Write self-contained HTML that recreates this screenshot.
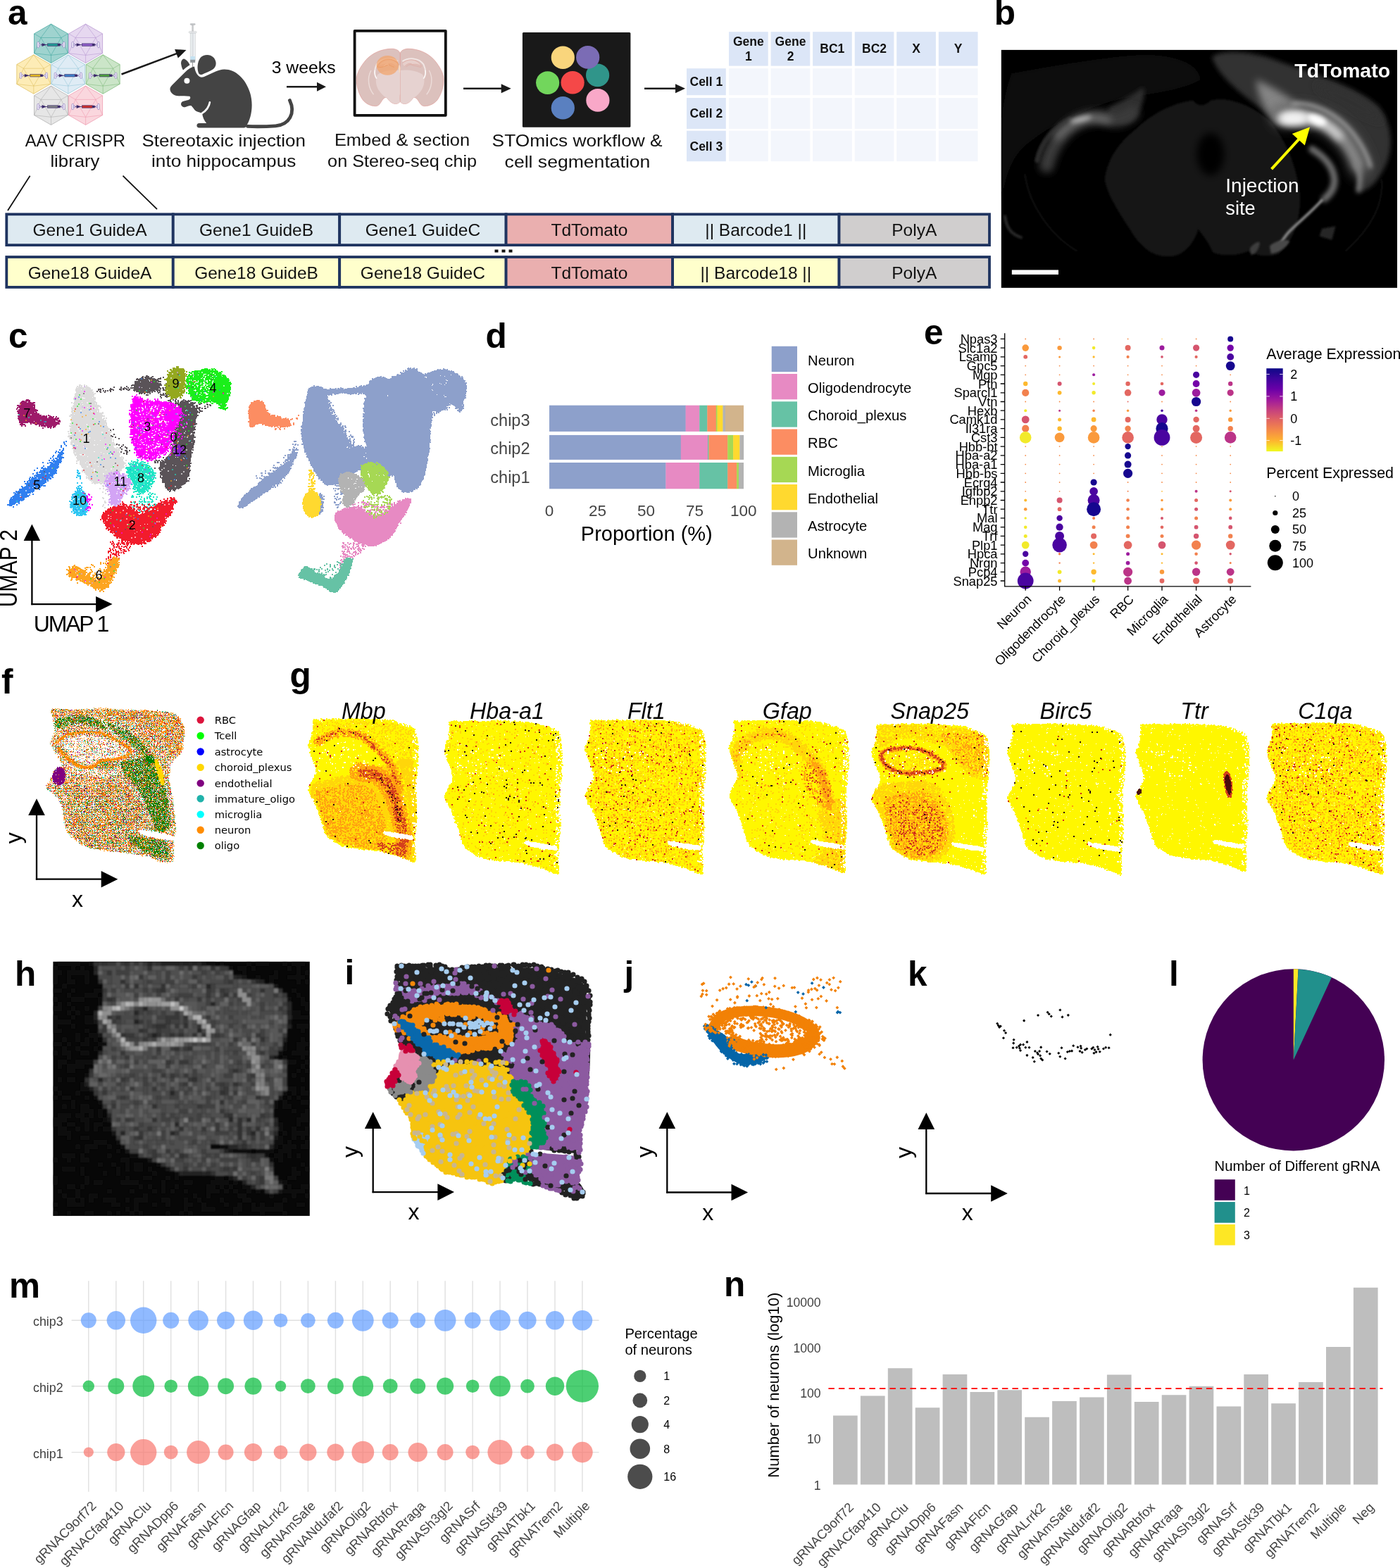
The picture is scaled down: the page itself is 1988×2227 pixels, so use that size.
<!DOCTYPE html>
<html lang="en"><head><meta charset="utf-8"><title>Figure</title>
<style>
html,body{margin:0;padding:0;background:#fff}
svg{display:block;font-family:"Liberation Sans",sans-serif}
</style></head><body>
<svg xmlns="http://www.w3.org/2000/svg" width="1988" height="2227" viewBox="0 0 1988 2227">
<rect width="1988" height="2227" fill="#fff"/>
<g id="pa">
<text x="11" y="35" font-size="49.5" font-weight="bold">a</text>
<g stroke="#3aa39b" stroke-width="0.7" fill="none" stroke-linejoin="round"><path d="M72.5 34.1 L96.5 47.9 L96.5 75.6 L72.5 89.5 L48.5 75.7 L48.5 47.9 Z" fill="#9fd3cf"/><path d="M72.5 34.1L58.1 53.5M72.5 34.1L86.9 53.5M58.1 53.5L86.9 53.5M58.1 53.5L72.5 78.4M86.9 53.5L72.5 78.4M48.5 47.9L58.1 53.5M48.5 75.7L58.1 53.5M48.5 75.7L72.5 78.4M72.5 89.5L72.5 78.4M96.5 75.6L72.5 78.4M96.5 75.6L86.9 53.5M96.5 47.9L86.9 53.5" opacity="0.75"/></g><g><path d="M55.5 63.6H89.5" stroke="#3b2a6b" stroke-width="0.8"/><rect x="52.9" y="59.4" width="2.6" height="8.4" rx="1.3" fill="#f4f0fa" stroke="#8f7cc0" stroke-width="0.7"/><rect x="55.4" y="62.3" width="2.2" height="2.6" fill="#f4f0fa" stroke="#8f7cc0" stroke-width="0.6"/><rect x="89.5" y="59.4" width="2.6" height="8.4" rx="1.3" fill="#f4f0fa" stroke="#8f7cc0" stroke-width="0.7"/><rect x="87.4" y="62.3" width="2.2" height="2.6" fill="#f4f0fa" stroke="#8f7cc0" stroke-width="0.6"/><path d="M59.5 61.2L66 63.6L59.5 66Z" fill="#3b2a6b"/><rect x="67.5" y="61.9" width="14.5" height="3.4" fill="#1f9a94" stroke="#3b2a6b" stroke-width="0.6"/><rect x="82" y="61.8" width="3.6" height="3.6" rx="0.5" fill="#3b2a6b"/></g>
<g stroke="#b391cf" stroke-width="0.7" fill="none" stroke-linejoin="round"><path d="M121.6 34.1 L145.6 47.9 L145.6 75.6 L121.6 89.5 L97.6 75.7 L97.6 47.9 Z" fill="#e6d8f0"/><path d="M121.6 34.1L107.2 53.5M121.6 34.1L136 53.5M107.2 53.5L136 53.5M107.2 53.5L121.6 78.4M136 53.5L121.6 78.4M97.6 47.9L107.2 53.5M97.6 75.7L107.2 53.5M97.6 75.7L121.6 78.4M121.6 89.5L121.6 78.4M145.6 75.6L121.6 78.4M145.6 75.6L136 53.5M145.6 47.9L136 53.5" opacity="0.75"/></g><g><path d="M104.6 63.6H138.6" stroke="#3b2a6b" stroke-width="0.8"/><rect x="102" y="59.4" width="2.6" height="8.4" rx="1.3" fill="#f4f0fa" stroke="#8f7cc0" stroke-width="0.7"/><rect x="104.5" y="62.3" width="2.2" height="2.6" fill="#f4f0fa" stroke="#8f7cc0" stroke-width="0.6"/><rect x="138.6" y="59.4" width="2.6" height="8.4" rx="1.3" fill="#f4f0fa" stroke="#8f7cc0" stroke-width="0.7"/><rect x="136.5" y="62.3" width="2.2" height="2.6" fill="#f4f0fa" stroke="#8f7cc0" stroke-width="0.6"/><path d="M108.6 61.2L115.1 63.6L108.6 66Z" fill="#3b2a6b"/><rect x="116.6" y="61.9" width="14.5" height="3.4" fill="#8c5cc4" stroke="#3b2a6b" stroke-width="0.6"/><rect x="131.1" y="61.8" width="3.6" height="3.6" rx="0.5" fill="#3b2a6b"/></g>
<g stroke="#dcbc58" stroke-width="0.7" fill="none" stroke-linejoin="round"><path d="M47.8 77.8 L71.8 91.6 L71.8 119.3 L47.8 133.2 L23.8 119.4 L23.8 91.6 Z" fill="#fdecb6"/><path d="M47.8 77.8L33.4 97.2M47.8 77.8L62.2 97.2M33.4 97.2L62.2 97.2M33.4 97.2L47.8 122.1M62.2 97.2L47.8 122.1M23.8 91.6L33.4 97.2M23.8 119.4L33.4 97.2M23.8 119.4L47.8 122.1M47.8 133.2L47.8 122.1M71.8 119.3L47.8 122.1M71.8 119.3L62.2 97.2M71.8 91.6L62.2 97.2" opacity="0.75"/></g><g><path d="M30.8 107.3H64.8" stroke="#3b2a6b" stroke-width="0.8"/><rect x="28.2" y="103.1" width="2.6" height="8.4" rx="1.3" fill="#f4f0fa" stroke="#8f7cc0" stroke-width="0.7"/><rect x="30.7" y="106" width="2.2" height="2.6" fill="#f4f0fa" stroke="#8f7cc0" stroke-width="0.6"/><rect x="64.8" y="103.1" width="2.6" height="8.4" rx="1.3" fill="#f4f0fa" stroke="#8f7cc0" stroke-width="0.7"/><rect x="62.7" y="106" width="2.2" height="2.6" fill="#f4f0fa" stroke="#8f7cc0" stroke-width="0.6"/><path d="M34.8 104.9L41.3 107.3L34.8 109.7Z" fill="#3b2a6b"/><rect x="42.8" y="105.6" width="14.5" height="3.4" fill="#e3b722" stroke="#3b2a6b" stroke-width="0.6"/><rect x="57.3" y="105.5" width="3.6" height="3.6" rx="0.5" fill="#3b2a6b"/></g>
<g stroke="#8fc3d6" stroke-width="0.7" fill="none" stroke-linejoin="round"><path d="M96.8 77.8 L120.8 91.6 L120.8 119.3 L96.8 133.2 L72.8 119.4 L72.8 91.6 Z" fill="#dfecf5"/><path d="M96.8 77.8L82.4 97.2M96.8 77.8L111.2 97.2M82.4 97.2L111.2 97.2M82.4 97.2L96.8 122.1M111.2 97.2L96.8 122.1M72.8 91.6L82.4 97.2M72.8 119.4L82.4 97.2M72.8 119.4L96.8 122.1M96.8 133.2L96.8 122.1M120.8 119.3L96.8 122.1M120.8 119.3L111.2 97.2M120.8 91.6L111.2 97.2" opacity="0.75"/></g><g><path d="M79.8 107.3H113.8" stroke="#3b2a6b" stroke-width="0.8"/><rect x="77.2" y="103.1" width="2.6" height="8.4" rx="1.3" fill="#f4f0fa" stroke="#8f7cc0" stroke-width="0.7"/><rect x="79.7" y="106" width="2.2" height="2.6" fill="#f4f0fa" stroke="#8f7cc0" stroke-width="0.6"/><rect x="113.8" y="103.1" width="2.6" height="8.4" rx="1.3" fill="#f4f0fa" stroke="#8f7cc0" stroke-width="0.7"/><rect x="111.7" y="106" width="2.2" height="2.6" fill="#f4f0fa" stroke="#8f7cc0" stroke-width="0.6"/><path d="M83.8 104.9L90.3 107.3L83.8 109.7Z" fill="#3b2a6b"/><rect x="91.8" y="105.6" width="14.5" height="3.4" fill="#3f7fc6" stroke="#3b2a6b" stroke-width="0.6"/><rect x="106.3" y="105.5" width="3.6" height="3.6" rx="0.5" fill="#3b2a6b"/></g>
<g stroke="#79b774" stroke-width="0.7" fill="none" stroke-linejoin="round"><path d="M146.2 77.8 L170.2 91.6 L170.2 119.3 L146.2 133.2 L122.2 119.4 L122.2 91.6 Z" fill="#cbe5c8"/><path d="M146.2 77.8L131.8 97.2M146.2 77.8L160.6 97.2M131.8 97.2L160.6 97.2M131.8 97.2L146.2 122.1M160.6 97.2L146.2 122.1M122.2 91.6L131.8 97.2M122.2 119.4L131.8 97.2M122.2 119.4L146.2 122.1M146.2 133.2L146.2 122.1M170.2 119.3L146.2 122.1M170.2 119.3L160.6 97.2M170.2 91.6L160.6 97.2" opacity="0.75"/></g><g><path d="M129.2 107.3H163.2" stroke="#3b2a6b" stroke-width="0.8"/><rect x="126.6" y="103.1" width="2.6" height="8.4" rx="1.3" fill="#f4f0fa" stroke="#8f7cc0" stroke-width="0.7"/><rect x="129.1" y="106" width="2.2" height="2.6" fill="#f4f0fa" stroke="#8f7cc0" stroke-width="0.6"/><rect x="163.2" y="103.1" width="2.6" height="8.4" rx="1.3" fill="#f4f0fa" stroke="#8f7cc0" stroke-width="0.7"/><rect x="161.1" y="106" width="2.2" height="2.6" fill="#f4f0fa" stroke="#8f7cc0" stroke-width="0.6"/><path d="M133.2 104.9L139.7 107.3L133.2 109.7Z" fill="#3b2a6b"/><rect x="141.2" y="105.6" width="14.5" height="3.4" fill="#4e9e3d" stroke="#3b2a6b" stroke-width="0.6"/><rect x="155.7" y="105.5" width="3.6" height="3.6" rx="0.5" fill="#3b2a6b"/></g>
<g stroke="#a9a9a9" stroke-width="0.7" fill="none" stroke-linejoin="round"><path d="M72.5 122 L96.5 135.8 L96.5 163.5 L72.5 177.4 L48.5 163.6 L48.5 135.8 Z" fill="#e6e6e6"/><path d="M72.5 122L58.1 141.4M72.5 122L86.9 141.4M58.1 141.4L86.9 141.4M58.1 141.4L72.5 166.3M86.9 141.4L72.5 166.3M48.5 135.8L58.1 141.4M48.5 163.6L58.1 141.4M48.5 163.6L72.5 166.3M72.5 177.4L72.5 166.3M96.5 163.5L72.5 166.3M96.5 163.5L86.9 141.4M96.5 135.8L86.9 141.4" opacity="0.75"/></g><g><path d="M55.5 151.5H89.5" stroke="#3b2a6b" stroke-width="0.8"/><rect x="52.9" y="147.3" width="2.6" height="8.4" rx="1.3" fill="#f4f0fa" stroke="#8f7cc0" stroke-width="0.7"/><rect x="55.4" y="150.2" width="2.2" height="2.6" fill="#f4f0fa" stroke="#8f7cc0" stroke-width="0.6"/><rect x="89.5" y="147.3" width="2.6" height="8.4" rx="1.3" fill="#f4f0fa" stroke="#8f7cc0" stroke-width="0.7"/><rect x="87.4" y="150.2" width="2.2" height="2.6" fill="#f4f0fa" stroke="#8f7cc0" stroke-width="0.6"/><path d="M59.5 149.1L66 151.5L59.5 153.9Z" fill="#3b2a6b"/><rect x="67.5" y="149.8" width="14.5" height="3.4" fill="#7d7d86" stroke="#3b2a6b" stroke-width="0.6"/><rect x="82" y="149.7" width="3.6" height="3.6" rx="0.5" fill="#3b2a6b"/></g>
<g stroke="#ee94aa" stroke-width="0.7" fill="none" stroke-linejoin="round"><path d="M121.6 122 L145.6 135.8 L145.6 163.5 L121.6 177.4 L97.6 163.6 L97.6 135.8 Z" fill="#fad7de"/><path d="M121.6 122L107.2 141.4M121.6 122L136 141.4M107.2 141.4L136 141.4M107.2 141.4L121.6 166.3M136 141.4L121.6 166.3M97.6 135.8L107.2 141.4M97.6 163.6L107.2 141.4M97.6 163.6L121.6 166.3M121.6 177.4L121.6 166.3M145.6 163.5L121.6 166.3M145.6 163.5L136 141.4M145.6 135.8L136 141.4" opacity="0.75"/></g><g><path d="M104.6 151.5H138.6" stroke="#3b2a6b" stroke-width="0.8"/><rect x="102" y="147.3" width="2.6" height="8.4" rx="1.3" fill="#f4f0fa" stroke="#8f7cc0" stroke-width="0.7"/><rect x="104.5" y="150.2" width="2.2" height="2.6" fill="#f4f0fa" stroke="#8f7cc0" stroke-width="0.6"/><rect x="138.6" y="147.3" width="2.6" height="8.4" rx="1.3" fill="#f4f0fa" stroke="#8f7cc0" stroke-width="0.7"/><rect x="136.5" y="150.2" width="2.2" height="2.6" fill="#f4f0fa" stroke="#8f7cc0" stroke-width="0.6"/><path d="M108.6 149.1L115.1 151.5L108.6 153.9Z" fill="#3b2a6b"/><rect x="116.6" y="149.8" width="14.5" height="3.4" fill="#c9302f" stroke="#3b2a6b" stroke-width="0.6"/><rect x="131.1" y="149.7" width="3.6" height="3.6" rx="0.5" fill="#3b2a6b"/></g>
<line x1="172.5" y1="105.5" x2="251.4" y2="75.9" stroke="#1a1a1a" stroke-width="2.6"/><path d="M264.5 71L252.8 82.6L248.1 69.9Z" fill="#1a1a1a"/>
<g transform="translate(220 20) scale(0.142857)"><g><line x1="375" y1="470" x2="375" y2="600" stroke="#6a6a6a" stroke-width="5"/><rect x="351" y="94" width="50" height="14" rx="6" fill="#c4c6c8" stroke="#9a9c9e" stroke-width="2"/><rect x="369" y="106" width="13" height="76" fill="#c9cbcd" stroke="#a2a4a6" stroke-width="2"/><rect x="337" y="172" width="77" height="17" rx="8" fill="#eef0f1" stroke="#a8aaac" stroke-width="2.5"/><rect x="351" y="189" width="49" height="272" fill="#eef2f4" stroke="#aab0b4" stroke-width="3"/><rect x="369" y="189" width="13" height="230" fill="#dfe3e6" stroke="#b8bcc0" stroke-width="1.5"/><rect x="353" y="420" width="45" height="36" fill="#c4e2f2"/><rect x="351" y="454" width="49" height="28" fill="#8e9498"/></g><path d="M150 745 C150 728 165 712 182 695 L300 578 C330 548 360 528 392 522 C398 560 412 602 442 622 C455 630 470 630 485 625 L600 573 C630 560 660 550 690 550 C800 550 900 640 945 780 C978 885 968 1025 905 1118 C900 1126 895 1130 885 1130 L440 1130 C408 1130 408 1085 440 1085 L512 1085 C490 1060 474 1022 470 988 C455 978 430 978 408 965 C390 952 380 930 362 912 C345 905 325 920 298 926 C268 926 250 900 264 878 C278 862 310 862 335 852 C352 845 358 828 345 818 C300 815 255 818 215 812 C180 805 150 775 150 745 Z" fill="#444444"/><path d="M545 878 C538 920 505 962 470 985" fill="none" stroke="#fff" stroke-width="19" stroke-linecap="round"/><path d="M262 505 C254 472 268 446 290 444 C316 454 336 480 347 506 C322 522 298 540 281 556 C270 542 265 522 262 505 Z" fill="#444444"/><path d="M433 585 C418 540 420 478 452 434 C484 398 552 394 587 436 C617 476 611 522 581 546 C550 566 502 586 470 600 C450 606 438 600 433 585 Z" fill="#444444"/><path d="M920 1116 C1010 1120 1110 1118 1200 1112 C1335 1100 1400 985 1340 858" fill="none" stroke="#444444" stroke-width="34" stroke-linecap="round"/><circle cx="318" cy="663" r="28" fill="#fff"/></g>
<text x="385.7" y="104.3" font-size="24.5" textLength="90.9" lengthAdjust="spacingAndGlyphs">3 weeks</text>
<line x1="407" y1="123.2" x2="451" y2="123.2" stroke="#1a1a1a" stroke-width="2.4"/><path d="M463 123.2L450 129.7L450 116.7Z" fill="#1a1a1a"/>
<rect x="503.6" y="43.8" width="129.2" height="120" fill="#fff" stroke="#111" stroke-width="3.8" stroke-linejoin="round"/>
<g transform="translate(480 20) scale(0.142857)"><g id="bh"><path d="M617 392 C625 360 660 345 700 345 C800 345 900 390 960 460 C1010 520 1050 590 1050 650 C1050 720 1030 790 990 850 C960 890 910 915 860 915 C830 915 815 890 800 865 C785 840 770 825 750 830 C735 850 715 880 680 890 C655 897 630 890 617 870 Z" fill="#dcc1bd" stroke="#e09a94" stroke-width="4.5"/><path d="M617 560 C680 550 780 560 840 600 C870 640 860 720 820 770 C790 810 760 830 750 832 C735 850 715 880 680 890 C655 897 630 890 617 870 Z" fill="#e6d2d0"/><path d="M640 470 C700 430 800 430 850 500 C880 560 870 620 850 640" fill="none" stroke="#f1e6e4" stroke-width="14"/><path d="M905 560 C950 640 930 740 880 800" fill="none" stroke="#ecdcd9" stroke-width="10"/><path d="M640 490 C690 440 790 440 830 520 C800 500 770 495 740 500 C710 480 680 500 660 520" fill="#e7cfcb" stroke="#e0968c" stroke-width="3"/><path d="M675 525 C700 505 720 495 745 510 C770 515 800 520 825 530" fill="none" stroke="#e0968c" stroke-width="3"/><path d="M850 640 C865 620 875 590 870 560" fill="none" stroke="#fff" stroke-width="7" stroke-linecap="round"/></g><use href="#bh" transform="translate(1234 0) scale(-1 1)"/><path d="M617 800 C612 830 612 850 617 870" stroke="#e3a9a2" stroke-width="3" fill="none"/><ellipse cx="492" cy="510" rx="110" ry="97" fill="#f2a46a" fill-opacity="0.72"/><path d="M392 525 C410 470 470 440 520 450 C560 455 590 480 610 510" fill="none" stroke="#e88a4a" stroke-width="3.5" opacity="0.8"/><path d="M392 525 C440 540 480 510 500 500 C520 515 545 525 560 528" fill="none" stroke="#e88a4a" stroke-width="3.5" opacity="0.8"/><path d="M455 520 C470 500 490 495 505 505" fill="none" stroke="#f6c6a0" stroke-width="5" opacity="0.9"/><path d="M612 500 C600 520 600 560 612 590 C620 560 625 530 612 500Z" fill="#f8dcc0"/></g>
<line x1="658" y1="125.7" x2="712.7" y2="125.7" stroke="#1a1a1a" stroke-width="2.4"/><path d="M725.7 125.7L711.7 132.2L711.7 119.2Z" fill="#1a1a1a"/>
<rect x="741.9" y="46" width="153.5" height="134.7" rx="1.5" fill="#191919"/>
<ellipse cx="799.3" cy="81.7" rx="16.6" ry="16.3" fill="#f9d57c"/>
<ellipse cx="848.6" cy="106.9" rx="16.6" ry="16.3" fill="#30958a"/>
<ellipse cx="834.7" cy="81.4" rx="16.6" ry="16.3" fill="#7b6cb5"/>
<ellipse cx="777.6" cy="117.6" rx="16.6" ry="16.3" fill="#72d65c"/>
<ellipse cx="813.1" cy="117.3" rx="16.6" ry="16.3" fill="#f54848"/>
<ellipse cx="848.9" cy="142.4" rx="16.6" ry="16.3" fill="#f9a8c8"/>
<ellipse cx="799.3" cy="153.3" rx="16.6" ry="16.3" fill="#5a80c0"/>
<line x1="915" y1="125.7" x2="960" y2="125.7" stroke="#1a1a1a" stroke-width="2.4"/><path d="M973 125.7L959 132.2L959 119.2Z" fill="#1a1a1a"/>
<rect x="1035" y="45.2" width="55.7" height="48.4" fill="#dce6f7"/>
<rect x="1094.6" y="45.2" width="55.7" height="48.4" fill="#dce6f7"/>
<rect x="1154.1" y="45.2" width="55.7" height="48.4" fill="#dce6f7"/>
<rect x="1213.7" y="45.2" width="55.7" height="48.4" fill="#dce6f7"/>
<rect x="1273.2" y="45.2" width="55.7" height="48.4" fill="#dce6f7"/>
<rect x="1332.8" y="45.2" width="55.7" height="48.4" fill="#dce6f7"/>
<rect x="975" y="97.2" width="55.8" height="38" fill="#dce6f7"/>
<rect x="1035" y="97.2" width="55.7" height="38" fill="#f3f6fc"/>
<rect x="1094.6" y="97.2" width="55.7" height="38" fill="#f3f6fc"/>
<rect x="1154.1" y="97.2" width="55.7" height="38" fill="#f3f6fc"/>
<rect x="1213.7" y="97.2" width="55.7" height="38" fill="#f3f6fc"/>
<rect x="1273.2" y="97.2" width="55.7" height="38" fill="#f3f6fc"/>
<rect x="1332.8" y="97.2" width="55.7" height="38" fill="#f3f6fc"/>
<rect x="975" y="139" width="55.8" height="44" fill="#dce6f7"/>
<rect x="1035" y="139" width="55.7" height="44" fill="#f3f6fc"/>
<rect x="1094.6" y="139" width="55.7" height="44" fill="#f3f6fc"/>
<rect x="1154.1" y="139" width="55.7" height="44" fill="#f3f6fc"/>
<rect x="1213.7" y="139" width="55.7" height="44" fill="#f3f6fc"/>
<rect x="1273.2" y="139" width="55.7" height="44" fill="#f3f6fc"/>
<rect x="1332.8" y="139" width="55.7" height="44" fill="#f3f6fc"/>
<rect x="975" y="185.7" width="55.8" height="43.5" fill="#dce6f7"/>
<rect x="1035" y="185.7" width="55.7" height="43.5" fill="#f3f6fc"/>
<rect x="1094.6" y="185.7" width="55.7" height="43.5" fill="#f3f6fc"/>
<rect x="1154.1" y="185.7" width="55.7" height="43.5" fill="#f3f6fc"/>
<rect x="1213.7" y="185.7" width="55.7" height="43.5" fill="#f3f6fc"/>
<rect x="1273.2" y="185.7" width="55.7" height="43.5" fill="#f3f6fc"/>
<rect x="1332.8" y="185.7" width="55.7" height="43.5" fill="#f3f6fc"/>
<g font-weight="bold" font-size="17.5" text-anchor="middle" fill="#111">
<text x="1062.9" y="65" font-size="17.5">Gene</text>
<text x="1062.9" y="86" font-size="17.5">1</text>
<text x="1122.5" y="65" font-size="17.5">Gene</text>
<text x="1122.5" y="86" font-size="17.5">2</text>
<text x="1181.8" y="75" font-size="17.5">BC1</text>
<text x="1241.6" y="75" font-size="17.5">BC2</text>
<text x="1301" y="75" font-size="17.5">X</text>
<text x="1360.6" y="75" font-size="17.5">Y</text>
</g>
<g font-weight="bold" font-size="17.5" fill="#111">
<text x="979.5" y="122" font-size="17.5">Cell 1</text>
<text x="979.5" y="167" font-size="17.5">Cell 2</text>
<text x="979.5" y="213.5" font-size="17.5">Cell 3</text>
</g>
<text x="35.7" y="207.6" font-size="24.5" fill="#111" textLength="142.3" lengthAdjust="spacingAndGlyphs">AAV CRISPR</text>
<text x="71.4" y="237.3" font-size="24.5" fill="#111" textLength="70.1" lengthAdjust="spacingAndGlyphs">library</text>
<text x="201.4" y="207.6" font-size="24.5" fill="#111" textLength="232.6" lengthAdjust="spacingAndGlyphs">Stereotaxic injection</text>
<text x="215" y="237.3" font-size="24.5" fill="#111" textLength="205.3" lengthAdjust="spacingAndGlyphs">into hippocampus</text>
<text x="474.9" y="207.3" font-size="24.5" fill="#111" textLength="192.2" lengthAdjust="spacingAndGlyphs">Embed &amp; section</text>
<text x="465.1" y="237.3" font-size="24.5" fill="#111" textLength="212" lengthAdjust="spacingAndGlyphs">on Stereo-seq chip</text>
<text x="698.6" y="207.6" font-size="24.5" fill="#111" textLength="242" lengthAdjust="spacingAndGlyphs">STOmics workflow &amp;</text>
<text x="716.6" y="237.6" font-size="24.5" fill="#111" textLength="206.8" lengthAdjust="spacingAndGlyphs">cell segmentation</text>
<path d="M42.6 249.7L11 299.1M174.5 249.7L223 297.2" stroke="#111" stroke-width="1.8"/>
<rect x="9.3" y="304.3" width="236.4" height="43.8" fill="#deeaf1" stroke="#1f3460" stroke-width="3.8"/>
<text x="127.5" y="334.8" font-size="24.5" text-anchor="middle" fill="#111">Gene1 GuideA</text>
<rect x="245.8" y="304.3" width="236.4" height="43.8" fill="#deeaf1" stroke="#1f3460" stroke-width="3.8"/>
<text x="364" y="334.8" font-size="24.5" text-anchor="middle" fill="#111">Gene1 GuideB</text>
<rect x="482.2" y="304.3" width="236.4" height="43.8" fill="#deeaf1" stroke="#1f3460" stroke-width="3.8"/>
<text x="600.4" y="334.8" font-size="24.5" text-anchor="middle" fill="#111">Gene1 GuideC</text>
<rect x="718.6" y="304.3" width="236.5" height="43.8" fill="#eaafaf" stroke="#1f3460" stroke-width="3.8"/>
<text x="836.9" y="334.8" font-size="24.5" text-anchor="middle" fill="#111">TdTomato</text>
<rect x="955.1" y="304.3" width="236.5" height="43.8" fill="#deeaf1" stroke="#1f3460" stroke-width="3.8"/>
<text x="1073.3" y="334.8" font-size="24.5" text-anchor="middle" fill="#111">|| Barcode1 ||</text>
<rect x="1191.5" y="304.3" width="213.5" height="43.8" fill="#d0cece" stroke="#1f3460" stroke-width="3.8"/>
<text x="1298.3" y="334.8" font-size="24.5" text-anchor="middle" fill="#111">PolyA</text>
<rect x="9.3" y="365" width="236.4" height="42.9" fill="#ffffcc" stroke="#1f3460" stroke-width="3.8"/>
<text x="127.5" y="395.5" font-size="24.5" text-anchor="middle" fill="#111">Gene18 GuideA</text>
<rect x="245.8" y="365" width="236.4" height="42.9" fill="#ffffcc" stroke="#1f3460" stroke-width="3.8"/>
<text x="364" y="395.5" font-size="24.5" text-anchor="middle" fill="#111">Gene18 GuideB</text>
<rect x="482.2" y="365" width="236.4" height="42.9" fill="#ffffcc" stroke="#1f3460" stroke-width="3.8"/>
<text x="600.4" y="395.5" font-size="24.5" text-anchor="middle" fill="#111">Gene18 GuideC</text>
<rect x="718.6" y="365" width="236.5" height="42.9" fill="#eaafaf" stroke="#1f3460" stroke-width="3.8"/>
<text x="836.9" y="395.5" font-size="24.5" text-anchor="middle" fill="#111">TdTomato</text>
<rect x="955.1" y="365" width="236.5" height="42.9" fill="#ffffcc" stroke="#1f3460" stroke-width="3.8"/>
<text x="1073.3" y="395.5" font-size="24.5" text-anchor="middle" fill="#111">|| Barcode18 ||</text>
<rect x="1191.5" y="365" width="213.5" height="42.9" fill="#d0cece" stroke="#1f3460" stroke-width="3.8"/>
<text x="1298.3" y="395.5" font-size="24.5" text-anchor="middle" fill="#111">PolyA</text>
<path d="M702.5 354.4h5v4h-5zM712.5 354.4h5v4h-5zM722.5 354.4h5v4h-5z" fill="#111"/>
</g>
<g id="pb">
<text x="1411.7" y="34.9" font-size="49.5" font-weight="bold">b</text>
<defs><clipPath id="bclip"><rect x="1421.8" y="70.9" width="562.2" height="337.9"/></clipPath>
<filter id="b5" filterUnits="userSpaceOnUse" x="-1500" y="-800" width="5000" height="3600"><feGaussianBlur stdDeviation="5"/></filter>
<filter id="b10" filterUnits="userSpaceOnUse" x="-1500" y="-800" width="5000" height="3600"><feGaussianBlur stdDeviation="10"/></filter>
<filter id="b18" filterUnits="userSpaceOnUse" x="-1500" y="-800" width="5000" height="3600"><feGaussianBlur stdDeviation="18"/></filter>
<filter id="b30" filterUnits="userSpaceOnUse" x="-1500" y="-800" width="5000" height="3600"><feGaussianBlur stdDeviation="30"/></filter>
<filter id="b50" filterUnits="userSpaceOnUse" x="-1500" y="-800" width="5000" height="3600"><feGaussianBlur stdDeviation="50"/></filter>
<filter id="bnoise" filterUnits="userSpaceOnUse" x="1421" y="70" width="564" height="340"><feTurbulence type="fractalNoise" baseFrequency="0.35" numOctaves="2" seed="7" result="n"/><feColorMatrix in="n" type="matrix" values="0 0 0 0 1  0 0 0 0 1  0 0 0 0 1  1.6 0 0 0 -0.55" result="m"/><feComposite in="m" in2="SourceGraphic" operator="in"/></filter>
</defs>
<rect x="1421.8" y="70.9" width="562.2" height="337.9" fill="#000"/>
<g clip-path="url(#bclip)">
<g transform="translate(1560 60) scale(0.17658)">
<path d="M300 700 C400 600 600 480 760 470 C800 520 850 520 900 470 C1050 430 1250 520 1380 640 C1500 780 1600 1000 1620 1250 C1620 1450 1560 1600 1450 1700 C1380 1730 1280 1720 1200 1680 C1100 1720 1000 1720 920 1690 C880 1600 840 1560 800 1500 C780 1600 700 1700 600 1720 C480 1740 350 1680 250 1500 C150 1350 60 1200 50 1100 C80 900 200 780 300 700 Z" fill="#141414" filter="url(#b10)"/>
<ellipse cx="900" cy="900" rx="110" ry="170" fill="#060606" filter="url(#b30)"/>
<path d="M-700 250 C-400 200 0 120 350 100 C600 100 800 160 820 300 C700 380 400 420 200 450 C0 500 -300 600 -550 800 C-700 900 -760 1100 -780 1300 C-820 1000 -800 500 -700 250Z" fill="#0c0c0c" filter="url(#b18)"/>
</g>
<g transform="translate(1420 60) scale(0.17658)">
<path d="M880 520 C960 480 1080 420 1150 360 C1180 450 1120 580 1050 640 C980 660 900 640 860 620Z" fill="#2e2e2e" filter="url(#b18)"/>
<path d="M375 990 C400 860 480 740 580 670 C680 600 800 590 900 620 C960 630 1020 600 1060 570" fill="none" stroke="#3a3a3a" stroke-width="120" stroke-linecap="round" filter="url(#b30)"/>
<path d="M300 950 C330 800 440 680 560 620" fill="none" stroke="#2a2a2a" stroke-width="40" stroke-linecap="round" filter="url(#b10)"/>
<path d="M460 760 C530 680 620 630 700 612 C760 602 820 612 870 630" fill="none" stroke="#747474" stroke-width="46" stroke-linecap="round" filter="url(#b30)"/>
<ellipse cx="650" cy="620" rx="90" ry="20" transform="rotate(-14 650 620)" fill="#b4b4b4" filter="url(#b18)"/>
<path d="M200 1060 C230 1300 400 1550 620 1680" fill="none" stroke="#1c1c1c" stroke-width="8" filter="url(#b5)"/>
<path d="M40 1400 C50 1480 80 1540 170 1570" fill="none" stroke="#2c2c2c" stroke-width="22" stroke-linecap="round" filter="url(#b10)"/>
</g>
<g transform="translate(1690 60) scale(0.17655)">
<path d="M175 120 C260 50 520 70 760 170 C1000 250 1350 360 1520 520 C1640 680 1640 900 1540 1050 C1480 1150 1420 1200 1360 1200 C1380 1000 1250 800 1050 700 C900 720 780 700 700 640 C520 480 250 330 175 120Z" fill="#323232" filter="url(#b18)"/>
<path d="M1000 330 C1250 380 1450 480 1560 640 C1500 650 1400 600 1250 520 C1150 470 1050 430 1000 330Z" fill="#303030" filter="url(#b30)"/>
<path d="M530 300 C660 360 790 430 880 520 C840 610 740 650 670 625 C590 540 540 420 530 300Z" fill="#858585" filter="url(#b30)"/>
<path d="M740 600 C860 570 1000 590 1120 660 C1240 740 1330 860 1370 1010" fill="none" stroke="#5a5a5a" stroke-width="160" stroke-linecap="round" filter="url(#b50)"/>
<path d="M720 610 C850 580 990 600 1110 670 C1220 740 1300 850 1350 990" fill="none" stroke="#8c8c8c" stroke-width="75" stroke-linecap="round" filter="url(#b30)"/>
<path d="M760 610 C880 585 1000 610 1090 665 C1140 695 1170 725 1200 760" fill="none" stroke="#dcdcdc" stroke-width="60" stroke-linecap="round" filter="url(#b30)"/>
<ellipse cx="830" cy="615" rx="120" ry="55" fill="#f4f4f4" filter="url(#b30)"/>
<ellipse cx="1020" cy="625" rx="80" ry="38" transform="rotate(22 1020 625)" fill="#fff" filter="url(#b18)"/>
<path d="M830 495 C1000 480 1180 580 1300 720 C1380 820 1430 920 1450 1000" fill="none" stroke="#a0a0a0" stroke-width="30" stroke-linecap="round" filter="url(#b18)"/>
<path d="M1340 980 C1370 1050 1370 1120 1355 1190" fill="none" stroke="#808080" stroke-width="40" stroke-linecap="round" filter="url(#b18)"/>
<path d="M820 760 C950 760 1080 860 1180 1000" fill="none" stroke="#000" stroke-opacity="0.55" stroke-width="70" filter="url(#b30)"/>
<path d="M980 860 C1080 920 1150 1000 1160 1100 C1165 1170 1130 1220 1080 1260" fill="none" stroke="#6c6c6c" stroke-width="55" stroke-linecap="round" filter="url(#b18)"/>
<path d="M1060 1270 C980 1360 880 1440 800 1520 C760 1560 740 1600 700 1660" fill="none" stroke="#8a8a8a" stroke-width="22" stroke-linecap="round" filter="url(#b10)"/>
<path d="M640 1640 C680 1600 760 1580 800 1600 C780 1650 700 1700 650 1700Z" fill="#4a4a4a" filter="url(#b10)"/>
<path d="M480 1660 C510 1620 540 1600 560 1610 C560 1660 520 1710 490 1710Z" fill="#3c3c3c" filter="url(#b10)"/>
<path d="M1040 1560 L1060 1500 L1170 1480 L1140 1590 Z" fill="#262626" filter="url(#b10)"/>
<path d="M1540 1100 C1560 1300 1450 1500 1250 1680" fill="none" stroke="#181818" stroke-width="8" filter="url(#b5)"/>
</g>
</g>
<text x="1838.3" y="110.3" font-size="27" font-weight="bold" fill="#fff" textLength="135.9" lengthAdjust="spacingAndGlyphs">TdTomato</text>
<text x="1740.3" y="272.7" font-size="27" fill="#fff" textLength="104.2" lengthAdjust="spacingAndGlyphs">Injection</text>
<text x="1740.3" y="304.5" font-size="27" fill="#fff" textLength="42.4" lengthAdjust="spacingAndGlyphs">site</text>
<line x1="1805.6" y1="240.1" x2="1844.5" y2="197.6" stroke="#ffff00" stroke-width="3.9"/><path d="M1860 180.6L1852.8 206.6L1834.8 190Z" fill="#ffff00"/>
<rect x="1436.8" y="383.4" width="66.2" height="6.5" fill="#fff"/>
</g>
<g id="pc">
<text x="12" y="494.3" font-size="49.5" font-weight="bold">c</text>
<defs>
<filter id="c1_1" filterUnits="userSpaceOnUse" x="0" y="510" width="340" height="350" color-interpolation-filters="sRGB"><feGaussianBlur in="SourceAlpha" stdDeviation="2.4" result="b"/><feTurbulence type="fractalNoise" baseFrequency="1.73" numOctaves="1" seed="2" result="n"/><feComposite in="b" in2="n" operator="arithmetic" k1="0" k2="1" k3="-1.4" k4="0.6699999999999999"/><feComponentTransfer result="t"><feFuncA type="discrete" tableValues="0 1"/></feComponentTransfer><feOffset in="t" dx="1" dy="0" result="o1"/><feMerge result="m1"><feMergeNode in="t"/><feMergeNode in="o1"/></feMerge><feOffset in="m1" dx="0" dy="1" result="o2"/><feMerge result="t"><feMergeNode in="m1"/><feMergeNode in="o2"/></feMerge><feFlood flood-color="#dddcdc"/><feComposite in2="t" operator="in"/></filter>
<filter id="c1_5" filterUnits="userSpaceOnUse" x="0" y="510" width="340" height="350" color-interpolation-filters="sRGB"><feGaussianBlur in="SourceAlpha" stdDeviation="2.4" result="b"/><feTurbulence type="fractalNoise" baseFrequency="1.73" numOctaves="1" seed="6" result="n"/><feComposite in="b" in2="n" operator="arithmetic" k1="0" k2="1" k3="-1.4" k4="0.6699999999999999"/><feComponentTransfer result="t"><feFuncA type="discrete" tableValues="0 1"/></feComponentTransfer><feOffset in="t" dx="1" dy="0" result="o1"/><feMerge result="m1"><feMergeNode in="t"/><feMergeNode in="o1"/></feMerge><feOffset in="m1" dx="0" dy="1" result="o2"/><feMerge result="t"><feMergeNode in="m1"/><feMergeNode in="o2"/></feMerge><feFlood flood-color="#2f7ff0"/><feComposite in2="t" operator="in"/></filter>
<filter id="c1_7" filterUnits="userSpaceOnUse" x="0" y="510" width="340" height="350" color-interpolation-filters="sRGB"><feGaussianBlur in="SourceAlpha" stdDeviation="2.4" result="b"/><feTurbulence type="fractalNoise" baseFrequency="1.73" numOctaves="1" seed="8" result="n"/><feComposite in="b" in2="n" operator="arithmetic" k1="0" k2="1" k3="-1.4" k4="0.6699999999999999"/><feComponentTransfer result="t"><feFuncA type="discrete" tableValues="0 1"/></feComponentTransfer><feOffset in="t" dx="1" dy="0" result="o1"/><feMerge result="m1"><feMergeNode in="t"/><feMergeNode in="o1"/></feMerge><feOffset in="m1" dx="0" dy="1" result="o2"/><feMerge result="t"><feMergeNode in="m1"/><feMergeNode in="o2"/></feMerge><feFlood flood-color="#9e1a6a"/><feComposite in2="t" operator="in"/></filter>
<filter id="c1_10" filterUnits="userSpaceOnUse" x="0" y="510" width="340" height="350" color-interpolation-filters="sRGB"><feGaussianBlur in="SourceAlpha" stdDeviation="2.4" result="b"/><feTurbulence type="fractalNoise" baseFrequency="1.73" numOctaves="1" seed="11" result="n"/><feComposite in="b" in2="n" operator="arithmetic" k1="0" k2="1" k3="-1.4" k4="0.6699999999999999"/><feComponentTransfer result="t"><feFuncA type="discrete" tableValues="0 1"/></feComponentTransfer><feOffset in="t" dx="1" dy="0" result="o1"/><feMerge result="m1"><feMergeNode in="t"/><feMergeNode in="o1"/></feMerge><feOffset in="m1" dx="0" dy="1" result="o2"/><feMerge result="t"><feMergeNode in="m1"/><feMergeNode in="o2"/></feMerge><feFlood flood-color="#2ec6f2"/><feComposite in2="t" operator="in"/></filter>
<filter id="c1_3" filterUnits="userSpaceOnUse" x="0" y="510" width="340" height="350" color-interpolation-filters="sRGB"><feGaussianBlur in="SourceAlpha" stdDeviation="2.4" result="b"/><feTurbulence type="fractalNoise" baseFrequency="1.73" numOctaves="1" seed="4" result="n"/><feComposite in="b" in2="n" operator="arithmetic" k1="0" k2="1" k3="-1.4" k4="0.6699999999999999"/><feComponentTransfer result="t"><feFuncA type="discrete" tableValues="0 1"/></feComponentTransfer><feOffset in="t" dx="1" dy="0" result="o1"/><feMerge result="m1"><feMergeNode in="t"/><feMergeNode in="o1"/></feMerge><feOffset in="m1" dx="0" dy="1" result="o2"/><feMerge result="t"><feMergeNode in="m1"/><feMergeNode in="o2"/></feMerge><feFlood flood-color="#ff00ff"/><feComposite in2="t" operator="in"/></filter>
<filter id="c1_0" filterUnits="userSpaceOnUse" x="0" y="510" width="340" height="350" color-interpolation-filters="sRGB"><feGaussianBlur in="SourceAlpha" stdDeviation="2.4" result="b"/><feTurbulence type="fractalNoise" baseFrequency="1.73" numOctaves="1" seed="1" result="n"/><feComposite in="b" in2="n" operator="arithmetic" k1="0" k2="1" k3="-1.4" k4="0.6699999999999999"/><feComponentTransfer result="t"><feFuncA type="discrete" tableValues="0 1"/></feComponentTransfer><feOffset in="t" dx="1" dy="0" result="o1"/><feMerge result="m1"><feMergeNode in="t"/><feMergeNode in="o1"/></feMerge><feOffset in="m1" dx="0" dy="1" result="o2"/><feMerge result="t"><feMergeNode in="m1"/><feMergeNode in="o2"/></feMerge><feFlood flood-color="#5a5358"/><feComposite in2="t" operator="in"/></filter>
<filter id="c1_9" filterUnits="userSpaceOnUse" x="0" y="510" width="340" height="350" color-interpolation-filters="sRGB"><feGaussianBlur in="SourceAlpha" stdDeviation="2.4" result="b"/><feTurbulence type="fractalNoise" baseFrequency="1.73" numOctaves="1" seed="10" result="n"/><feComposite in="b" in2="n" operator="arithmetic" k1="0" k2="1" k3="-1.4" k4="0.6699999999999999"/><feComponentTransfer result="t"><feFuncA type="discrete" tableValues="0 1"/></feComponentTransfer><feOffset in="t" dx="1" dy="0" result="o1"/><feMerge result="m1"><feMergeNode in="t"/><feMergeNode in="o1"/></feMerge><feOffset in="m1" dx="0" dy="1" result="o2"/><feMerge result="t"><feMergeNode in="m1"/><feMergeNode in="o2"/></feMerge><feFlood flood-color="#94a81f"/><feComposite in2="t" operator="in"/></filter>
<filter id="c1_4" filterUnits="userSpaceOnUse" x="0" y="510" width="340" height="350" color-interpolation-filters="sRGB"><feGaussianBlur in="SourceAlpha" stdDeviation="2.4" result="b"/><feTurbulence type="fractalNoise" baseFrequency="1.73" numOctaves="1" seed="5" result="n"/><feComposite in="b" in2="n" operator="arithmetic" k1="0" k2="1" k3="-1.4" k4="0.6699999999999999"/><feComponentTransfer result="t"><feFuncA type="discrete" tableValues="0 1"/></feComponentTransfer><feOffset in="t" dx="1" dy="0" result="o1"/><feMerge result="m1"><feMergeNode in="t"/><feMergeNode in="o1"/></feMerge><feOffset in="m1" dx="0" dy="1" result="o2"/><feMerge result="t"><feMergeNode in="m1"/><feMergeNode in="o2"/></feMerge><feFlood flood-color="#1aef1a"/><feComposite in2="t" operator="in"/></filter>
<filter id="c1_12" filterUnits="userSpaceOnUse" x="0" y="510" width="340" height="350" color-interpolation-filters="sRGB"><feGaussianBlur in="SourceAlpha" stdDeviation="2.4" result="b"/><feTurbulence type="fractalNoise" baseFrequency="1.73" numOctaves="1" seed="13" result="n"/><feComposite in="b" in2="n" operator="arithmetic" k1="0" k2="1" k3="-1.4" k4="0.6699999999999999"/><feComponentTransfer result="t"><feFuncA type="discrete" tableValues="0 1"/></feComponentTransfer><feOffset in="t" dx="1" dy="0" result="o1"/><feMerge result="m1"><feMergeNode in="t"/><feMergeNode in="o1"/></feMerge><feOffset in="m1" dx="0" dy="1" result="o2"/><feMerge result="t"><feMergeNode in="m1"/><feMergeNode in="o2"/></feMerge><feFlood flood-color="#8a22c8"/><feComposite in2="t" operator="in"/></filter>
<filter id="c1_8" filterUnits="userSpaceOnUse" x="0" y="510" width="340" height="350" color-interpolation-filters="sRGB"><feGaussianBlur in="SourceAlpha" stdDeviation="2.4" result="b"/><feTurbulence type="fractalNoise" baseFrequency="1.73" numOctaves="1" seed="9" result="n"/><feComposite in="b" in2="n" operator="arithmetic" k1="0" k2="1" k3="-1.4" k4="0.6699999999999999"/><feComponentTransfer result="t"><feFuncA type="discrete" tableValues="0 1"/></feComponentTransfer><feOffset in="t" dx="1" dy="0" result="o1"/><feMerge result="m1"><feMergeNode in="t"/><feMergeNode in="o1"/></feMerge><feOffset in="m1" dx="0" dy="1" result="o2"/><feMerge result="t"><feMergeNode in="m1"/><feMergeNode in="o2"/></feMerge><feFlood flood-color="#1fe5c5"/><feComposite in2="t" operator="in"/></filter>
<filter id="c1_11" filterUnits="userSpaceOnUse" x="0" y="510" width="340" height="350" color-interpolation-filters="sRGB"><feGaussianBlur in="SourceAlpha" stdDeviation="2.4" result="b"/><feTurbulence type="fractalNoise" baseFrequency="1.73" numOctaves="1" seed="12" result="n"/><feComposite in="b" in2="n" operator="arithmetic" k1="0" k2="1" k3="-1.4" k4="0.6699999999999999"/><feComponentTransfer result="t"><feFuncA type="discrete" tableValues="0 1"/></feComponentTransfer><feOffset in="t" dx="1" dy="0" result="o1"/><feMerge result="m1"><feMergeNode in="t"/><feMergeNode in="o1"/></feMerge><feOffset in="m1" dx="0" dy="1" result="o2"/><feMerge result="t"><feMergeNode in="m1"/><feMergeNode in="o2"/></feMerge><feFlood flood-color="#d3a4f5"/><feComposite in2="t" operator="in"/></filter>
<filter id="c1_2" filterUnits="userSpaceOnUse" x="0" y="510" width="340" height="350" color-interpolation-filters="sRGB"><feGaussianBlur in="SourceAlpha" stdDeviation="2.4" result="b"/><feTurbulence type="fractalNoise" baseFrequency="1.73" numOctaves="1" seed="3" result="n"/><feComposite in="b" in2="n" operator="arithmetic" k1="0" k2="1" k3="-1.4" k4="0.6699999999999999"/><feComponentTransfer result="t"><feFuncA type="discrete" tableValues="0 1"/></feComponentTransfer><feOffset in="t" dx="1" dy="0" result="o1"/><feMerge result="m1"><feMergeNode in="t"/><feMergeNode in="o1"/></feMerge><feOffset in="m1" dx="0" dy="1" result="o2"/><feMerge result="t"><feMergeNode in="m1"/><feMergeNode in="o2"/></feMerge><feFlood flood-color="#f21c2c"/><feComposite in2="t" operator="in"/></filter>
<filter id="c1_6" filterUnits="userSpaceOnUse" x="0" y="510" width="340" height="350" color-interpolation-filters="sRGB"><feGaussianBlur in="SourceAlpha" stdDeviation="2.4" result="b"/><feTurbulence type="fractalNoise" baseFrequency="1.73" numOctaves="1" seed="7" result="n"/><feComposite in="b" in2="n" operator="arithmetic" k1="0" k2="1" k3="-1.4" k4="0.6699999999999999"/><feComponentTransfer result="t"><feFuncA type="discrete" tableValues="0 1"/></feComponentTransfer><feOffset in="t" dx="1" dy="0" result="o1"/><feMerge result="m1"><feMergeNode in="t"/><feMergeNode in="o1"/></feMerge><feOffset in="m1" dx="0" dy="1" result="o2"/><feMerge result="t"><feMergeNode in="m1"/><feMergeNode in="o2"/></feMerge><feFlood flood-color="#fda520"/><feComposite in2="t" operator="in"/></filter>
<filter id="c2_N" filterUnits="userSpaceOnUse" x="330" y="510" width="345" height="350" color-interpolation-filters="sRGB"><feGaussianBlur in="SourceAlpha" stdDeviation="1.8" result="b"/><feTurbulence type="fractalNoise" baseFrequency="1.73" numOctaves="1" seed="20" result="n"/><feComposite in="b" in2="n" operator="arithmetic" k1="0" k2="1" k3="-1.4" k4="0.6699999999999999"/><feComponentTransfer result="t"><feFuncA type="discrete" tableValues="0 1"/></feComponentTransfer><feOffset in="t" dx="1" dy="0" result="o1"/><feMerge result="m1"><feMergeNode in="t"/><feMergeNode in="o1"/></feMerge><feOffset in="m1" dx="0" dy="1" result="o2"/><feMerge result="t"><feMergeNode in="m1"/><feMergeNode in="o2"/></feMerge><feFlood flood-color="#8da0cb"/><feComposite in2="t" operator="in"/></filter>
<filter id="c2_O" filterUnits="userSpaceOnUse" x="330" y="510" width="345" height="350" color-interpolation-filters="sRGB"><feGaussianBlur in="SourceAlpha" stdDeviation="1.8" result="b"/><feTurbulence type="fractalNoise" baseFrequency="1.73" numOctaves="1" seed="21" result="n"/><feComposite in="b" in2="n" operator="arithmetic" k1="0" k2="1" k3="-1.4" k4="0.6699999999999999"/><feComponentTransfer result="t"><feFuncA type="discrete" tableValues="0 1"/></feComponentTransfer><feOffset in="t" dx="1" dy="0" result="o1"/><feMerge result="m1"><feMergeNode in="t"/><feMergeNode in="o1"/></feMerge><feOffset in="m1" dx="0" dy="1" result="o2"/><feMerge result="t"><feMergeNode in="m1"/><feMergeNode in="o2"/></feMerge><feFlood flood-color="#e78ac3"/><feComposite in2="t" operator="in"/></filter>
<filter id="c2_C" filterUnits="userSpaceOnUse" x="330" y="510" width="345" height="350" color-interpolation-filters="sRGB"><feGaussianBlur in="SourceAlpha" stdDeviation="1.8" result="b"/><feTurbulence type="fractalNoise" baseFrequency="1.73" numOctaves="1" seed="22" result="n"/><feComposite in="b" in2="n" operator="arithmetic" k1="0" k2="1" k3="-1.4" k4="0.6699999999999999"/><feComponentTransfer result="t"><feFuncA type="discrete" tableValues="0 1"/></feComponentTransfer><feOffset in="t" dx="1" dy="0" result="o1"/><feMerge result="m1"><feMergeNode in="t"/><feMergeNode in="o1"/></feMerge><feOffset in="m1" dx="0" dy="1" result="o2"/><feMerge result="t"><feMergeNode in="m1"/><feMergeNode in="o2"/></feMerge><feFlood flood-color="#66c2a5"/><feComposite in2="t" operator="in"/></filter>
<filter id="c2_R" filterUnits="userSpaceOnUse" x="330" y="510" width="345" height="350" color-interpolation-filters="sRGB"><feGaussianBlur in="SourceAlpha" stdDeviation="1.8" result="b"/><feTurbulence type="fractalNoise" baseFrequency="1.73" numOctaves="1" seed="23" result="n"/><feComposite in="b" in2="n" operator="arithmetic" k1="0" k2="1" k3="-1.4" k4="0.6699999999999999"/><feComponentTransfer result="t"><feFuncA type="discrete" tableValues="0 1"/></feComponentTransfer><feOffset in="t" dx="1" dy="0" result="o1"/><feMerge result="m1"><feMergeNode in="t"/><feMergeNode in="o1"/></feMerge><feOffset in="m1" dx="0" dy="1" result="o2"/><feMerge result="t"><feMergeNode in="m1"/><feMergeNode in="o2"/></feMerge><feFlood flood-color="#fc8d62"/><feComposite in2="t" operator="in"/></filter>
<filter id="c2_M" filterUnits="userSpaceOnUse" x="330" y="510" width="345" height="350" color-interpolation-filters="sRGB"><feGaussianBlur in="SourceAlpha" stdDeviation="1.8" result="b"/><feTurbulence type="fractalNoise" baseFrequency="1.73" numOctaves="1" seed="24" result="n"/><feComposite in="b" in2="n" operator="arithmetic" k1="0" k2="1" k3="-1.4" k4="0.6699999999999999"/><feComponentTransfer result="t"><feFuncA type="discrete" tableValues="0 1"/></feComponentTransfer><feOffset in="t" dx="1" dy="0" result="o1"/><feMerge result="m1"><feMergeNode in="t"/><feMergeNode in="o1"/></feMerge><feOffset in="m1" dx="0" dy="1" result="o2"/><feMerge result="t"><feMergeNode in="m1"/><feMergeNode in="o2"/></feMerge><feFlood flood-color="#a6d854"/><feComposite in2="t" operator="in"/></filter>
<filter id="c2_E" filterUnits="userSpaceOnUse" x="330" y="510" width="345" height="350" color-interpolation-filters="sRGB"><feGaussianBlur in="SourceAlpha" stdDeviation="1.8" result="b"/><feTurbulence type="fractalNoise" baseFrequency="1.73" numOctaves="1" seed="25" result="n"/><feComposite in="b" in2="n" operator="arithmetic" k1="0" k2="1" k3="-1.4" k4="0.6699999999999999"/><feComponentTransfer result="t"><feFuncA type="discrete" tableValues="0 1"/></feComponentTransfer><feOffset in="t" dx="1" dy="0" result="o1"/><feMerge result="m1"><feMergeNode in="t"/><feMergeNode in="o1"/></feMerge><feOffset in="m1" dx="0" dy="1" result="o2"/><feMerge result="t"><feMergeNode in="m1"/><feMergeNode in="o2"/></feMerge><feFlood flood-color="#ffd92f"/><feComposite in2="t" operator="in"/></filter>
<filter id="c2_A" filterUnits="userSpaceOnUse" x="330" y="510" width="345" height="350" color-interpolation-filters="sRGB"><feGaussianBlur in="SourceAlpha" stdDeviation="1.8" result="b"/><feTurbulence type="fractalNoise" baseFrequency="1.73" numOctaves="1" seed="26" result="n"/><feComposite in="b" in2="n" operator="arithmetic" k1="0" k2="1" k3="-1.4" k4="0.6699999999999999"/><feComponentTransfer result="t"><feFuncA type="discrete" tableValues="0 1"/></feComponentTransfer><feOffset in="t" dx="1" dy="0" result="o1"/><feMerge result="m1"><feMergeNode in="t"/><feMergeNode in="o1"/></feMerge><feOffset in="m1" dx="0" dy="1" result="o2"/><feMerge result="t"><feMergeNode in="m1"/><feMergeNode in="o2"/></feMerge><feFlood flood-color="#b3b3b3"/><feComposite in2="t" operator="in"/></filter>
</defs>
<g filter="url(#c1_1)"><path d="M110.6 549.8C113.4 546.6 118.4 548 121.6 548.5C124.8 548.9 128.2 549.8 129.8 552.6C131.4 555.3 130.3 560.1 131.2 564.9C132.1 569.8 133 575.9 135.3 581.4C137.6 586.9 142.2 592.4 144.9 597.9C147.7 603.4 149.5 608.4 151.8 614.4C154.1 620.3 156.2 628.1 158.7 633.6C161.2 639.1 164.6 642.8 166.9 647.4C169.2 651.9 172.4 657 172.4 661.1C172.4 665.2 169.9 669.8 166.9 672.1C163.9 674.4 158.2 673 154.6 674.8C150.9 676.7 148.4 681.2 144.9 683.1C141.5 684.9 137.4 686.7 134 685.8C130.5 684.9 127.5 681.7 124.3 677.6C121.1 673.5 117.9 667.3 114.7 661.1C111.5 654.9 107.6 647.4 105.1 640.5C102.6 633.6 100.3 627.9 99.6 619.9C98.9 611.9 100.1 601.1 101 592.4C101.9 583.7 103.5 574.8 105.1 567.7C106.7 560.6 107.9 553 110.6 549.8Z" fill-opacity="0.592" stroke="#000" stroke-width="7" stroke-opacity="0.308"/><path d="M129.8 555.3C131 554.6 136.5 562.4 139.5 567.7C142.4 573 144.9 580.5 147.7 586.9C150.4 593.3 152.7 599.3 155.9 606.2C159.1 613 163.3 621.7 166.9 628.1C170.6 634.5 175.6 639.6 177.9 644.6C180.2 649.7 181.6 655.1 180.7 658.4C179.7 661.6 175.6 666.6 172.4 663.8C169.2 661.1 165.1 649.7 161.4 641.9C157.8 634.1 154.1 625.4 150.4 617.1C146.8 608.9 142.4 600 139.5 592.4C136.5 584.9 134.2 578 132.6 571.8C131 565.6 128.7 556 129.8 555.3Z" fill-opacity="0.345"/><path d="M142 686.8C143.2 682.5 147 679.3 149.4 679.3C151.9 679.3 156 682.5 156.9 686.8C157.9 691.2 156.3 699.9 155.1 705.5C153.8 711.1 151.3 717.3 149.4 720.4C147.6 723.6 145.1 726.7 143.8 724.2C142.6 721.7 142.3 711.7 142 705.5C141.7 699.3 140.7 691.2 142 686.8Z" fill-opacity="0.298"/></g>
<g filter="url(#c1_5)"><path d="M11.6 714.8C12.5 712.3 15 707.7 18.7 703.6C22.4 699.6 28.6 694.8 33.6 690.5C38.6 686.3 43.9 682 48.6 678.4C53.2 674.8 57.6 671.7 61.6 669.1C65.7 666.4 70.1 663.3 72.9 662.5C75.7 661.7 78.1 662.8 78.5 664.4C78.8 666 76.9 669.2 74.7 671.9C72.5 674.5 68.8 677.1 65.4 680.3C62 683.4 58.8 687 54.2 690.9C49.5 694.9 42.7 700.1 37.4 704C32.1 707.9 26.4 712 22.4 714.5C18.4 716.9 15.3 718.5 13.5 718.6C11.6 718.6 10.7 717.3 11.6 714.8Z" fill-opacity="0.561" stroke="#000" stroke-width="7" stroke-opacity="0.308"/><path d="M71 664.4C71.3 661.6 74.7 656.6 76.6 653.2C78.5 649.8 80.3 646.3 82.2 643.8C84.1 641.4 86.2 638.6 87.8 638.2C89.4 637.9 92.1 639.2 91.9 642C91.8 644.8 88.8 651 86.9 655.1C84.9 659.1 82.4 663.8 80.3 666.3C78.3 668.8 76.3 670.3 74.7 670C73.2 669.7 70.7 667.2 71 664.4Z" fill-opacity="0.387"/><path d="M33.6 673.7C35.5 669.4 49.2 666 56 660.7C62.9 655.4 69.1 648.8 74.7 642C80.3 635.1 85.9 621.4 89.7 619.6C93.4 617.7 97.5 625.2 97.1 630.8C96.8 636.4 90.9 645.7 87.8 653.2C84.7 660.7 82.8 668.8 78.5 675.6C74.1 682.5 67.3 692.4 61.6 694.3C56 696.2 49.5 690.2 44.8 686.8C40.2 683.4 31.8 678.1 33.6 673.7Z" fill-opacity="0.252"/><path d="M166.9 549.8C168.5 548.7 175.2 547.1 177.9 547.1C180.7 547.1 183.4 548.7 183.4 549.8C183.4 551 180.4 553.3 177.9 554C175.4 554.6 170.1 554.6 168.3 554C166.5 553.3 165.3 551 166.9 549.8Z" fill-opacity="0.363"/></g>
<g filter="url(#c1_7)"><path d="M27.1 573.8C28.5 570.3 31.6 569.3 34.6 568.7C37.5 568.2 42.4 568.7 44.8 570.6C47.2 572.5 47.2 577.3 48.9 580.3C50.7 583.3 52.2 586.9 55.1 588.7C58 590.5 62.3 589.8 66.3 591.2C70.4 592.6 77.4 595.4 79.4 597.1C81.4 598.9 81.1 601 78.5 601.8C75.8 602.6 68 601.8 63.5 601.8C59 601.8 55.6 602.3 51.4 601.8C47.2 601.3 42.1 598.7 38.3 599C34.5 599.3 30.4 605.2 28.4 603.7C26.4 602.1 26.4 594.7 26.2 589.7C25.9 584.7 25.7 577.3 27.1 573.8Z" fill-opacity="0.592" stroke="#000" stroke-width="7" stroke-opacity="0.308"/><path d="M56 600.9C58.2 598.4 66 595.6 71 593.4C76 591.2 81.6 588.4 85.9 587.8C90.3 587.2 96.5 587.5 97.1 589.7C97.8 591.8 94 597.5 89.7 600.9C85.3 604.3 76.3 609 71 610.2C65.7 611.5 60.4 609.9 57.9 608.4C55.4 606.8 53.9 603.4 56 600.9Z" fill-opacity="0.277"/></g>
<g filter="url(#c1_10)"><path d="M101.8 705.5C103.2 701.8 107.3 699 110.2 698C113.2 697.1 117.4 698 119.6 699.9C121.7 701.8 122.8 705.2 123.3 709.2C123.8 713.3 123.3 720.4 122.4 724.2C121.4 727.9 120 730.6 117.7 731.6C115.4 732.7 111 732.6 108.4 730.7C105.7 728.8 102.9 724.6 101.8 720.4C100.7 716.2 100.4 709.2 101.8 705.5Z" fill-opacity="0.536" stroke="#000" stroke-width="7" stroke-opacity="0.308"/><path d="M107.4 664.4C108.9 662.8 113.2 663.8 114.9 666.3C116.6 668.8 117.4 674.7 117.7 679.3C118 684 116.4 690.5 116.8 694.3C117.1 698 121 700.5 119.6 701.8C118.2 703 110.4 704.2 108.4 701.8C106.3 699.3 107.8 691.2 107.4 686.8C107 682.5 106.1 679.3 106.1 675.6C106.1 671.9 106 666 107.4 664.4Z" fill-opacity="0.401"/></g>
<g filter="url(#c1_11)"><path d="M151.8 674.8C154.1 671.6 159.8 669.3 164.2 669.3C168.5 669.3 174.2 672.5 177.9 674.8C181.6 677.1 185.2 679.9 186.2 683.1C187.1 686.3 185.2 690.9 183.4 694.1C181.6 697.3 177.9 699.1 175.2 702.3C172.4 705.5 169.7 711.5 166.9 713.3C164.2 715.1 160.3 715.6 158.7 713.3C157.1 711 158.7 703.7 157.3 699.6C155.9 695.4 151.4 692.7 150.4 688.6C149.5 684.5 149.5 678 151.8 674.8Z" fill-opacity="0.502" stroke="#000" stroke-width="7" stroke-opacity="0.308"/><path d="M156.9 701.8C159.4 700.2 165.6 702.4 168.1 705.5C170.6 708.6 173.1 717.3 171.9 720.4C170.6 723.6 163.8 725.1 160.7 724.2C157.5 723.2 153.8 718.6 153.2 714.8C152.6 711.1 154.4 703.3 156.9 701.8Z" fill-opacity="0.321"/></g>
<g filter="url(#c1_0)"><path d="M191.6 543C192.8 540.2 196.7 537.5 199.9 536.1C203.1 534.7 207.4 534 210.9 534.7C214.3 535.4 218.7 537.7 220.5 540.2C222.3 542.7 223 547.1 221.9 549.8C220.7 552.6 216.8 555.3 213.6 556.7C210.4 558.1 206.1 558.8 202.6 558.1C199.2 557.4 194.9 555.1 193 552.6C191.2 550.1 190.5 545.7 191.6 543Z" fill-opacity="0.592" stroke="#000" stroke-width="7" stroke-opacity="0.308"/><path d="M131.2 549.8C133.7 548.5 141.7 550.1 147.7 549.8C153.6 549.6 159.6 549.1 166.9 548.5C174.2 547.8 187.1 544.6 191.6 545.7C196.2 546.9 197.6 553.5 194.4 555.3C191.2 557.2 180.2 556.2 172.4 556.7C164.6 557.2 154.3 557.8 147.7 558.1C141.1 558.3 135.3 559.5 132.6 558.1C129.8 556.7 128.7 551.2 131.2 549.8Z" fill-opacity="0.363"/><path d="M219.1 537.5C221.4 533.1 231.9 531.1 235.6 533.4C239.3 535.6 238.4 545.9 241.1 551.2C243.8 556.5 248.4 561.7 252.1 564.9C255.8 568.2 262.6 567.7 263.1 570.4C263.5 573.2 259.4 581.4 254.8 581.4C250.3 581.4 241.1 574.1 235.6 570.4C230.1 566.8 224.6 564.9 221.9 559.5C219.1 554 216.8 541.8 219.1 537.5Z" fill-opacity="0.363"/><path d="M259 571.8C261.9 568.8 269.7 572 272.7 574.6C275.7 577.1 276.6 581.7 277.1 586.9C277.6 592.2 276.2 599.5 275.7 606.2C275.3 612.8 275.3 619.9 274.3 626.8C273.4 633.6 271.2 640.5 270.2 647.4C269.3 654.2 270 661.6 268.6 668C267.2 674.4 265.1 681.2 261.7 685.8C258.3 690.4 252.3 694.3 248 695.4C243.6 696.6 238.6 695.2 235.6 692.7C232.6 690.2 231.3 684.9 230.1 680.3C229 675.8 227.4 670.3 228.7 665.2C230.1 660.2 235.6 655.4 238.4 650.1C241.1 644.8 243.6 639.6 245.2 633.6C246.8 627.7 246.4 621.3 248 614.4C249.6 607.5 253 599.5 254.8 592.4C256.7 585.3 256 574.8 259 571.8Z" fill-opacity="0.592" stroke="#000" stroke-width="7" stroke-opacity="0.308"/><path d="M265.8 564.9C267.2 562.7 276.8 566.8 282.3 567.7C287.8 568.6 295.1 568.6 298.8 570.4C302.5 572.3 305.7 576.4 304.3 578.7C302.9 581 294.7 581.9 290.5 584.2C286.4 586.5 282.3 592.9 279.6 592.4C276.8 592 276.4 586 274.1 581.4C271.8 576.8 264.5 567.2 265.8 564.9Z" fill-opacity="0.345"/><path d="M166.9 633.6C168.1 630.9 174.9 630 177.9 630.9C180.9 631.8 184.3 636.4 184.8 639.1C185.2 641.9 182.9 646 180.7 647.4C178.4 648.7 173.3 649.7 171 647.4C168.8 645.1 165.8 636.4 166.9 633.6Z" fill-opacity="0.374"/><path d="M213.6 647.4C215.5 644.2 223.7 643.2 227.4 644.6C231 646 235.6 651.5 235.6 655.6C235.6 659.7 230.6 668 227.4 669.3C224.2 670.7 218.7 667.5 216.4 663.8C214.1 660.2 211.8 650.6 213.6 647.4Z" fill-opacity="0.298"/><path d="M150.4 597.9C152 596.1 157.8 599.7 161.4 603.4C165.1 607.1 171 614.9 172.4 619.9C173.8 624.9 172 632.3 169.7 633.6C167.4 635 161.7 631.3 158.7 628.1C155.7 624.9 153.2 619.4 151.8 614.4C150.4 609.4 148.8 599.7 150.4 597.9Z" fill-opacity="0.277"/></g>
<g filter="url(#c1_3)"><path d="M188.9 562.2C192.3 559.9 200.3 566.5 206.8 567.7C213.2 568.8 220.5 567.9 227.4 569.1C234.2 570.2 243.4 571.6 248 574.6C252.5 577.5 255.3 581.7 254.8 586.9C254.4 592.2 247.5 599.5 245.2 606.2C242.9 612.8 242.9 621 241.1 626.8C239.3 632.5 237.7 636.6 234.2 640.5C230.8 644.4 225.1 648 220.5 650.1C215.9 652.2 210.9 653.3 206.8 652.9C202.6 652.4 198.7 651 195.8 647.4C192.8 643.7 190.7 637.3 188.9 630.9C187.1 624.5 185.2 617.1 184.8 608.9C184.3 600.7 185.5 589.2 186.2 581.4C186.8 573.6 185.5 564.5 188.9 562.2Z" fill-opacity="0.502" stroke="#000" stroke-width="7" stroke-opacity="0.308"/><path d="M121.4 698C122.8 695.5 127.3 697.7 128.9 699.9C130.5 702.1 130.8 707 130.8 711.1C130.8 715.1 130.1 721.1 128.9 724.2C127.7 727.3 124.7 731.3 123.3 729.8C121.9 728.2 120.8 720.1 120.5 714.8C120.2 709.5 120 700.5 121.4 698Z" fill-opacity="0.435"/><path d="M234.2 581.4C237.2 574.1 256 574.1 261.7 575.9C267.4 577.8 268.6 585.1 268.6 592.4C268.6 599.7 265.1 610.7 261.7 619.9C258.3 629 252.5 642.8 248 647.4C243.4 651.9 234.9 651.9 234.2 647.4C233.5 642.8 243.8 630.9 243.8 619.9C243.8 608.9 231.3 588.8 234.2 581.4Z" fill-opacity="0.277"/></g>
<g filter="url(#c1_9)"><path d="M239.7 537.5C241.1 533.2 242.8 528 245.2 525.8C247.6 523.6 251.6 523.4 254.1 524.4C256.7 525.5 259.6 527.5 260.3 532C261 536.4 259.6 546.3 258.3 551.2C256.9 556.1 254.8 559.8 252.1 561.5C249.3 563.2 244.3 563.2 241.8 561.5C239.3 559.8 237.3 555.2 237 551.2C236.6 547.2 238.4 541.7 239.7 537.5Z" fill-opacity="0.561" stroke="#000" stroke-width="7" stroke-opacity="0.308"/><path d="M232.9 530.6C234.2 523.3 238.8 522.4 243.8 521C248.9 519.6 259.2 519.6 263.1 522.4C267 525.1 267.2 530.8 267.2 537.5C267.2 544.1 265.6 557.2 263.1 562.2C260.6 567.2 256.7 567.2 252.1 567.7C247.5 568.2 238.8 571.1 235.6 564.9C232.4 558.8 231.5 537.9 232.9 530.6Z" fill-opacity="0.321"/></g>
<g filter="url(#c1_4)"><path d="M267.2 532C270.1 528.7 277 527.2 282.3 525.8C287.6 524.4 293.8 522.9 298.8 523.5C303.8 524 308.4 526.6 312.5 529.2C316.6 531.9 321.2 536.8 323.5 539.5C325.9 542.3 326.7 541.5 326.5 545.7C326.4 549.9 323.3 559.5 322.4 564.9C321.5 570.4 322.1 575.9 321 578.7C320 581.4 318.2 582.5 316 581.4C313.7 580.3 311.5 573.9 307.7 572.1C303.9 570.3 298 571.2 293.3 570.7C288.6 570.3 283.7 570.8 279.6 569.3C275.4 567.9 271 566.1 268.6 562.2C266.1 558.3 265 550.8 264.7 545.7C264.5 540.7 264.3 535.3 267.2 532Z" fill-opacity="0.482" stroke="#000" stroke-width="7" stroke-opacity="0.308"/><path d="M304.3 545.7C305.9 541.1 312.1 537.7 315.3 537.5C318.5 537.2 322.4 540.2 323.5 544.3C324.7 548.5 323.5 557.8 322.1 562.2C320.8 566.5 318 570 315.3 570.4C312.5 570.9 307.5 569.1 305.7 564.9C303.8 560.8 302.7 550.3 304.3 545.7Z" fill-opacity="0.592" stroke="#000" stroke-width="7" stroke-opacity="0.308"/></g>
<g filter="url(#c1_12)"><path d="M248 634.3C248.8 632.3 252.9 631.7 254.8 632.3C256.8 632.8 259.3 635.6 259.6 637.7C260 639.9 258.5 644.2 256.9 645.3C255.3 646.4 251.5 646.4 250 644.6C248.5 642.8 247.2 636.4 248 634.3Z" fill-opacity="0.536" stroke="#000" stroke-width="7" stroke-opacity="0.308"/></g>
<g filter="url(#c1_8)"><path d="M183.4 658.4C186.6 656.3 194.9 654.7 199.9 655.6C204.9 656.5 210.4 660.6 213.6 663.8C216.8 667.1 219.1 670.7 219.1 674.8C219.1 679 216.4 684.9 213.6 688.6C210.9 692.2 206.3 696.1 202.6 696.8C199 697.5 194.6 695.7 191.6 692.7C188.7 689.7 186.6 683.1 184.8 679C182.9 674.8 180.9 671.4 180.7 668C180.4 664.5 180.2 660.4 183.4 658.4Z" fill-opacity="0.502" stroke="#000" stroke-width="7" stroke-opacity="0.308"/><path d="M186.8 698C191.5 695.2 203 693 209.2 694.3C215.5 695.5 222.3 700.5 224.2 705.5C226 710.5 224.2 719.2 220.4 724.2C216.7 729.2 207.4 734.8 201.8 735.4C196.2 736 190.2 732 186.8 727.9C183.4 723.9 181.2 716.1 181.2 711.1C181.2 706.1 182.1 700.8 186.8 698Z" fill-opacity="0.321"/></g>
<g filter="url(#c1_2)"><path d="M144.8 730.7C146 727.6 151.2 724 155.1 722.3C158.9 720.6 163.5 719.8 168.1 720.4C172.8 721.1 178.4 723.9 183.1 726C187.7 728.2 190.9 733.2 196.2 733.5C201.4 733.8 209.2 730.7 214.8 727.9C220.4 725.1 225.4 720 229.8 716.7C234.1 713.4 237.8 709.5 241 708.3C244.2 707 248.5 706.6 248.8 709.2C249.1 711.9 245.4 719.2 242.9 724.2C240.3 729.2 236.6 733.8 233.5 739.1C230.4 744.4 227.9 751.3 224.2 755.9C220.4 760.6 215.8 764.3 211.1 767.1C206.4 769.9 200.8 772.4 196.2 772.7C191.5 773.1 187.7 770.9 183.1 769C178.4 767.1 172.8 764.3 168.1 761.5C163.5 758.7 158.5 755.6 155.1 752.2C151.6 748.8 149.3 744.6 147.6 741C145.9 737.4 143.5 733.8 144.8 730.7Z" fill-opacity="0.592" stroke="#000" stroke-width="7" stroke-opacity="0.308"/><path d="M168.1 714.8C169.4 711.4 180.6 709.2 186.8 709.2C193 709.2 199.3 714.5 205.5 714.8C211.7 715.1 219.2 712.7 224.2 711.1C229.2 709.5 234.1 703.9 235.4 705.5C236.6 707 236.6 715.5 231.6 720.4C226.7 725.4 214.2 733.8 205.5 735.4C196.8 736.9 185.6 733.2 179.3 729.8C173.1 726.4 166.9 718.3 168.1 714.8Z" fill-opacity="0.374"/><path d="M156.9 765.3C162.2 762.5 178.1 768.4 183.1 770.9C188.1 773.4 188.7 776.8 186.8 780.2C184.9 783.6 176.2 787.7 171.9 791.4C167.5 795.2 164.4 800.1 160.7 802.6C156.9 805.1 151 808.9 149.4 806.4C147.9 803.9 150.1 794.5 151.3 787.7C152.6 780.8 151.6 768.1 156.9 765.3Z" fill-opacity="0.345"/></g>
<g filter="url(#c1_6)"><path d="M95.6 815.7C95.8 813 100.9 804.8 103.7 803.6C106.4 802.3 108.8 806.1 112.1 808.2C115.4 810.4 118.9 814.2 123.3 816.6C127.7 819.1 134.2 823 138.2 823.2C142.3 823.3 144.9 820.4 147.6 817.6C150.2 814.8 151.9 810.7 154.1 806.4C156.3 802.1 158.3 793.9 160.7 791.8C163 789.7 167.4 791.2 168.1 793.7C168.8 796.1 166.6 801.5 164.8 806.4C163 811.3 159.8 818.5 157.3 823.2C154.8 827.9 152.3 831.8 149.8 834.4C147.3 836.9 145.5 839.1 142.4 838.5C139.2 837.9 135.2 833.2 130.8 831C126.3 828.8 120.5 827.3 115.8 825.4C111.2 823.6 106.1 821.4 102.7 819.8C99.4 818.2 95.5 818.4 95.6 815.7Z" fill-opacity="0.561" stroke="#000" stroke-width="7" stroke-opacity="0.308"/><path d="M112.1 806.4C113.3 803.6 124.5 801.4 130.8 798.9C137 796.4 145.1 791.4 149.4 791.4C153.8 791.4 156.9 794.5 156.9 798.9C156.9 803.3 152.6 813.8 149.4 817.6C146.3 821.3 142.6 821.6 138.2 821.3C133.9 821 127.7 818.2 123.3 815.7C118.9 813.2 110.8 809.2 112.1 806.4Z" fill-opacity="0.277"/></g>
<path d="M255 533h0m51 2h0m-27 8h0m-26 8h0m-45 4h0m-101 12h0m159 16h0m-16 5h0m-223 1h0m190 2h0m-176 2h0m17 4h0m187 0h0m-180 2h0m197 3h0m-66 6h0m7 1h0m-57 8h0m102 6h0m22 3h0m-32 1h0m-83 17h0m-15 6h0m5 3h0m100 14h0m-53 3h0m-128 4h0m185 0h0m-111 2h0m108 35h0m-222 1h0m142 26h0m5 1h0m0 1h0m49 3h0m-58 59h0m-49 13h0" stroke="#1fe5c5" stroke-width="1.6" stroke-linecap="square" fill="none"/>
<path d="M275 542h0m42 16h0m-113 12h0m-97 11h0m22 0h0m4 6h0m94 2h0m6 0h0m-1 10h0m43 3h0m-166 1h0m24 0h0m54 3h0m-75 1h0m144 4h0m-149 4h0m44 0h0m99 11h0m-14 9h0m-131 1h0m139 8h0m-126 2h0m140 8h0m-130 3h0m39 4h0m35 0h0m-83 7h0m-54 8h0m-4 2h0m3 2h0m66 0h0m-82 7h0m108 0h0m87 3h0m-3 3h0m-62 1h0m-3 3h0m-55 4h0m52 2h0m-142 3h0m208 17h0m-75 4h0m18 3h0m30 9h0m-9 16h0m5 4h0m-26 1h0m15 11h0m-96 42h0m58 5h0m-49 2h0m32 4h0" stroke="#f21c2c" stroke-width="1.6" stroke-linecap="square" fill="none"/>
<path d="M201 538h0m53 5h0m51 7h0m7 4h0m-21 2h0m-13 4h0m-166 4h0m173 4h0m-158 14h0m-12 4h0m155 0h0m-34 3h0m22 1h0m3 1h0m7 5h0m-205 3h0m78 0h0m48 1h0m-42 6h0m51 2h0m-84 1h0m125 3h0m-111 1h0m-2 1h0m76 0h0m-96 4h0m-1 15h0m48 3h0m40 0h0m-72 1h0m127 0h0m-91 5h0m3 3h0m94 1h0m9 2h0m-106 2h0m82 0h0m-75 1h0m101 0h0m-25 1h0m-97 8h0m42 7h0m-118 7h0m63 3h0m-75 4h0m2 0h0m191 0h0m-72 7h0m-23 1h0m50 1h0m-27 1h0m-71 14h0m17 17h0m-14 2h0m10 2h0m100 3h0m-39 2h0m13 4h0m4 2h0m-31 18h0m-8 50h0" stroke="#2f7ff0" stroke-width="1.6" stroke-linecap="square" fill="none"/>
<path d="M287 529h0m-42 2h0m29 0h0m15 3h0m-46 3h0m26 3h0m24 1h0m-37 2h0m24 0h0m22 2h0m-37 1h0m1 0h0m23 0h0m29 2h0m-26 1h0m4 7h0m-16 2h0m10 0h0m33 1h0m-119 9h0m88 0h0m-253 3h0m167 0h0m-82 1h0m78 1h0m70 5h0m-69 4h0m-88 1h0m99 0h0m-170 6h0m224 0h0m-200 4h0m151 0h0m13 1h0m-4 5h0m8 0h0m3 0h0m-2 4h0m39 2h0m-16 2h0m-149 2h0m115 1h0m-16 1h0m11 2h0m-76 1h0m117 1h0m-69 2h0m78 0h0m-35 4h0m2 0h0m28 0h0m-60 2h0m19 4h0m28 0h0m-51 2h0m-98 1h0m30 2h0m97 1h0m16 0h0m-124 4h0m92 2h0m50 0h0m-6 1h0m-33 2h0m16 1h0m-15 2h0m-112 1h0m5 0h0m91 0h0m-93 1h0m40 0h0m59 2h0m-78 4h0m58 4h0m38 2h0m-108 1h0m68 0h0m-71 3h0m109 2h0m-75 1h0m72 1h0m-96 1h0m105 1h0m22 1h0m-191 2h0m97 0h0m-20 1h0m61 0h0m50 0h0m-134 4h0m-71 2h0m118 0h0m-113 2h0m82 2h0m-91 8h0m153 0h0m47 0h0m-67 1h0m18 1h0m-163 4h0m135 3h0m-6 1h0m-137 1h0m0 3h0m76 3h0m7 1h0m127 1h0m0 2h0m-119 2h0m120 2h0m-6 1h0m-119 5h0m60 3h0m49 0h0m-112 1h0m53 2h0m15 1h0m-26 3h0m81 3h0m-81 1h0m26 1h0m-28 2h0m71 2h0m3 0h0m-45 4h0m-26 5h0m54 2h0m-17 11h0m-5 1h0m-32 49h0m-45 4h0m-3 5h0m35 15h0" stroke="#ffffff" stroke-width="1.6" stroke-linecap="square" fill="none"/>
<path d="M253 532h0m47 1h0m1 6h0m-61 9h0m33 2h0m31 5h0m-185 4h0m10 14h0m137 17h0m-56 5h0m-180 2h0m110 5h0m49 2h0m66 8h0m-29 7h0m-125 3h0m160 1h0m-73 1h0m42 7h0m-123 6h0m93 11h0m40 0h0m-28 3h0m47 1h0m-121 4h0m26 2h0m79 0h0m-8 4h0m-88 1h0m101 2h0m-82 3h0m79 1h0m-182 1h0m73 0h0m26 3h0m-121 16h0m-14 11h0m92 6h0m-11 4h0m10 6h0m112 1h0m-73 11h0m17 8h0m43 12h0m-39 4h0m-43 73h0" stroke="#5a5358" stroke-width="1.6" stroke-linecap="square" fill="none"/>
<path d="M215 540h0m63 2h0m24 11h0m-96 4h0m97 6h0m-274 11h0m212 9h0m-135 1h0m107 1h0m14 1h0m-193 4h0m88 0h0m-5 2h0m-16 4h0m116 0h0m-180 1h0m170 0h0m-156 4h0m145 3h0m-53 1h0m-21 5h0m90 0h0m-87 6h0m-9 1h0m84 1h0m67 1h0m-32 2h0m-120 4h0m137 4h0m0 8h0m-43 2h0m54 5h0m-6 9h0m-127 9h0m136 3h0m-134 6h0m111 12h0m-126 32h0m-4 3h0m111 4h0m-53 6h0m19 4h0m-4 1h0m25 0h0m-21 3h0m39 11h0m-117 70h0" stroke="#fda520" stroke-width="1.6" stroke-linecap="square" fill="none"/>
<path d="M273 541h0m-54 1h0m30 10h0m-51 3h0m-85 6h0m164 5h0m-162 1h0m200 5h0m-188 1h0m-15 1h0m-2 3h0m153 0h0m-15 2h0m-54 4h0m79 6h0m-236 2h0m95 4h0m140 2h0m-169 4h0m32 1h0m0 0h0m82 2h0m10 1h0m-102 1h0m147 0h0m-4 6h0m-167 3h0m137 2h0m-40 1h0m-90 6h0m108 1h0m-102 2h0m151 4h0m-109 1h0m-4 6h0m7 6h0m106 17h0m-104 2h0m50 1h0m-136 1h0m63 6h0m27 11h0m4 6h0m3 7h0m-61 8h0m49 22h0m24 7h0m30 2h0m2 7h0m-59 2h0m26 2h0m-1 4h0m22 1h0m-42 61h0m-33 11h0m19 0h0m-7 5h0" stroke="#1aef1a" stroke-width="1.6" stroke-linecap="square" fill="none"/>
<path d="M215 543h0m54 1h0m-1 7h0m-148 5h0m183 1h0m14 2h0m-210 7h0m22 11h0m-9 2h0m13 1h0m1 8h0m100 1h0m-44 2h0m43 9h0m20 3h0m-46 3h0m-13 3h0m-77 3h0m93 4h0m49 4h0m-146 4h0m84 2h0m-47 5h0m47 1h0m-90 4h0m55 6h0m-2 3h0m62 3h0m-20 1h0m-54 3h0m43 10h0m5 5h0m10 0h0m-40 5h0m46 0h0m-72 10h0m-22 18h0m118 30h0m-13 6h0m-2 8h0m-60 2h0m41 10h0m-29 1h0m41 2h0m-1 3h0m-107 47h0m4 10h0m39 1h0m-28 5h0" stroke="#ff00ff" stroke-width="1.6" stroke-linecap="square" fill="none"/>
<path d="M252 529h0m23 4h0m15 8h0m-170 8h0m78 1h0m74 14h0m42 10h0m-286 1h0m89 3h0m115 2h0m-23 1h0m38 0h0m5 7h0m3 5h0m-47 14h0m-59 15h0m42 4h0m-71 8h0m127 7h0m-103 6h0m97 0h0m-53 15h0m-58 1h0m138 1h0m-194 1h0m-9 8h0m153 4h0m-2 1h0m-65 10h0m-109 5h0m63 11h0m67 35h0m-10 9h0m39 17h0m-93 46h0m8 4h0m11 11h0m4 2h0" stroke="#d3a4f5" stroke-width="1.6" stroke-linecap="square" fill="none"/>
<g font-size="18" text-anchor="middle" fill="#000">
<text x="38.3" y="593.4">7</text>
<text x="52.3" y="695.2">5</text>
<text x="122.4" y="628.9">1</text>
<text x="113" y="716.7">10</text>
<text x="209.2" y="612.1">3</text>
<text x="246.6" y="627">0</text>
<text x="255" y="644.8">12</text>
<text x="249.4" y="551.4">9</text>
<text x="302.6" y="557">4</text>
<text x="199.9" y="684.9">8</text>
<text x="170.9" y="689.6">11</text>
<text x="187.7" y="752.2">2</text>
<text x="140.5" y="823.2">6</text>
</g>
<g filter="url(#c2_N)"><path d="M440.4 551.3C443.2 548.1 448.3 549.5 451.6 550C454.9 550.4 458.4 551.3 460.1 554.1C461.7 556.8 460.6 561.6 461.5 566.4C462.4 571.3 463.4 577.4 465.7 582.9C468.1 588.4 472.8 593.9 475.6 599.4C478.4 604.9 480.3 609.9 482.6 615.9C485 621.8 487.1 629.6 489.6 635.1C492.2 640.6 495.7 644.3 498.1 648.9C500.4 653.4 503.7 658.5 503.7 662.6C503.7 666.7 501.1 671.3 498.1 673.6C495 675.9 489.2 674.5 485.4 676.3C481.7 678.2 479.1 682.7 475.6 684.6C472 686.4 467.8 688.2 464.3 687.3C460.8 686.4 457.7 683.2 454.4 679.1C451.2 675 447.9 668.8 444.6 662.6C441.3 656.4 437.3 648.9 434.7 642C432.2 635.1 429.8 629.4 429.1 621.4C428.4 613.4 429.6 602.6 430.5 593.9C431.5 585.2 433.1 576.3 434.7 569.2C436.4 562.1 437.6 554.5 440.4 551.3Z" fill-opacity="1" stroke="#000" stroke-width="5" stroke-opacity="0.351"/><path d="M460.1 556.8C461.3 556.1 466.9 563.9 469.9 569.2C473 574.5 475.6 582 478.4 588.4C481.2 594.8 483.5 600.8 486.8 607.7C490.1 614.5 494.3 623.2 498.1 629.6C501.9 636 507 641.1 509.4 646.1C511.7 651.2 513.1 656.6 512.2 659.9C511.2 663.1 507 668.1 503.7 665.3C500.4 662.6 496.2 651.2 492.5 643.4C488.7 635.6 485 626.9 481.2 618.6C477.4 610.4 473 601.5 469.9 593.9C466.9 586.4 464.5 579.5 462.9 573.3C461.3 567.1 458.9 557.5 460.1 556.8Z" fill-opacity="0.385"/><path d="M472.5 688.3C473.8 684 477.6 680.8 480.2 680.8C482.7 680.8 486.9 684 487.8 688.3C488.8 692.7 487.2 701.4 485.9 707C484.7 712.6 482.1 718.8 480.2 721.9C478.3 725.1 475.7 728.2 474.4 725.7C473.2 723.2 472.8 713.2 472.5 707C472.2 700.8 471.2 692.7 472.5 688.3Z" fill-opacity="0.342"/><path d="M338.9 716.3C339.8 713.8 342.4 709.2 346.1 705.1C349.9 701.1 356.4 696.3 361.5 692C366.6 687.8 372 683.5 376.8 679.9C381.6 676.3 386 673.2 390.2 670.6C394.3 667.9 398.8 664.8 401.7 664C404.5 663.2 407.1 664.3 407.4 665.9C407.7 667.5 405.8 670.7 403.6 673.4C401.4 676 397.5 678.6 394 681.8C390.5 684.9 387.3 688.5 382.5 692.4C377.7 696.4 370.7 701.6 365.3 705.5C359.9 709.4 354.1 713.5 350 716C345.9 718.4 342.6 720 340.8 720.1C338.9 720.1 338 718.8 338.9 716.3Z" fill-opacity="1" stroke="#000" stroke-width="5" stroke-opacity="0.351"/><path d="M399.8 665.9C400.1 663.1 403.6 658.1 405.5 654.7C407.4 651.3 409.3 647.8 411.3 645.3C413.2 642.9 415.3 640.1 417 639.7C418.7 639.4 421.4 640.7 421.2 643.5C421 646.3 418 652.5 416 656.6C414.1 660.6 411.4 665.3 409.3 667.8C407.3 670.3 405.2 671.8 403.6 671.5C402 671.2 399.4 668.7 399.8 665.9Z" fill-opacity="0.427"/><path d="M361.5 675.2C363.4 670.9 377.4 667.5 384.4 662.2C391.5 656.9 397.8 650.3 403.6 643.5C409.3 636.6 415.1 622.9 418.9 621.1C422.7 619.2 426.9 626.7 426.6 632.3C426.3 637.9 420.2 647.2 417 654.7C413.8 662.2 411.9 670.3 407.4 677.1C403 684 395.9 693.9 390.2 695.8C384.4 697.7 377.7 691.7 373 688.3C368.2 684.9 359.6 679.6 361.5 675.2Z" fill-opacity="0.308"/><path d="M498.1 551.3C499.7 550.2 506.5 548.6 509.4 548.6C512.2 548.6 515 550.2 515 551.3C515 552.5 511.9 554.8 509.4 555.5C506.8 556.1 501.4 556.1 499.5 555.5C497.6 554.8 496.5 552.5 498.1 551.3Z" fill-opacity="0.401"/><path d="M523.4 544.5C524.6 541.7 528.6 539 531.9 537.6C535.2 536.2 539.6 535.5 543.2 536.2C546.7 536.9 551.1 539.2 553 541.7C554.9 544.2 555.6 548.6 554.4 551.3C553.2 554.1 549.3 556.8 546 558.2C542.7 559.6 538.2 560.3 534.7 559.6C531.2 558.9 526.7 556.6 524.8 554.1C523 551.6 522.3 547.2 523.4 544.5Z" fill-opacity="1" stroke="#000" stroke-width="5" stroke-opacity="0.351"/><path d="M461.5 551.3C464.1 550 472.3 551.6 478.4 551.3C484.5 551.1 490.6 550.6 498.1 550C505.6 549.3 518.7 546.1 523.4 547.2C528.1 548.4 529.5 555 526.3 556.8C523 558.7 511.7 557.7 503.7 558.2C495.7 558.7 485.2 559.3 478.4 559.6C471.6 559.8 465.7 561 462.9 559.6C460.1 558.2 458.9 552.7 461.5 551.3Z" fill-opacity="0.401"/><path d="M551.6 539C553.9 534.6 564.7 532.6 568.5 534.9C572.2 537.1 571.3 547.4 574.1 552.7C576.9 558 581.6 563.2 585.4 566.4C589.1 569.7 596.2 569.2 596.7 571.9C597.1 574.7 592.9 582.9 588.2 582.9C583.5 582.9 574.1 575.6 568.5 571.9C562.9 568.3 557.2 566.4 554.4 561C551.6 555.5 549.3 543.3 551.6 539Z" fill-opacity="0.401"/><path d="M592.4 573.3C595.5 570.3 603.4 573.5 606.5 576.1C609.6 578.6 610.5 583.2 611 588.4C611.5 593.7 610.1 601 609.6 607.7C609.1 614.3 609.1 621.4 608.2 628.3C607.3 635.1 605 642 604 648.9C603 655.7 603.7 663.1 602.3 669.5C600.8 675.9 598.8 682.7 595.2 687.3C591.7 691.9 585.6 695.8 581.2 696.9C576.7 698.1 571.5 696.7 568.5 694.2C565.4 691.7 564 686.4 562.9 681.8C561.7 677.3 560 671.8 561.5 666.7C562.9 661.7 568.5 656.9 571.3 651.6C574.1 646.3 576.7 641.1 578.4 635.1C580 629.2 579.5 622.8 581.2 615.9C582.8 609 586.3 601 588.2 593.9C590.1 586.8 589.4 576.3 592.4 573.3Z" fill-opacity="1" stroke="#000" stroke-width="5" stroke-opacity="0.351"/><path d="M599.5 566.4C600.9 564.2 610.7 568.3 616.4 569.2C622 570.1 629.5 570.1 633.3 571.9C637 573.8 640.3 577.9 638.9 580.2C637.5 582.5 629 583.4 624.8 585.7C620.6 588 616.4 594.4 613.5 593.9C610.7 593.5 610.3 587.5 607.9 582.9C605.6 578.3 598.1 568.7 599.5 566.4Z" fill-opacity="0.385"/><path d="M498.1 635.1C499.3 632.4 506.3 631.5 509.4 632.4C512.4 633.3 515.9 637.9 516.4 640.6C516.9 643.4 514.5 647.5 512.2 648.9C509.8 650.2 504.7 651.2 502.3 648.9C500 646.6 496.9 637.9 498.1 635.1Z" fill-opacity="0.412"/><path d="M546 648.9C547.8 645.7 556.3 644.7 560 646.1C563.8 647.5 568.5 653 568.5 657.1C568.5 661.2 563.3 669.5 560 670.8C556.8 672.2 551.1 669 548.8 665.3C546.4 661.7 544.1 652.1 546 648.9Z" fill-opacity="0.342"/><path d="M481.2 599.4C482.8 597.6 488.7 601.2 492.5 604.9C496.2 608.6 502.3 616.4 503.7 621.4C505.1 626.4 503.3 633.8 500.9 635.1C498.6 636.5 492.7 632.8 489.6 629.6C486.6 626.4 484 620.9 482.6 615.9C481.2 610.9 479.6 601.2 481.2 599.4Z" fill-opacity="0.327"/><path d="M520.6 563.7C524.1 561.4 532.4 568 538.9 569.2C545.5 570.3 553 569.4 560 570.6C567.1 571.7 576.5 573.1 581.2 576.1C585.9 579 588.7 583.2 588.2 588.4C587.7 593.7 580.7 601 578.4 607.7C576 614.3 576 622.5 574.1 628.3C572.2 634 570.6 638.1 567.1 642C563.6 645.9 557.7 649.5 553 651.6C548.3 653.7 543.2 654.8 538.9 654.4C534.7 653.9 530.7 652.5 527.7 648.9C524.6 645.2 522.5 638.8 520.6 632.4C518.7 626 516.9 618.6 516.4 610.4C515.9 602.2 517.1 590.7 517.8 582.9C518.5 575.1 517.1 566 520.6 563.7Z" fill-opacity="1" stroke="#000" stroke-width="5" stroke-opacity="0.351"/><path d="M451.5 699.5C452.9 697 457.5 699.2 459.1 701.4C460.7 703.6 461 708.5 461 712.6C461 716.6 460.4 722.6 459.1 725.7C457.8 728.8 454.8 732.8 453.4 731.3C451.9 729.7 450.8 721.6 450.5 716.3C450.2 711 450 702 451.5 699.5Z" fill-opacity="0.491"/><path d="M567.1 582.9C570.1 575.6 589.4 575.6 595.2 577.4C601.1 579.3 602.3 586.6 602.3 593.9C602.3 601.2 598.8 612.2 595.2 621.4C591.7 630.5 585.9 644.3 581.2 648.9C576.5 653.4 567.8 653.4 567.1 648.9C566.4 644.3 576.9 632.4 576.9 621.4C576.9 610.4 564 590.3 567.1 582.9Z" fill-opacity="0.327"/><path d="M572.7 539C574.1 534.7 575.9 529.5 578.4 527.3C580.8 525.1 584.9 524.9 587.5 525.9C590.1 527 593.1 529 593.8 533.5C594.5 537.9 593.1 547.8 591.7 552.7C590.3 557.6 588.2 561.3 585.4 563C582.6 564.7 577.4 564.7 574.8 563C572.2 561.3 570.3 556.7 569.9 552.7C569.6 548.7 571.3 543.2 572.7 539Z" fill-opacity="1" stroke="#000" stroke-width="5" stroke-opacity="0.351"/><path d="M565.7 532.1C567.1 524.8 571.8 523.9 576.9 522.5C582.1 521.1 592.7 521.1 596.7 523.9C600.6 526.6 600.9 532.3 600.9 539C600.9 545.6 599.2 558.7 596.7 563.7C594.1 568.7 590.1 568.7 585.4 569.2C580.7 569.7 571.8 572.6 568.5 566.4C565.2 560.3 564.3 539.4 565.7 532.1Z" fill-opacity="0.363"/><path d="M600.9 533.5C603.9 530.2 611 528.7 616.4 527.3C621.8 525.9 628.1 524.4 633.3 525C638.4 525.5 643.1 528.1 647.3 530.7C651.6 533.4 656.2 538.3 658.6 541C661 543.8 661.9 543 661.7 547.2C661.5 551.4 658.4 561 657.5 566.4C656.5 571.9 657.2 577.4 656.1 580.2C655 582.9 653.1 584 650.9 582.9C648.6 581.8 646.3 575.4 642.4 573.6C638.5 571.8 632.4 572.7 627.6 572.2C622.8 571.8 617.8 572.3 613.5 570.8C609.3 569.4 604.8 567.6 602.3 563.7C599.8 559.8 598.6 552.3 598.3 547.2C598.1 542.2 597.9 536.8 600.9 533.5Z" fill-opacity="0.586" stroke="#000" stroke-width="5" stroke-opacity="0.351"/><path d="M638.9 547.2C640.5 542.6 646.9 539.2 650.2 539C653.4 538.7 657.4 541.7 658.6 545.8C659.8 550 658.6 559.3 657.2 563.7C655.8 568 653 571.5 650.2 571.9C647.3 572.4 642.2 570.6 640.3 566.4C638.4 562.3 637.3 551.8 638.9 547.2Z" fill-opacity="1" stroke="#000" stroke-width="5" stroke-opacity="0.351"/><path d="M581.2 635.8C582 633.8 586.2 633.2 588.2 633.8C590.2 634.3 592.8 637.1 593.1 639.2C593.5 641.4 592 645.7 590.3 646.8C588.7 647.9 584.8 647.9 583.3 646.1C581.8 644.3 580.3 637.9 581.2 635.8Z" fill-opacity="1" stroke="#000" stroke-width="5" stroke-opacity="0.351"/><path d="M520.4 557.5C523.6 550.1 531.6 552.6 537.6 550.1C543.7 547.6 550.4 544.5 556.8 542.6C563.2 540.7 568.9 537.6 575.9 538.9C582.9 540.1 593.2 543.2 598.9 550.1C604.6 556.9 608.6 569.4 610.4 580C612.1 590.5 609.9 601.8 609.4 613.6C609 625.4 609.9 638.5 607.5 650.9C605.1 663.4 600.3 680.8 595.1 688.3C589.8 695.8 581.7 697 575.9 695.8C570.2 694.5 563.8 686.4 560.6 680.8C557.4 675.2 560.6 666.8 556.8 662.2C552.9 657.5 543.4 657.2 537.6 652.8C531.9 648.5 525.5 645.7 522.3 636C519.1 626.4 518.8 608 518.5 594.9C518.2 581.8 517.2 565 520.4 557.5Z" fill-opacity="0.573"/><path d="M461 553.8C463.6 552 473.8 550.8 480.2 550.4C486.6 550.1 492.3 552.3 499.3 551.6C506.4 550.9 518.5 545 522.3 546.3C526.1 547.6 526.1 557.1 522.3 559.4C518.5 561.7 506.4 560.5 499.3 560.3C492.3 560.2 485.9 558.3 480.2 558.5C474.4 558.6 468.1 562.1 464.9 561.3C461.7 560.5 458.5 555.6 461 553.8Z" fill-opacity="0.463"/><path d="M552.9 537C553.6 533.9 564.4 530.1 572.1 529.5C579.8 528.9 591.9 527.7 598.9 533.3C605.9 538.9 608.5 556 614.2 563.1C620 570.3 631.5 572.8 633.4 576.2C635.3 579.6 629.9 583.1 625.7 583.7C621.6 584.3 614.2 583.4 608.5 580C602.7 576.5 597.9 568.4 591.2 563.1C584.5 557.9 574.6 552.6 568.3 548.2C561.9 543.8 552.3 540.1 552.9 537Z" fill-opacity="0.463"/><path d="M489.8 650.9C490.4 646.6 495.8 642.9 499.3 639.7C502.8 636.6 506.4 632.3 510.8 632.3C515.3 632.3 521.7 636.6 526.1 639.7C530.6 642.9 532.5 646.6 537.6 650.9C542.7 655.3 554.2 661.5 556.8 665.9C559.3 670.3 558.1 677.1 552.9 677.1C547.8 677.1 533.2 667.1 526.1 665.9C519.1 664.6 515.9 669.6 510.8 669.6C505.7 669.6 499 669 495.5 665.9C492 662.8 489.1 655.3 489.8 650.9Z" fill-opacity="0.573"/></g>
<g filter="url(#c2_R)"><path d="M354.8 575.3C356.2 571.8 359.4 570.8 362.4 570.2C365.5 569.7 370.5 570.2 373 572.1C375.4 574 375.4 578.8 377.2 581.8C378.9 584.8 380.5 588.4 383.5 590.2C386.5 592 390.8 591.3 395 592.7C399.1 594.1 406.3 596.9 408.4 598.6C410.5 600.4 410.1 602.5 407.4 603.3C404.7 604.1 396.7 603.3 392.1 603.3C387.5 603.3 384 603.8 379.7 603.3C375.3 602.8 370.2 600.2 366.3 600.5C362.3 600.8 358.2 606.7 356.1 605.2C354 603.6 354 596.2 353.8 591.2C353.6 586.2 353.3 578.8 354.8 575.3Z" fill-opacity="1" stroke="#000" stroke-width="5" stroke-opacity="0.333"/><path d="M384.4 602.4C386.7 599.9 394.7 597.1 399.8 594.9C404.9 592.7 410.6 589.9 415.1 589.3C419.5 588.7 425.9 589 426.6 591.2C427.2 593.3 423.4 599 418.9 602.4C414.4 605.8 405.2 610.5 399.8 611.7C394.3 613 388.9 611.4 386.4 609.9C383.8 608.3 382.2 604.9 384.4 602.4Z" fill-opacity="0.308"/></g>
<g filter="url(#c2_E)"><path d="M431.4 707C432.8 703.3 436.9 700.5 440 699.5C443 698.6 447.3 699.5 449.5 701.4C451.8 703.3 452.9 706.7 453.4 710.7C453.9 714.8 453.4 721.9 452.4 725.7C451.5 729.4 450 732.1 447.6 733.1C445.2 734.2 440.8 734.1 438.1 732.2C435.3 730.3 432.5 726.1 431.4 721.9C430.2 717.7 429.9 710.7 431.4 707Z" fill-opacity="1" stroke="#000" stroke-width="5" stroke-opacity="0.333"/><path d="M437.1 665.9C438.6 664.3 443 665.3 444.8 667.8C446.5 670.3 447.3 676.2 447.6 680.8C448 685.5 446.4 692 446.7 695.8C447 699.5 451 702 449.5 703.3C448.1 704.5 440.1 705.7 438.1 703.3C436 700.8 437.5 692.7 437.1 688.3C436.7 684 435.8 680.8 435.8 677.1C435.8 673.4 435.6 667.5 437.1 665.9Z" fill-opacity="0.424"/></g>
<g filter="url(#c2_A)"><path d="M482.6 676.3C485 673.1 490.8 670.8 495.3 670.8C499.7 670.8 505.6 674 509.4 676.3C513.1 678.6 516.9 681.4 517.8 684.6C518.7 687.8 516.9 692.4 515 695.6C513.1 698.8 509.4 700.6 506.5 703.8C503.7 707 500.9 713 498.1 714.8C495.3 716.6 491.3 717.1 489.6 714.8C488 712.5 489.6 705.2 488.2 701.1C486.8 696.9 482.1 694.2 481.2 690.1C480.3 686 480.3 679.5 482.6 676.3Z" fill-opacity="0.561" stroke="#000" stroke-width="5" stroke-opacity="0.333"/><path d="M487.8 703.3C490.4 701.7 496.8 703.9 499.3 707C501.9 710.1 504.4 718.8 503.2 721.9C501.9 725.1 494.9 726.6 491.7 725.7C488.5 724.7 484.7 720.1 484 716.3C483.4 712.6 485.3 704.8 487.8 703.3Z" fill-opacity="0.345"/></g>
<g filter="url(#c2_O)"><path d="M475.4 732.2C476.7 729.1 481.9 725.5 485.9 723.8C489.9 722.1 494.5 721.3 499.3 721.9C504.1 722.6 509.9 725.4 514.7 727.5C519.4 729.7 522.6 734.7 528.1 735C533.5 735.3 541.5 732.2 547.2 729.4C552.9 726.6 558.1 721.5 562.5 718.2C567 714.9 570.8 711 574 709.8C577.3 708.5 581.7 708.1 582.1 710.7C582.4 713.4 578.5 720.7 575.9 725.7C573.3 730.7 569.5 735.3 566.4 740.6C563.2 745.9 560.6 752.8 556.8 757.4C552.9 762.1 548.2 765.8 543.4 768.6C538.6 771.4 532.8 773.9 528.1 774.2C523.3 774.6 519.4 772.4 514.7 770.5C509.9 768.6 504.1 765.8 499.3 763C494.5 760.2 489.4 757.1 485.9 753.7C482.4 750.3 480 746.1 478.3 742.5C476.5 738.9 474.1 735.3 475.4 732.2Z" fill-opacity="1" stroke="#000" stroke-width="5" stroke-opacity="0.333"/><path d="M499.3 716.3C500.6 712.9 512.1 710.7 518.5 710.7C524.9 710.7 531.2 716 537.6 716.3C544 716.6 551.7 714.2 556.8 712.6C561.9 711 567 705.4 568.3 707C569.5 708.5 569.5 717 564.4 721.9C559.3 726.9 546.6 735.3 537.6 736.9C528.7 738.4 517.2 734.7 510.8 731.3C504.4 727.9 498.1 719.8 499.3 716.3Z" fill-opacity="0.396"/><path d="M487.8 766.8C493.3 764 509.5 769.9 514.7 772.4C519.8 774.9 520.4 778.3 518.5 781.7C516.6 785.1 507.6 789.2 503.2 792.9C498.7 796.7 495.5 801.6 491.7 804.1C487.8 806.6 481.8 810.4 480.2 807.9C478.6 805.4 480.8 796 482.1 789.2C483.4 782.3 482.4 769.6 487.8 766.8Z" fill-opacity="0.368"/></g>
<g filter="url(#c2_M)"><path d="M515 659.9C518.3 657.8 526.7 656.2 531.9 657.1C537 658 542.7 662.1 546 665.3C549.3 668.6 551.6 672.2 551.6 676.3C551.6 680.5 548.8 686.4 546 690.1C543.2 693.7 538.5 697.6 534.7 698.3C530.9 699 526.5 697.2 523.4 694.2C520.4 691.2 518.3 684.6 516.4 680.5C514.5 676.3 512.4 672.9 512.2 669.5C511.9 666 511.7 661.9 515 659.9Z" fill-opacity="0.561" stroke="#000" stroke-width="5" stroke-opacity="0.333"/><path d="M518.5 699.5C523.3 696.7 535.1 694.5 541.5 695.8C547.8 697 554.9 702 556.8 707C558.7 712 556.8 720.7 552.9 725.7C549.1 730.7 539.5 736.3 533.8 736.9C528.1 737.5 522 733.5 518.5 729.4C515 725.4 512.7 717.6 512.7 712.6C512.7 707.6 513.7 702.3 518.5 699.5Z" fill-opacity="0.345"/></g>
<g filter="url(#c2_C)"><path d="M425 817.2C425.2 814.5 430.5 806.3 433.3 805.1C436.1 803.8 438.5 807.6 441.9 809.7C445.2 811.9 448.9 815.7 453.4 818.1C457.8 820.6 464.5 824.5 468.7 824.7C472.8 824.8 475.6 821.9 478.3 819.1C481 816.3 482.7 812.2 485 807.9C487.2 803.6 489.3 795.4 491.7 793.3C494.1 791.2 498.6 792.7 499.3 795.2C500 797.6 497.7 803 495.9 807.9C494 812.8 490.8 820 488.2 824.7C485.7 829.4 483.1 833.3 480.6 835.9C478 838.4 476.2 840.6 472.9 840C469.7 839.4 465.6 834.7 461 832.5C456.5 830.3 450.5 828.8 445.7 826.9C440.9 825.1 435.8 822.9 432.3 821.3C428.9 819.7 424.9 819.9 425 817.2Z" fill-opacity="1" stroke="#000" stroke-width="5" stroke-opacity="0.333"/><path d="M441.9 807.9C443.2 805.1 454.7 802.9 461 800.4C467.4 797.9 475.7 792.9 480.2 792.9C484.7 792.9 487.8 796 487.8 800.4C487.8 804.8 483.4 815.3 480.2 819.1C477 822.8 473.2 823.1 468.7 822.8C464.2 822.5 457.8 819.7 453.4 817.2C448.9 814.7 440.6 810.7 441.9 807.9Z" fill-opacity="0.308"/></g>
<line x1="45.4" y1="859.2" x2="45.4" y2="767.1" stroke="#000" stroke-width="2.3"/><path d="M45.4 744.6L57.1 768.1L33.6 768.1Z" fill="#000"/>
<line x1="44.3" y1="858.1" x2="137.1" y2="858.1" stroke="#000" stroke-width="2.3"/><path d="M159.6 858.1L136.1 869.4L136.1 846.9Z" fill="#000"/>
<text x="47.8" y="897.3" font-size="32" textLength="107.5" lengthAdjust="spacing">UMAP 1</text>
<text x="23.6" y="862.3" font-size="34.5" textLength="110.3" lengthAdjust="spacingAndGlyphs" transform="rotate(-90 23.6 862.3)">UMAP 2</text>
</g>
<g id="pd">
<text x="689.5" y="494.3" font-size="49.5" font-weight="bold">d</text>
<rect x="780" y="575.7" width="193.9" height="37.2" fill="#8da0cb"/>
<rect x="973.6" y="575.7" width="19.9" height="37.2" fill="#e78ac3"/>
<rect x="993.2" y="575.7" width="11.4" height="37.2" fill="#66c2a5"/>
<rect x="1004.3" y="575.7" width="12.8" height="37.2" fill="#fc8d62"/>
<rect x="1016.8" y="575.7" width="2.1" height="37.2" fill="#a6d854"/>
<rect x="1018.6" y="575.7" width="8.2" height="37.2" fill="#ffd92f"/>
<rect x="1026.4" y="575.7" width="3.9" height="37.2" fill="#b3b3b3"/>
<rect x="1030" y="575.7" width="26" height="37.2" fill="#d2b48c"/>
<rect x="780" y="617.9" width="187.1" height="35" fill="#8da0cb"/>
<rect x="966.8" y="617.9" width="38.5" height="35" fill="#e78ac3"/>
<rect x="1005" y="617.9" width="1.7" height="35" fill="#66c2a5"/>
<rect x="1006.4" y="617.9" width="27.1" height="35" fill="#fc8d62"/>
<rect x="1033.2" y="617.9" width="8.2" height="35" fill="#a6d854"/>
<rect x="1041.1" y="617.9" width="9.6" height="35" fill="#ffd92f"/>
<rect x="1050.4" y="617.9" width="5.7" height="35" fill="#b3b3b3"/>
<rect x="780" y="657" width="165.7" height="37.3" fill="#8da0cb"/>
<rect x="945.4" y="657" width="48.2" height="37.3" fill="#e78ac3"/>
<rect x="993.2" y="657" width="40.3" height="37.3" fill="#66c2a5"/>
<rect x="1033.2" y="657" width="13.2" height="37.3" fill="#fc8d62"/>
<rect x="1046.1" y="657" width="3.2" height="37.3" fill="#a6d854"/>
<rect x="1048.9" y="657" width="7.1" height="37.3" fill="#b3b3b3"/>
<g fill="#444">
<text x="752.5" y="605" font-size="23.5" text-anchor="end">chip3</text>
<text x="752.5" y="645" font-size="23.5" text-anchor="end">chip2</text>
<text x="752.5" y="685.7" font-size="23.5" text-anchor="end">chip1</text>
<text x="780" y="732.9" font-size="22.5" text-anchor="middle">0</text>
<text x="848.6" y="732.9" font-size="22.5" text-anchor="middle">25</text>
<text x="917.5" y="732.9" font-size="22.5" text-anchor="middle">50</text>
<text x="986.4" y="732.9" font-size="22.5" text-anchor="middle">75</text>
<text x="1055.7" y="732.9" font-size="22.5" text-anchor="middle">100</text>
</g>
<text x="918.3" y="767.5" font-size="29" text-anchor="middle" fill="#000">Proportion (%)</text>
<rect x="1095.7" y="491.8" width="36.3" height="36.3" fill="#8da0cb"/>
<text x="1147.1" y="518.6" font-size="20.2" fill="#000">Neuron</text>
<rect x="1095.7" y="531" width="36.3" height="36.3" fill="#e78ac3"/>
<text x="1147.1" y="557.8" font-size="20.2" fill="#000">Oligodendrocyte</text>
<rect x="1095.7" y="570.3" width="36.3" height="36.3" fill="#66c2a5"/>
<text x="1147.1" y="597.1" font-size="20.2" fill="#000">Choroid_plexus</text>
<rect x="1095.7" y="609.5" width="36.3" height="36.3" fill="#fc8d62"/>
<text x="1147.1" y="636.3" font-size="20.2" fill="#000">RBC</text>
<rect x="1095.7" y="648.8" width="36.3" height="36.3" fill="#a6d854"/>
<text x="1147.1" y="675.6" font-size="20.2" fill="#000">Microglia</text>
<rect x="1095.7" y="688" width="36.3" height="36.3" fill="#ffd92f"/>
<text x="1147.1" y="714.8" font-size="20.2" fill="#000">Endothelial</text>
<rect x="1095.7" y="727.3" width="36.3" height="36.3" fill="#b3b3b3"/>
<text x="1147.1" y="754.1" font-size="20.2" fill="#000">Astrocyte</text>
<rect x="1095.7" y="766.5" width="36.3" height="36.3" fill="#d2b48c"/>
<text x="1147.1" y="793.3" font-size="20.2" fill="#000">Unknown</text>
</g>
<g id="pe">
<text x="1312" y="489.3" font-size="49.5" font-weight="bold">e</text>
<circle cx="1456.2" cy="481.4" r="0.9" fill="#f58a48"/>
<circle cx="1504.6" cy="481.4" r="0.9" fill="#f58a48"/>
<circle cx="1553.1" cy="481.4" r="0.9" fill="#f58a48"/>
<circle cx="1601.6" cy="481.4" r="0.9" fill="#f58a48"/>
<circle cx="1650" cy="481.4" r="0.7" fill="#fdb92e"/>
<circle cx="1698.6" cy="481.4" r="0.9" fill="#f58a48"/>
<circle cx="1747.2" cy="481.4" r="4" fill="#16068f"/>
<circle cx="1456.2" cy="494.1" r="4.8" fill="#fa9a3c"/>
<circle cx="1504.6" cy="494.1" r="3.2" fill="#fa9a3c"/>
<circle cx="1553.1" cy="494.1" r="2.3" fill="#f2ea2a"/>
<circle cx="1601.6" cy="494.1" r="4" fill="#e36761"/>
<circle cx="1650" cy="494.1" r="3.5" fill="#9c1c9e"/>
<circle cx="1698.6" cy="494.1" r="4.6" fill="#d5556e"/>
<circle cx="1747.2" cy="494.1" r="4.7" fill="#7403a8"/>
<circle cx="1456.2" cy="506.9" r="2.9" fill="#e36761"/>
<circle cx="1504.6" cy="506.9" r="1.5" fill="#fa9a3c"/>
<circle cx="1553.1" cy="506.9" r="1.6" fill="#fdb92e"/>
<circle cx="1601.6" cy="506.9" r="2.1" fill="#f2814e"/>
<circle cx="1650" cy="506.9" r="1.8" fill="#d5556e"/>
<circle cx="1698.6" cy="506.9" r="2.1" fill="#e36761"/>
<circle cx="1747.2" cy="506.9" r="4.9" fill="#4a04a0"/>
<circle cx="1456.2" cy="519.6" r="0.9" fill="#f58a48"/>
<circle cx="1504.6" cy="519.6" r="0.9" fill="#f58a48"/>
<circle cx="1553.1" cy="519.6" r="0.9" fill="#f58a48"/>
<circle cx="1601.6" cy="519.6" r="0.9" fill="#f58a48"/>
<circle cx="1650" cy="519.6" r="0.9" fill="#f58a48"/>
<circle cx="1698.6" cy="519.6" r="0.9" fill="#f58a48"/>
<circle cx="1747.2" cy="519.6" r="6.4" fill="#16068f"/>
<circle cx="1456.2" cy="532.3" r="0.9" fill="#f58a48"/>
<circle cx="1504.6" cy="532.3" r="0.9" fill="#f58a48"/>
<circle cx="1553.1" cy="532.3" r="2" fill="#9c1c9e"/>
<circle cx="1601.6" cy="532.3" r="0.9" fill="#f58a48"/>
<circle cx="1650" cy="532.3" r="0.9" fill="#f58a48"/>
<circle cx="1698.6" cy="532.3" r="4.6" fill="#4a04a0"/>
<circle cx="1747.2" cy="532.3" r="0.9" fill="#f58a48"/>
<circle cx="1456.2" cy="545" r="3.2" fill="#fdb92e"/>
<circle cx="1504.6" cy="545" r="3" fill="#d5556e"/>
<circle cx="1553.1" cy="545" r="2" fill="#f2ea2a"/>
<circle cx="1601.6" cy="545" r="3.2" fill="#e36761"/>
<circle cx="1650" cy="545" r="2.3" fill="#e36761"/>
<circle cx="1698.6" cy="545" r="4.9" fill="#7403a8"/>
<circle cx="1747.2" cy="545" r="3.2" fill="#bb3488"/>
<circle cx="1456.2" cy="557.8" r="5.1" fill="#f2814e"/>
<circle cx="1504.6" cy="557.8" r="2.9" fill="#fdb92e"/>
<circle cx="1553.1" cy="557.8" r="2.7" fill="#f2ea2a"/>
<circle cx="1601.6" cy="557.8" r="4.8" fill="#e36761"/>
<circle cx="1650" cy="557.8" r="4.6" fill="#9c1c9e"/>
<circle cx="1698.6" cy="557.8" r="5.9" fill="#9c1c9e"/>
<circle cx="1747.2" cy="557.8" r="4.6" fill="#bb3488"/>
<circle cx="1456.2" cy="570.5" r="0.9" fill="#f58a48"/>
<circle cx="1504.6" cy="570.5" r="0.9" fill="#f58a48"/>
<circle cx="1553.1" cy="570.5" r="0.9" fill="#f58a48"/>
<circle cx="1601.6" cy="570.5" r="0.9" fill="#e36761"/>
<circle cx="1650" cy="570.5" r="0.9" fill="#f58a48"/>
<circle cx="1698.6" cy="570.5" r="6.6" fill="#16068f"/>
<circle cx="1747.2" cy="570.5" r="0.9" fill="#f58a48"/>
<circle cx="1456.2" cy="583.2" r="2" fill="#f2ea2a"/>
<circle cx="1504.6" cy="583.2" r="1.5" fill="#bb3488"/>
<circle cx="1553.1" cy="583.2" r="1.7" fill="#f2814e"/>
<circle cx="1601.6" cy="583.2" r="1.7" fill="#fa9a3c"/>
<circle cx="1650" cy="583.2" r="1.8" fill="#4a04a0"/>
<circle cx="1698.6" cy="583.2" r="1.8" fill="#bb3488"/>
<circle cx="1747.2" cy="583.2" r="1.7" fill="#fa9a3c"/>
<circle cx="1456.2" cy="595.9" r="5.4" fill="#d5556e"/>
<circle cx="1504.6" cy="595.9" r="2.5" fill="#fdb92e"/>
<circle cx="1553.1" cy="595.9" r="3.4" fill="#fdb92e"/>
<circle cx="1601.6" cy="595.9" r="4" fill="#e36761"/>
<circle cx="1650" cy="595.9" r="7.7" fill="#4a04a0"/>
<circle cx="1698.6" cy="595.9" r="4.2" fill="#e36761"/>
<circle cx="1747.2" cy="595.9" r="3.2" fill="#fa9a3c"/>
<circle cx="1456.2" cy="608.7" r="5.1" fill="#f2814e"/>
<circle cx="1504.6" cy="608.7" r="3.2" fill="#fdb92e"/>
<circle cx="1553.1" cy="608.7" r="4.6" fill="#fa9a3c"/>
<circle cx="1601.6" cy="608.7" r="4.2" fill="#f2814e"/>
<circle cx="1650" cy="608.7" r="8.6" fill="#16068f"/>
<circle cx="1698.6" cy="608.7" r="4.9" fill="#e36761"/>
<circle cx="1747.2" cy="608.7" r="3.7" fill="#f2814e"/>
<circle cx="1456.2" cy="621.4" r="8.3" fill="#f2ea2a"/>
<circle cx="1504.6" cy="621.4" r="6.9" fill="#fa9a3c"/>
<circle cx="1553.1" cy="621.4" r="8.3" fill="#fa9a3c"/>
<circle cx="1601.6" cy="621.4" r="8.3" fill="#e36761"/>
<circle cx="1650" cy="621.4" r="11.4" fill="#4a04a0"/>
<circle cx="1698.6" cy="621.4" r="8.5" fill="#e36761"/>
<circle cx="1747.2" cy="621.4" r="8.3" fill="#bb3488"/>
<circle cx="1456.2" cy="634.1" r="0.9" fill="#f58a48"/>
<circle cx="1504.6" cy="634.1" r="0.9" fill="#f58a48"/>
<circle cx="1553.1" cy="634.1" r="0.9" fill="#f58a48"/>
<circle cx="1601.6" cy="634.1" r="4.2" fill="#16068f"/>
<circle cx="1650" cy="634.1" r="0.9" fill="#f58a48"/>
<circle cx="1698.6" cy="634.1" r="0.9" fill="#f58a48"/>
<circle cx="1747.2" cy="634.1" r="0.9" fill="#f58a48"/>
<circle cx="1456.2" cy="646.9" r="0.9" fill="#f58a48"/>
<circle cx="1504.6" cy="646.9" r="0.9" fill="#f58a48"/>
<circle cx="1553.1" cy="646.9" r="0.9" fill="#f58a48"/>
<circle cx="1601.6" cy="646.9" r="4.6" fill="#16068f"/>
<circle cx="1650" cy="646.9" r="0.9" fill="#f58a48"/>
<circle cx="1698.6" cy="646.9" r="0.9" fill="#f58a48"/>
<circle cx="1747.2" cy="646.9" r="0.9" fill="#f58a48"/>
<circle cx="1456.2" cy="659.6" r="0.9" fill="#f58a48"/>
<circle cx="1504.6" cy="659.6" r="0.9" fill="#f58a48"/>
<circle cx="1553.1" cy="659.6" r="0.9" fill="#f58a48"/>
<circle cx="1601.6" cy="659.6" r="5" fill="#16068f"/>
<circle cx="1650" cy="659.6" r="0.9" fill="#f58a48"/>
<circle cx="1698.6" cy="659.6" r="0.9" fill="#f58a48"/>
<circle cx="1747.2" cy="659.6" r="0.9" fill="#f58a48"/>
<circle cx="1456.2" cy="672.3" r="0.9" fill="#f58a48"/>
<circle cx="1504.6" cy="672.3" r="0.9" fill="#f58a48"/>
<circle cx="1553.1" cy="672.3" r="0.9" fill="#f58a48"/>
<circle cx="1601.6" cy="672.3" r="6.6" fill="#16068f"/>
<circle cx="1650" cy="672.3" r="0.9" fill="#f58a48"/>
<circle cx="1698.6" cy="672.3" r="0.9" fill="#f58a48"/>
<circle cx="1747.2" cy="672.3" r="0.9" fill="#f58a48"/>
<circle cx="1456.2" cy="685" r="0.9" fill="#f58a48"/>
<circle cx="1504.6" cy="685" r="0.9" fill="#f58a48"/>
<circle cx="1553.1" cy="685" r="4.6" fill="#16068f"/>
<circle cx="1601.6" cy="685" r="0.9" fill="#f58a48"/>
<circle cx="1650" cy="685" r="0.9" fill="#f58a48"/>
<circle cx="1698.6" cy="685" r="0.9" fill="#f58a48"/>
<circle cx="1747.2" cy="685" r="0.9" fill="#f58a48"/>
<circle cx="1456.2" cy="697.8" r="0.9" fill="#f58a48"/>
<circle cx="1504.6" cy="697.8" r="0.9" fill="#f58a48"/>
<circle cx="1553.1" cy="697.8" r="5.9" fill="#4a04a0"/>
<circle cx="1601.6" cy="697.8" r="1" fill="#f2814e"/>
<circle cx="1650" cy="697.8" r="0.9" fill="#fdb92e"/>
<circle cx="1698.6" cy="697.8" r="2" fill="#bb3488"/>
<circle cx="1747.2" cy="697.8" r="1.5" fill="#d5556e"/>
<circle cx="1456.2" cy="710.5" r="2" fill="#fdb92e"/>
<circle cx="1504.6" cy="710.5" r="4" fill="#d5556e"/>
<circle cx="1553.1" cy="710.5" r="8.5" fill="#4a04a0"/>
<circle cx="1601.6" cy="710.5" r="2.3" fill="#f2814e"/>
<circle cx="1650" cy="710.5" r="1.7" fill="#fa9a3c"/>
<circle cx="1698.6" cy="710.5" r="2.5" fill="#e36761"/>
<circle cx="1747.2" cy="710.5" r="2" fill="#fa9a3c"/>
<circle cx="1456.2" cy="723.2" r="2.3" fill="#fa9a3c"/>
<circle cx="1504.6" cy="723.2" r="2.9" fill="#e36761"/>
<circle cx="1553.1" cy="723.2" r="10" fill="#16068f"/>
<circle cx="1601.6" cy="723.2" r="2.3" fill="#f2814e"/>
<circle cx="1650" cy="723.2" r="2" fill="#fa9a3c"/>
<circle cx="1698.6" cy="723.2" r="2.5" fill="#d5556e"/>
<circle cx="1747.2" cy="723.2" r="2" fill="#fa9a3c"/>
<circle cx="1456.2" cy="735.9" r="1.7" fill="#f2ea2a"/>
<circle cx="1504.6" cy="735.9" r="4.2" fill="#4a04a0"/>
<circle cx="1553.1" cy="735.9" r="2" fill="#f2814e"/>
<circle cx="1601.6" cy="735.9" r="2.3" fill="#f2814e"/>
<circle cx="1650" cy="735.9" r="2" fill="#d5556e"/>
<circle cx="1698.6" cy="735.9" r="2.5" fill="#f2814e"/>
<circle cx="1747.2" cy="735.9" r="2.3" fill="#d5556e"/>
<circle cx="1456.2" cy="748.7" r="2.3" fill="#f2ea2a"/>
<circle cx="1504.6" cy="748.7" r="5.1" fill="#4a04a0"/>
<circle cx="1553.1" cy="748.7" r="2.5" fill="#f2814e"/>
<circle cx="1601.6" cy="748.7" r="2.5" fill="#f2814e"/>
<circle cx="1650" cy="748.7" r="2.3" fill="#e36761"/>
<circle cx="1698.6" cy="748.7" r="2.9" fill="#d5556e"/>
<circle cx="1747.2" cy="748.7" r="2.9" fill="#d5556e"/>
<circle cx="1456.2" cy="761.4" r="2.5" fill="#f2ea2a"/>
<circle cx="1504.6" cy="761.4" r="6.4" fill="#4a04a0"/>
<circle cx="1553.1" cy="761.4" r="4" fill="#e36761"/>
<circle cx="1601.6" cy="761.4" r="2.9" fill="#f2814e"/>
<circle cx="1650" cy="761.4" r="2.5" fill="#f2814e"/>
<circle cx="1698.6" cy="761.4" r="3.7" fill="#d5556e"/>
<circle cx="1747.2" cy="761.4" r="3.2" fill="#f2814e"/>
<circle cx="1456.2" cy="774.1" r="5.4" fill="#f2ea2a"/>
<circle cx="1504.6" cy="774.1" r="10.3" fill="#4a04a0"/>
<circle cx="1553.1" cy="774.1" r="5.4" fill="#f2814e"/>
<circle cx="1601.6" cy="774.1" r="5.9" fill="#e36761"/>
<circle cx="1650" cy="774.1" r="5.4" fill="#d5556e"/>
<circle cx="1698.6" cy="774.1" r="6.6" fill="#f2814e"/>
<circle cx="1747.2" cy="774.1" r="6.4" fill="#e36761"/>
<circle cx="1456.2" cy="786.8" r="4.2" fill="#4a04a0"/>
<circle cx="1504.6" cy="786.8" r="1.7" fill="#f2814e"/>
<circle cx="1553.1" cy="786.8" r="1.5" fill="#fdb92e"/>
<circle cx="1601.6" cy="786.8" r="2.5" fill="#9c1c9e"/>
<circle cx="1650" cy="786.8" r="1.5" fill="#fdb92e"/>
<circle cx="1698.6" cy="786.8" r="2.3" fill="#f2814e"/>
<circle cx="1747.2" cy="786.8" r="1.7" fill="#d5556e"/>
<circle cx="1456.2" cy="799.6" r="4.9" fill="#7403a8"/>
<circle cx="1504.6" cy="799.6" r="1.2" fill="#f2814e"/>
<circle cx="1553.1" cy="799.6" r="1.2" fill="#fdb92e"/>
<circle cx="1601.6" cy="799.6" r="2.9" fill="#9c1c9e"/>
<circle cx="1650" cy="799.6" r="1.2" fill="#fdb92e"/>
<circle cx="1698.6" cy="799.6" r="2.3" fill="#d5556e"/>
<circle cx="1747.2" cy="799.6" r="1.5" fill="#f2814e"/>
<circle cx="1456.2" cy="812.3" r="7.7" fill="#9c1c9e"/>
<circle cx="1504.6" cy="812.3" r="2.9" fill="#f2ea2a"/>
<circle cx="1553.1" cy="812.3" r="3.7" fill="#fdb92e"/>
<circle cx="1601.6" cy="812.3" r="6.6" fill="#bb3488"/>
<circle cx="1650" cy="812.3" r="3.2" fill="#fa9a3c"/>
<circle cx="1698.6" cy="812.3" r="5.7" fill="#bb3488"/>
<circle cx="1747.2" cy="812.3" r="5.4" fill="#bb3488"/>
<circle cx="1456.2" cy="825" r="11.4" fill="#4a04a0"/>
<circle cx="1504.6" cy="825" r="2.5" fill="#fdb92e"/>
<circle cx="1553.1" cy="825" r="2.5" fill="#f2ea2a"/>
<circle cx="1601.6" cy="825" r="5.4" fill="#bb3488"/>
<circle cx="1650" cy="825" r="3.4" fill="#e36761"/>
<circle cx="1698.6" cy="825" r="4.6" fill="#e36761"/>
<circle cx="1747.2" cy="825" r="4" fill="#e36761"/>
<path d="M1426.7 473.3V832.8H1776.4M1426.7 481.4h-6M1426.7 494.1h-6M1426.7 506.9h-6M1426.7 519.6h-6M1426.7 532.3h-6M1426.7 545h-6M1426.7 557.8h-6M1426.7 570.5h-6M1426.7 583.2h-6M1426.7 595.9h-6M1426.7 608.7h-6M1426.7 621.4h-6M1426.7 634.1h-6M1426.7 646.9h-6M1426.7 659.6h-6M1426.7 672.3h-6M1426.7 685h-6M1426.7 697.8h-6M1426.7 710.5h-6M1426.7 723.2h-6M1426.7 735.9h-6M1426.7 748.7h-6M1426.7 761.4h-6M1426.7 774.1h-6M1426.7 786.8h-6M1426.7 799.6h-6M1426.7 812.3h-6M1426.7 825h-6M1456.2 832.8v6M1504.6 832.8v6M1553.1 832.8v6M1601.6 832.8v6M1650 832.8v6M1698.6 832.8v6M1747.2 832.8v6" fill="none" stroke="#000" stroke-width="1.3"/>
<g font-size="18.3" text-anchor="end" fill="#000">
<text x="1416.5" y="487.9">Npas3</text>
<text x="1416.5" y="500.6">Slc1a2</text>
<text x="1416.5" y="513.4">Lsamp</text>
<text x="1416.5" y="526.1">Gpc5</text>
<text x="1416.5" y="538.8">Mgp</text>
<text x="1416.5" y="551.5">Ptn</text>
<text x="1416.5" y="564.3">Sparcl1</text>
<text x="1416.5" y="577">Vtn</text>
<text x="1416.5" y="589.7">Hexb</text>
<text x="1416.5" y="602.4">Camk1d</text>
<text x="1416.5" y="615.2">Il31ra</text>
<text x="1416.5" y="627.9">Cst3</text>
<text x="1416.5" y="640.6">Hbb-bt</text>
<text x="1416.5" y="653.4">Hba-a2</text>
<text x="1416.5" y="666.1">Hba-a1</text>
<text x="1416.5" y="678.8">Hbb-bs</text>
<text x="1416.5" y="691.5">Ecrg4</text>
<text x="1416.5" y="704.3">Igfbp2</text>
<text x="1416.5" y="717">Enpp2</text>
<text x="1416.5" y="729.7">Ttr</text>
<text x="1416.5" y="742.4">Mal</text>
<text x="1416.5" y="755.2">Mag</text>
<text x="1416.5" y="767.9">Trf</text>
<text x="1416.5" y="780.6">Plp1</text>
<text x="1416.5" y="793.3">Hpca</text>
<text x="1416.5" y="806.1">Nrgn</text>
<text x="1416.5" y="818.8">Pcp4</text>
<text x="1416.5" y="831.5">Snap25</text>
</g>
<text x="1465.7" y="852.3" font-size="18.3" text-anchor="end" fill="#000" transform="rotate(-45 1465.7 852.3)">Neuron</text>
<text x="1514.1" y="852.3" font-size="18.3" text-anchor="end" fill="#000" transform="rotate(-45 1514.1 852.3)">Oligodendrocyte</text>
<text x="1562.6" y="852.3" font-size="18.3" text-anchor="end" fill="#000" transform="rotate(-45 1562.6 852.3)">Choroid_plexus</text>
<text x="1611.1" y="852.3" font-size="18.3" text-anchor="end" fill="#000" transform="rotate(-45 1611.1 852.3)">RBC</text>
<text x="1659.5" y="852.3" font-size="18.3" text-anchor="end" fill="#000" transform="rotate(-45 1659.5 852.3)">Microglia</text>
<text x="1708.1" y="852.3" font-size="18.3" text-anchor="end" fill="#000" transform="rotate(-45 1708.1 852.3)">Endothelial</text>
<text x="1756.7" y="852.3" font-size="18.3" text-anchor="end" fill="#000" transform="rotate(-45 1756.7 852.3)">Astrocyte</text>
<defs><linearGradient id="plg" x1="0" y1="0" x2="0" y2="1"><stop offset="0" stop-color="#0d0887"/><stop offset="0.12" stop-color="#3d049c"/><stop offset="0.25" stop-color="#6a00a8"/><stop offset="0.37" stop-color="#9c179e"/><stop offset="0.5" stop-color="#c5407e"/><stop offset="0.62" stop-color="#e16462"/><stop offset="0.75" stop-color="#f58b47"/><stop offset="0.87" stop-color="#fdb42f"/><stop offset="1" stop-color="#f0f921"/></linearGradient></defs>
<text x="1798.3" y="510.3" font-size="21.4">Average Expression</text>
<rect x="1798.3" y="523.2" width="23.4" height="117.9" fill="url(#plg)"/>
<path d="M1798.3 531.5h4.5M1821.7 531.5h-4.5" stroke="#fff" stroke-width="0.8"/>
<text x="1832.3" y="538" font-size="18">2</text>
<path d="M1798.3 562.9h4.5M1821.7 562.9h-4.5" stroke="#fff" stroke-width="0.8"/>
<text x="1832.3" y="569.4" font-size="18">1</text>
<path d="M1798.3 594.3h4.5M1821.7 594.3h-4.5" stroke="#fff" stroke-width="0.8"/>
<text x="1832.3" y="600.8" font-size="18">0</text>
<path d="M1798.3 625.6h4.5M1821.7 625.6h-4.5" stroke="#fff" stroke-width="0.8"/>
<text x="1832.3" y="632.1" font-size="18">-1</text>
<text x="1798.3" y="679.3" font-size="21.4">Percent Expressed</text>
<circle cx="1810.8" cy="704.7" r="0.8"/>
<text x="1835" y="711.2" font-size="18">0</text>
<circle cx="1810.8" cy="728.5" r="3.6"/>
<text x="1835" y="735" font-size="18">25</text>
<circle cx="1810.8" cy="751.9" r="6"/>
<text x="1835" y="758.4" font-size="18">50</text>
<circle cx="1810.8" cy="775.3" r="8.5"/>
<text x="1835" y="781.8" font-size="18">75</text>
<circle cx="1810.8" cy="799.2" r="11"/>
<text x="1835" y="805.7" font-size="18">100</text>
</g>
<g id="pf">
<text x="2" y="984.6" font-size="49.5" font-weight="bold">f</text>
<defs><clipPath id="fclip"><path d="M73.2 1006.1C78.5 1003.7 94.9 1007.4 106.3 1007.2C117.7 1007.1 129.9 1004.9 141.7 1004.9C153.6 1004.9 165.4 1006.7 177.2 1007.2C189 1007.8 202 1008 212.6 1008.4C223.2 1008.9 233.9 1008.3 241 1010.1C248.1 1011.9 251.5 1014.8 255.1 1019.1C258.8 1023.3 261.7 1029.7 262.7 1035.6C263.7 1041.5 261.7 1049 261 1054.5C260.4 1060 261.2 1063.9 258.7 1068.7C256.1 1073.4 248.6 1077.3 245.7 1082.8C242.7 1088.4 241.2 1094.7 241 1101.7C240.8 1108.8 243.3 1117.5 244.5 1125.4C245.7 1133.2 247.1 1141.1 248.1 1149C249 1156.9 250.4 1164.7 250.4 1172.6C250.4 1180.5 248.6 1188 248.1 1196.2C247.5 1204.5 249.6 1217.3 246.9 1222.2C244.1 1227.1 237.2 1226.4 231.5 1225.8C225.8 1225.2 219.7 1220.7 212.6 1218.7C205.5 1216.7 196.9 1215.3 189 1214C181.1 1212.7 175.2 1212.3 165.4 1210.9C155.5 1209.5 139.8 1208.5 129.9 1205.7C120.1 1202.9 112.6 1198.6 106.3 1193.9C100 1189.2 95.2 1184.8 92.1 1177.3C89.1 1169.9 90.2 1156.8 87.9 1149C85.6 1141.2 82.4 1135.6 78.4 1130.6C74.5 1125.5 65.3 1123.2 64.3 1118.8C63.2 1114.3 70 1108.5 72.1 1104.1C74.1 1099.7 74.1 1095.1 76.8 1092.3C79.4 1089.5 87.6 1091.1 87.9 1087.6C88.2 1084 81.3 1076.5 78.4 1071C75.6 1065.5 71.1 1060 70.9 1054.5C70.6 1049 76.2 1043.5 76.8 1038C77.4 1032.4 75 1026.7 74.4 1021.4C73.8 1016.1 67.9 1008.4 73.2 1006.1Z"/></clipPath>
<filter id="f_or" filterUnits="userSpaceOnUse" x="55" y="995" width="220" height="245" color-interpolation-filters="sRGB"><feGaussianBlur in="SourceAlpha" stdDeviation="1.3" result="b"/><feTurbulence type="fractalNoise" baseFrequency="1.73" numOctaves="1" seed="31" result="n"/><feComposite in="b" in2="n" operator="arithmetic" k1="0" k2="1" k3="-1.4" k4="0.6699999999999999"/><feComponentTransfer result="t"><feFuncA type="discrete" tableValues="0 1"/></feComponentTransfer><feFlood flood-color="#ff8c00"/><feComposite in2="t" operator="in"/></filter>
<filter id="f_gr" filterUnits="userSpaceOnUse" x="55" y="995" width="220" height="245" color-interpolation-filters="sRGB"><feGaussianBlur in="SourceAlpha" stdDeviation="1.3" result="b"/><feTurbulence type="fractalNoise" baseFrequency="1.73" numOctaves="1" seed="32" result="n"/><feComposite in="b" in2="n" operator="arithmetic" k1="0" k2="1" k3="-1.4" k4="0.6699999999999999"/><feComponentTransfer result="t"><feFuncA type="discrete" tableValues="0 1"/></feComponentTransfer><feFlood flood-color="#008000"/><feComposite in2="t" operator="in"/></filter>
<filter id="f_rd" filterUnits="userSpaceOnUse" x="55" y="995" width="220" height="245" color-interpolation-filters="sRGB"><feGaussianBlur in="SourceAlpha" stdDeviation="1.3" result="b"/><feTurbulence type="fractalNoise" baseFrequency="1.73" numOctaves="1" seed="33" result="n"/><feComposite in="b" in2="n" operator="arithmetic" k1="0" k2="1" k3="-1.4" k4="0.6699999999999999"/><feComponentTransfer result="t"><feFuncA type="discrete" tableValues="0 1"/></feComponentTransfer><feFlood flood-color="#dc143c"/><feComposite in2="t" operator="in"/></filter>
<filter id="f_cy" filterUnits="userSpaceOnUse" x="55" y="995" width="220" height="245" color-interpolation-filters="sRGB"><feGaussianBlur in="SourceAlpha" stdDeviation="1.3" result="b"/><feTurbulence type="fractalNoise" baseFrequency="1.73" numOctaves="1" seed="34" result="n"/><feComposite in="b" in2="n" operator="arithmetic" k1="0" k2="1" k3="-1.4" k4="0.6699999999999999"/><feComponentTransfer result="t"><feFuncA type="discrete" tableValues="0 1"/></feComponentTransfer><feFlood flood-color="#00e5e5"/><feComposite in2="t" operator="in"/></filter>
<filter id="f_pu" filterUnits="userSpaceOnUse" x="55" y="995" width="220" height="245" color-interpolation-filters="sRGB"><feGaussianBlur in="SourceAlpha" stdDeviation="1.3" result="b"/><feTurbulence type="fractalNoise" baseFrequency="1.73" numOctaves="1" seed="35" result="n"/><feComposite in="b" in2="n" operator="arithmetic" k1="0" k2="1" k3="-1.4" k4="0.6699999999999999"/><feComponentTransfer result="t"><feFuncA type="discrete" tableValues="0 1"/></feComponentTransfer><feFlood flood-color="#800080"/><feComposite in2="t" operator="in"/></filter>
<filter id="f_tl" filterUnits="userSpaceOnUse" x="55" y="995" width="220" height="245" color-interpolation-filters="sRGB"><feGaussianBlur in="SourceAlpha" stdDeviation="1.3" result="b"/><feTurbulence type="fractalNoise" baseFrequency="1.73" numOctaves="1" seed="36" result="n"/><feComposite in="b" in2="n" operator="arithmetic" k1="0" k2="1" k3="-1.4" k4="0.6699999999999999"/><feComponentTransfer result="t"><feFuncA type="discrete" tableValues="0 1"/></feComponentTransfer><feFlood flood-color="#20b2aa"/><feComposite in2="t" operator="in"/></filter>
<filter id="f_ye" filterUnits="userSpaceOnUse" x="55" y="995" width="220" height="245" color-interpolation-filters="sRGB"><feGaussianBlur in="SourceAlpha" stdDeviation="1.3" result="b"/><feTurbulence type="fractalNoise" baseFrequency="1.73" numOctaves="1" seed="37" result="n"/><feComposite in="b" in2="n" operator="arithmetic" k1="0" k2="1" k3="-1.4" k4="0.6699999999999999"/><feComponentTransfer result="t"><feFuncA type="discrete" tableValues="0 1"/></feComponentTransfer><feFlood flood-color="#ffd700"/><feComposite in2="t" operator="in"/></filter>
<filter id="f_wh" filterUnits="userSpaceOnUse" x="55" y="995" width="220" height="245" color-interpolation-filters="sRGB"><feGaussianBlur in="SourceAlpha" stdDeviation="1.3" result="b"/><feTurbulence type="fractalNoise" baseFrequency="1.73" numOctaves="1" seed="38" result="n"/><feComposite in="b" in2="n" operator="arithmetic" k1="0" k2="1" k3="-1.4" k4="0.6699999999999999"/><feComponentTransfer result="t"><feFuncA type="discrete" tableValues="0 1"/></feComponentTransfer><feFlood flood-color="#ffffff"/><feComposite in2="t" operator="in"/></filter>
<filter id="f_o2" filterUnits="userSpaceOnUse" x="55" y="995" width="220" height="245" color-interpolation-filters="sRGB"><feGaussianBlur in="SourceAlpha" stdDeviation="1.3" result="b"/><feTurbulence type="fractalNoise" baseFrequency="1.73" numOctaves="1" seed="39" result="n"/><feComposite in="b" in2="n" operator="arithmetic" k1="0" k2="1" k3="-1.4" k4="0.6699999999999999"/><feComponentTransfer result="t"><feFuncA type="discrete" tableValues="0 1"/></feComponentTransfer><feFlood flood-color="#ff8c00"/><feComposite in2="t" operator="in"/></filter>
<filter id="f_g2" filterUnits="userSpaceOnUse" x="55" y="995" width="220" height="245" color-interpolation-filters="sRGB"><feGaussianBlur in="SourceAlpha" stdDeviation="1.3" result="b"/><feTurbulence type="fractalNoise" baseFrequency="1.73" numOctaves="1" seed="40" result="n"/><feComposite in="b" in2="n" operator="arithmetic" k1="0" k2="1" k3="-1.4" k4="0.6699999999999999"/><feComponentTransfer result="t"><feFuncA type="discrete" tableValues="0 1"/></feComponentTransfer><feFlood flood-color="#008000"/><feComposite in2="t" operator="in"/></filter>
</defs>
<g>
<g filter="url(#f_gr)"><path d="M73.2 1006.1C78.5 1003.7 94.9 1007.4 106.3 1007.2C117.7 1007.1 129.9 1004.9 141.7 1004.9C153.6 1004.9 165.4 1006.7 177.2 1007.2C189 1007.8 202 1008 212.6 1008.4C223.2 1008.9 233.9 1008.3 241 1010.1C248.1 1011.9 251.5 1014.8 255.1 1019.1C258.8 1023.3 261.7 1029.7 262.7 1035.6C263.7 1041.5 261.7 1049 261 1054.5C260.4 1060 261.2 1063.9 258.7 1068.7C256.1 1073.4 248.6 1077.3 245.7 1082.8C242.7 1088.4 241.2 1094.7 241 1101.7C240.8 1108.8 243.3 1117.5 244.5 1125.4C245.7 1133.2 247.1 1141.1 248.1 1149C249 1156.9 250.4 1164.7 250.4 1172.6C250.4 1180.5 248.6 1188 248.1 1196.2C247.5 1204.5 249.6 1217.3 246.9 1222.2C244.1 1227.1 237.2 1226.4 231.5 1225.8C225.8 1225.2 219.7 1220.7 212.6 1218.7C205.5 1216.7 196.9 1215.3 189 1214C181.1 1212.7 175.2 1212.3 165.4 1210.9C155.5 1209.5 139.8 1208.5 129.9 1205.7C120.1 1202.9 112.6 1198.6 106.3 1193.9C100 1189.2 95.2 1184.8 92.1 1177.3C89.1 1169.9 90.2 1156.8 87.9 1149C85.6 1141.2 82.4 1135.6 78.4 1130.6C74.5 1125.5 65.3 1123.2 64.3 1118.8C63.2 1114.3 70 1108.5 72.1 1104.1C74.1 1099.7 74.1 1095.1 76.8 1092.3C79.4 1089.5 87.6 1091.1 87.9 1087.6C88.2 1084 81.3 1076.5 78.4 1071C75.6 1065.5 71.1 1060 70.9 1054.5C70.6 1049 76.2 1043.5 76.8 1038C77.4 1032.4 75 1026.7 74.4 1021.4C73.8 1016.1 67.9 1008.4 73.2 1006.1Z" fill-opacity="0.345"/><path d="M78 1023.8C81.9 1020.4 97.3 1016.3 106.3 1015.5C115.4 1014.7 124 1017.3 132.3 1019.1C140.6 1020.8 147.3 1022.8 155.9 1026.1C164.6 1029.5 175.6 1033.2 184.3 1039.1C192.9 1045 201.8 1055.1 207.9 1061.6C214 1068.1 220.1 1074.6 220.9 1078.1C221.7 1081.7 216.7 1084.8 212.6 1082.8C208.5 1080.9 202.4 1071.8 196.1 1066.3C189.8 1060.8 182.3 1054.5 174.8 1049.8C167.3 1045 159.1 1041.1 151.2 1038C143.3 1034.8 135.4 1032.4 127.6 1030.9C119.7 1029.3 111.4 1027.7 103.9 1028.5C96.5 1029.3 87 1036.4 82.7 1035.6C78.4 1034.8 74 1027.1 78 1023.8Z" fill-opacity="0.287"/><path d="M172.5 1082.8C176.4 1079.1 190.2 1076.2 198.4 1075.8C206.7 1075.4 216.2 1074.6 222.1 1080.5C228 1086.4 230.9 1100.6 233.9 1111.2C236.8 1121.8 238.4 1134 239.8 1144.3C241.2 1154.5 244.3 1166.3 242.1 1172.6C240 1178.9 231.7 1184 226.8 1182.1C221.9 1180.1 216.9 1169.5 212.6 1160.8C208.3 1152.1 205.1 1138.4 200.8 1130.1C196.5 1121.8 191 1116.5 186.6 1111.2C182.3 1105.9 177.2 1102.9 174.8 1098.2C172.5 1093.5 168.5 1086.6 172.5 1082.8Z" fill-opacity="0.334"/><path d="M184.3 1186.8C188.6 1185.4 203.6 1188.6 212.6 1190.3C221.7 1192.1 234.3 1192.5 238.6 1197.4C242.9 1202.3 241.4 1216.3 238.6 1219.9C235.8 1223.4 228 1220.7 222.1 1218.7C216.2 1216.7 209.1 1211.4 203.2 1208.1C197.3 1204.7 189.8 1202.1 186.6 1198.6C183.5 1195.1 179.9 1188.2 184.3 1186.8Z" fill-opacity="0.287"/><path d="M137 1082.8C140.2 1080.5 159.9 1078.9 165.4 1080.5C170.9 1082.1 173.2 1089.9 170.1 1092.3C166.9 1094.7 152 1096.2 146.5 1094.7C141 1093.1 133.9 1085.2 137 1082.8Z" fill-opacity="0.221"/><path d="M99.2 1125.4C106.3 1115.9 126.8 1111.2 141.7 1111.2C156.7 1111.2 178 1116.7 189 1125.4C200 1134 205.5 1151.4 207.9 1163.2C210.3 1175 210.3 1189.2 203.2 1196.2C196.1 1203.3 178.8 1205.7 165.4 1205.7C152 1205.7 133.9 1202.5 122.8 1196.2C111.8 1189.9 103.2 1179.7 99.2 1167.9C95.3 1156.1 92.1 1134.8 99.2 1125.4Z" fill-opacity="0.099"/></g>
<g filter="url(#f_or)"><path d="M73.2 1006.1C78.5 1003.7 94.9 1007.4 106.3 1007.2C117.7 1007.1 129.9 1004.9 141.7 1004.9C153.6 1004.9 165.4 1006.7 177.2 1007.2C189 1007.8 202 1008 212.6 1008.4C223.2 1008.9 233.9 1008.3 241 1010.1C248.1 1011.9 251.5 1014.8 255.1 1019.1C258.8 1023.3 261.7 1029.7 262.7 1035.6C263.7 1041.5 261.7 1049 261 1054.5C260.4 1060 261.2 1063.9 258.7 1068.7C256.1 1073.4 248.6 1077.3 245.7 1082.8C242.7 1088.4 241.2 1094.7 241 1101.7C240.8 1108.8 243.3 1117.5 244.5 1125.4C245.7 1133.2 247.1 1141.1 248.1 1149C249 1156.9 250.4 1164.7 250.4 1172.6C250.4 1180.5 248.6 1188 248.1 1196.2C247.5 1204.5 249.6 1217.3 246.9 1222.2C244.1 1227.1 237.2 1226.4 231.5 1225.8C225.8 1225.2 219.7 1220.7 212.6 1218.7C205.5 1216.7 196.9 1215.3 189 1214C181.1 1212.7 175.2 1212.3 165.4 1210.9C155.5 1209.5 139.8 1208.5 129.9 1205.7C120.1 1202.9 112.6 1198.6 106.3 1193.9C100 1189.2 95.2 1184.8 92.1 1177.3C89.1 1169.9 90.2 1156.8 87.9 1149C85.6 1141.2 82.4 1135.6 78.4 1130.6C74.5 1125.5 65.3 1123.2 64.3 1118.8C63.2 1114.3 70 1108.5 72.1 1104.1C74.1 1099.7 74.1 1095.1 76.8 1092.3C79.4 1089.5 87.6 1091.1 87.9 1087.6C88.2 1084 81.3 1076.5 78.4 1071C75.6 1065.5 71.1 1060 70.9 1054.5C70.6 1049 76.2 1043.5 76.8 1038C77.4 1032.4 75 1026.7 74.4 1021.4C73.8 1016.1 67.9 1008.4 73.2 1006.1Z" fill-opacity="0.499"/><path d="M75.6 1007.2C86.2 1004.7 118.9 1005.9 141.7 1006.1C164.6 1006.3 193.7 1006.3 212.6 1008.4C231.5 1010.6 246.9 1014.1 255.1 1019.1C263.4 1024 261.4 1030.1 262.2 1038C263 1045.8 262.6 1060.4 259.9 1066.3C257.1 1072.2 250.4 1075.4 245.7 1073.4C241 1071.4 237 1060.4 231.5 1054.5C226 1048.6 220.5 1043.1 212.6 1038C204.7 1032.8 194.5 1027.5 184.3 1023.8C174 1020 162.2 1017.3 151.2 1015.5C140.2 1013.7 127.6 1013.2 118.1 1013.2C108.7 1013.2 101.2 1014.1 94.5 1015.5C87.8 1016.9 81.1 1022.8 78 1021.4C74.8 1020 65 1009.8 75.6 1007.2Z" fill-opacity="0.142"/><path d="M92.1 1111.2C98 1105.7 110.6 1103.3 122.8 1101.7C135.1 1100.2 154.3 1097.8 165.4 1101.7C176.4 1105.7 182.7 1115.5 189 1125.4C195.3 1135.2 201.6 1149 203.2 1160.8C204.7 1172.6 204.7 1188.4 198.4 1196.2C192.1 1204.1 177.2 1206.9 165.4 1208.1C153.6 1209.2 137.8 1206.9 127.6 1203.3C117.3 1199.8 109.9 1193.5 103.9 1186.8C98 1180.1 94.9 1171.8 92.1 1163.2C89.4 1154.5 87.4 1143.5 87.4 1134.8C87.4 1126.2 86.2 1116.7 92.1 1111.2Z" fill-opacity="0.068"/></g>
<g filter="url(#f_tl)"><path d="M73.2 1006.1C78.5 1003.7 94.9 1007.4 106.3 1007.2C117.7 1007.1 129.9 1004.9 141.7 1004.9C153.6 1004.9 165.4 1006.7 177.2 1007.2C189 1007.8 202 1008 212.6 1008.4C223.2 1008.9 233.9 1008.3 241 1010.1C248.1 1011.9 251.5 1014.8 255.1 1019.1C258.8 1023.3 261.7 1029.7 262.7 1035.6C263.7 1041.5 261.7 1049 261 1054.5C260.4 1060 261.2 1063.9 258.7 1068.7C256.1 1073.4 248.6 1077.3 245.7 1082.8C242.7 1088.4 241.2 1094.7 241 1101.7C240.8 1108.8 243.3 1117.5 244.5 1125.4C245.7 1133.2 247.1 1141.1 248.1 1149C249 1156.9 250.4 1164.7 250.4 1172.6C250.4 1180.5 248.6 1188 248.1 1196.2C247.5 1204.5 249.6 1217.3 246.9 1222.2C244.1 1227.1 237.2 1226.4 231.5 1225.8C225.8 1225.2 219.7 1220.7 212.6 1218.7C205.5 1216.7 196.9 1215.3 189 1214C181.1 1212.7 175.2 1212.3 165.4 1210.9C155.5 1209.5 139.8 1208.5 129.9 1205.7C120.1 1202.9 112.6 1198.6 106.3 1193.9C100 1189.2 95.2 1184.8 92.1 1177.3C89.1 1169.9 90.2 1156.8 87.9 1149C85.6 1141.2 82.4 1135.6 78.4 1130.6C74.5 1125.5 65.3 1123.2 64.3 1118.8C63.2 1114.3 70 1108.5 72.1 1104.1C74.1 1099.7 74.1 1095.1 76.8 1092.3C79.4 1089.5 87.6 1091.1 87.9 1087.6C88.2 1084 81.3 1076.5 78.4 1071C75.6 1065.5 71.1 1060 70.9 1054.5C70.6 1049 76.2 1043.5 76.8 1038C77.4 1032.4 75 1026.7 74.4 1021.4C73.8 1016.1 67.9 1008.4 73.2 1006.1Z" fill-opacity="0.271"/></g>
<g filter="url(#f_cy)"><path d="M73.2 1006.1C78.5 1003.7 94.9 1007.4 106.3 1007.2C117.7 1007.1 129.9 1004.9 141.7 1004.9C153.6 1004.9 165.4 1006.7 177.2 1007.2C189 1007.8 202 1008 212.6 1008.4C223.2 1008.9 233.9 1008.3 241 1010.1C248.1 1011.9 251.5 1014.8 255.1 1019.1C258.8 1023.3 261.7 1029.7 262.7 1035.6C263.7 1041.5 261.7 1049 261 1054.5C260.4 1060 261.2 1063.9 258.7 1068.7C256.1 1073.4 248.6 1077.3 245.7 1082.8C242.7 1088.4 241.2 1094.7 241 1101.7C240.8 1108.8 243.3 1117.5 244.5 1125.4C245.7 1133.2 247.1 1141.1 248.1 1149C249 1156.9 250.4 1164.7 250.4 1172.6C250.4 1180.5 248.6 1188 248.1 1196.2C247.5 1204.5 249.6 1217.3 246.9 1222.2C244.1 1227.1 237.2 1226.4 231.5 1225.8C225.8 1225.2 219.7 1220.7 212.6 1218.7C205.5 1216.7 196.9 1215.3 189 1214C181.1 1212.7 175.2 1212.3 165.4 1210.9C155.5 1209.5 139.8 1208.5 129.9 1205.7C120.1 1202.9 112.6 1198.6 106.3 1193.9C100 1189.2 95.2 1184.8 92.1 1177.3C89.1 1169.9 90.2 1156.8 87.9 1149C85.6 1141.2 82.4 1135.6 78.4 1130.6C74.5 1125.5 65.3 1123.2 64.3 1118.8C63.2 1114.3 70 1108.5 72.1 1104.1C74.1 1099.7 74.1 1095.1 76.8 1092.3C79.4 1089.5 87.6 1091.1 87.9 1087.6C88.2 1084 81.3 1076.5 78.4 1071C75.6 1065.5 71.1 1060 70.9 1054.5C70.6 1049 76.2 1043.5 76.8 1038C77.4 1032.4 75 1026.7 74.4 1021.4C73.8 1016.1 67.9 1008.4 73.2 1006.1Z" fill-opacity="0.284"/></g>
<g filter="url(#f_rd)"><path d="M73.2 1006.1C78.5 1003.7 94.9 1007.4 106.3 1007.2C117.7 1007.1 129.9 1004.9 141.7 1004.9C153.6 1004.9 165.4 1006.7 177.2 1007.2C189 1007.8 202 1008 212.6 1008.4C223.2 1008.9 233.9 1008.3 241 1010.1C248.1 1011.9 251.5 1014.8 255.1 1019.1C258.8 1023.3 261.7 1029.7 262.7 1035.6C263.7 1041.5 261.7 1049 261 1054.5C260.4 1060 261.2 1063.9 258.7 1068.7C256.1 1073.4 248.6 1077.3 245.7 1082.8C242.7 1088.4 241.2 1094.7 241 1101.7C240.8 1108.8 243.3 1117.5 244.5 1125.4C245.7 1133.2 247.1 1141.1 248.1 1149C249 1156.9 250.4 1164.7 250.4 1172.6C250.4 1180.5 248.6 1188 248.1 1196.2C247.5 1204.5 249.6 1217.3 246.9 1222.2C244.1 1227.1 237.2 1226.4 231.5 1225.8C225.8 1225.2 219.7 1220.7 212.6 1218.7C205.5 1216.7 196.9 1215.3 189 1214C181.1 1212.7 175.2 1212.3 165.4 1210.9C155.5 1209.5 139.8 1208.5 129.9 1205.7C120.1 1202.9 112.6 1198.6 106.3 1193.9C100 1189.2 95.2 1184.8 92.1 1177.3C89.1 1169.9 90.2 1156.8 87.9 1149C85.6 1141.2 82.4 1135.6 78.4 1130.6C74.5 1125.5 65.3 1123.2 64.3 1118.8C63.2 1114.3 70 1108.5 72.1 1104.1C74.1 1099.7 74.1 1095.1 76.8 1092.3C79.4 1089.5 87.6 1091.1 87.9 1087.6C88.2 1084 81.3 1076.5 78.4 1071C75.6 1065.5 71.1 1060 70.9 1054.5C70.6 1049 76.2 1043.5 76.8 1038C77.4 1032.4 75 1026.7 74.4 1021.4C73.8 1016.1 67.9 1008.4 73.2 1006.1Z" fill-opacity="0.298"/></g>
<g filter="url(#f_pu)"><path d="M73.2 1006.1C78.5 1003.7 94.9 1007.4 106.3 1007.2C117.7 1007.1 129.9 1004.9 141.7 1004.9C153.6 1004.9 165.4 1006.7 177.2 1007.2C189 1007.8 202 1008 212.6 1008.4C223.2 1008.9 233.9 1008.3 241 1010.1C248.1 1011.9 251.5 1014.8 255.1 1019.1C258.8 1023.3 261.7 1029.7 262.7 1035.6C263.7 1041.5 261.7 1049 261 1054.5C260.4 1060 261.2 1063.9 258.7 1068.7C256.1 1073.4 248.6 1077.3 245.7 1082.8C242.7 1088.4 241.2 1094.7 241 1101.7C240.8 1108.8 243.3 1117.5 244.5 1125.4C245.7 1133.2 247.1 1141.1 248.1 1149C249 1156.9 250.4 1164.7 250.4 1172.6C250.4 1180.5 248.6 1188 248.1 1196.2C247.5 1204.5 249.6 1217.3 246.9 1222.2C244.1 1227.1 237.2 1226.4 231.5 1225.8C225.8 1225.2 219.7 1220.7 212.6 1218.7C205.5 1216.7 196.9 1215.3 189 1214C181.1 1212.7 175.2 1212.3 165.4 1210.9C155.5 1209.5 139.8 1208.5 129.9 1205.7C120.1 1202.9 112.6 1198.6 106.3 1193.9C100 1189.2 95.2 1184.8 92.1 1177.3C89.1 1169.9 90.2 1156.8 87.9 1149C85.6 1141.2 82.4 1135.6 78.4 1130.6C74.5 1125.5 65.3 1123.2 64.3 1118.8C63.2 1114.3 70 1108.5 72.1 1104.1C74.1 1099.7 74.1 1095.1 76.8 1092.3C79.4 1089.5 87.6 1091.1 87.9 1087.6C88.2 1084 81.3 1076.5 78.4 1071C75.6 1065.5 71.1 1060 70.9 1054.5C70.6 1049 76.2 1043.5 76.8 1038C77.4 1032.4 75 1026.7 74.4 1021.4C73.8 1016.1 67.9 1008.4 73.2 1006.1Z" fill-opacity="0.284"/></g>
<g filter="url(#f_g2)"><path d="M78 1023.8C81.9 1020.4 97.3 1016.3 106.3 1015.5C115.4 1014.7 124 1017.3 132.3 1019.1C140.6 1020.8 147.3 1022.8 155.9 1026.1C164.6 1029.5 175.6 1033.2 184.3 1039.1C192.9 1045 201.8 1055.1 207.9 1061.6C214 1068.1 220.1 1074.6 220.9 1078.1C221.7 1081.7 216.7 1084.8 212.6 1082.8C208.5 1080.9 202.4 1071.8 196.1 1066.3C189.8 1060.8 182.3 1054.5 174.8 1049.8C167.3 1045 159.1 1041.1 151.2 1038C143.3 1034.8 135.4 1032.4 127.6 1030.9C119.7 1029.3 111.4 1027.7 103.9 1028.5C96.5 1029.3 87 1036.4 82.7 1035.6C78.4 1034.8 74 1027.1 78 1023.8Z" fill-opacity="0.448"/><path d="M172.5 1082.8C176.4 1079.1 190.2 1076.2 198.4 1075.8C206.7 1075.4 216.2 1074.6 222.1 1080.5C228 1086.4 230.9 1100.6 233.9 1111.2C236.8 1121.8 238.4 1134 239.8 1144.3C241.2 1154.5 244.3 1166.3 242.1 1172.6C240 1178.9 231.7 1184 226.8 1182.1C221.9 1180.1 216.9 1169.5 212.6 1160.8C208.3 1152.1 205.1 1138.4 200.8 1130.1C196.5 1121.8 191 1116.5 186.6 1111.2C182.3 1105.9 177.2 1102.9 174.8 1098.2C172.5 1093.5 168.5 1086.6 172.5 1082.8Z" fill-opacity="0.448"/><path d="M184.3 1186.8C188.6 1185.4 203.6 1188.6 212.6 1190.3C221.7 1192.1 234.3 1192.5 238.6 1197.4C242.9 1202.3 241.4 1216.3 238.6 1219.9C235.8 1223.4 228 1220.7 222.1 1218.7C216.2 1216.7 209.1 1211.4 203.2 1208.1C197.3 1204.7 189.8 1202.1 186.6 1198.6C183.5 1195.1 179.9 1188.2 184.3 1186.8Z" fill-opacity="0.448"/></g>
<g filter="url(#f_wh)"><path d="M85 1054.5C86.6 1050.2 98.4 1046.8 106.3 1045C114.2 1043.3 123.2 1042.7 132.3 1043.9C141.3 1045 152.4 1048.4 160.6 1052.1C168.9 1055.9 179.5 1062.4 181.9 1066.3C184.3 1070.2 179.9 1073.8 174.8 1075.8C169.7 1077.7 158.3 1076.5 151.2 1078.1C144.1 1079.7 138.6 1084.4 132.3 1085.2C126 1086 119.3 1085.2 113.4 1082.8C107.5 1080.5 101.6 1075.8 96.9 1071C92.1 1066.3 83.5 1058.8 85 1054.5Z" fill-opacity="0.533"/><path d="M198.4 1178.5C202.2 1178.1 213.8 1180.5 222.1 1182.1C230.3 1183.6 243.5 1186 248.1 1188C252.6 1189.9 253.6 1193.5 249.2 1193.9C244.9 1194.3 230.3 1191.9 222.1 1190.3C213.8 1188.8 203.6 1186.4 199.6 1184.4C195.7 1182.5 194.7 1178.9 198.4 1178.5Z" fill-opacity="1"/><path d="M132.3 1014.3C134.3 1014.3 141.3 1017.5 146.5 1021.4C151.6 1025.4 159.1 1032.4 163 1038C166.9 1043.5 170.1 1051.7 170.1 1054.5C170.1 1057.3 166.2 1057.6 163 1054.5C159.9 1051.3 155.9 1041.1 151.2 1035.6C146.5 1030.1 137.8 1025 134.7 1021.4C131.5 1017.9 130.3 1014.3 132.3 1014.3Z" fill-opacity="0.511"/><path d="M171.3 1087.6C171.9 1089.9 174.4 1097 174.8 1101.7C175.2 1106.5 173.8 1113.6 173.6 1115.9" fill="none" stroke="#000" stroke-width="4" stroke-opacity="0.57"/><path d="M94.5 1082.8C98 1082.1 113.4 1090.7 122.8 1092.3C132.3 1093.9 143.3 1093.1 151.2 1092.3C159.1 1091.5 167.7 1086 170.1 1087.6C172.5 1089.1 171.7 1099 165.4 1101.7C159.1 1104.5 142.9 1104.9 132.3 1104.1C121.7 1103.3 107.9 1100.6 101.6 1097C95.3 1093.5 91 1083.6 94.5 1082.8Z" fill-opacity="0.49"/></g>
<g filter="url(#f_o2)"><path d="M78 1056.9C80.7 1054.7 87.8 1046.6 94.5 1043.9C101.2 1041.1 110.2 1040.7 118.1 1040.3C126 1039.9 133.9 1039.7 141.7 1041.5C149.6 1043.3 158.3 1047.2 165.4 1051C172.5 1054.7 180.7 1060.6 184.3 1063.9C187.8 1067.3 186.2 1069.9 186.6 1071" fill="none" stroke="#000" stroke-width="4.4" stroke-opacity="0.765"/><path d="M82.7 1061.6C84.7 1063.9 89.8 1071.4 94.5 1075.8C99.2 1080.1 104.7 1085.4 111 1087.6C117.3 1089.7 126.8 1089.9 132.3 1088.8C137.8 1087.6 138.6 1082.3 144.1 1080.5C149.6 1078.7 158.7 1079.5 165.4 1078.1C172.1 1076.7 181.1 1073.2 184.3 1072.2" fill="none" stroke="#000" stroke-width="5" stroke-opacity="0.79"/></g>
<g filter="url(#f_pu)"><path d="M75.6 1097C77.1 1094.5 80 1089.5 82.7 1088.8C85.4 1088 89.9 1089.3 91.7 1092.3C93.4 1095.2 94 1102.7 93.3 1106.5C92.6 1110.2 90 1113.6 87.4 1114.7C84.8 1115.9 80.2 1115.3 78 1113.6C75.7 1111.8 74.1 1106.9 73.7 1104.1C73.3 1101.3 74.1 1099.6 75.6 1097Z" fill-opacity="0.818"/><path d="M174.8 1040.3C177.2 1041.9 184.3 1045.8 189 1049.8C193.7 1053.7 198.2 1059.2 203.2 1063.9C208.1 1068.7 215.4 1074.2 218.5 1078.1C221.7 1082.1 221.5 1086 222.1 1087.6" fill="none" stroke="#000" stroke-width="1.8" stroke-opacity="0.663"/></g>
<g filter="url(#f_ye)"><path d="M218.5 1080.5C218.7 1077.3 221.3 1075.7 223.2 1077.6C225.2 1079.6 228.5 1087.5 230.3 1092.3C232.2 1097.1 234 1102.5 234.3 1106.5C234.7 1110.5 233.8 1115.2 232.7 1116.4C231.6 1117.6 229.7 1116.8 228 1113.6C226.2 1110.3 223.6 1102.5 222.1 1097C220.5 1091.5 218.3 1083.7 218.5 1080.5Z" fill-opacity="0.79"/></g>
</g>
<g font-family="'DejaVu Sans', 'Liberation Sans', sans-serif" font-size="14.7" fill="#000">
<circle cx="284.7" cy="1022.6" r="5.2" fill="#dc143c"/>
<text x="304.7" y="1027.9">RBC</text>
<circle cx="284.7" cy="1045" r="5.2" fill="#00ff00"/>
<text x="304.7" y="1050.3">Tcell</text>
<circle cx="284.7" cy="1067.5" r="5.2" fill="#0000ff"/>
<text x="304.7" y="1072.8">astrocyte</text>
<circle cx="284.7" cy="1089.9" r="5.2" fill="#ffd700"/>
<text x="304.7" y="1095.2">choroid_plexus</text>
<circle cx="284.7" cy="1112.4" r="5.2" fill="#800080"/>
<text x="304.7" y="1117.7">endothelial</text>
<circle cx="284.7" cy="1134.3" r="5.2" fill="#20b2aa"/>
<text x="304.7" y="1139.6">immature_oligo</text>
<circle cx="284.7" cy="1156.6" r="5.2" fill="#00ffff"/>
<text x="304.7" y="1161.9">microglia</text>
<circle cx="284.7" cy="1178.8" r="5.2" fill="#ff8c00"/>
<text x="304.7" y="1184.1">neuron</text>
<circle cx="284.7" cy="1201" r="5.2" fill="#008000"/>
<text x="304.7" y="1206.3">oligo</text>
</g>
<line x1="52" y1="1249.8" x2="52" y2="1156.9" stroke="#000" stroke-width="2.3"/><path d="M52 1134.3L63.8 1157.9L40.2 1157.9Z" fill="#000"/>
<line x1="50.9" y1="1248.7" x2="144.7" y2="1248.7" stroke="#000" stroke-width="2.3"/><path d="M167.3 1248.7L143.7 1260.5L143.7 1236.9Z" fill="#000"/>
<text x="109.9" y="1288.4" font-size="32" text-anchor="middle">x</text>
<text x="30" y="1190.3" font-size="32" text-anchor="middle" transform="rotate(-90 30 1190.3)">y</text>
</g>
<g id="pg">
<text x="411.5" y="975.5" font-size="49.5" font-weight="bold">g</text>
<defs>
<filter id="g_y" filterUnits="userSpaceOnUse" x="425" y="1012" width="1555" height="240" color-interpolation-filters="sRGB"><feGaussianBlur in="SourceAlpha" stdDeviation="1" result="b"/><feTurbulence type="fractalNoise" baseFrequency="1.73" numOctaves="1" seed="50" result="n"/><feComposite in="b" in2="n" operator="arithmetic" k1="0" k2="1" k3="-1.4" k4="0.6699999999999999"/><feComponentTransfer result="t"><feFuncA type="discrete" tableValues="0 1"/></feComponentTransfer><feOffset in="t" dx="1" dy="0" result="o1"/><feMerge result="m1"><feMergeNode in="t"/><feMergeNode in="o1"/></feMerge><feOffset in="m1" dx="0" dy="1" result="o2"/><feMerge result="t"><feMergeNode in="m1"/><feMergeNode in="o2"/></feMerge><feFlood flood-color="#fff700"/><feComposite in2="t" operator="in"/></filter>
<filter id="g_y2" filterUnits="userSpaceOnUse" x="425" y="1012" width="1555" height="240" color-interpolation-filters="sRGB"><feGaussianBlur in="SourceAlpha" stdDeviation="1.6" result="b"/><feTurbulence type="fractalNoise" baseFrequency="1.73" numOctaves="1" seed="51" result="n"/><feComposite in="b" in2="n" operator="arithmetic" k1="0" k2="1" k3="-1.4" k4="0.6699999999999999"/><feComponentTransfer result="t"><feFuncA type="discrete" tableValues="0 1"/></feComponentTransfer><feOffset in="t" dx="1" dy="0" result="o1"/><feMerge result="m1"><feMergeNode in="t"/><feMergeNode in="o1"/></feMerge><feOffset in="m1" dx="0" dy="1" result="o2"/><feMerge result="t"><feMergeNode in="m1"/><feMergeNode in="o2"/></feMerge><feFlood flood-color="#fff700"/><feComposite in2="t" operator="in"/></filter>
<filter id="g_lo" filterUnits="userSpaceOnUse" x="425" y="1012" width="1555" height="240" color-interpolation-filters="sRGB"><feGaussianBlur in="SourceAlpha" stdDeviation="1.6" result="b"/><feTurbulence type="fractalNoise" baseFrequency="1.73" numOctaves="1" seed="52" result="n"/><feComposite in="b" in2="n" operator="arithmetic" k1="0" k2="1" k3="-1.4" k4="0.6699999999999999"/><feComponentTransfer result="t"><feFuncA type="discrete" tableValues="0 1"/></feComponentTransfer><feOffset in="t" dx="1" dy="0" result="o1"/><feMerge result="m1"><feMergeNode in="t"/><feMergeNode in="o1"/></feMerge><feOffset in="m1" dx="0" dy="1" result="o2"/><feMerge result="t"><feMergeNode in="m1"/><feMergeNode in="o2"/></feMerge><feFlood flood-color="#ffd60a"/><feComposite in2="t" operator="in"/></filter>
<filter id="g_or" filterUnits="userSpaceOnUse" x="425" y="1012" width="1555" height="240" color-interpolation-filters="sRGB"><feGaussianBlur in="SourceAlpha" stdDeviation="1.6" result="b"/><feTurbulence type="fractalNoise" baseFrequency="1.73" numOctaves="1" seed="53" result="n"/><feComposite in="b" in2="n" operator="arithmetic" k1="0" k2="1" k3="-1.4" k4="0.6699999999999999"/><feComponentTransfer result="t"><feFuncA type="discrete" tableValues="0 1"/></feComponentTransfer><feOffset in="t" dx="1" dy="0" result="o1"/><feMerge result="m1"><feMergeNode in="t"/><feMergeNode in="o1"/></feMerge><feOffset in="m1" dx="0" dy="1" result="o2"/><feMerge result="t"><feMergeNode in="m1"/><feMergeNode in="o2"/></feMerge><feFlood flood-color="#ffa210"/><feComposite in2="t" operator="in"/></filter>
<filter id="g_rd" filterUnits="userSpaceOnUse" x="425" y="1012" width="1555" height="240" color-interpolation-filters="sRGB"><feGaussianBlur in="SourceAlpha" stdDeviation="1.6" result="b"/><feTurbulence type="fractalNoise" baseFrequency="1.73" numOctaves="1" seed="54" result="n"/><feComposite in="b" in2="n" operator="arithmetic" k1="0" k2="1" k3="-1.4" k4="0.6699999999999999"/><feComponentTransfer result="t"><feFuncA type="discrete" tableValues="0 1"/></feComponentTransfer><feOffset in="t" dx="1" dy="0" result="o1"/><feMerge result="m1"><feMergeNode in="t"/><feMergeNode in="o1"/></feMerge><feOffset in="m1" dx="0" dy="1" result="o2"/><feMerge result="t"><feMergeNode in="m1"/><feMergeNode in="o2"/></feMerge><feFlood flood-color="#d4401c"/><feComposite in2="t" operator="in"/></filter>
<filter id="g_dk" filterUnits="userSpaceOnUse" x="425" y="1012" width="1555" height="240" color-interpolation-filters="sRGB"><feGaussianBlur in="SourceAlpha" stdDeviation="1.6" result="b"/><feTurbulence type="fractalNoise" baseFrequency="1.73" numOctaves="1" seed="55" result="n"/><feComposite in="b" in2="n" operator="arithmetic" k1="0" k2="1" k3="-1.4" k4="0.6699999999999999"/><feComponentTransfer result="t"><feFuncA type="discrete" tableValues="0 1"/></feComponentTransfer><feOffset in="t" dx="1" dy="0" result="o1"/><feMerge result="m1"><feMergeNode in="t"/><feMergeNode in="o1"/></feMerge><feOffset in="m1" dx="0" dy="1" result="o2"/><feMerge result="t"><feMergeNode in="m1"/><feMergeNode in="o2"/></feMerge><feFlood flood-color="#4a0c0c"/><feComposite in2="t" operator="in"/></filter>
<filter id="g_wh" filterUnits="userSpaceOnUse" x="425" y="1012" width="1555" height="240" color-interpolation-filters="sRGB"><feGaussianBlur in="SourceAlpha" stdDeviation="1" result="b"/><feTurbulence type="fractalNoise" baseFrequency="1.73" numOctaves="1" seed="56" result="n"/><feComposite in="b" in2="n" operator="arithmetic" k1="0" k2="1" k3="-1.4" k4="0.6699999999999999"/><feComponentTransfer result="t"><feFuncA type="discrete" tableValues="0 1"/></feComponentTransfer><feOffset in="t" dx="1" dy="0" result="o1"/><feMerge result="m1"><feMergeNode in="t"/><feMergeNode in="o1"/></feMerge><feOffset in="m1" dx="0" dy="1" result="o2"/><feMerge result="t"><feMergeNode in="m1"/><feMergeNode in="o2"/></feMerge><feFlood flood-color="#ffffff"/><feComposite in2="t" operator="in"/></filter>
</defs>
<defs><clipPath id="gcMbp"><use href="#gtMbp"/></clipPath><clipPath id="gcHbaa1"><use href="#gtHbaa1"/></clipPath><clipPath id="gcFlt1"><use href="#gtFlt1"/></clipPath><clipPath id="gcGfap"><use href="#gtGfap"/></clipPath><clipPath id="gcSnap25"><use href="#gtSnap25"/></clipPath><clipPath id="gcBirc5"><use href="#gtBirc5"/></clipPath><clipPath id="gcTtr"><use href="#gtTtr"/></clipPath><clipPath id="gcC1qa"><use href="#gtC1qa"/></clipPath></defs>
<g filter="url(#g_y)"><path id="gtMbp" d="M443.8 1021C446.9 1020.2 468.2 1020.5 474.9 1020.4C481.7 1020.3 503.5 1019.8 511.3 1020C519.2 1020.2 547.2 1021.3 553.6 1022C559.9 1022.8 571 1026.3 574.6 1027.6C578.2 1028.9 587.4 1032.2 589.3 1034.9C591.2 1037.6 593.2 1049.2 593.6 1054.4C594 1059.5 593.9 1080.1 593.6 1086.5C593.3 1092.8 590.6 1110.7 590.4 1118.2C590.2 1125.6 591.7 1153.5 591.5 1161.1C591.4 1168.7 589.6 1187.6 589.3 1193.8C589.1 1200.1 590.4 1220.7 589.3 1223.5C588.3 1226.2 581.6 1222.1 578.9 1221.2C576.2 1220.4 566.2 1216.2 562 1214.9C557.7 1213.6 541.7 1209.2 536.6 1208.3C531.6 1207.5 516.4 1206.9 511.3 1206.3C506.3 1205.7 490.9 1203.9 486 1202C481.2 1200.1 465.9 1191.1 462.8 1187.1C459.6 1183 456.1 1166 454.4 1161.3C452.7 1156.6 447.8 1143.9 446 1139.8C444.2 1135.8 436.5 1124.5 436.5 1120.6C436.5 1116.8 444.8 1104.2 446 1101.4C447.2 1098.6 448.5 1095.4 448.1 1092.8C447.6 1090.2 442.9 1079.1 441.7 1075.6C440.6 1072.2 436.5 1061.7 436.5 1058.4C436.5 1055.2 441 1046.5 441.7 1043.5C442.5 1040.5 443.6 1030.8 443.8 1028.6C444 1026.3 440.7 1021.8 443.8 1021Z" fill-opacity="0.592"/><path id="gtHbaa1" d="M637.8 1024.1C641.1 1023.2 663.9 1023.5 671.1 1023.4C678.3 1023.3 701.6 1022.8 710 1023C718.4 1023.2 748.4 1024.4 755.2 1025.2C762 1026 773.9 1029.7 777.7 1031.1C781.5 1032.5 791.4 1036.1 793.4 1039C795.5 1041.9 797.5 1054.3 798 1059.8C798.5 1065.3 798.3 1087.3 798 1094.2C797.7 1101 794.8 1120.1 794.6 1128.1C794.4 1136.1 795.9 1166 795.8 1174.1C795.7 1182.2 793.7 1202.5 793.4 1209.2C793.2 1215.8 794.5 1238 793.4 1240.9C792.3 1243.8 785.2 1239.4 782.3 1238.5C779.3 1237.6 768.7 1233.1 764.2 1231.7C759.6 1230.3 742.5 1225.6 737.1 1224.7C731.7 1223.8 715.4 1223.2 710 1222.5C704.6 1221.8 688.1 1220 682.9 1217.9C677.7 1215.9 661.5 1206.3 658.1 1201.9C654.7 1197.6 650.9 1179.4 649.1 1174.3C647.3 1169.3 642 1155.7 640.1 1151.3C638.2 1147 630 1134.9 630 1130.7C630 1126.6 638.9 1113.1 640.1 1110.2C641.4 1107.2 642.8 1103.7 642.3 1101C641.9 1098.2 636.8 1086.2 635.6 1082.6C634.3 1078.9 630 1067.6 630 1064.2C630 1060.7 634.8 1051.4 635.6 1048.2C636.3 1045 637.5 1034.6 637.8 1032.2C638 1029.8 634.4 1025 637.8 1024.1Z" fill-opacity="0.592"/><path id="gtFlt1" d="M838 1022.5C841.4 1021.6 864.8 1022 872.2 1021.8C879.6 1021.7 903.5 1021.2 912.1 1021.4C920.8 1021.6 951.5 1022.8 958.5 1023.6C965.4 1024.4 977.6 1028.2 981.6 1029.6C985.5 1031 995.6 1034.6 997.7 1037.5C999.8 1040.4 1001.9 1052.9 1002.4 1058.5C1002.9 1064 1002.7 1086.2 1002.4 1093.1C1002.1 1100 999.2 1119.2 998.9 1127.3C998.7 1135.3 1000.3 1165.5 1000.1 1173.6C1000 1181.8 998 1202.2 997.7 1208.9C997.5 1215.6 998.9 1237.9 997.7 1240.9C996.6 1243.9 989.3 1239.4 986.3 1238.5C983.3 1237.5 972.3 1233 967.7 1231.6C963 1230.2 945.5 1225.5 939.9 1224.6C934.3 1223.6 917.7 1223.1 912.1 1222.4C906.6 1221.7 889.7 1219.8 884.4 1217.7C879 1215.7 862.3 1206 858.8 1201.6C855.4 1197.2 851.5 1178.9 849.6 1173.8C847.8 1168.7 842.4 1155.1 840.4 1150.7C838.5 1146.3 830 1134.1 830 1129.9C830 1125.8 839.2 1112.2 840.4 1109.2C841.7 1106.2 843.2 1102.7 842.7 1099.9C842.2 1097.2 837 1085.1 835.7 1081.4C834.5 1077.7 830 1066.3 830 1062.9C830 1059.4 834.9 1050 835.7 1046.8C836.5 1043.5 837.8 1033.1 838 1030.7C838.2 1028.2 834.6 1023.4 838 1022.5Z" fill-opacity="0.592"/><path id="gtGfap" d="M1042.1 1023.1C1045.5 1022.2 1068.6 1022.5 1075.9 1022.4C1083.2 1022.3 1106.8 1021.8 1115.4 1022C1123.9 1022.2 1154.3 1023.4 1161.2 1024.2C1168 1025 1180.1 1028.7 1184 1030.1C1187.9 1031.4 1197.9 1035.1 1200 1037.9C1202 1040.8 1204.1 1053.1 1204.6 1058.6C1205.1 1064.1 1204.9 1086 1204.6 1092.8C1204.3 1099.7 1201.4 1118.7 1201.2 1126.6C1200.9 1134.6 1202.5 1164.4 1202.4 1172.4C1202.2 1180.5 1200.2 1200.7 1200 1207.3C1199.7 1213.9 1201.1 1236 1200 1238.9C1198.8 1241.8 1191.6 1237.4 1188.6 1236.5C1185.7 1235.6 1174.9 1231.1 1170.3 1229.8C1165.7 1228.4 1148.3 1223.7 1142.8 1222.8C1137.3 1221.9 1120.9 1221.3 1115.4 1220.6C1109.9 1219.9 1093.2 1218.1 1087.9 1216C1082.6 1214 1066.1 1204.4 1062.7 1200.1C1059.3 1195.8 1055.4 1177.7 1053.6 1172.6C1051.8 1167.6 1046.4 1154.1 1044.5 1149.7C1042.6 1145.4 1034.2 1133.4 1034.2 1129.3C1034.2 1125.2 1043.2 1111.7 1044.5 1108.8C1045.7 1105.8 1047.2 1102.4 1046.7 1099.6C1046.3 1096.9 1041.1 1085 1039.9 1081.3C1038.6 1077.6 1034.2 1066.4 1034.2 1063C1034.2 1059.6 1039.1 1050.3 1039.9 1047.1C1040.7 1043.9 1041.9 1033.6 1042.1 1031.2C1042.3 1028.8 1038.7 1024 1042.1 1023.1Z" fill-opacity="0.592"/><path id="gtSnap25" d="M1244.4 1028.5C1247.8 1027.6 1270.5 1027.9 1277.7 1027.8C1284.9 1027.7 1308.1 1027.2 1316.5 1027.4C1324.9 1027.6 1354.8 1028.8 1361.6 1029.6C1368.3 1030.3 1380.2 1034 1384 1035.4C1387.9 1036.7 1397.7 1040.3 1399.7 1043.1C1401.8 1045.9 1403.8 1058.1 1404.3 1063.6C1404.8 1069 1404.6 1090.6 1404.3 1097.3C1404 1104.1 1401.1 1122.8 1400.9 1130.7C1400.7 1138.6 1402.2 1167.9 1402.1 1175.9C1402 1183.9 1400 1203.8 1399.7 1210.3C1399.5 1216.9 1400.9 1238.6 1399.7 1241.5C1398.6 1244.4 1391.5 1240.1 1388.6 1239.2C1385.7 1238.3 1375 1233.8 1370.5 1232.5C1366 1231.1 1348.9 1226.5 1343.5 1225.6C1338.1 1224.7 1321.9 1224.1 1316.5 1223.4C1311.1 1222.8 1294.7 1221 1289.5 1218.9C1284.3 1216.9 1268.1 1207.5 1264.7 1203.2C1261.3 1198.9 1257.5 1181.1 1255.8 1176.1C1254 1171.1 1248.7 1157.8 1246.8 1153.5C1244.9 1149.2 1236.7 1137.3 1236.7 1133.3C1236.7 1129.2 1245.6 1116 1246.8 1113C1248 1110.1 1249.5 1106.7 1249 1104C1248.5 1101.3 1243.5 1089.5 1242.3 1085.9C1241 1082.3 1236.7 1071.2 1236.7 1067.9C1236.7 1064.5 1241.5 1055.3 1242.3 1052.1C1243 1049 1244.2 1038.8 1244.4 1036.4C1244.7 1034.1 1241.1 1029.3 1244.4 1028.5Z" fill-opacity="0.592"/><path id="gtBirc5" d="M1437.5 1028.5C1440.9 1027.6 1463.6 1027.9 1470.8 1027.8C1478 1027.7 1501.2 1027.2 1509.6 1027.4C1518 1027.6 1547.9 1028.8 1554.7 1029.6C1561.4 1030.3 1573.3 1034 1577.1 1035.4C1581 1036.7 1590.8 1040.3 1592.8 1043.1C1594.9 1045.9 1596.9 1058.1 1597.4 1063.6C1597.9 1069 1597.7 1090.6 1597.4 1097.3C1597.1 1104.1 1594.2 1122.8 1594 1130.7C1593.8 1138.6 1595.3 1167.9 1595.2 1175.9C1595.1 1183.9 1593.1 1203.8 1592.8 1210.3C1592.6 1216.9 1594 1238.6 1592.8 1241.5C1591.7 1244.4 1584.6 1240.1 1581.7 1239.2C1578.8 1238.3 1568.1 1233.8 1563.6 1232.5C1559.1 1231.1 1542 1226.5 1536.6 1225.6C1531.2 1224.7 1515 1224.1 1509.6 1223.4C1504.2 1222.8 1487.8 1221 1482.6 1218.9C1477.4 1216.9 1461.2 1207.5 1457.8 1203.2C1454.4 1198.9 1450.6 1181.1 1448.9 1176.1C1447.1 1171.1 1441.8 1157.8 1439.9 1153.5C1438 1149.2 1429.8 1137.3 1429.8 1133.3C1429.8 1129.2 1438.7 1116 1439.9 1113C1441.1 1110.1 1442.6 1106.7 1442.1 1104C1441.6 1101.3 1436.6 1089.5 1435.4 1085.9C1434.1 1082.3 1429.8 1071.2 1429.8 1067.9C1429.8 1064.5 1434.6 1055.3 1435.4 1052.1C1436.1 1049 1437.3 1038.8 1437.5 1036.4C1437.8 1034.1 1434.2 1029.3 1437.5 1028.5Z" fill-opacity="0.592"/><path id="gtTtr" d="M1619.6 1028.5C1622.8 1027.6 1644.7 1027.9 1651.7 1027.8C1658.6 1027.7 1681 1027.2 1689 1027.4C1697.1 1027.6 1726 1028.7 1732.5 1029.5C1739 1030.3 1750.4 1033.9 1754.1 1035.2C1757.8 1036.5 1767.3 1040 1769.2 1042.8C1771.2 1045.5 1773.2 1057.5 1773.6 1062.8C1774 1068.1 1773.9 1089.3 1773.6 1095.9C1773.3 1102.5 1770.6 1120.9 1770.3 1128.6C1770.1 1136.3 1771.6 1165.1 1771.5 1172.9C1771.4 1180.7 1769.4 1200.2 1769.2 1206.6C1769 1213 1770.3 1234.3 1769.2 1237.1C1768.1 1240 1761.3 1235.7 1758.5 1234.8C1755.7 1233.9 1745.4 1229.6 1741.1 1228.3C1736.7 1227 1720.3 1222.4 1715.1 1221.5C1709.9 1220.7 1694.3 1220.1 1689 1219.4C1683.8 1218.8 1668 1217 1663 1215C1658 1213 1642.4 1203.8 1639.1 1199.6C1635.9 1195.4 1632.2 1177.9 1630.5 1173.1C1628.8 1168.2 1623.7 1155.1 1621.9 1150.9C1620.1 1146.7 1612.1 1135.1 1612.1 1131.1C1612.1 1127.2 1620.7 1114.2 1621.9 1111.3C1623.1 1108.4 1624.4 1105.1 1624 1102.4C1623.6 1099.8 1618.7 1088.3 1617.5 1084.7C1616.3 1081.2 1612.1 1070.3 1612.1 1067C1612.1 1063.7 1616.8 1054.7 1617.5 1051.6C1618.3 1048.6 1619.4 1038.6 1619.6 1036.3C1619.8 1033.9 1616.4 1029.3 1619.6 1028.5Z" fill-opacity="0.592"/><path id="gtC1qa" d="M1805.6 1027.1C1809 1026.2 1832.1 1026.5 1839.5 1026.4C1846.8 1026.3 1870.5 1025.8 1879 1026C1887.6 1026.2 1918 1027.4 1924.9 1028.2C1931.8 1029 1943.9 1032.6 1947.8 1034C1951.7 1035.4 1961.7 1039 1963.8 1041.8C1965.8 1044.6 1967.9 1056.9 1968.4 1062.4C1968.9 1067.8 1968.7 1089.6 1968.4 1096.4C1968.1 1103.2 1965.2 1122.1 1965 1130C1964.7 1137.9 1966.3 1167.4 1966.2 1175.5C1966 1183.5 1964 1203.5 1963.8 1210.1C1963.5 1216.7 1964.9 1238.6 1963.8 1241.5C1962.6 1244.4 1955.4 1240 1952.4 1239.1C1949.4 1238.2 1938.6 1233.8 1934 1232.4C1929.4 1231.1 1912 1226.4 1906.5 1225.5C1901 1224.6 1884.5 1224 1879 1223.3C1873.5 1222.7 1856.8 1220.8 1851.5 1218.8C1846.2 1216.7 1829.7 1207.3 1826.2 1203C1822.8 1198.7 1819 1180.7 1817.1 1175.7C1815.3 1170.7 1810 1157.2 1808 1152.9C1806.1 1148.6 1797.7 1136.6 1797.7 1132.6C1797.7 1128.5 1806.8 1115.2 1808 1112.2C1809.3 1109.3 1810.7 1105.8 1810.3 1103.1C1809.8 1100.4 1804.6 1088.6 1803.4 1084.9C1802.1 1081.3 1797.7 1070.1 1797.7 1066.7C1797.7 1063.3 1802.6 1054.1 1803.4 1050.9C1804.2 1047.7 1805.4 1037.5 1805.6 1035.1C1805.8 1032.7 1802.2 1027.9 1805.6 1027.1Z" fill-opacity="0.592"/></g>
<g filter="url(#g_lo)"><path clip-path="url(#gcMbp)" d="M440.1 1116.1C445.4 1107.6 469.1 1105.5 482.9 1101.8C496.6 1098.1 509.2 1097 522.4 1093.6C535.6 1090.2 550.9 1081.7 562 1081.3C573 1081 584.4 1068.1 588.9 1091.6C593.3 1115.1 593.3 1202 588.9 1222.5C584.4 1242.9 574.9 1217 562 1214.3C549 1211.5 527.7 1210.5 511.3 1206.1C495 1201.7 473.9 1196.6 463.9 1187.7C453.9 1178.8 455.2 1164.9 451.2 1152.9C447.3 1141 434.9 1124.6 440.1 1116.1Z" fill-opacity="0.502"/><path clip-path="url(#gcMbp)" d="M443.3 1022C457.5 1017.3 506.1 1019.7 530.3 1022C554.6 1024.4 578.3 1026.5 588.9 1036.4C599.4 1046.2 598.1 1073.9 593.6 1081.3C589.1 1088.8 572.5 1086.5 562 1081.3C551.4 1076.2 543.5 1057.5 530.3 1050.7C517.1 1043.9 497.1 1040.5 482.9 1040.5C468.6 1040.5 451.5 1053.7 444.9 1050.7C438.3 1047.6 429.1 1026.8 443.3 1022Z" fill-opacity="0.33"/><path clip-path="url(#gcHbaa1)" d="M637.8 1024.1C643.3 1022.6 659.1 1023.6 671.1 1023.4C683.1 1023.3 696 1022.7 710 1023C724 1023.3 743.9 1023.8 755.2 1025.2C766.5 1026.5 771.3 1028.8 777.7 1031.1C784.1 1033.4 790 1034.2 793.4 1039C796.8 1043.8 797.2 1050.6 798 1059.8C798.8 1069 798.6 1082.8 798 1094.2C797.4 1105.6 795 1114.8 794.6 1128.1C794.2 1141.4 796 1160.6 795.8 1174.1C795.6 1187.6 793.8 1198 793.4 1209.2C793 1220.3 795.3 1236 793.4 1240.9C791.6 1245.8 787.1 1240 782.3 1238.5C777.4 1237 771.7 1234 764.2 1231.7C756.6 1229.4 746.1 1226.2 737.1 1224.7C728.1 1223.2 719 1223.6 710 1222.5C701 1221.4 691.6 1221.3 682.9 1217.9C674.3 1214.5 663.7 1209.2 658.1 1201.9C652.4 1194.7 652.1 1182.8 649.1 1174.3C646.1 1165.9 643.3 1158.6 640.1 1151.3C636.9 1144.1 630 1137.6 630 1130.7C630 1123.9 638.1 1115.1 640.1 1110.2C642.2 1105.2 643.1 1105.6 642.3 1101C641.6 1096.4 637.6 1088.7 635.6 1082.6C633.5 1076.4 630 1069.9 630 1064.2C630 1058.4 634.3 1053.5 635.6 1048.2C636.9 1042.9 637.4 1036.2 637.8 1032.2C638.1 1028.2 632.2 1025.6 637.8 1024.1Z" fill-opacity="0.235"/><path clip-path="url(#gcFlt1)" d="M838 1022.5C843.7 1021 859.8 1022 872.2 1021.8C884.6 1021.7 897.7 1021.1 912.1 1021.4C926.5 1021.7 946.9 1022.2 958.5 1023.6C970.1 1025 975 1027.2 981.6 1029.6C988.1 1031.9 994.2 1032.7 997.7 1037.5C1001.2 1042.3 1001.6 1049.2 1002.4 1058.5C1003.2 1067.7 1003 1081.6 1002.4 1093.1C1001.8 1104.6 999.3 1113.9 998.9 1127.3C998.6 1140.7 1000.3 1160 1000.1 1173.6C999.9 1187.2 998.1 1197.7 997.7 1208.9C997.3 1220.1 999.6 1236 997.7 1240.9C995.8 1245.8 991.3 1240 986.3 1238.5C981.2 1236.9 975.4 1233.9 967.7 1231.6C960 1229.3 949.2 1226.1 939.9 1224.6C930.6 1223 921.4 1223.5 912.1 1222.4C902.9 1221.2 893.2 1221.2 884.4 1217.7C875.5 1214.3 864.6 1208.9 858.8 1201.6C853 1194.3 852.7 1182.3 849.6 1173.8C846.6 1165.3 843.7 1158 840.4 1150.7C837.2 1143.4 830 1136.8 830 1129.9C830 1123 838.3 1114.2 840.4 1109.2C842.5 1104.2 843.5 1104.6 842.7 1099.9C841.9 1095.3 837.9 1087.6 835.7 1081.4C833.6 1075.2 830 1068.6 830 1062.9C830 1057.1 834.4 1052.1 835.7 1046.8C837.1 1041.4 837.6 1034.7 838 1030.7C838.4 1026.6 832.3 1024 838 1022.5Z" fill-opacity="0.314"/><path clip-path="url(#gcGfap)" d="M1043.3 1100.5C1043.9 1094.7 1041.3 1075 1046.7 1065.6C1052.2 1056.2 1065.3 1047.4 1075.9 1043.8C1086.5 1040.2 1099.6 1040.2 1110.2 1043.8C1120.8 1047.4 1130.5 1057.2 1139.4 1065.6C1148.3 1074 1157.7 1083 1163.4 1093.9C1169.1 1104.8 1172 1124.8 1173.7 1131" fill="none" stroke="#000" stroke-opacity="0.33" stroke-width="17.2" stroke-linecap="round"/><path clip-path="url(#gcGfap)" d="M1161.7 1141.9C1166.6 1132.8 1193.2 1125.9 1199.5 1141.9C1205.7 1157.9 1207.2 1223.3 1199.5 1237.8C1191.7 1252.4 1158 1236 1153.1 1229.1C1148.3 1222.2 1168.8 1210.9 1170.3 1196.4C1171.7 1181.9 1156.8 1151 1161.7 1141.9Z" fill-opacity="0.298"/><path clip-path="url(#gcGfap)" d="M1042.1 1023.1C1047.7 1021.6 1063.7 1022.6 1075.9 1022.4C1088.1 1022.3 1101.2 1021.7 1115.4 1022C1129.6 1022.3 1149.7 1022.8 1161.2 1024.2C1172.6 1025.5 1177.5 1027.8 1184 1030.1C1190.5 1032.4 1196.5 1033.2 1200 1037.9C1203.4 1042.7 1203.8 1049.5 1204.6 1058.6C1205.4 1067.8 1205.2 1081.5 1204.6 1092.8C1204 1104.2 1201.5 1113.4 1201.2 1126.6C1200.8 1139.9 1202.6 1159 1202.4 1172.4C1202.2 1185.9 1200.4 1196.2 1200 1207.3C1199.6 1218.4 1201.9 1234 1200 1238.9C1198.1 1243.8 1193.6 1238 1188.6 1236.5C1183.7 1235 1177.9 1232 1170.3 1229.8C1162.6 1227.5 1152 1224.3 1142.8 1222.8C1133.7 1221.3 1124.5 1221.7 1115.4 1220.6C1106.2 1219.5 1096.7 1219.4 1087.9 1216C1079.1 1212.6 1068.4 1207.3 1062.7 1200.1C1057 1192.9 1056.6 1181 1053.6 1172.6C1050.6 1164.2 1047.7 1157 1044.5 1149.7C1041.3 1142.5 1034.2 1136.1 1034.2 1129.3C1034.2 1122.4 1042.4 1113.7 1044.5 1108.8C1046.6 1103.8 1047.5 1104.2 1046.7 1099.6C1046 1095 1042 1087.4 1039.9 1081.3C1037.8 1075.2 1034.2 1068.7 1034.2 1063C1034.2 1057.3 1038.5 1052.4 1039.9 1047.1C1041.2 1041.8 1041.7 1035.2 1042.1 1031.2C1042.5 1027.2 1036.5 1024.5 1042.1 1023.1Z" fill-opacity="0.244"/><path clip-path="url(#gcSnap25)" d="M1243.9 1029.6C1259.1 1024.2 1310.9 1027 1336.8 1029.6C1362.7 1032.1 1388 1034.2 1399.2 1044.6C1410.5 1055 1404.9 1081.2 1404.3 1092C1403.7 1102.7 1402.9 1109.2 1395.9 1109.2C1388.8 1109.2 1371.4 1099.9 1362.1 1092C1352.8 1084.1 1352.8 1069 1340.2 1061.8C1327.5 1054.7 1301.9 1048.9 1286.1 1048.9C1270.4 1048.9 1252.7 1065.1 1245.6 1061.8C1238.6 1058.6 1228.7 1034.9 1243.9 1029.6Z" fill-opacity="0.429"/><path clip-path="url(#gcSnap25)" d="M1238.9 1135C1238.3 1126 1235.5 1117.8 1249 1113.5C1262.5 1109.2 1303.9 1105.6 1319.9 1109.2C1335.9 1112.8 1339 1123.5 1345.2 1135C1351.4 1146.5 1356.8 1165.5 1357 1178C1357.3 1190.6 1353.1 1202.4 1346.9 1210.3C1340.7 1218.2 1330 1223.6 1319.9 1225.4C1309.8 1227.2 1295.7 1225.4 1286.1 1221.1C1276.6 1216.8 1268.1 1208.5 1262.5 1199.6C1256.9 1190.6 1256.3 1178 1252.4 1167.3C1248.4 1156.5 1239.4 1144 1238.9 1135Z" fill-opacity="0.463"/><path clip-path="url(#gcSnap25)" d="M1252.4 1070.4C1255.2 1065.1 1273.5 1063.3 1286.1 1064C1298.8 1064.7 1319.3 1070.8 1328.3 1074.7C1337.3 1078.7 1343 1083.7 1340.2 1087.7C1337.3 1091.6 1323.3 1097 1311.5 1098.4C1299.6 1099.9 1279.1 1100.9 1269.3 1096.3C1259.4 1091.6 1249.6 1075.8 1252.4 1070.4Z" fill-opacity="0.345"/><path clip-path="url(#gcC1qa)" d="M1805.6 1027.1C1811.3 1025.6 1827.2 1026.6 1839.5 1026.4C1851.7 1026.3 1864.8 1025.7 1879 1026C1893.3 1026.3 1913.4 1026.8 1924.9 1028.2C1936.4 1029.5 1941.3 1031.7 1947.8 1034C1954.2 1036.3 1960.3 1037.1 1963.8 1041.8C1967.2 1046.5 1967.6 1053.3 1968.4 1062.4C1969.2 1071.5 1969 1085.1 1968.4 1096.4C1967.8 1107.7 1965.3 1116.8 1965 1130C1964.6 1143.1 1966.4 1162.1 1966.2 1175.5C1966 1188.8 1964.2 1199.1 1963.8 1210.1C1963.4 1221.1 1965.6 1236.7 1963.8 1241.5C1961.9 1246.4 1957.4 1240.7 1952.4 1239.1C1947.5 1237.6 1941.7 1234.7 1934 1232.4C1926.4 1230.1 1915.7 1227 1906.5 1225.5C1897.3 1224 1888.2 1224.4 1879 1223.3C1869.8 1222.2 1860.3 1222.2 1851.5 1218.8C1842.7 1215.4 1832 1210.1 1826.2 1203C1820.5 1195.8 1820.2 1184 1817.1 1175.7C1814.1 1167.3 1811.3 1160.1 1808 1152.9C1804.8 1145.7 1797.7 1139.4 1797.7 1132.6C1797.7 1125.8 1805.9 1117.1 1808 1112.2C1810.1 1107.3 1811 1107.7 1810.3 1103.1C1809.5 1098.6 1805.5 1091 1803.4 1084.9C1801.3 1078.9 1797.7 1072.4 1797.7 1066.7C1797.7 1061.1 1802.1 1056.2 1803.4 1050.9C1804.7 1045.6 1805.2 1039.1 1805.6 1035.1C1806 1031.1 1800 1028.5 1805.6 1027.1Z" fill-opacity="0.33"/></g>
<g filter="url(#g_or)"><path clip-path="url(#gcMbp)" d="M448.1 1122.2C455.4 1115.4 485 1112 498.7 1112C512.4 1112 522.4 1113.7 530.3 1122.2C538.2 1130.8 543.5 1149.5 546.1 1163.2C548.8 1176.8 552.7 1197.2 546.1 1204C539.5 1210.9 519.8 1206.8 506.6 1204C493.4 1201.3 475.7 1196.2 467 1187.7C458.3 1179.2 457.5 1163.8 454.4 1152.9C451.2 1142 440.7 1129.1 448.1 1122.2Z" fill-opacity="0.374"/><path clip-path="url(#gcMbp)" d="M451.2 1052.7C456 1050.7 469.7 1041.8 479.7 1040.5C489.7 1039.1 502.4 1041.1 511.3 1044.5C520.3 1047.9 526.1 1053.7 533.5 1060.9C540.9 1068.1 549.8 1077.9 555.6 1087.5C561.4 1097 566.2 1113 568.3 1118.2" fill="none" stroke="#000" stroke-opacity="0.443" stroke-width="14.2" stroke-linecap="round"/><path clip-path="url(#gcMbp)" d="M508.2 1095.7C512.9 1096.7 528.7 1096.7 536.6 1101.8C544.6 1106.9 550.6 1116.8 555.6 1126.3C560.6 1135.9 563.8 1148.2 566.7 1159.1C569.6 1170 572.8 1182.6 573 1191.8C573.3 1201 569.1 1210.5 568.3 1214.3" fill="none" stroke="#000" stroke-opacity="0.487" stroke-width="26.9" stroke-linecap="round"/><path clip-path="url(#gcFlt1)" d="M838 1022.5C843.7 1021 859.8 1022 872.2 1021.8C884.6 1021.7 897.7 1021.1 912.1 1021.4C926.5 1021.7 946.9 1022.2 958.5 1023.6C970.1 1025 975 1027.2 981.6 1029.6C988.1 1031.9 994.2 1032.7 997.7 1037.5C1001.2 1042.3 1001.6 1049.2 1002.4 1058.5C1003.2 1067.7 1003 1081.6 1002.4 1093.1C1001.8 1104.6 999.3 1113.9 998.9 1127.3C998.6 1140.7 1000.3 1160 1000.1 1173.6C999.9 1187.2 998.1 1197.7 997.7 1208.9C997.3 1220.1 999.6 1236 997.7 1240.9C995.8 1245.8 991.3 1240 986.3 1238.5C981.2 1236.9 975.4 1233.9 967.7 1231.6C960 1229.3 949.2 1226.1 939.9 1224.6C930.6 1223 921.4 1223.5 912.1 1222.4C902.9 1221.2 893.2 1221.2 884.4 1217.7C875.5 1214.3 864.6 1208.9 858.8 1201.6C853 1194.3 852.7 1182.3 849.6 1173.8C846.6 1165.3 843.7 1158 840.4 1150.7C837.2 1143.4 830 1136.8 830 1129.9C830 1123 838.3 1114.2 840.4 1109.2C842.5 1104.2 843.5 1104.6 842.7 1099.9C841.9 1095.3 837.9 1087.6 835.7 1081.4C833.6 1075.2 830 1068.6 830 1062.9C830 1057.1 834.4 1052.1 835.7 1046.8C837.1 1041.4 837.6 1034.7 838 1030.7C838.4 1026.6 832.3 1024 838 1022.5Z" fill-opacity="0.244"/><path clip-path="url(#gcGfap)" d="M1043.3 1100.5C1043.9 1094.7 1041.3 1075 1046.7 1065.6C1052.2 1056.2 1065.3 1047.4 1075.9 1043.8C1086.5 1040.2 1099.6 1040.2 1110.2 1043.8C1120.8 1047.4 1130.5 1057.2 1139.4 1065.6C1148.3 1074 1157.7 1083 1163.4 1093.9C1169.1 1104.8 1172 1124.8 1173.7 1131" fill="none" stroke="#000" stroke-opacity="0.286" stroke-width="10.3" stroke-linecap="round"/><path clip-path="url(#gcGfap)" d="M1046.7 1104.8C1050.2 1106.3 1059.6 1112.1 1067.3 1113.6C1075 1115 1088.8 1113.6 1093.1 1113.6" fill="none" stroke="#000" stroke-opacity="0.277" stroke-width="8.6" stroke-linecap="round"/><path clip-path="url(#gcGfap)" d="M1139.4 1083C1144.5 1078.7 1162.8 1081.2 1170.3 1087.4C1177.7 1093.6 1182.6 1109.9 1184 1120.1C1185.4 1130.3 1183.4 1144.8 1178.9 1148.4C1174.3 1152.1 1163.1 1147.7 1156.6 1141.9C1150 1136.1 1142.3 1123.4 1139.4 1113.6C1136.5 1103.8 1134.2 1087.4 1139.4 1083Z" fill-opacity="0.314"/><path clip-path="url(#gcGfap)" d="M1170.3 1141.9C1173.7 1132.8 1194.6 1125.9 1199.5 1141.9C1204.3 1157.9 1205.7 1223.3 1199.5 1237.8C1193.2 1252.4 1165.1 1236 1161.7 1229.1C1158.3 1222.2 1177.4 1210.9 1178.9 1196.4C1180.3 1181.9 1166.8 1151 1170.3 1141.9Z" fill-opacity="0.244"/><path clip-path="url(#gcSnap25)" d="M1336.8 1040.3C1345.5 1038.2 1388 1040.3 1399.2 1048.9C1410.5 1057.5 1404.9 1082.6 1404.3 1092C1403.7 1101.3 1402 1105.6 1395.9 1104.9C1389.7 1104.2 1375.3 1094.8 1367.2 1087.7C1359 1080.5 1352 1069.7 1346.9 1061.8C1341.8 1053.9 1328.1 1042.5 1336.8 1040.3Z" fill-opacity="0.33"/><path clip-path="url(#gcSnap25)" d="M1255.8 1135C1263.4 1123.2 1298 1122.4 1311.5 1124.2C1325 1126 1330.9 1136.8 1336.8 1145.8C1342.7 1154.7 1346.9 1167.3 1346.9 1178C1346.9 1188.8 1342.7 1203.1 1336.8 1210.3C1330.9 1217.5 1319.9 1220 1311.5 1221.1C1303 1222.2 1293.7 1221.1 1286.1 1216.8C1278.5 1212.5 1270.9 1208.9 1265.9 1195.3C1260.8 1181.6 1248.2 1146.8 1255.8 1135Z" fill-opacity="0.387"/><path clip-path="url(#gcSnap25)" d="M1250.7 1070.4C1252.7 1066.7 1261.1 1064.2 1269.3 1062.9C1277.4 1061.7 1290.4 1061.3 1299.6 1062.9C1308.9 1064.5 1318.2 1068.6 1325 1072.6C1331.7 1076.5 1339.6 1083 1340.2 1086.6C1340.7 1090.2 1334.5 1092.3 1328.3 1094.1C1322.2 1095.9 1311.7 1097 1303 1097.3C1294.3 1097.7 1283.6 1098.2 1276 1096.3C1268.4 1094.3 1261.7 1089.8 1257.4 1085.5C1253.2 1081.2 1248.7 1074.2 1250.7 1070.4Z" fill="none" stroke="#000" stroke-opacity="0.573" stroke-width="8.4" stroke-linecap="round"/><path clip-path="url(#gcC1qa)" d="M1805.6 1027.1C1811.3 1025.6 1827.2 1026.6 1839.5 1026.4C1851.7 1026.3 1864.8 1025.7 1879 1026C1893.3 1026.3 1913.4 1026.8 1924.9 1028.2C1936.4 1029.5 1941.3 1031.7 1947.8 1034C1954.2 1036.3 1960.3 1037.1 1963.8 1041.8C1967.2 1046.5 1967.6 1053.3 1968.4 1062.4C1969.2 1071.5 1969 1085.1 1968.4 1096.4C1967.8 1107.7 1965.3 1116.8 1965 1130C1964.6 1143.1 1966.4 1162.1 1966.2 1175.5C1966 1188.8 1964.2 1199.1 1963.8 1210.1C1963.4 1221.1 1965.6 1236.7 1963.8 1241.5C1961.9 1246.4 1957.4 1240.7 1952.4 1239.1C1947.5 1237.6 1941.7 1234.7 1934 1232.4C1926.4 1230.1 1915.7 1227 1906.5 1225.5C1897.3 1224 1888.2 1224.4 1879 1223.3C1869.8 1222.2 1860.3 1222.2 1851.5 1218.8C1842.7 1215.4 1832 1210.1 1826.2 1203C1820.5 1195.8 1820.2 1184 1817.1 1175.7C1814.1 1167.3 1811.3 1160.1 1808 1152.9C1804.8 1145.7 1797.7 1139.4 1797.7 1132.6C1797.7 1125.8 1805.9 1117.1 1808 1112.2C1810.1 1107.3 1811 1107.7 1810.3 1103.1C1809.5 1098.6 1805.5 1091 1803.4 1084.9C1801.3 1078.9 1797.7 1072.4 1797.7 1066.7C1797.7 1061.1 1802.1 1056.2 1803.4 1050.9C1804.7 1045.6 1805.2 1039.1 1805.6 1035.1C1806 1031.1 1800 1028.5 1805.6 1027.1Z" fill-opacity="0.257"/></g>
<g filter="url(#g_y2)"><path clip-path="url(#gcMbp)" d="M562 1081.3C563.8 1086.5 570.4 1101.1 573 1112C575.7 1122.9 577 1136.6 577.8 1146.8C578.6 1157 577.8 1168.9 577.8 1173.4" fill="none" stroke="#000" stroke-opacity="0.443" stroke-width="4.7" stroke-linecap="round"/></g>
<g filter="url(#g_rd)"><path clip-path="url(#gcMbp)" d="M451.2 1050.7C456 1049 470.5 1041.8 479.7 1040.5C488.9 1039.1 498.2 1039.4 506.6 1042.5C515 1045.6 526.4 1056.1 530.3 1058.9" fill="none" stroke="#000" stroke-opacity="0.374" stroke-width="7.1" stroke-linecap="round"/><path clip-path="url(#gcMbp)" d="M514.5 1095.7C519.2 1097.4 535.3 1099.4 543 1105.9C550.6 1112.4 556.2 1124.3 560.4 1134.5C564.6 1144.7 566.2 1157 568.3 1167.2C570.4 1177.5 572.2 1191.1 573 1195.9" fill="none" stroke="#000" stroke-opacity="0.415" stroke-width="15.8" stroke-linecap="round"/><path clip-path="url(#gcMbp)" d="M530.3 1060.9C534 1065 546.7 1076.9 552.5 1085.4C558.3 1094 563 1107.6 565.1 1112" fill="none" stroke="#000" stroke-opacity="0.374" stroke-width="7.1" stroke-linecap="round"/><path clip-path="url(#gcMbp)" d="M533.5 1195.9C536.9 1193.1 562.5 1194.5 569.9 1197.9C577.3 1201.3 581.2 1213.6 577.8 1216.3C574.4 1219 556.7 1217.7 549.3 1214.3C541.9 1210.9 530.1 1198.6 533.5 1195.9Z" fill-opacity="0.374"/><path clip-path="url(#gcGfap)" d="M1046.7 1070C1051.6 1065.6 1065.3 1048.2 1075.9 1043.8C1086.5 1039.4 1099.6 1040.2 1110.2 1043.8C1120.8 1047.4 1134.5 1062 1139.4 1065.6" fill="none" stroke="#000" stroke-opacity="0.235" stroke-width="6.9" stroke-linecap="round"/><path clip-path="url(#gcGfap)" d="M1142.8 1087.4C1147.4 1083.8 1164 1086.3 1170.3 1091.8C1176.6 1097.2 1179.7 1111.4 1180.6 1120.1C1181.4 1128.8 1179.4 1141.2 1175.4 1144.1C1171.4 1147 1162 1142.6 1156.6 1137.5C1151.1 1132.5 1145.1 1121.9 1142.8 1113.6C1140.5 1105.2 1138.2 1091 1142.8 1087.4Z" fill-opacity="0.252"/><path clip-path="url(#gcSnap25)" d="M1260.8 1145.8C1266.4 1134.3 1299.4 1133.2 1311.5 1135C1323.6 1136.8 1328.6 1148.6 1333.4 1156.5C1338.2 1164.4 1341 1173.4 1340.2 1182.3C1339.3 1191.3 1334.5 1204.6 1328.3 1210.3C1322.2 1216.1 1311.5 1217.9 1303 1216.8C1294.6 1215.7 1284.7 1215.7 1277.7 1203.9C1270.7 1192 1255.2 1157.2 1260.8 1145.8Z" fill-opacity="0.277"/><path clip-path="url(#gcSnap25)" d="M1250.7 1070.4C1252.7 1066.7 1261.1 1064.2 1269.3 1062.9C1277.4 1061.7 1290.4 1061.3 1299.6 1062.9C1308.9 1064.5 1318.2 1068.6 1325 1072.6C1331.7 1076.5 1339.6 1083 1340.2 1086.6C1340.7 1090.2 1334.5 1092.3 1328.3 1094.1C1322.2 1095.9 1311.7 1097 1303 1097.3C1294.3 1097.7 1283.6 1098.2 1276 1096.3C1268.4 1094.3 1261.7 1089.8 1257.4 1085.5C1253.2 1081.2 1248.7 1074.2 1250.7 1070.4Z" fill="none" stroke="#000" stroke-opacity="0.515" stroke-width="5.4" stroke-linecap="round"/><path clip-path="url(#gcTtr)" d="M1738.6 1097C1739.7 1094.9 1742.7 1094.5 1744.3 1097C1746 1099.4 1747.7 1106.5 1748.4 1111.7C1749.1 1117 1748.9 1125.1 1748.4 1128.6C1747.9 1132.1 1746.4 1133.5 1745.1 1132.8C1743.9 1132.1 1742.3 1128.2 1741.1 1124.4C1739.9 1120.5 1738.2 1114.2 1737.8 1109.6C1737.4 1105 1737.6 1099.1 1738.6 1097Z" fill-opacity="1.0"/></g>
<g filter="url(#g_dk)"><path clip-path="url(#gcMbp)" d="M527.2 1097.7C530.8 1100.4 543.5 1106.6 549.3 1114.1C555.1 1121.6 558.8 1133.8 562 1142.7C565.1 1151.6 567.2 1163.2 568.3 1167.2" fill="none" stroke="#000" stroke-opacity="0.286" stroke-width="9.5" stroke-linecap="round"/><path clip-path="url(#gcSnap25)" d="M1250.7 1070.4C1252.7 1066.7 1261.1 1064.2 1269.3 1062.9C1277.4 1061.7 1290.4 1061.3 1299.6 1062.9C1308.9 1064.5 1318.2 1068.6 1325 1072.6C1331.7 1076.5 1339.6 1083 1340.2 1086.6C1340.7 1090.2 1334.5 1092.3 1328.3 1094.1C1322.2 1095.9 1311.7 1097 1303 1097.3C1294.3 1097.7 1283.6 1098.2 1276 1096.3C1268.4 1094.3 1261.7 1089.8 1257.4 1085.5C1253.2 1081.2 1248.7 1074.2 1250.7 1070.4Z" fill="none" stroke="#000" stroke-opacity="0.277" stroke-width="5.1" stroke-linecap="round"/><path clip-path="url(#gcTtr)" d="M1740.3 1100.1C1740.9 1098.7 1742.4 1098.9 1743.5 1101.2C1744.6 1103.5 1746.2 1109.6 1746.8 1113.8C1747.3 1118 1747.2 1124 1746.8 1126.5C1746.4 1128.9 1745.1 1129.6 1744.3 1128.6C1743.5 1127.5 1742.7 1123.3 1741.9 1120.2C1741.1 1117 1739.7 1112.9 1739.5 1109.6C1739.2 1106.3 1739.6 1101.5 1740.3 1100.1Z" fill-opacity="1.0"/><path clip-path="url(#gcTtr)" d="M1614.3 1118C1615.1 1116.8 1618.3 1118.6 1619.1 1120.2C1619.9 1121.7 1619.9 1126.3 1619.1 1127.5C1618.3 1128.8 1615.1 1129.1 1614.3 1127.5C1613.4 1125.9 1613.4 1119.3 1614.3 1118Z" fill-opacity="1.0"/></g>
<g filter="url(#g_wh)"><path d="M544.6 1180.5C547.2 1180.3 555.6 1182 562 1183C568.3 1184 578.8 1185.3 582.5 1186.7C586.2 1188.1 587.5 1191 584.1 1191.4C580.7 1191.7 568.3 1189.8 562 1188.7C555.6 1187.6 549 1186 546.1 1184.6C543.2 1183.3 541.9 1180.8 544.6 1180.5Z"/><path d="M588.1 1036.4C588.3 1043.9 589.8 1067 589.6 1081.3C589.5 1095.7 587.5 1106.9 587.3 1122.2C587 1137.6 588.2 1157.4 588.1 1173.4C587.9 1189.4 586.7 1210.9 586.5 1218.4" fill="none" stroke="#000" stroke-opacity="0.314" stroke-width="9.5"/><path d="M554 1020C556.7 1021 564.1 1023.7 569.9 1026.1C575.7 1028.5 585.7 1033 588.9 1034.3" fill="none" stroke="#000" stroke-opacity="0.314" stroke-width="7.9"/><path d="M517.7 1081.3C517.9 1084.8 519.2 1094.3 519.2 1101.8C519.2 1109.3 517.9 1122.2 517.7 1126.3" fill="none" stroke="#000" stroke-opacity="0.33" stroke-width="2"/><path d="M571.5 1122.2C571.7 1125.7 573 1134.5 573 1142.7C573 1150.9 571.7 1166.6 571.5 1171.3" fill="none" stroke="#000" stroke-opacity="0.36" stroke-width="2.5"/><path d="M451.2 1056.8C455.2 1050.3 472.3 1050 482.9 1050.7C493.4 1051.4 506.6 1055.8 514.5 1060.9C522.4 1066 533 1075.9 530.3 1081.3C527.7 1086.8 510.5 1092.3 498.7 1093.6C486.8 1095 467 1095.7 459.1 1089.5C451.2 1083.4 447.3 1063.3 451.2 1056.8Z" fill-opacity="0.216"/><path d="M745.5 1194.9C748.4 1194.6 757.4 1196.4 764.2 1197.5C770.9 1198.6 782.2 1200 786.2 1201.5C790.1 1203 791.5 1206.2 787.8 1206.5C784.2 1206.9 770.9 1204.9 764.2 1203.7C757.4 1202.5 750.3 1200.8 747.2 1199.3C744.1 1197.8 742.7 1195.2 745.5 1194.9Z"/><path d="M792.1 1040.5C792.4 1048.5 793.9 1073.4 793.8 1088.7C793.6 1104 791.5 1116.1 791.2 1132.5C790.9 1148.9 792.2 1170.1 792.1 1187.2C791.9 1204.4 790.7 1227.4 790.4 1235.4" fill="none" stroke="#000" stroke-opacity="0.314" stroke-width="10.2"/><path d="M755.7 1023C758.5 1024.1 766.4 1027 772.6 1029.6C778.8 1032.1 789.5 1036.9 792.9 1038.3" fill="none" stroke="#000" stroke-opacity="0.314" stroke-width="8.5"/><path d="M716.8 1088.7C717.1 1092.3 718.5 1102.6 718.5 1110.6C718.5 1118.6 717.1 1132.5 716.8 1136.9" fill="none" stroke="#000" stroke-opacity="0.33" stroke-width="2"/><path d="M774.3 1132.5C774.6 1136.2 776 1145.6 776 1154.4C776 1163.2 774.6 1180 774.3 1185.1" fill="none" stroke="#000" stroke-opacity="0.36" stroke-width="2.5"/><path d="M645.7 1062.4C649.9 1055.5 668.3 1055.1 679.6 1055.8C690.8 1056.6 704.9 1061.3 713.4 1066.8C721.9 1072.3 733.1 1082.9 730.3 1088.7C727.5 1094.5 709.2 1100.4 696.5 1101.8C683.8 1103.3 662.6 1104 654.2 1097.5C645.7 1090.9 641.5 1069.4 645.7 1062.4Z" fill-opacity="0.216"/><path d="M948.6 1194.6C951.5 1194.3 960.7 1196.1 967.7 1197.2C974.6 1198.3 986.2 1199.7 990.2 1201.2C994.3 1202.7 995.7 1205.9 992 1206.3C988.2 1206.6 974.6 1204.6 967.7 1203.4C960.7 1202.2 953.5 1200.5 950.3 1199C947.1 1197.5 945.7 1194.9 948.6 1194.6Z"/><path d="M996.3 1039C996.6 1047.1 998.2 1072.1 998.1 1087.6C997.9 1103 995.7 1115.2 995.5 1131.7C995.2 1148.2 996.5 1169.6 996.3 1186.8C996.2 1204.1 994.9 1227.3 994.6 1235.4" fill="none" stroke="#000" stroke-opacity="0.314" stroke-width="10.4"/><path d="M959 1021.4C961.9 1022.5 970 1025.4 976.4 1028C982.7 1030.6 993.7 1035.4 997.2 1036.8" fill="none" stroke="#000" stroke-opacity="0.314" stroke-width="8.7"/><path d="M919.1 1087.6C919.4 1091.3 920.8 1101.6 920.8 1109.6C920.8 1117.7 919.4 1131.7 919.1 1136.1" fill="none" stroke="#000" stroke-opacity="0.33" stroke-width="2"/><path d="M978.1 1131.7C978.4 1135.4 979.8 1144.9 979.8 1153.8C979.8 1162.6 978.4 1179.5 978.1 1184.6" fill="none" stroke="#000" stroke-opacity="0.36" stroke-width="2.5"/><path d="M846.2 1061.1C850.5 1054.1 869.3 1053.8 880.9 1054.5C892.5 1055.2 906.9 1060 915.6 1065.5C924.3 1071 935.9 1081.7 933 1087.6C930.1 1093.5 911.3 1099.3 898.2 1100.8C885.2 1102.3 863.5 1103 854.8 1096.4C846.2 1089.8 841.8 1068.1 846.2 1061.1Z" fill-opacity="0.216"/><path d="M1151.4 1193.1C1154.3 1192.8 1163.4 1194.7 1170.3 1195.7C1177.1 1196.8 1188.6 1198.2 1192.6 1199.7C1196.6 1201.2 1198 1204.3 1194.3 1204.7C1190.6 1205 1177.1 1203 1170.3 1201.8C1163.4 1200.7 1156.3 1198.9 1153.1 1197.5C1150 1196 1148.5 1193.4 1151.4 1193.1Z"/><path d="M1198.6 1039.4C1198.9 1047.4 1200.5 1072.1 1200.3 1087.4C1200.2 1102.7 1198 1114.7 1197.7 1131C1197.4 1147.3 1198.7 1168.4 1198.6 1185.5C1198.5 1202.6 1197.2 1225.5 1196.9 1233.5" fill="none" stroke="#000" stroke-opacity="0.314" stroke-width="10.3"/><path d="M1161.7 1022C1164.6 1023.1 1172.6 1026 1178.9 1028.5C1185.2 1031.1 1196 1035.8 1199.5 1037.3" fill="none" stroke="#000" stroke-opacity="0.314" stroke-width="8.6"/><path d="M1122.2 1087.4C1122.5 1091 1123.9 1101.2 1123.9 1109.2C1123.9 1117.2 1122.5 1131 1122.2 1135.4" fill="none" stroke="#000" stroke-opacity="0.33" stroke-width="2"/><path d="M1180.6 1131C1180.9 1134.6 1182.3 1144.1 1182.3 1152.8C1182.3 1161.5 1180.9 1178.2 1180.6 1183.3" fill="none" stroke="#000" stroke-opacity="0.36" stroke-width="2.5"/><path d="M1050.2 1061.2C1054.5 1054.3 1073 1054 1084.5 1054.7C1095.9 1055.4 1110.2 1060.1 1118.8 1065.6C1127.4 1071 1138.8 1081.6 1136 1087.4C1133.1 1093.2 1114.5 1099 1101.6 1100.5C1088.8 1101.9 1067.3 1102.7 1058.7 1096.1C1050.2 1089.6 1045.9 1068.1 1050.2 1061.2Z" fill-opacity="0.216"/><path d="M1352 1196.3C1354.8 1196 1363.8 1197.8 1370.5 1198.9C1377.3 1200 1388.5 1201.3 1392.5 1202.8C1396.4 1204.3 1397.8 1207.4 1394.2 1207.7C1390.5 1208.1 1377.3 1206.1 1370.5 1204.9C1363.8 1203.8 1356.8 1202.1 1353.7 1200.6C1350.6 1199.2 1349.2 1196.6 1352 1196.3Z"/><path d="M1398.4 1044.6C1398.7 1052.5 1400.2 1076.9 1400.1 1092C1399.9 1107 1397.8 1118.9 1397.5 1135C1397.3 1151.1 1398.5 1171.9 1398.4 1188.8C1398.3 1205.7 1397 1228.3 1396.7 1236.1" fill="none" stroke="#000" stroke-opacity="0.314" stroke-width="10.1"/><path d="M1362.1 1027.4C1364.9 1028.5 1372.8 1031.3 1379 1033.9C1385.2 1036.4 1395.9 1041 1399.2 1042.5" fill="none" stroke="#000" stroke-opacity="0.314" stroke-width="8.4"/><path d="M1323.3 1092C1323.6 1095.5 1325 1105.6 1325 1113.5C1325 1121.4 1323.6 1135 1323.3 1139.3" fill="none" stroke="#000" stroke-opacity="0.33" stroke-width="2"/><path d="M1380.7 1135C1380.9 1138.6 1382.4 1147.9 1382.4 1156.5C1382.4 1165.1 1380.9 1181.6 1380.7 1186.6" fill="none" stroke="#000" stroke-opacity="0.36" stroke-width="2.5"/><path d="M1252.4 1066.1C1256.6 1059.3 1274.9 1059 1286.1 1059.7C1297.4 1060.4 1311.5 1065.1 1319.9 1070.4C1328.3 1075.8 1339.6 1086.2 1336.8 1092C1334 1097.7 1315.7 1103.4 1303 1104.9C1290.4 1106.3 1269.3 1107 1260.8 1100.6C1252.4 1094.1 1248.2 1073 1252.4 1066.1Z" fill-opacity="0.216"/><path d="M1545.1 1196.3C1547.9 1196 1556.9 1197.8 1563.6 1198.9C1570.4 1200 1581.6 1201.3 1585.6 1202.8C1589.5 1204.3 1590.9 1207.4 1587.3 1207.7C1583.6 1208.1 1570.4 1206.1 1563.6 1204.9C1556.9 1203.8 1549.9 1202.1 1546.8 1200.6C1543.7 1199.2 1542.3 1196.6 1545.1 1196.3Z"/><path d="M1591.5 1044.6C1591.8 1052.5 1593.3 1076.9 1593.2 1092C1593 1107 1590.9 1118.9 1590.6 1135C1590.4 1151.1 1591.6 1171.9 1591.5 1188.8C1591.4 1205.7 1590.1 1228.3 1589.8 1236.1" fill="none" stroke="#000" stroke-opacity="0.314" stroke-width="10.1"/><path d="M1555.2 1027.4C1558 1028.5 1565.9 1031.3 1572.1 1033.9C1578.3 1036.4 1589 1041 1592.3 1042.5" fill="none" stroke="#000" stroke-opacity="0.314" stroke-width="8.4"/><path d="M1516.4 1092C1516.7 1095.5 1518.1 1105.6 1518.1 1113.5C1518.1 1121.4 1516.7 1135 1516.4 1139.3" fill="none" stroke="#000" stroke-opacity="0.33" stroke-width="2"/><path d="M1573.8 1135C1574 1138.6 1575.5 1147.9 1575.5 1156.5C1575.5 1165.1 1574 1181.6 1573.8 1186.6" fill="none" stroke="#000" stroke-opacity="0.36" stroke-width="2.5"/><path d="M1445.5 1066.1C1449.7 1059.3 1468 1059 1479.2 1059.7C1490.5 1060.4 1504.6 1065.1 1513 1070.4C1521.4 1075.8 1532.7 1086.2 1529.9 1092C1527.1 1097.7 1508.8 1103.4 1496.1 1104.9C1483.5 1106.3 1462.4 1107 1453.9 1100.6C1445.5 1094.1 1441.3 1073 1445.5 1066.1Z" fill-opacity="0.216"/><path d="M1723.2 1192.9C1725.9 1192.6 1734.6 1194.4 1741.1 1195.4C1747.6 1196.5 1758.4 1197.8 1762.2 1199.2C1766 1200.6 1767.4 1203.7 1763.8 1204.1C1760.3 1204.4 1747.6 1202.5 1741.1 1201.3C1734.6 1200.2 1727.8 1198.5 1724.8 1197.1C1721.8 1195.7 1720.5 1193.2 1723.2 1192.9Z"/><path d="M1767.9 1044.3C1768.2 1052 1769.7 1075.9 1769.5 1090.6C1769.4 1105.4 1767.4 1117 1767.1 1132.8C1766.8 1148.6 1768 1169 1767.9 1185.5C1767.8 1202 1766.6 1224.1 1766.3 1231.9" fill="none" stroke="#000" stroke-opacity="0.314" stroke-width="9.8"/><path d="M1732.9 1027.4C1735.7 1028.5 1743.2 1031.3 1749.2 1033.7C1755.2 1036.2 1765.5 1040.8 1768.7 1042.2" fill="none" stroke="#000" stroke-opacity="0.314" stroke-width="8.1"/><path d="M1695.6 1090.6C1695.8 1094.2 1697.2 1104 1697.2 1111.7C1697.2 1119.4 1695.8 1132.8 1695.6 1137" fill="none" stroke="#000" stroke-opacity="0.33" stroke-width="2"/><path d="M1750.8 1132.8C1751.1 1136.3 1752.5 1145.4 1752.5 1153.9C1752.5 1162.3 1751.1 1178.5 1750.8 1183.4" fill="none" stroke="#000" stroke-opacity="0.36" stroke-width="2.5"/><path d="M1627.3 1065.3C1631.3 1058.7 1648.9 1058.3 1659.8 1059C1670.6 1059.7 1684.2 1064.3 1692.3 1069.6C1700.4 1074.8 1711.3 1085 1708.6 1090.6C1705.8 1096.3 1688.2 1101.9 1676 1103.3C1663.8 1104.7 1643.5 1105.4 1635.4 1099.1C1627.3 1092.7 1623.2 1072 1627.3 1065.3Z" fill-opacity="0.216"/><path d="M1915.1 1196C1918 1195.7 1927.1 1197.5 1934 1198.6C1940.9 1199.7 1952.4 1201 1956.4 1202.5C1960.4 1204 1961.8 1207.1 1958.1 1207.5C1954.4 1207.9 1940.9 1205.9 1934 1204.7C1927.1 1203.5 1920 1201.8 1916.8 1200.4C1913.7 1198.9 1912.2 1196.3 1915.1 1196Z"/><path d="M1962.4 1043.3C1962.7 1051.3 1964.2 1075.8 1964.1 1091C1964 1106.1 1961.8 1118.1 1961.5 1134.3C1961.2 1150.5 1962.5 1171.5 1962.4 1188.4C1962.2 1205.4 1961 1228.2 1960.7 1236.1" fill="none" stroke="#000" stroke-opacity="0.314" stroke-width="10.3"/><path d="M1925.4 1026C1928.3 1027.1 1936.3 1030 1942.6 1032.5C1948.9 1035 1959.8 1039.7 1963.2 1041.2" fill="none" stroke="#000" stroke-opacity="0.314" stroke-width="8.6"/><path d="M1885.9 1091C1886.2 1094.6 1887.6 1104.7 1887.6 1112.6C1887.6 1120.6 1886.2 1134.3 1885.9 1138.6" fill="none" stroke="#000" stroke-opacity="0.33" stroke-width="2"/><path d="M1944.3 1134.3C1944.6 1137.9 1946.1 1147.3 1946.1 1156C1946.1 1164.6 1944.6 1181.2 1944.3 1186.3" fill="none" stroke="#000" stroke-opacity="0.36" stroke-width="2.5"/><path d="M1813.7 1065C1818 1058.1 1836.6 1057.8 1848.1 1058.5C1859.5 1059.2 1873.9 1063.9 1882.5 1069.3C1891 1074.7 1902.5 1085.2 1899.6 1091C1896.8 1096.8 1878.2 1102.5 1865.3 1104C1852.4 1105.4 1830.9 1106.1 1822.3 1099.6C1813.7 1093.1 1809.4 1071.8 1813.7 1065Z" fill-opacity="0.216"/></g>
<path d="M679 1026h0m-9 6h0m-7 2h0m92 0h0m-23 2h0m33 1h0m-45 2h0m40 1h0m-118 1h0m1 0h0m91 4h0m-3 3h0m-90 1h0m50 0h0m27 1h0m-41 4h0m918 3h0m-96 2h0m-743 6h0m3 5h0m-6 5h0m40 1h0m-54 1h0m-38 3h0m5 0h0m-16 2h0m88 3h0m-87 1h0m54 2h0m-102 2h0m122 0h0m795 7h0m-896 1h0m7 4h0m20 1h0m10 1h0m65 0h0m-70 4h0m-13 3h0m44 4h0m62 0h0m-114 1h0m108 3h0m-49 4h0m-78 3h0m95 0h0m-59 2h0m9 0h0m23 1h0m-67 3h0m861 2h0m-885 2h0m127 3h0m4 2h0m-80 2h0m839 2h0m-861 1h0m78 0h0m30 0h0m-49 1h0m24 0h0m4 1h0m726 1h0m-757 5h0m44 6h0m4 0h0m-44 1h0m7 1h0m728 0h0m-665 4h0m-127 2h0m39 1h0m875 1h0m-828 5h0m720 4h0m-794 1h0m12 2h0m-36 4h0m2 2h0m4 1h0m7 2h0m55 5h0m756 5h0m-722 6h0m29 8h0m3 4h0m-92 1h0m59 0h0m1 5h0m29 4h0" stroke="#ff9a10" stroke-width="2" stroke-linecap="square" fill="none"/>
<path d="M460 1023h0m647 1h0m-435 1h0m204 0h0m24 0h0m207 0h0m-18 1h0m-383 2h0m357 0h0m770 0h0m21 0h0m-1309 1h0m166 0h0m204 0h0m418 0h0m-692 1h0m299 0h0m901 0h0m-1188 1h0m268 0h0m132 0h0m782 0h0m54 0h0m-1438 1h0m68 0h0m257 0h0m154 0h0m348 0h0m65 0h0m493 0h0m71 0h0m9 0h0m-1263 1h0m231 0h0m194 0h0m770 0h0m74 0h0m-1441 1h0m461 0h0m373 0h0m500 0h0m9 0h0m-939 1h0m216 0h0m777 0h0m-1008 1h0m240 0h0m701 0h0m2 0h0m19 0h0m-1066 1h0m129 0h0m4 0h0m33 0h0m112 0h0m857 0h0m-999 1h0m22 0h0m129 0h0m241 0h0m633 0h0m-1021 1h0m1025 0h0m-107 1h0m82 0h0m-918 1h0m312 0h0m83 0h0m-601 1h0m71 0h0m119 0h0m376 0h0m-395 1h0m135 0h0m258 0h0m14 0h0m457 0h0m48 0h0m-769 1h0m177 0h0m45 0h0m5 0h0m67 0h0m560 0h0m-1113 1h0m558 0h0m422 0h0m-424 1h0m110 0h0m310 0h0m-758 1h0m99 0h0m90 0h0m563 0h0m-435 1h0m435 0h0m86 0h0m-1037 1h0m417 0h0m90 0h0m25 0h0m441 1h0m14 0h0m17 0h0m46 0h0m-953 1h0m247 0h0m662 0h0m-6 1h0m20 0h0m-931 1h0m38 0h0m17 0h0m51 0h0m204 0h0m43 0h0m33 0h0m7 0h0m-436 1h0m201 0h0m67 0h0m33 0h0m604 0h0m81 0h0m-1028 1h0m31 0h0m302 0h0m626 0h0m74 0h0m65 0h0m-1397 1h0m92 0h0m203 0h0m318 1h0m127 0h0m511 0h0m-918 1h0m70 0h0m426 0h0m463 0h0m-942 1h0m1002 0h0m1 0h0m-1251 1h0m13 0h0m252 0h0m66 0h0m271 0h0m27 0h0m575 0h0m45 0h0m-1148 1h0m70 0h0m82 0h0m48 0h0m190 0h0m648 0h0m3 0h0m17 0h0m-1113 1h0m41 0h0m223 0h0m80 0h0m20 0h0m15 0h0m295 0h0m468 0h0m-38 1h0m12 0h0m-766 1h0m801 0h0m-922 1h0m14 0h0m32 0h0m174 0h0m406 0h0m275 0h0m-982 1h0m16 0h0m935 0h0m60 0h0m51 0h0m20 0h0m-1454 1h0m260 0h0m166 0h0m57 0h0m4 0h0m7 0h0m217 0h0m52 0h0m39 0h0m37 0h0m478 0h0m44 0h0m7 0h0m63 0h0m-1177 1h0m421 0h0m742 0h0m-1437 1h0m396 0h0m31 0h0m503 0h0m547 0h0m-1488 1h0m459 0h0m285 0h0m122 0h0m501 0h0m-977 1h0m88 0h0m200 1h0m777 0h0m-1440 1h0m241 0h0m150 0h0m74 0h0m216 0h0m768 0h0m30 0h0m-1112 1h0m84 0h0m23 0h0m9 0h0m14 0h0m311 0h0m91 0h0m94 0h0m504 0h0m-1497 1h0m90 0h0m210 0h0m74 0h0m82 0h0m192 0h0m-157 1h0m114 0h0m846 0h0m-1412 1h0m361 0h0m286 0h0m112 0h0m50 0h0m1 0h0m-459 1h0m494 0h0m211 0h0m330 0h0m-1034 1h0m25 0h0m924 0h0m-890 1h0m7 0h0m-83 1h0m110 0h0m985 0h0m-1488 1h0m835 0h0m41 0h0m526 0h0m-1147 1h0m156 0h0m206 0h0m266 0h0m33 0h0m540 0h0m-1062 1h0m89 0h0m199 0h0m226 0h0m-422 1h0m891 0h0m-549 1h0m560 0h0m31 0h0m-1311 1h0m313 0h0m26 0h0m1008 0h0m-1456 1h0m420 0h0m109 0h0m614 0h0m224 0h0m-977 1h0m3 0h0m26 0h0m75 0h0m16 0h0m227 0h0m96 0h0m18 0h0m531 0h0m6 0h0m2 0h0m6 0h0m-991 1h0m29 0h0m72 0h0m207 0h0m23 0h0m688 0h0m-64 1h0m-1082 1h0m375 0h0m156 0h0m40 0h0m657 0h0m-799 1h0m410 0h0m256 0h0m63 0h0m76 0h0m-1005 1h0m98 0h0m348 0h0m174 0h0m264 0h0m25 0h0m13 0h0m6 0h0m-988 1h0m31 0h0m27 0h0m245 0h0m99 0h0m571 0h0m30 0h0m-1018 1h0m11 0h0m5 0h0m358 0h0m-267 1h0m-122 1h0m420 0h0m90 0h0m25 0h0m-832 1h0m106 0h0m99 0h0m489 0h0m105 0h0m522 0h0m27 0h0m40 0h0m-1059 1h0m76 0h0m164 0h0m186 0h0m568 0h0m-1423 1h0m121 0h0m359 0h0m42 0h0m168 0h0m355 0h0m-957 1h0m713 0h0m22 0h0m39 0h0m526 0h0m-594 1h0m563 0h0m53 0h0m-825 1h0m244 0h0m26 0h0m520 0h0m14 0h0m-1011 1h0m988 0h0m7 0h0m65 0h0m-1453 1h0m431 0h0m83 0h0m137 0h0m247 0h0m613 0h0m-1230 1h0m43 0h0m76 0h0m228 0h0m807 0h0m-1137 1h0m95 0h0m279 0h0m813 0h0m-1057 1h0m34 0h0m243 0h0m149 0h0m207 0h0m378 0h0m11 0h0m43 0h0m-1087 1h0m962 0h0m46 0h0m16 0h0m-1360 1h0m1304 0h0m-989 1h0m71 0h0m78 0h0m128 0h0m764 0h0m-914 1h0m138 0h0m224 0h0m493 0h0m-1156 1h0m303 0h0m162 0h0m-690 1h0m142 0h0m282 0h0m997 0h0m-1282 1h0m410 0h0m899 0h0m-1226 1h0m238 0h0m371 0h0m583 0h0m-773 1h0m741 0h0m-918 1h0m610 0h0m-871 1h0m207 0h0m32 0h0m-147 1h0m416 0h0m160 0h0m544 0h0m-1204 1h0m144 0h0m132 0h0m-87 1h0m143 0h0m846 0h0m4 0h0m1 0h0m-942 1h0m1032 0h0m-1459 1h0m324 0h0m74 0h0m3 0h0m46 0h0m363 0h0m74 0h0m497 0h0m-43 1h0m23 0h0m75 0h0m23 0h0m-953 1h0m93 0h0m101 0h0m370 0h0m317 0h0m53 0h0m-22 1h0m17 0h0m9 0h0m33 0h0m-1072 1h0m987 0h0m-579 1h0m-543 1h0m97 0h0m50 0h0m452 0h0m177 0h0m438 0h0m-1297 1h0m95 0h0m143 0h0m221 0h0m30 0h0m117 0h0m584 0h0m-765 1h0m162 0h0m568 0h0m113 0h0m19 0h0m-1432 1h0m782 0h0m155 0h0m384 0h0m88 0h0m-996 1h0m45 0h0m15 0h0m258 0h0m566 0h0m-856 1h0m-201 1h0m173 0h0m3 0h0m14 0h0m345 0h0m602 0h0m-979 1h0m527 0h0m513 0h0m-1070 1h0m236 0h0m224 0h0m-819 1h0m334 0h0m44 0h0m20 0h0m365 0h0m-351 1h0m318 0h0m10 0h0m607 0h0m24 0h0m-1010 1h0m6 0h0m103 0h0m-344 1h0m219 0h0m185 0h0m223 0h0m595 0h0m-724 1h0m198 0h0m483 0h0m142 0h0m-1040 1h0m425 0h0m-809 1h0m454 0h0m338 0h0m508 0h0m26 0h0m83 0h0m-812 1h0m182 0h0m494 0h0m-1119 1h0m56 0h0m26 0h0m96 0h0m616 0h0m359 0h0m-979 1h0m955 0h0m93 0h0m-1162 1h0m574 0h0m595 0h0m24 0h0m-1428 1h0m53 0h0m304 0h0m120 0h0m306 0h0m173 0h0m-1018 1h0m439 0h0m79 0h0m5 0h0m3 0h0m341 0h0m567 0h0m8 0h0m-942 1h0m308 0h0m16 0h0m669 0h0m-978 1h0m24 0h0m343 0h0m512 0h0m-1336 1h0m439 0h0m-226 1h0m216 0h0m29 0h0m27 0h0m298 0h0m545 0h0m100 0h0m-763 1h0m673 0h0m7 0h0m74 0h0m31 0h0m-818 1h0m748 0h0m35 0h0m-861 1h0m271 0h0m560 0h0m7 0h0m-597 1h0m522 0h0m4 0h0m98 0h0m27 0h0m-1096 1h0m13 2h0m118 0h0m901 0h0m-1047 1h0m69 0h0m7 0h0m896 0h0m-1253 1h0m320 0h0m208 0h0m414 0h0m321 0h0m1 0h0m31 0h0m-1128 1h0m238 0h0m613 0h0m273 0h0m7 0h0m61 0h0m-1036 1h0m2 0h0m-111 1h0m115 0h0m75 0h0m304 0h0m585 0h0m-1177 1h0m306 0h0m914 0h0m-1438 1h0m531 0h0m968 1h0m-1285 1h0m472 0h0m799 0h0m3 0h0m-1266 1h0m203 0h0m46 0h0m146 0h0m53 0h0m122 0h0m696 0h0m-1097 1h0m427 0h0m617 0h0m37 0h0m-1350 1h0m300 0h0m41 0h0m406 0h0m580 0h0m-1017 1h0m421 0h0m595 0h0m-1160 1h0m706 0h0m451 0h0m-991 1h0m26 0h0m8 0h0m338 0h0m527 0h0m14 0h0m109 0h0m-1089 1h0m57 0h0m22 0h0m928 0h0m2 0h0m-1125 1h0m133 0h0m1015 0h0m-1098 1h0m175 0h0m297 0h0m-724 1h0m764 0h0m537 0h0m91 0h0m-1217 1h0m251 0h0m126 0h0m742 0h0m23 0h0m27 0h0m57 0h0m-1347 1h0m356 0h0m155 0h0m198 0h0m614 0h0m4 0h0m-636 1h0m-413 1h0m41 0h0m1025 0h0m-1024 1h0m51 0h0m376 0h0m567 1h0m47 0h0m-1217 1h0m126 0h0m55 0h0m261 0h0m774 0h0m-1093 1h0m63 0h0m261 0h0m143 0h0m517 0h0m17 0h0m67 0h0m-1202 1h0m163 0h0m403 0h0m583 0h0m29 0h0m-1395 1h0m400 0h0m977 0h0m61 0h0m-1356 1h0m308 1h0m951 0h0m32 0h0m-961 1h0m56 0h0m328 0h0m-620 1h0m4 0h0m10 0h0m4 0h0m21 0h0m224 0h0m21 0h0m223 0h0m737 0h0m-1147 1h0m115 0h0m193 0h0m211 0h0m654 0h0m-1077 1h0m419 0h0m194 0h0m465 0h0m-1080 1h0m30 0h0m221 0h0m421 0h0m25 0h0m373 0h0m-59 1h0m23 0h0m-1155 2h0m798 0h0m323 0h0m-910 1h0m178 0h0m54 0h0m-85 1h0m180 0h0m27 0h0m-243 1h0m798 0h0m29 0h0m32 0h0m-979 1h0m210 0h0m-481 1h0m21 0h0m194 0h0m1049 0h0m-1029 1h0m165 0h0m244 0h0m152 0h0m-708 1h0m1107 0h0m36 0h0m-939 1h0m220 0h0m93 0h0m-195 1h0m799 0h0m-709 1h0m103 0h0m652 0h0m-993 1h0m41 0h0m912 0h0m3 0h0m60 0h0m-1179 1h0m147 0h0m247 0h0m749 0h0m24 1h0m-809 1h0m-165 1h0m-270 1h0m1156 0h0m36 1h0m36 0h0m-1178 1h0m201 0h0m1006 0h0m-1057 1h0m23 0h0m0 0h0m-192 1h0m195 0h0m-167 1h0m2 0h0m767 0h0m366 1h0m-551 1h0m570 1h0m30 2h0m-3 1h0m7 4h0m-964 2h0m960 1h0m-956 1h0" stroke="#d02818" stroke-width="2" stroke-linecap="square" fill="none"/>
<path d="M1113 1025h0m-397 1h0m14 0h0m220 0h0m-189 2h0m171 0h0m-201 1h0m135 1h0m-219 1h0m862 0h0m-1003 1h0m765 0h0m587 1h0m-939 1h0m-437 1h0m264 2h0m-85 1h0m90 0h0m353 1h0m336 0h0m10 0h0m129 0h0m-813 1h0m785 0h0m7 0h0m-1056 1h0m437 0h0m248 0h0m-398 1h0m81 0h0m-197 2h0m113 0h0m1146 0h0m-1240 1h0m-166 2h0m267 1h0m1034 1h0m86 0h0m-783 1h0m372 0h0m6 0h0m-746 1h0m23 0h0m138 0h0m-459 1h0m315 0h0m755 2h0m56 0h0m-865 1h0m111 0h0m41 1h0m302 0h0m715 1h0m-1176 1h0m-243 1h0m187 0h0m672 2h0m-753 1h0m663 0h0m140 0h0m48 0h0m385 0h0m-533 2h0m680 1h0m-1327 1h0m34 0h0m-225 1h0m186 0h0m94 0h0m128 0h0m460 0h0m-654 1h0m858 0h0m302 1h0m-674 1h0m740 0h0m-907 1h0m979 0h0m-1296 2h0m318 0h0m-206 1h0m123 0h0m635 1h0m-999 2h0m352 0h0m275 0h0m27 0h0m376 0h0m-205 1h0m32 0h0m-439 1h0m-421 1h0m1024 1h0m27 0h0m295 1h0m-633 1h0m315 0h0m375 0h0m-125 1h0m-367 1h0m-320 1h0m361 0h0m-484 1h0m896 0h0m-842 1h0m433 0h0m-90 1h0m187 1h0m-469 1h0m218 0h0m223 0h0m-845 1h0m73 0h0m667 1h0m411 0h0m-1115 1h0m1084 0h0m-1366 1h0m1042 0h0m46 1h0m-809 1h0m138 0h0m1039 0h0m-450 1h0m461 0h0m-617 1h0m-416 3h0m921 0h0m-749 1h0m424 0h0m-204 1h0m-607 2h0m1195 0h0m-978 1h0m441 0h0m-621 1h0m184 0h0m1037 0h0m1 1h0m-1269 2h0m451 0h0m-388 1h0m19 0h0m4 0h0m9 0h0m308 0h0m0 0h0m366 0h0m-947 1h0m198 1h0m28 0h0m50 1h0m113 0h0m5 0h0m611 0h0m412 0h0m-816 1h0m1 0h0m418 0h0m20 0h0m-818 1h0m-66 1h0m1160 0h0m-1223 1h0m132 0h0m731 0h0m40 2h0m-831 1h0m887 0h0m-404 2h0m406 0h0m301 0h0m-1165 1h0m177 0h0m70 0h0m646 0h0m295 0h0m-1185 1h0m212 0h0m649 0h0m-874 1h0m1198 0h0m-14 1h0m-769 1h0m379 0h0m37 0h0m14 0h0m434 0h0m-1229 2h0m65 0h0m49 0h0m48 0h0m631 1h0m-798 1h0m11 0h0m806 0h0m-814 1h0m-72 1h0m72 1h0m71 0h0m-56 1h0m-71 1h0m127 0h0m753 0h0m-1096 1h0m287 0h0m-192 1h0m589 1h0m355 0h0m-1015 2h0m101 0h0m376 0h0m355 1h0m-534 2h0m212 0h0m470 0h0m-662 1h0m765 0h0m-817 1h0m152 1h0m-37 1h0m607 2h0m93 0h0m333 0h0m-1297 2h0m904 0h0m16 0h0m309 0h0m109 0h0m-1156 3h0m540 0h0m-652 1h0m277 0h0m-249 1h0m48 1h0m807 0h0m-881 1h0m926 0h0m-274 1h0m-253 1h0m-589 1h0m1116 1h0m249 1h0m-1375 1h0m997 0h0m37 0h0m61 0h0m-700 1h0m97 0h0m365 0h0m182 0h0m-628 1h0m665 2h0m-43 1h0m-799 1h0m17 0h0m152 0h0m-95 1h0m1104 0h0m-373 1h0m-625 4h0m220 1h0m-381 1h0m770 0h0m-817 1h0m504 0h0m302 0h0m-797 1h0m1158 0h0m-1103 2h0m532 1h0m664 0h0m-1453 2h0m1049 0h0m-811 1h0m16 0h0m-23 1h0m40 0h0m-1 1h0m412 0h0m391 0h0m-557 1h0m-237 1h0m712 0h0m108 0h0m-1051 1h0m956 0h0m59 0h0m52 0h0m329 0h0m-327 2h0m-1067 1h0m171 1h0m775 0h0m-692 1h0m493 0h0m-346 1h0m165 1h0m-599 1h0m608 1h0m825 0h0m-783 4h0m815 0h0m-1211 1h0m820 0h0m23 3h0m-1038 1h0m196 0h0m813 3h0m-781 1h0m415 1h0m301 1h0m-729 2h0m5 0h0m-28 3h0m201 1h0m-154 1h0m1145 0h0m-751 3h0m-4 4h0" stroke="#2a0d10" stroke-width="2" stroke-linecap="square" fill="none"/>
<g font-size="32.3" font-style="italic" text-anchor="middle" fill="#000">
<text x="516.3" y="1021">Mbp</text>
<text x="720" y="1021.4">Hba-a1</text>
<text x="917.8" y="1021.4">Flt1</text>
<text x="1117.8" y="1021.4">Gfap</text>
<text x="1320.3" y="1020.9">Snap25</text>
<text x="1513.4" y="1020.9">Birc5</text>
<text x="1696.1" y="1020.9">Ttr</text>
<text x="1881.8" y="1020.9">C1qa</text>
</g>
</g>
<g id="ph">
<text x="21" y="1400" font-size="49.5" font-weight="bold">h</text>
<rect x="75.4" y="1365.8" width="364.4" height="361.1" fill="#070707"/>
<defs><filter id="hb" x="-2%" y="-2%" width="104%" height="104%"><feGaussianBlur stdDeviation="0.16"/></filter><clipPath id="hc"><rect x="0" y="0" width="57" height="57"/></clipPath></defs>
<g transform="translate(75.4 1365.8) scale(6.3930 6.3351)" clip-path="url(#hc)"><g filter="url(#hb)" fill="none" stroke-width="1.02">
<path d="M1 0.5h5m2 0h1m25 0h2m1 0h1m5 0h1m1 0h3m3 0h1m1 0h3m-56 1h1m3 0h1m1 0h1m32 0h1m1 0h2m1 0h1m7 0h1m1 0h1m-55 1h2m1 0h5m34 0h1m6 0h1m4 0h1m1 0h1m-57 1h1m2 0h1m3 0h1m37 0h1m2 0h2m2 0h4m-56 1h1m2 0h2m2 0h1m40 0h1m5 0h1m1 0h1m-55 1h1m-3 1h2m2 0h1m4 0h2m42 0h1m-51 1h1m3 0h3m44 0h1m-55 1h1m3 0h3m3 0h1m41 0h1m2 0h1m-55 1h1m1 0h1m6 0h1m44 0h2m-57 1h2m2 0h1m2 0h1m48 0h1m-54 1h1m1 0h1m47 0h2m-55 1h1m3 0h1m2 0h2m44 0h4m-57 1h4m3 0h2m-9 1h1m3 0h1m49 0h3m-57 1h2m5 0h1m47 0h1m-51 1h1m2 0h2m-8 1h1m2 0h1m1 0h1m1 0h1m45 0h1m-56 1h2m1 0h1m2 0h2m2 0h2m39 0h1m2 0h3m-55 1h1m2 0h1m3 0h1m41 0h1m2 0h2m-56 1h1m1 0h2m2 0h2m42 0h1m2 0h4m-54 1h1m47 0h1m3 0h1m-55 1h2m2 0h4m43 0h2m2 0h1m-56 1h1m1 0h4m48 0h1m-53 1h2m49 0h1m1 0h1m-50 1h1m45 0h1m-53 1h1m1 0h2m50 0h1m-50 1h1m-7 1h1m5 0h2m44 0h2m1 0h1m-55 1h1m3 0h1m45 0h1m1 0h1m1 0h2m-57 1h1m1 0h2m3 0h1m1 0h1m42 0h1m1 0h1m-51 1h1m5 0h1m38 0h1m1 0h1m3 0h2m-55 1h1m1 0h1m1 0h2m41 0h1m1 0h2m-47 1h3m1 0h1m42 0h1m2 0h1m-56 1h3m1 0h2m1 0h1m1 0h1m44 0h2m-57 1h3m3 0h2m3 0h1m42 0h3m-57 1h2m1 0h2m2 0h1m1 0h2m39 0h1m3 0h1m-54 1h2m2 0h1m1 0h1m1 0h1m1 0h2m37 0h1m2 0h1m2 0h1m-56 1h3m47 0h1m1 0h4m-54 1h1m2 0h2m42 0h1m2 0h1m1 0h1m-47 1h3m2 0h1m34 0h2m1 0h1m3 0h1m-52 1h1m1 0h3m2 0h1m2 0h1m21 0h2m10 0h1m1 0h3m1 0h2m-50 1h1m6 0h1m25 0h4m1 0h4m1 0h3m-51 1h3m1 0h1m5 0h1m4 0h2m28 0h1m1 0h2m1 0h1m1 0h1m-55 1h1m2 0h1m2 0h2m7 0h2m31 0h1m1 0h1m-41 1h1m2 0h1m2 0h1m1 0h2m3 0h1m31 0h1m-54 1h3m1 0h1m7 0h1m1 0h1m1 0h2m1 0h1m31 0h1m2 0h1m-51 1h1m4 0h1m2 0h1m7 0h1m4 0h1m25 0h2m-55 1h1m6 0h1m8 0h1m3 0h2m3 0h1m1 0h1m8 0h2m14 0h2m-54 1h1m6 0h1m1 0h2m4 0h4m5 0h1m4 0h2m4 0h4m1 0h1m10 0h1m-49 1h2m1 0h1m12 0h1m1 0h1m2 0h1m2 0h1m6 0h2m1 0h1m1 0h1m2 0h2m8 0h1m2 0h2m-56 1h1m3 0h1m6 0h1m4 0h1m4 0h1m1 0h1m1 0h1m2 0h1m4 0h3m1 0h1m1 0h1m2 0h1m1 0h1m5 0h5m-54 1h1m2 0h1m2 0h2m10 0h1m10 0h1m2 0h1m6 0h2m5 0h1m4 0h1m2 0h1m-54 1h2m1 0h1m1 0h1m2 0h3m2 0h1m1 0h3m3 0h2m3 0h1m2 0h1m4 0h1m4 0h2m7 0h1m-52 1h1m2 0h4m6 0h2m3 0h1m3 0h1m2 0h1m3 0h2m2 0h1m4 0h1m2 0h1m2 0h1m1 0h1m2 0h2m3 0h2m-40 1h1m1 0h1m10 0h1m3 0h3m4 0h2m2 0h7m-51 1h1m2 0h1m3 0h2m3 0h1m1 0h1m2 0h1m1 0h1m5 0h1m2 0h1m1 0h1m9 0h1m5 0h1m4 0h1" stroke="#101010"/>
<path d="M33 0.5h1m8 3h1m6 2h1m-41 8h1m42 0h1m-43 3h1m38 5h1m0 9h1m-39 5h1m0 3h1m35 1h1m-34 3h1m22 0h1m-19 2h1m3 2h1m13 2h1m10 1h1m-1 2h1" stroke="#181818"/>
<path d="M24 0.5h4m1 0h1m1 0h1m-23 1h1m31 2h1m4 1h1m5 7h1m-44 1h1m8 1h1m33 1h1m-31 2h1m28 1h1m-45 10h1m0 1h1m40 8h1m-12 6h1m-10 5h4m1 0h1m7 2h1" stroke="#202020"/>
<path d="M21 0.5h1m6 0h1m1 0h1m1 0h1m-24 2h1m30 1h1m4 1h1m-12 1h1m0 4h1m16 0h1m-33 1h1m31 0h1m-44 1h1m8 0h1m33 1h1m-21 3h1m-23 5h1m37 1h1m-39 5h1m15 3h1m-15 5h1m26 1h1m3 0h1m5 0h1m-23 1h1m-13 2h1m10 0h1m17 0h1m4 0h1m-11 3h2m7 0h1m-21 6h1m4 0h1m6 1h1m3 2h1" stroke="#282828"/>
<path d="M9 0.5h1m1 0h1m4 0h1m6 0h1m-3 1h1m8 0h1m4 0h1m-26 3h1m4 0h1m2 1h1m5 0h1m-1 1h1m21 0h1m3 0h1m-13 1h1m-27 1h1m1 4h1m14 0h1m-7 2h2m4 0h1m2 0h1m-14 1h1m-5 1h1m7 0h1m2 0h1m1 0h1m2 0h1m1 0h1m-23 1h1m34 0h1m-20 2h1m2 0h1m-23 5h1m31 0h1m-34 2h1m23 0h1m8 1h1m-4 2h1m7 1h1m-9 1h1m-16 1h1m16 2h1m-18 1h1m18 0h1m-1 1h1m-14 1h1m12 0h1m3 0h1m-5 1h1m-23 1h1m21 0h1m0 2h1m-15 2h1m15 0h1m-21 2h1m23 0h1m-14 2h1m11 4h1" stroke="#303030"/>
<path d="M10 0.5h1m1 0h2m1 0h1m2 0h1m1 0h1m1 0h1m14 1h2m-27 1h1m6 1h1m11 0h1m7 1h1m4 0h1m-29 1h1m-6 1h1m11 0h1m10 0h1m2 0h1m-4 1h1m5 0h1m8 0h1m1 0h1m-39 1h1m13 0h1m4 0h1m18 1h1m-2 1h1m-24 1h1m-16 1h1m12 0h3m6 0h1m-22 1h1m5 0h1m5 0h1m3 0h1m-19 1h1m10 0h1m4 0h1m-17 1h1m8 0h1m2 0h1m-8 1h2m3 0h1m14 0h1m8 0h1m5 0h1m-32 1h1m19 0h1m-18 2h1m2 0h1m2 0h1m20 0h1m-36 1h1m30 0h1m-31 1h1m8 1h1m2 0h2m21 0h1m-44 3h1m15 0h1m1 0h1m2 0h1m14 0h1m-30 1h1m14 0h1m-2 1h1m7 0h1m-21 1h1m4 0h1m15 0h1m-30 1h1m1 0h1m26 0h1m1 0h1m-26 1h1m-5 2h1m1 0h1m18 0h1m4 1h1m0 1h1m7 0h1m-31 1h1m19 1h1m-24 1h1m4 0h1m2 0h1m11 0h1m2 0h1m6 0h1m5 0h1m-31 1h1m7 0h1m15 0h1m-30 1h1m3 0h1m25 0h1m-3 1h1m-2 1h1m-20 1h1m2 0h1m-4 1h1m6 0h1m13 0h1m1 0h2m-3 1h2m-20 2h1m2 0h1m8 0h1m1 0h1m5 2h1m-1 1h1" stroke="#383838"/>
<path d="M16 1.5h1m11 0h1m3 0h1m-19 1h3m8 0h1m7 0h1m2 0h1m-12 1h1m12 0h1m-18 1h1m3 0h2m5 0h1m5 0h1m-8 1h1m3 0h1m-23 1h1m6 0h1m1 0h1m12 0h1m2 0h1m-28 1h1m6 0h1m4 0h1m4 0h3m6 0h1m5 0h1m-33 1h1m22 0h1m6 0h1m-8 1h1m4 0h1m6 0h1m-37 1h1m7 0h2m26 0h1m-28 1h1m1 0h1m2 0h1m26 0h1m-39 1h1m4 0h1m4 0h2m14 0h1m-26 1h1m6 0h1m4 0h2m7 0h1m-15 1h1m3 0h1m9 0h1m3 0h1m2 0h1m-33 1h1m13 0h2m2 0h1m17 0h1m3 0h1m-26 1h1m1 0h1m7 0h1m1 0h1m8 0h1m-30 1h2m3 0h1m20 0h1m-13 1h1m1 0h2m4 0h1m4 0h1m4 0h1m-37 1h1m22 0h1m11 0h1m-26 1h1m16 0h1m7 0h2m-37 1h1m8 0h1m-14 1h1m8 0h1m7 0h1m14 0h1m-26 1h1m8 0h1m7 0h1m9 0h1m2 0h1m-25 1h2m7 0h1m7 0h1m1 0h1m9 0h1m-35 1h1m9 0h1m3 0h1m6 0h2m3 0h1m-28 1h1m3 0h1m1 0h1m3 0h1m8 0h1m7 0h1m3 0h1m3 0h1m-38 1h1m5 0h1m3 0h1m3 0h1m7 0h1m1 0h1m2 0h1m2 0h1m6 0h1m-43 1h1m1 0h1m14 0h1m3 0h1m3 0h1m2 0h1m-11 1h1m1 0h1m20 0h1m-37 1h1m1 0h1m6 0h1m2 0h2m6 0h1m4 0h1m6 0h2m-35 1h1m4 0h1m15 0h1m7 0h1m4 0h1m-21 1h1m5 0h3m12 0h1m-37 1h1m15 0h2m-6 1h1m1 0h1m5 0h1m14 0h1m-34 1h1m2 0h1m6 0h2m1 0h1m2 0h1m1 0h1m2 0h1m9 0h1m-27 1h1m27 0h1m-9 1h1m-16 1h1m11 0h3m7 0h1m1 0h1m-25 1h1m21 0h1m-16 1h1m3 0h1m-16 1h1m22 0h1m-27 1h2m2 0h1m5 0h1m5 0h1m3 0h1m-19 1h1m3 0h1m2 0h1m7 0h1m1 0h1m-15 1h1m4 0h2m4 0h1m3 0h4m-12 1h1m2 0h1m2 0h1m-2 1h1m2 0h1m1 0h1m-1 1h1m4 0h1m-3 1h1m2 0h1m3 0h1m-5 1h1m3 2h1" stroke="#404040"/>
<path d="M17 0.5h1m1 0h1m-6 1h1m5 0h1m3 0h1m-14 1h1m9 0h1m1 0h1m10 0h1m2 0h1m-28 1h3m3 0h1m6 0h1m8 0h1m1 0h1m-23 1h1m3 0h1m3 0h1m1 0h2m5 0h1m5 0h3m2 0h1m1 0h1m-23 1h1m5 0h1m3 0h1m9 0h1m-25 1h2m21 0h1m2 0h1m1 0h1m2 0h2m-28 1h1m5 0h1m7 0h1m8 0h1m2 0h2m1 0h1m-26 1h1m3 0h1m6 0h2m1 0h1m4 0h1m1 0h3m2 0h1m-39 1h1m22 0h1m4 0h2m5 0h2m-17 1h1m4 0h1m12 0h1m-36 1h1m3 0h1m1 0h1m13 0h1m1 0h3m1 0h1m3 0h3m1 0h1m-36 1h3m2 0h2m6 0h1m15 0h1m1 0h1m-37 1h1m4 0h1m4 0h1m2 0h2m3 0h1m7 0h1m3 0h1m7 0h1m-29 1h1m10 0h1m19 0h1m-38 1h1m1 0h1m5 0h1m3 0h1m6 0h1m2 0h1m1 0h1m1 0h1m1 0h2m-32 1h1m5 0h1m1 0h1m3 0h1m4 0h1m13 0h1m-28 1h1m2 0h1m1 0h1m25 0h1m-30 1h1m11 0h1m1 0h1m2 0h1m10 0h1m-26 1h1m6 0h1m10 0h3m7 0h1m-39 1h1m8 0h2m5 0h1m3 0h1m2 0h1m1 0h1m1 0h1m6 0h1m-31 1h1m2 0h2m1 0h1m4 0h1m2 0h2m3 0h1m1 0h1m2 0h3m-29 1h1m6 0h1m9 0h1m5 0h1m3 0h1m2 0h1m3 0h1m-33 1h1m6 0h1m16 0h1m1 0h1m6 0h1m-32 1h3m4 0h1m2 0h1m-14 1h1m1 0h1m1 0h1m1 0h1m11 0h1m-22 1h1m1 0h1m4 0h1m13 0h1m15 0h1m-39 1h1m4 0h1m5 0h1m1 0h1m7 0h1m2 0h1m13 0h1m-36 1h1m1 0h1m4 0h1m3 0h1m3 0h1m11 0h1m2 0h1m4 0h1m-39 1h1m9 0h1m1 0h2m1 0h1m6 0h1m2 0h1m7 0h2m3 0h1m-27 1h1m1 0h2m9 0h1m2 0h1m3 0h1m5 0h1m-32 1h1m1 0h1m1 0h1m1 0h1m4 0h1m1 0h1m8 0h1m1 0h1m-27 1h2m1 0h1m4 0h2m4 0h3m8 0h2m5 0h1m-33 1h1m8 0h1m6 0h1m1 0h1m4 0h1m8 0h1m-21 1h1m1 0h3m2 0h1m13 0h1m-18 1h1m10 0h1m3 0h1m-27 1h2m3 0h1m3 0h1m4 0h1m4 0h2m4 0h1m-32 1h2m1 0h1m1 0h2m1 0h1m1 0h1m6 0h1m-18 1h1m16 0h1m1 0h1m6 0h1m-24 1h1m4 0h1m5 0h4m2 0h1m4 0h1m-23 1h1m3 0h1m1 0h2m1 0h1m3 0h1m2 0h1m7 0h1m2 0h1m3 0h1m-32 1h2m2 0h1m10 0h2m10 0h1m1 0h1m-26 2h1m11 0h1m1 0h1m6 0h1m-12 1h1m11 0h1m-19 1h1m1 0h2m1 0h1m2 0h1m2 0h1m3 0h1m2 0h1m1 0h1m-18 1h1m2 0h2m2 0h2m11 0h1m-13 1h3m4 0h1m1 0h1m-3 2h1m1 1h1" stroke="#484848"/>
<path d="M14 0.5h1m-4 1h3m3 0h1m1 0h1m7 0h1m1 0h1m3 0h1m2 0h1m-24 1h1m4 0h2m2 0h1m3 0h2m1 0h1m1 0h2m-20 1h2m5 0h1m6 0h1m1 0h2m4 0h1m-23 1h2m3 0h2m4 0h1m3 0h1m4 0h2m-24 1h2m1 0h1m7 0h2m3 0h1m8 0h4m1 0h3m4 0h1m-37 1h1m2 0h1m2 0h2m1 0h1m3 0h1m2 0h2m1 0h2m7 0h1m4 0h1m-33 1h1m6 0h1m5 0h1m5 0h2m-16 1h1m11 0h2m8 0h1m8 0h2m-39 1h1m15 0h1m3 0h2m6 0h1m4 0h1m1 0h1m-27 1h1m1 0h1m1 0h1m6 0h1m4 0h1m1 0h1m1 0h1m2 0h1m3 0h1m-35 1h2m1 0h1m5 0h1m1 0h2m1 0h1m8 0h1m3 0h1m1 0h1m5 0h1m-31 1h1m13 0h1m3 0h1m2 0h3m2 0h1m4 0h1m-35 1h2m13 0h1m2 0h1m2 0h3m1 0h1m-28 1h1m3 0h1m21 0h2m3 0h1m2 0h1m1 0h1m-34 1h2m2 0h1m5 0h1m2 0h2m12 0h1m2 0h1m-37 1h1m18 0h1m7 0h1m3 0h1m4 0h1m-35 1h1m21 0h2m4 0h1m8 0h1m-39 1h1m16 0h1m7 0h1m2 0h1m6 0h2m-38 1h2m1 0h1m20 0h1m2 0h1m6 0h1m-34 1h2m2 0h2m11 0h1m2 0h2m5 0h1m1 0h2m4 0h1m-38 1h1m3 0h1m5 0h1m2 0h2m2 0h1m3 0h1m-16 1h1m15 0h1m2 0h1m2 0h1m-28 1h1m2 0h1m6 0h1m6 0h1m1 0h1m3 0h2m2 0h1m1 0h1m1 0h1m4 0h1m3 0h1m-32 1h2m12 0h1m7 0h1m-28 1h1m6 0h1m2 0h1m2 0h1m1 0h1m2 0h2m2 0h1m9 0h1m2 0h2m-43 1h1m9 0h1m17 0h3m4 0h1m-29 1h1m15 0h1m6 0h1m2 0h2m-26 1h2m1 0h1m7 0h1m2 0h1m9 0h1m8 0h1m-40 1h1m1 0h3m4 0h1m8 0h1m5 0h1m12 0h1m-40 1h1m18 0h1m3 0h1m2 0h1m-26 1h2m2 0h2m5 0h1m4 0h1m3 0h1m-7 1h2m1 0h1m8 0h1m5 0h2m1 0h1m-34 1h2m2 0h2m1 0h1m4 0h2m5 0h1m2 0h1m3 0h2m-28 1h1m4 0h1m2 0h1m1 0h1m4 0h1m4 0h1m1 0h3m3 0h2m-30 1h1m4 0h2m3 0h1m2 0h1m20 0h1m-33 1h1m6 0h2m11 0h1m1 0h1m8 0h1m-31 1h1m10 0h1m2 0h1m11 0h1m1 0h1m3 0h1m-33 1h1m3 0h1m1 0h1m9 0h1m1 0h2m3 0h1m-19 1h1m1 0h1m3 0h1m7 0h2m6 0h1m3 0h1m-30 1h1m1 0h1m1 0h1m2 0h1m1 0h2m5 0h1m1 0h1m1 0h1m1 0h1m5 0h2m-32 1h1m2 0h1m3 0h1m1 0h4m1 0h1m14 0h1m-26 1h1m5 0h1m1 0h1m3 0h1m1 0h3m-17 1h1m3 0h1m5 0h1m10 0h1m-17 1h1m3 0h1m5 0h1m6 0h1m-5 1h1m3 0h1m-1 1h2m2 0h1m-6 1h1m4 0h1m-4 1h1m0 1h1m3 2h1" stroke="#505050"/>
<path d="M10 1.5h1m4 0h1m6 0h2m10 0h1m-18 1h1m6 0h1m10 0h1m2 0h1m-15 1h1m8 0h1m2 0h2m1 0h1m1 1h1m1 0h1m-31 1h1m5 0h1m8 0h2m3 0h1m10 0h1m1 0h2m-34 1h1m12 0h1m2 0h1m5 0h1m-23 1h2m6 0h1m1 0h1m6 0h1m7 0h1m5 0h1m-31 1h2m9 0h1m6 0h1m1 0h1m-7 1h3m12 0h1m5 0h1m-29 1h1m8 0h1m8 0h1m2 0h1m1 0h1m1 0h1m-35 1h1m20 0h1m9 0h2m-11 1h1m2 0h1m4 0h1m3 0h1m-26 1h1m7 0h1m12 0h5m1 0h1m-40 1h1m4 0h3m1 0h1m6 0h1m1 0h1m1 0h1m5 0h1m1 0h1m10 0h1m-35 1h1m13 0h1m11 0h1m3 0h1m2 0h2m-31 1h1m20 0h2m7 0h2m-39 1h1m24 0h2m10 0h1m-37 1h2m23 0h1m6 0h1m4 0h1m-29 1h1m10 0h2m2 0h1m9 0h1m-34 1h1m3 0h2m2 0h1m2 0h1m2 0h1m1 0h1m4 0h1m1 0h1m-26 1h1m19 0h1m2 0h1m2 0h1m8 0h1m-29 1h1m7 0h1m3 0h1m2 0h1m7 0h1m3 0h1m1 0h1m-31 1h2m7 0h1m1 0h1m-19 1h1m2 0h1m11 0h1m1 0h1m1 0h1m1 0h2m1 0h1m1 0h2m8 0h1m-39 1h1m3 0h1m5 0h1m3 0h1m12 0h1m4 0h1m6 0h2m-42 1h1m3 0h1m8 0h1m1 0h1m1 0h1m2 0h2m3 0h1m2 0h1m4 0h1m-30 1h2m5 0h1m2 0h1m2 0h1m1 0h1m5 0h1m13 0h1m-36 1h1m1 0h1m8 0h1m1 0h1m1 0h1m5 0h1m1 0h2m2 0h1m-27 1h1m4 0h2m14 0h1m7 0h1m-32 1h1m6 0h1m12 0h2m4 0h1m2 0h2m1 0h2m4 0h1m-36 1h1m9 0h3m2 0h1m2 0h2m1 0h1m2 0h1m1 0h1m5 0h1m-35 1h1m1 0h1m4 0h1m1 0h1m16 0h1m-18 1h3m3 0h1m6 0h1m8 0h3m2 0h1m-35 1h2m4 0h1m4 0h1m17 0h1m1 0h1m-31 1h1m4 0h2m6 0h1m8 0h2m1 0h1m-25 1h1m1 0h1m11 0h1m1 0h1m10 0h2m3 0h1m-26 1h1m1 0h1m3 0h1m2 0h1m1 0h1m2 0h1m2 0h1m5 0h1m-26 1h1m3 0h1m2 0h2m12 0h1m2 0h1m-26 1h1m4 0h1m12 0h1m6 0h1m-31 1h1m16 0h1m10 0h1m1 0h1m-24 1h1m6 0h1m1 0h1m2 0h1m-12 1h1m1 1h1m5 0h1m6 0h1m1 0h1m-11 1h1m1 0h1m3 0h1m4 0h1m5 0h1m-22 1h1m4 0h1m2 0h1m12 0h1m-18 1h1m13 0h2m0 4h1m3 0h1" stroke="#585858"/>
<path d="M18 1.5h1m6 0h2m3 1h1m-10 1h2m3 0h1m1 0h1m-18 1h1m5 0h1m9 0h1m2 0h2m-17 1h1m5 0h1m23 0h1m-3 1h1m-27 1h1m1 0h1m26 0h1m-33 1h1m2 0h1m10 0h1m16 0h1m-35 1h1m25 0h2m-22 1h1m6 0h1m5 0h1m3 0h2m6 0h1m6 0h1m-15 1h1m-14 1h1m25 0h1m2 0h1m-10 1h1m8 0h1m-9 1h1m2 0h1m-10 1h1m1 0h1m11 0h1m-20 1h1m15 0h1m-10 1h1m5 0h1m2 0h1m-13 1h1m-22 1h1m8 0h2m5 0h2m13 0h1m-23 1h1m1 0h1m-10 1h1m7 0h1m2 0h1m4 0h1m3 0h1m4 0h1m3 0h1m-36 1h1m2 0h2m5 0h3m13 0h1m-15 1h2m1 0h1m4 0h1m-20 1h2m1 0h1m9 0h1m10 0h1m11 0h1m1 0h1m-39 1h1m8 0h1m13 0h1m4 0h1m1 0h1m-26 1h1m6 0h1m15 0h1m-33 1h2m1 0h1m5 0h1m8 0h1m8 0h1m-26 1h1m30 0h1m2 0h1m4 0h1m-26 1h1m6 0h1m7 0h1m5 0h1m-34 1h2m3 0h1m2 0h1m7 0h1m1 0h1m5 1h1m6 0h3m2 0h1m-32 1h1m2 0h1m15 0h1m2 0h1m5 0h1m-30 1h1m2 0h1m10 0h1m5 0h1m4 0h2m3 0h1m-30 1h1m1 0h1m2 0h1m17 0h1m3 0h1m-11 1h1m9 0h1m3 0h1m-35 1h1m9 0h1m1 0h1m1 0h1m2 0h1m1 0h1m8 0h1m-17 1h1m11 0h1m-22 1h1m-3 1h2m9 0h1m5 0h2m3 0h1m2 0h1m1 0h1m5 0h1m-33 1h1m2 0h1m9 0h1m-6 2h1m6 0h1m-5 1h1m4 0h1m4 0h1m8 1h1m-10 1h1m1 0h1m1 0h1m2 0h1m1 0h1m-20 1h1m5 0h1m8 1h1m-2 1h1m5 1h1m1 0h1" stroke="#606060"/>
<path d="M10 2.5h1m9 0h1m18 0h1m-25 1h1m1 0h1m-1 2h1m7 0h1m6 0h1m-7 1h1m6 0h1m-22 1h1m3 0h1m8 0h1m10 0h1m-1 3h1m-5 1h1m3 1h1m13 1h1m-14 1h1m6 0h1m2 0h1m-4 2h1m-3 2h2m-27 4h1m6 0h1m14 0h1m10 0h1m-41 1h1m9 0h1m11 0h1m3 0h2m-28 1h1m5 0h1m12 0h1m13 0h1m5 0h1m-40 1h2m2 1h1m12 0h1m6 0h1m7 0h1m7 0h1m-21 1h1m18 0h2m-35 1h1m14 0h1m-15 1h1m10 0h1m-10 1h1m1 0h1m20 2h1m-27 2h1m19 1h1m-24 1h1m3 0h1m0 2h1m11 0h1m8 2h1m7 1h1m-19 1h1m9 1h1m-16 1h1m1 0h1m7 0h1m13 3h1m-5 1h1m3 2h2" stroke="#686868"/>
<path d="M31 1.5h1m-4 1h1m-11 1h1m5 5h1m13 0h1m-8 3h1m1 0h1m15 1h1m-38 3h1m26 1h1m-26 1h1m8 0h1m18 0h1m-32 4h1m31 0h1m-11 1h1m15 0h1m-41 1h1m2 0h1m4 0h1m26 0h1m4 0h1m-41 1h1m36 0h1m2 2h1m-32 1h1m31 1h1m-18 1h1m7 0h1m-22 2h1m12 4h1m4 1h1m8 1h1m-11 3h1m-14 1h1m-6 1h1m10 0h1m-8 2h1m17 2h1m-2 1h1m6 0h1m-1 3h1" stroke="#707070"/>
<path d="M49 6.5h1m-36 3h1m1 1h1m13 2h1m-18 4h1m30 1h1m-35 5h1m2 1h1m31 1h1m-1 2h1m0 3h1m-12 8h1m-13 1h1m23 0h1m-1 10h2m-1 1h1" stroke="#787878"/>
<path d="M13 14.5h1m11 3h1m15 1h1m-26 1h1m3 0h1m-9 3h1m32 3h1m0 1h1m-1 1h1m-18 8h1m17 11h1" stroke="#808080"/>
<path d="M18 9.5h1m-8 1h1m-1 2h1m5 6h1m1 0h1m8 0h1m14 1h1m0 1h1m0 2h1m4 1h1m-7 1h1m1 1h1m-2 2h1m1 1h1m-1 1h1" stroke="#878787"/>
<path d="M41 6.5h1m-1 1h2m-24 1h1m22 0h2m-23 1h2m20 0h1m-32 1h1m2 0h1m10 0h2m1 0h1m-19 1h2m17 0h1m-19 2h1m21 3h1m-9 1h1m-7 1h1m2 0h2m2 0h1m14 1h1m1 0h1m-2 1h1m0 1h2m0 7h1" stroke="#8f8f8f"/>
<path d="M20 8.5h1m1 0h2m-9 1h1m4 0h1m2 0h1m-14 3h1m21 1h1m-21 1h1m20 0h1m1 1h1m-8 2h1m-14 1h1m5 0h1m3 0h1m-9 1h2m25 3h1m0 1h1m-1 5h1" stroke="#979797"/>
<path d="M21 8.5h1m2 1h2m1 0h1m-15 6h1m20 0h1m-21 1h1m9 1h1m4 0h1m2 0h1m1 0h1m-9 1h1" stroke="#9f9f9f"/>
<path d="M29 11.5h1m-19 2h1m15 4h1" stroke="#a7a7a7"/>
<path d="M17 9.5h1m1 0h1m-7 1h1m17 2h1m1 1h1m0 1h1m-5 3h1m-15 1h1m5 0h1m-4 1h1" stroke="#afafaf"/>
<path d="M16 9.5h1m-7 2h1m21 1h1m-18 5h1" stroke="#b7b7b7"/>
<path d="M26 9.5h1m-13 1h1" stroke="#bfbfbf"/>
<path d="M31 17.5h1m1 0h1" stroke="#c7c7c7"/>
<path d="M28 10.5h1" stroke="#cfcfcf"/>
</g></g>
</g>
<g id="pi">
<text x="489.6" y="1397.6" font-size="49.5" font-weight="bold">i</text>
<path d="M563.5 1371.9C567.2 1369.5 587.5 1371 594.8 1370.9C602.2 1370.8 620.8 1370 626.2 1370.9C631.5 1371.7 636.4 1377.9 640.8 1378.2C645.2 1378.4 658.2 1373.7 663.8 1373C669.4 1372.2 681 1372.2 688.8 1371.9C696.6 1371.7 722 1371 730.6 1370.9C739.1 1370.8 756 1370.2 761.9 1370.9C767.7 1371.6 775.6 1375.9 780.7 1377.1C785.8 1378.4 799.9 1379.4 805.7 1381.3C811.6 1383.3 827.1 1389.7 830.8 1393.9C834.5 1398 836.5 1409.8 837.1 1416.8C837.7 1423.9 836.3 1446.4 836 1454.4C835.8 1462.4 835.3 1476 835 1485.7C834.6 1495.5 833.1 1528.2 832.9 1537.9C832.6 1547.7 833.9 1561.9 832.9 1569.3C831.9 1576.6 825.8 1592 824.5 1600.6C823.3 1609.1 822.5 1635.5 822.5 1642.3C822.5 1649.2 825 1654.2 824.5 1659C824.1 1663.9 817.5 1680 818.3 1684.1C819 1688.2 830.3 1692.3 830.8 1694.5C831.3 1696.7 825.4 1702.6 822.5 1702.9C819.5 1703.1 811.6 1698.8 805.7 1696.6C799.9 1694.4 781.1 1686.5 772.3 1684.1C763.6 1681.7 739.1 1676.2 730.6 1675.7C722 1675.3 706.6 1680.4 699.3 1679.9C691.9 1679.4 676 1673.5 667.9 1671.6C659.9 1669.6 637.7 1666.6 630.3 1663.2C623 1659.8 610.2 1647.5 605.3 1642.3C600.4 1637.2 591 1625.5 588.6 1619.4C586.1 1613.3 586.8 1596.7 584.4 1590.1C582 1583.6 571.4 1567.9 567.7 1563C564 1558.1 555.3 1551.3 553.1 1548.4C550.9 1545.4 547.7 1542.1 548.9 1537.9C550.1 1533.8 560.6 1518 563.5 1512.9C566.4 1507.8 573.5 1498 574 1494.1C574.5 1490.2 569.4 1484.1 567.7 1479.5C566 1474.8 561.5 1459.5 559.3 1454.4C557.2 1449.3 548.4 1440.5 548.9 1435.6C549.4 1430.7 561.8 1417.8 563.5 1412.6C565.2 1407.5 563.5 1396.5 563.5 1391.8C563.5 1387 559.9 1374.4 563.5 1371.9Z" fill="#222222" stroke="#fff" stroke-width="8"/>
<path d="M755.6 1631.9C758.7 1631.5 775.7 1633.7 782.8 1634.4C789.8 1635.1 812.2 1637 816.2 1638.2C820.1 1639.3 820.5 1644.1 816.6 1644.4C812.7 1644.7 789.8 1641.4 782.8 1640.7C775.7 1639.9 759.2 1638.8 756 1637.7C752.9 1636.7 752.5 1632.3 755.6 1631.9Z" fill="#fff"/>
<path d="M559.3 1429.3C561.3 1426.4 573.6 1425.9 576.1 1429.3C578.5 1432.8 580.5 1452.2 580.2 1458.6C580 1464.9 575.4 1481.2 574 1483.6C572.5 1486.1 569.4 1482.9 567.7 1479.5C566 1476.1 560.3 1460.3 559.3 1454.4C558.4 1448.6 557.4 1432.3 559.3 1429.3Z" fill="#222222"/>
<path d="M814.1 1479.5C816.3 1472.6 834.6 1472.6 837.1 1479.5C839.5 1486.3 837.2 1531.1 835 1537.9C832.8 1544.8 820.7 1544.8 818.3 1537.9C815.8 1531.1 811.9 1486.3 814.1 1479.5Z" fill="#222222"/>
<path d="M805.7 1675.7C807.7 1673.8 819.5 1677.7 822.5 1679.9C825.4 1682.1 830.8 1691.9 830.8 1694.5C830.8 1697.2 825.4 1702.6 822.5 1702.9C819.5 1703.1 807.7 1699.8 805.7 1696.6C803.8 1693.5 803.8 1677.7 805.7 1675.7Z" fill="#222222"/>
<path d="M741 1638.2C748.8 1635.7 808.5 1639.9 818.3 1642.3C828 1644.8 824.5 1654.2 824.5 1659C824.5 1663.9 820.5 1681.7 818.3 1684.1C816.1 1686.5 809.9 1679.4 805.7 1679.9C801.6 1680.4 789.1 1690.2 782.8 1688.3C776.4 1686.3 756.3 1669.1 751.5 1663.2C746.6 1657.4 733.2 1640.6 741 1638.2Z" fill="#8c5aa0"/>
<path d="M709.7 1418.9C710.4 1417 727.1 1433.1 736.8 1437.7C746.6 1442.3 785.2 1453.7 793.2 1458.6C801.3 1463.5 801.1 1476.3 805.7 1479.5C810.4 1482.6 829.7 1475.3 832.9 1485.7C836.1 1496.2 833.9 1555.9 832.9 1569.3C831.9 1582.7 825.8 1593.3 824.5 1600.6C823.3 1607.9 830.5 1628.5 822.5 1631.9C814.4 1635.3 763.2 1634.7 755.6 1629.8C748.1 1624.9 758.2 1600.9 757.7 1590.1C757.2 1579.4 754.6 1544.5 751.5 1537.9C748.3 1531.4 734.2 1536.7 730.6 1533.8C726.9 1530.8 722.1 1517.3 720.1 1512.9C718.2 1508.5 712.4 1500.1 713.9 1496.2C715.3 1492.3 730.7 1484.3 732.7 1479.5C734.6 1474.6 733.3 1461.5 730.6 1454.4C727.9 1447.3 709 1420.9 709.7 1418.9Z" fill="#8c5aa0"/>
<path d="M563.5 1400.1C565.2 1397.9 581.3 1404.9 588.6 1404.3C595.9 1403.7 616.9 1395.7 626.2 1394.9C635.4 1394 658.2 1394.2 667.9 1397C677.7 1399.8 705.3 1415.4 709.7 1418.9C714.1 1422.4 710.4 1428 705.5 1427.3C700.6 1426.5 677.2 1414.3 667.9 1412.6C658.7 1410.9 634.5 1411.4 626.2 1412.6C617.9 1413.9 603 1421.9 596.9 1423.1C590.8 1424.3 577.9 1425.8 574 1423.1C570.1 1420.4 561.8 1402.3 563.5 1400.1Z" fill="#8c5aa0"/>
<path d="M596.9 1504.5C608.6 1502.8 707.8 1502.8 722.2 1504.5C736.6 1506.2 731.8 1517.4 720.1 1519.1C708.4 1520.8 636.4 1520.8 622 1519.1C607.6 1517.4 585.2 1506.2 596.9 1504.5Z" fill="#222222"/>
<path d="M622 1517C627.8 1515.1 656.5 1512.9 667.9 1512.9C679.4 1512.9 712.8 1514.1 720.1 1517C727.4 1520 727.9 1531.8 730.6 1537.9C733.3 1544 739.9 1563.2 743.1 1569.3C746.3 1575.3 756.5 1582.8 757.7 1590.1C758.9 1597.4 756.7 1623.9 753.5 1631.9C750.4 1639.9 736.9 1653.4 730.6 1659C724.2 1664.6 706.6 1678.5 699.3 1679.9C691.9 1681.4 676 1673.5 667.9 1671.6C659.9 1669.6 637.7 1666.6 630.3 1663.2C623 1659.8 610.2 1647.5 605.3 1642.3C600.4 1637.2 591 1625.5 588.6 1619.4C586.1 1613.3 586.6 1596.7 584.4 1590.1C582.2 1583.6 570.3 1567.6 569.8 1563C569.3 1558.4 576.1 1552.2 580.2 1550.5C584.4 1548.8 600.9 1550.8 605.3 1548.4C609.7 1545.9 615.9 1533.2 617.8 1529.6C619.8 1525.9 616.1 1519 622 1517Z" fill="#f6c40f"/>
<path d="M586.5 1608.9C588.6 1607.7 602.6 1608.3 605.3 1611C608 1613.7 610.4 1629.2 609.5 1631.9C608.5 1634.6 599.5 1635.2 596.9 1634C594.4 1632.8 588.8 1624.4 587.5 1621.5C586.3 1618.5 584.4 1610.1 586.5 1608.9Z" fill="#a6cdf0"/>
<path d="M720.1 1646.5C723.3 1643.3 736.6 1640.2 741 1640.2C745.4 1640.2 756.5 1642.4 757.7 1646.5C758.9 1650.7 754.6 1672.3 751.5 1675.7C748.3 1679.2 735 1676.7 730.6 1675.7C726.2 1674.8 715.1 1670.8 713.9 1667.4C712.7 1664 717 1649.7 720.1 1646.5Z" fill="#008f5a"/>
<path d="M724.3 1535.8C727.2 1533.4 747.8 1531.1 751.5 1533.8C755.1 1536.4 753.2 1554.7 755.6 1558.8C758.1 1563 769.9 1563.2 772.3 1569.3C774.8 1575.3 776.5 1604.1 776.5 1611C776.5 1618 775 1626.5 772.3 1628.8C769.7 1631 755.5 1634.7 753.5 1630.2C751.6 1625.7 756.8 1597.2 755.6 1590.1C754.4 1583 746.5 1573.4 743.1 1569.3C739.7 1565.1 728.6 1558.5 726.4 1554.6C724.2 1550.7 721.4 1538.3 724.3 1535.8Z" fill="#008f5a"/>
<path d="M557.3 1539C560.2 1537.5 577.1 1536.6 580.2 1537.9C583.4 1539.3 585.9 1548.3 584.4 1550.5C582.9 1552.7 571.1 1556.7 567.7 1556.7C564.3 1556.7 556.4 1552.5 555.2 1550.5C554 1548.4 554.3 1540.4 557.3 1539Z" fill="#8a8a8a"/>
<path d="M588.6 1496.2C589.6 1495.2 601.9 1497.9 605.3 1500.3C608.7 1502.8 616.4 1513.2 617.8 1517C619.3 1520.9 619.3 1529.9 617.8 1533.8C616.4 1537.7 608.7 1548.5 605.3 1550.5C601.9 1552.4 590.4 1553.1 588.6 1550.5C586.8 1547.8 588.7 1532.4 589.6 1527.5C590.6 1522.6 597.1 1512.4 596.9 1508.7C596.8 1505 587.6 1497.1 588.6 1496.2Z" fill="#8a8a8a"/>
<path d="M567.7 1494.1C570.4 1491.2 585.2 1490.3 588.6 1492C592 1493.7 596.8 1503.3 596.9 1508.7C597.1 1514.1 592.8 1534.5 589.6 1537.9C586.5 1541.3 572.6 1540.4 569.8 1537.9C567 1535.5 565.9 1522.2 565.6 1517C565.4 1511.9 565 1497 567.7 1494.1Z" fill="#e690b0"/>
<path d="M571.9 1483.6C572.9 1482.7 582.5 1484.8 584.4 1485.7C586.4 1486.7 589.6 1491 588.6 1492C587.6 1493 578 1495.1 576.1 1494.1C574.1 1493.1 570.9 1484.6 571.9 1483.6Z" fill="#c70039"/>
<path d="M548.9 1537.9C550.2 1534 561.3 1516.2 563.5 1515C565.7 1513.7 567.5 1524.8 567.7 1527.5C567.9 1530.2 566.8 1536 565.6 1537.9C564.4 1539.9 558.8 1543 557.3 1544.2C555.7 1545.4 553 1549.1 552 1548.4C551.1 1547.6 547.6 1541.8 548.9 1537.9Z" fill="#c70039"/>
<path d="M705.5 1421C706.5 1418.8 716.8 1417.4 720.1 1418.9C723.4 1420.4 732.5 1430.8 733.7 1433.5C734.9 1436.2 733.1 1441.4 730.6 1441.9C728 1442.4 714.7 1440.1 711.8 1437.7C708.9 1435.3 704.5 1423.2 705.5 1421Z" fill="#c70039"/>
<path d="M768.2 1473.2C770.1 1471.7 779.9 1475.3 782.8 1479.5C785.7 1483.6 791.8 1502.4 793.2 1508.7C794.7 1515 796.3 1530.2 795.3 1533.8C794.3 1537.3 787.5 1541.4 784.9 1539C782.2 1536.5 774.5 1518.4 772.3 1512.9C770.1 1507.4 766.6 1496.6 766.1 1492C765.6 1487.4 766.2 1474.7 768.2 1473.2Z" fill="#c70039"/>
<path d="M733.5 1465.5C733.3 1468 730.7 1473.6 728.6 1475.9C726.6 1478.1 719.7 1482.8 716 1484.6C712.3 1486.4 701.8 1489.8 696.8 1490.9C691.8 1492 678.8 1493.8 672.9 1494.1C667.1 1494.5 652.8 1494.4 646.7 1494C640.7 1493.6 626.5 1491.7 620.8 1490.5C615.1 1489.3 602.4 1485.8 597.6 1484C592.8 1482.2 582.9 1477.3 579.5 1475.1C576 1472.8 569.9 1467.1 568.2 1464.6C566.4 1462.1 564.6 1456.2 564.8 1453.7C564.9 1451.2 567.6 1445.6 569.6 1443.4C571.7 1441.2 578.6 1436.4 582.3 1434.7C586 1432.9 596.5 1429.5 601.5 1428.4C606.5 1427.2 619.5 1425.5 625.4 1425.1C631.2 1424.8 645.5 1424.8 651.5 1425.3C657.6 1425.7 671.8 1427.6 677.5 1428.8C683.2 1429.9 695.8 1433.5 700.7 1435.3C705.5 1437.1 715.4 1441.9 718.8 1444.2C722.2 1446.5 728.4 1452.1 730.1 1454.6C731.8 1457.1 733.7 1463 733.5 1465.5Z" fill="#f5890a"/>
<path d="M708.6 1460.4C708.5 1461.5 706.9 1463.9 705.6 1464.8C704.3 1465.7 700 1467.7 697.6 1468.5C695.2 1469.2 688.4 1470.6 685.2 1471C681.9 1471.5 673.5 1472.2 669.7 1472.3C665.9 1472.4 656.5 1472.3 652.5 1472.1C648.6 1471.9 639.3 1471 635.5 1470.5C631.7 1470 623.4 1468.4 620.2 1467.6C617 1466.9 610.5 1464.7 608.2 1463.8C605.9 1462.8 601.7 1460.4 600.5 1459.3C599.3 1458.2 598 1455.7 598.1 1454.6C598.1 1453.6 599.7 1451.2 601 1450.3C602.3 1449.3 606.7 1447.3 609.1 1446.6C611.4 1445.9 618.2 1444.5 621.5 1444C624.7 1443.6 633.2 1442.9 637 1442.8C640.8 1442.6 650.1 1442.7 654.1 1442.9C658.1 1443.2 667.3 1444 671.1 1444.6C674.9 1445.1 683.2 1446.6 686.4 1447.4C689.6 1448.2 696.2 1450.3 698.5 1451.3C700.8 1452.3 704.9 1454.7 706.1 1455.8C707.3 1456.8 708.6 1459.4 708.6 1460.4Z" fill="#222222"/>
<path d="M571.9 1446.5C573.8 1446.7 581.5 1450.6 584.4 1452.7C587.3 1454.8 593.5 1461.5 596.9 1464.4C600.3 1467.4 609.7 1475.3 613.6 1477.8C617.5 1480.3 626.4 1484.2 630.3 1486.1C634.2 1488.1 644.1 1493 647 1494.5C650 1496 655.4 1497.6 655.4 1498.7C655.4 1499.8 650.5 1503.2 647 1503.9C643.6 1504.6 631 1505.8 626.2 1504.9C621.3 1504.1 609.7 1499.5 605.3 1496.6C600.9 1493.7 592.2 1483.8 588.6 1479.9C584.9 1476 576.4 1466.6 574 1463.2C571.5 1459.8 567.9 1452.6 567.7 1450.6C567.5 1448.7 569.9 1446.2 571.9 1446.5Z" fill="#0868ac"/>
<g fill="none" stroke-width="7.2" stroke-linecap="round">
<path d="M608 1370h0m3 0h0m13 0h0m105 0h0m1 0h0m12 0h0m5 0h0m11 0h0m-188 1h0m11 0h0m19 0h0m2 0h0m6 0h0m11 0h0m71 0h0m5 0h0m15 0h0m3 0h0m9 0h0m23 0h0m7 0h0m7 0h0m-195 1h0m10 0h0m5 0h0m7 0h0m4 0h0m4 0h0m3 0h0m14 0h0m9 0h0m2 0h0m6 0h0m52 0h0m10 0h0m5 0h0m4 0h0m4 0h0m16 0h0m1 0h0m11 0h0m5 0h0m4 0h0m23 0h0m-131 1h0m32 0h0m6 0h0m0 0h0m4 0h0m11 0h0m77 0h0m7 0h0m-205 1h0m92 0h0m5 0h0m-80 1h0m12 0h0m5 0h0m61 0h0m35 0h0m16 0h0m7 0h0m20 0h0m34 0h0m-201 1h0m6 0h0m56 0h0m50 0h0m16 0h0m25 0h0m45 0h0m10 0h0m-191 1h0m16 0h0m6 0h0m6 0h0m7 0h0m14 0h0m6 0h0m9 0h0m25 0h0m11 0h0m45 0h0m17 0h0m34 0h0m-216 1h0m70 0h0m9 0h0m21 0h0m4 0h0m35 0h0m38 0h0m13 0h0m16 0h0m10 0h0m9 0h0m-3 1h0m-226 1h0m10 0h0m7 0h0m5 0h0m10 0h0m17 0h0m18 0h0m46 0h0m21 0h0m5 0h0m17 0h0m35 0h0m43 0h0m-228 1h0m36 0h0m19 0h0m40 0h0m6 0h0m9 0h0m8 0h0m60 0h0m43 0h0m12 0h0m5 0h0m-165 1h0m11 0h0m3 0h0m58 0h0m26 0h0m18 0h0m11 0h0m7 0h0m5 0h0m6 0h0m16 0h0m-202 1h0m18 0h0m71 0h0m18 0h0m16 0h0m8 0h0m33 0h0m-111 1h0m123 0h0m5 0h0m32 0h0m-249 1h0m7 0h0m15 0h0m39 0h0m17 0h0m30 0h0m8 0h0m19 0h0m4 0h0m6 0h0m5 0h0m30 0h0m29 0h0m21 0h0m17 0h0m-230 1h0m21 0h0m35 0h0m21 0h0m8 0h0m11 0h0m10 0h0m51 0h0m10 0h0m19 0h0m19 0h0m19 0h0m-242 1h0m33 0h0m11 0h0m14 0h0m12 0h0m89 0h0m11 0h0m22 0h0m3 0h0m40 0h0m-205 1h0m20 0h0m34 0h0m46 0h0m32 0h0m94 0h0m-136 1h0m12 0h0m111 0h0m-240 1h0m12 0h0m35 0h0m5 0h0m16 0h0m29 0h0m9 0h0m18 0h0m10 0h0m19 0h0m3 0h0m46 0h0m16 0h0m20 0h0m21 0h0m-242 1h0m8 0h0m3 0h0m86 0h0m27 0h0m22 0h0m6 0h0m11 0h0m10 0h0m41 0h0m-235 1h0m9 0h0m29 0h0m6 0h0m21 0h0m29 0h0m57 0h0m40 0h0m28 0h0m32 0h0m10 0h0m2 0h0m-202 1h0m29 0h0m89 0h0m22 0h0m28 0h0m27 0h0m-228 1h0m41 0h0m4 0h0m85 0h0m41 0h0m68 0h0m-225 1h0m20 0h0m76 0h0m16 0h0m39 0h0m50 0h0m7 0h0m-242 1h0m11 0h0m38 0h0m56 0h0m5 0h0m7 0h0m22 0h0m23 0h0m34 0h0m13 0h0m9 0h0m-225 1h0m47 0h0m54 0h0m5 0h0m34 0h0m22 0h0m12 0h0m36 0h0m10 0h0m11 0h0m4 0h0m-104 1h0m56 0h0m-181 1h0m149 0h0m-146 1h0m13 0h0m168 0h0m38 0h0m10 0h0m11 0h0m19 0h0m1 0h0m-253 1h0m22 0h0m78 0h0m18 0h0m3 0h0m6 0h0m8 0h0m8 0h0m19 0h0m21 0h0m5 0h0m7 0h0m12 0h0m9 0h0m-206 1h0m96 0h0m6 0h0m43 0h0m13 0h0m33 0h0m28 0h0m12 0h0m6 0h0m-232 1h0m103 1h0m97 0h0m6 0h0m32 0h0m-145 1h0m6 0h0m16 0h0m11 0h0m18 0h0m12 0h0m9 0h0m7 0h0m11 0h0m12 0h0m34 0h0m9 1h0m-126 1h0m9 0h0m13 0h0m5 0h0m9 0h0m11 0h0m18 0h0m44 0h0m20 0h0m-96 2h0m25 0h0m26 0h0m39 0h0m-110 1h0m31 0h0m18 0h0m30 0h0m10 0h0m10 0h0m8 0h0m-263 1h0m4 0h0m130 0h0m32 0h0m7 0h0m37 0h0m13 0h0m15 0h0m-102 1h0m8 0h0m39 0h0m10 0h0m25 0h0m34 0h0m-250 2h0m71 0h0m6 0h0m17 0h0m7 0h0m4 0h0m40 0h0m79 0h0m48 0h0m-212 1h0m8 0h0m20 0h0m62 0h0m7 0h0m22 0h0m55 0h0m4 0h0m6 0h0m20 0h0m-268 1h0m88 0h0m82 0h0m18 0h0m13 0h0m4 0h0m27 0h0m-224 1h0m52 0h0m84 0h0m33 0h0m16 0h0m61 0h0m5 0h0m15 0h0m-276 2h0m58 0h0m50 0h0m7 0h0m56 0h0m4 0h0m39 0h0m8 0h0m5 0h0m-219 1h0m40 0h0m4 0h0m30 0h0m11 0h0m3 0h0m29 0h0m38 0h0m68 0h0m14 0h0m2 0h0m-142 1h0m83 0h0m16 0h0m60 0h0m-262 1h0m11 0h0m57 0h0m6 0h0m10 0h0m33 0h0m74 0h0m17 0h0m43 0h0m19 0h0m-22 1h0m19 0h0m9 0h0m-280 1h0m29 0h0m17 0h0m7 0h0m4 0h0m13 0h0m25 0h0m14 0h0m28 0h0m34 0h0m5 0h0m9 0h0m-183 1h0m5 0h0m107 0h0m10 0h0m5 0h0m90 0h0m19 0h0m9 0h0m-233 1h0m5 0h0m5 0h0m10 0h0m7 0h0m62 0h0m16 0h0m22 0h0m74 0h0m11 0h0m15 0h0m22 0h0m14 0h0m-75 1h0m7 0h0m23 0h0m48 0h0m-284 1h0m30 0h0m123 0h0m34 0h0m28 0h0m-212 1h0m6 0h0m5 0h0m6 0h0m6 0h0m106 0h0m5 0h0m101 0h0m7 0h0m21 0h0m-230 1h0m141 0h0m17 0h0m6 0h0m10 0h0m40 0h0m6 0h0m14 0h0m6 0h0m-277 1h0m143 0h0m41 0h0m21 0h0m19 0h0m4 0h0m32 0h0m-110 1h0m133 0h0m-285 1h0m4 0h0m25 0h0m116 0h0m44 0h0m38 0h0m7 0h0m39 0h0m-263 1h0m189 0h0m6 0h0m37 0h0m-228 1h0m201 0h0m33 0h0m18 0h0m10 0h0m10 0h0m-128 1h0m51 0h0m31 0h0m16 0h0m-103 1h0m67 0h0m-208 1h0m152 0h0m41 0h0m34 0h0m13 0h0m-236 1h0m7 0h0m197 0h0m10 0h0m4 0h0m12 0h0m-247 1h0m198 0h0m62 0h0m21 0h0m5 0h0m-279 1h0m208 0h0m55 0h0m16 1h0m-193 1h0m6 0h0m6 0h0m118 0h0m50 0h0m-269 1h0m77 0h0m174 0h0m7 0h0m-91 1h0m41 0h0m14 0h0m17 0h0m-154 1h0m39 0h0m105 0h0m15 0h0m31 0h0m8 0h0m-274 2h0m96 0h0m11 0h0m-57 1h0m23 0h0m3 0h0m45 0h0m42 0h0m70 0h0m6 0h0m22 0h0m-269 1h0m3 0h0m93 0h0m119 0h0m10 0h0m8 0h0m20 0h0m5 0h0m7 0h0m-174 1h0m18 0h0m10 0h0m117 0h0m40 0h0m5 0h0m-231 2h0m16 0h0m5 0h0m162 0h0m12 0h0m23 0h0m12 0h0m-131 2h0m-95 1h0m185 0h0m13 0h0m5 0h0m17 0h0m6 1h0m-227 1h0m17 0h0m4 0h0m18 0h0m15 0h0m131 0h0m-179 1h0m25 0h0m11 0h0m43 0h0m128 0h0m-201 1h0m15 0h0m162 0h0m6 0h0m10 0h0m-251 1h0m267 0h0m6 0h0m-163 2h0m26 0h0m-55 1h0m23 0h0m11 0h0m135 0h0m5 0h0m6 0h0m4 0h0m-174 1h0m6 0h0m29 0h0m7 0h0m9 0h0m97 0h0m4 0h0m30 0h0m-208 1h0m-7 1h0m215 0h0m-271 1h0m93 0h0m161 0h0m-187 1h0m173 0h0m31 0h0m-267 1h0m65 0h0m17 0h0m82 0h0m-52 1h0m151 0h0m5 0h0m-271 1h0m256 0h0m-245 1h0m230 0h0m5 0h0m-79 1h0m100 0h0m3 3h0m-267 1h0m5 0h0m5 0h0m151 1h0m-146 1h0m-5 2h0m10 1h0m133 0h0m100 0h0m-103 2h0m-127 3h0m124 1h0m4 0h0m-123 1h0m107 0h0m-10 2h0m12 0h0m11 0h0m-15 1h0m-108 1h0m89 0h0m-82 1h0m76 0h0m11 0h0m22 1h0m-41 1h0m8 0h0m4 0h0m-82 1h0m89 0h0m-30 1h0m5 0h0m33 0h0m-3 1h0m12 0h0m-93 2h0m60 0h0m11 0h0m-66 1h0m48 0h0m24 0h0m7 0h0m3 0h0m7 0h0m7 0h0m-69 1h0m12 0h0m6 0h0m17 0h0m-61 4h0m70 0h0m10 1h0m-39 1h0m47 1h0m-66 2h0m48 0h0m-123 1h0m151 1h0m-96 3h0m1 3h0m103 1h0m-156 11h0m0 2h0m22 6h0m-3 6h0m-31 1h0m3 5h0m15 3h0m-10 1h0m0 1h0m6 0h0m2 3h0m213 70h0m17 0h0m-14 3h0m7 0h0m5 0h0m-45 1h0m48 0h0m6 1h0m-41 3h0m51 1h0m4 3h0m-3 1h0m-64 26h0m-34 3h0m2 0h0m30 1h0m12 0h0m-6 1h0m-41 2h0m43 2h0m-7 1h0m11 0h0m-4 1h0m-4 1h0m9 0h0m3 0h0m32 0h0m-26 1h0m23 0h0m16 2h0m-26 2h0m11 1h0m-6 1h0m4 3h0m8 1h0m23 0h0m-30 1h0m11 0h0m19 1h0m-4 1h0m-21 1h0m13 0h0m-6 1h0m1 0h0m16 1h0m-12 3h0m4 0h0" stroke="#222222"/>
<path d="M562 1396h0m93 1h0m4 0h0m-51 3h0m44 0h0m-30 1h0m12 0h0m31 0h0m11 0h0m-113 1h0m77 0h0m7 0h0m12 0h0m-47 1h0m-13 1h0m23 0h0m10 0h0m5 0h0m25 0h0m-100 1h0m47 0h0m8 0h0m31 0h0m-43 1h0m-17 1h0m67 0h0m12 0h0m3 0h0m12 0h0m-108 2h0m16 0h0m33 0h0m35 1h0m4 0h0m8 0h0m-87 1h0m37 0h0m10 0h0m9 0h0m6 0h0m5 0h0m-72 1h0m17 0h0m82 2h0m-99 1h0m10 0h0m22 0h0m-4 1h0m89 0h0m-113 1h0m101 0h0m-93 3h0m13 1h0m104 0h0m-122 1h0m120 2h0m35 15h0m-3 2h0m-11 1h0m9 1h0m9 1h0m4 1h0m7 0h0m-28 1h0m11 0h0m-2 4h0m-5 1h0m11 0h0m3 0h0m14 0h0m-10 3h0m13 0h0m5 0h0m7 0h0m-35 1h0m16 0h0m28 0h0m-38 1h0m32 0h0m-46 2h0m14 0h0m30 0h0m7 0h0m3 0h0m-50 1h0m17 0h0m12 1h0m5 0h0m-29 2h0m32 1h0m19 0h0m-46 1h0m9 0h0m30 0h0m10 0h0m-28 1h0m-16 1h0m29 0h0m-39 2h0m23 0h0m17 0h0m11 0h0m7 0h0m-46 1h0m5 0h0m13 0h0m15 0h0m-10 1h0m-40 1h0m39 1h0m27 0h0m-34 1h0m17 0h0m-46 1h0m52 0h0m-46 1h0m11 0h0m23 0h0m17 0h0m-34 1h0m-18 1h0m15 0h0m23 0h0m10 0h0m-46 1h0m52 0h0m-62 1h0m17 1h0m12 0h0m-19 2h0m-12 1h0m23 0h0m4 0h0m25 0h0m51 0h0m-96 1h0m48 0h0m13 0h0m5 0h0m6 0h0m-62 1h0m16 0h0m30 0h0m40 1h0m-87 1h0m43 0h0m6 0h0m15 0h0m-84 1h0m14 0h0m21 0h0m60 0h0m-86 1h0m15 0h0m35 0h0m-64 1h0m78 0h0m19 0h0m-94 2h0m23 0h0m6 0h0m33 0h0m15 0h0m14 0h0m17 0h0m-112 1h0m39 0h0m50 0h0m-79 1h0m63 0h0m33 0h0m-92 1h0m64 0h0m33 1h0m-119 1h0m16 0h0m29 0h0m33 0h0m3 0h0m-72 1h0m28 0h0m79 0h0m-113 1h0m23 0h0m5 0h0m64 0h0m11 0h0m4 0h0m-91 1h0m31 0h0m-27 2h0m73 0h0m7 0h0m3 0h0m12 0h0m-65 1h0m-47 1h0m25 0h0m10 0h0m6 0h0m-29 1h0m62 0h0m39 0h0m-88 2h0m8 0h0m61 0h0m10 0h0m-93 1h0m3 0h0m75 0h0m-53 1h0m8 0h0m34 0h0m4 0h0m17 0h0m-96 1h0m106 0h0m-80 1h0m5 1h0m13 0h0m53 0h0m8 0h0m5 0h0m-100 1h0m26 0h0m36 0h0m-59 1h0m8 0h0m28 0h0m26 0h0m11 0h0m-51 3h0m12 0h0m27 0h0m21 0h0m8 0h0m4 0h0m3 0h0m-111 1h0m14 0h0m4 0h0m8 0h0m16 0h0m42 0h0m-77 1h0m45 0h0m28 1h0m31 0h0m-96 1h0m6 0h0m23 0h0m61 0h0m4 0h0m-84 1h0m23 0h0m36 0h0m16 0h0m-69 1h0m59 0h0m-86 1h0m5 0h0m101 1h0m-85 1h0m5 0h0m9 0h0m36 0h0m9 0h0m22 0h0m-92 1h0m65 0h0m23 0h0m-83 1h0m27 0h0m7 0h0m39 0h0m-85 1h0m28 0h0m76 1h0m-100 1h0m9 0h0m36 0h0m39 0h0m-79 1h0m17 0h0m10 0h0m8 0h0m22 0h0m5 0h0m3 0h0m7 0h0m10 0h0m-72 1h0m80 0h0m-69 1h0m-8 2h0m13 0h0m11 0h0m51 0h0m5 0h0m1 0h0m-76 1h0m11 0h0m13 0h0m9 0h0m6 0h0m6 1h0m18 0h0m-7 1h0m20 1h0m-44 1h0m11 0h0m5 0h0m-49 1h0m26 0h0m12 0h0m36 1h0m-59 1h0m7 0h0m9 1h0m-17 1h0m5 0h0m28 0h0m26 0h0m3 0h0m-40 1h0m34 0h0m-66 1h0m22 0h0m16 0h0m20 0h0m16 2h0m-79 1h0m17 0h0m12 0h0m6 0h0m-24 1h0m27 0h0m6 0h0m6 0h0m-44 1h0m72 1h0m-76 1h0m19 0h0m44 0h0m-57 1h0m6 0h0m34 0h0m29 0h0m-41 1h0m-3 1h0m10 0h0m26 0h0m-31 2h0m34 0h0m6 0h0m-49 1h0m21 1h0m-38 1h0m5 0h0m4 0h0m14 0h0m-19 2h0m21 0h0m4 0h0m6 0h0m30 0h0m-58 1h0m5 0h0m8 1h0m40 0h0m-8 1h0m-42 2h0m5 0h0m13 0h0m6 0h0m-13 1h0m19 0h0m20 0h0m5 0h0m1 1h0m-58 3h0m7 0h0m49 0h0m-28 1h0m21 0h0m-26 1h0m-5 1h0m20 0h0m7 0h0m-31 1h0m42 0h0m-46 1h0m15 1h0m4 0h0m-26 2h0m49 0h0m-48 2h0m13 0h0m12 0h0m20 0h0m4 0h0m-40 1h0m25 0h0m-14 1h0m-4 2h0m33 0h0m-46 1h0m36 0h0m-19 1h0m-10 1h0m21 0h0m14 0h0m2 1h0m-23 1h0m-23 1h0m6 0h0m13 0h0m-6 2h0m16 0h0m11 0h0m6 0h0m-27 2h0m-6 1h0m23 0h0m6 0h0m3 0h0m-36 1h0m23 0h0m-6 1h0m-30 2h0m6 0h0m39 0h0m-31 1h0m33 0h0m-38 1h0m16 0h0m-3 1h0m-2 2h0m-17 1h0m34 0h0m-30 1h0m7 0h0m33 1h0m1 0h0m-45 2h0m8 0h0m27 0h0m-22 1h0m10 0h0m-24 3h0m46 0h0m0 0h0m-41 1h0m5 1h0m7 0h0m7 1h0m5 0h0m-27 2h0m16 0h0m25 0h0m-46 1h0m49 0h0m-23 1h0m7 0h0m-17 1h0m23 0h0m-28 1h0m-13 1h0m4 0h0m30 0h0m10 0h0m-23 1h0m29 0h0m-55 1h0m21 1h0m23 0h0m9 0h0m3 2h0m-2 4h0m-73 2h0m24 2h0m31 2h0m-45 1h0m17 0h0m5 1h0m11 0h0m-27 1h0m3 0h0m18 0h0m12 0h0m7 2h0m-38 1h0m16 0h0m7 0h0m11 0h0m10 0h0m12 0h0m-52 1h0m46 0h0m-40 1h0m18 0h0m-26 2h0m12 0h0m38 0h0m6 0h0m-66 2h0m3 0h0m29 0h0m13 0h0m-7 1h0m-31 2h0m12 0h0m21 1h0m-43 1h0m5 0h0m10 0h0m25 0h0m11 0h0m16 0h0m-33 1h0m34 0h0m-54 2h0m5 0h0m34 0h0m13 0h0m-60 1h0m20 0h0m5 0h0m5 0h0m6 0h0m4 0h0m20 0h0m-63 1h0m13 2h0m10 1h0m-21 1h0m5 0h0m13 0h0m11 0h0m10 0h0m19 0h0m-26 1h0m14 2h0m6 0h0m7 0h0m0 0h0m-45 1h0m5 0h0m-12 1h0m18 0h0m18 0h0m-12 1h0m6 0h0m23 1h0m-50 2h0m6 0h0m6 0h0m21 0h0m-8 1h0m23 0h0m0 0h0m-29 1h0m23 0h0m-25 3h0m5 0h0m-22 1h0m5 2h0m44 0h0m-39 2h0m2 0h0m2 0h0m38 0h0m-33 2h0m4 1h0" stroke="#8c5aa0"/>
<path d="M671 1513h0m-11 1h0m6 0h0m-26 2h0m49 0h0m-44 1h0m33 0h0m26 0h0m10 0h0m-58 1h0m8 0h0m21 0h0m22 0h0m-54 1h0m15 0h0m5 0h0m47 0h0m-76 2h0m67 0h0m6 0h0m-91 1h0m5 0h0m5 0h0m12 0h0m36 0h0m5 0h0m3 0h0m-27 1h0m12 0h0m-53 3h0m5 0h0m80 0h0m-74 1h0m43 0h0m14 0h0m-35 1h0m7 0h0m21 0h0m10 0h0m20 0h0m4 0h0m-79 1h0m12 0h0m18 0h0m54 0h0m-91 2h0m34 0h0m23 0h0m32 0h0m4 0h0m-103 1h0m4 0h0m15 0h0m65 0h0m8 0h0m-78 1h0m11 0h0m12 0h0m16 0h0m-23 1h0m-23 2h0m5 0h0m11 0h0m16 0h0m62 0h0m-102 1h0m20 0h0m33 0h0m3 0h0m26 0h0m-51 1h0m6 0h0m25 0h0m7 0h0m5 0h0m11 0h0m8 0h0m-98 1h0m10 2h0m56 0h0m-45 1h0m16 0h0m-43 1h0m3 0h0m7 0h0m29 0h0m15 0h0m11 0h0m19 0h0m3 0h0m8 0h0m17 0h0m-42 2h0m14 0h0m-82 1h0m39 0h0m37 0h0m-49 1h0m7 0h0m60 0h0m-84 1h0m35 0h0m7 0h0m4 0h0m33 0h0m11 0h0m-26 1h0m32 0h0m5 0h0m-103 1h0m67 0h0m-90 1h0m56 0h0m57 0h0m7 0h0m-131 1h0m23 0h0m27 0h0m34 0h0m-45 1h0m5 0h0m19 0h0m9 0h0m36 0h0m11 0h0m-109 2h0m26 0h0m56 0h0m-100 1h0m10 0h0m14 0h0m11 0h0m17 0h0m4 0h0m90 0h0m-61 1h0m22 0h0m22 0h0m6 0h0m-128 1h0m88 0h0m16 0h0m7 0h0m21 0h0m11 0h0m-142 2h0m6 0h0m69 0h0m11 0h0m5 0h0m38 0h0m-113 1h0m19 0h0m83 0h0m23 0h0m-161 1h0m9 0h0m5 0h0m34 0h0m18 0h0m5 0h0m56 0h0m5 0h0m-101 1h0m28 0h0m16 0h0m12 0h0m28 0h0m6 0h0m44 0h0m-141 2h0m43 0h0m10 0h0m7 0h0m13 0h0m11 0h0m10 0h0m17 0h0m6 0h0m-90 1h0m21 0h0m31 0h0m25 0h0m26 0h0m4 0h0m5 0h0m7 0h0m-168 1h0m3 0h0m11 0h0m11 0h0m8 0h0m26 0h0m86 0h0m26 0h0m-169 1h0m7 0h0m28 0h0m19 0h0m31 0h0m23 0h0m11 0h0m-97 2h0m72 0h0m55 0h0m-145 1h0m28 0h0m11 0h0m9 0h0m5 0h0m4 0h0m5 0h0m57 0h0m40 0h0m4 0h0m-151 1h0m24 0h0m33 0h0m17 0h0m17 0h0m3 0h0m7 0h0m28 0h0m10 0h0m-153 1h0m24 0h0m103 0h0m12 0h0m-20 2h0m32 0h0m-128 1h0m6 0h0m5 0h0m10 0h0m34 0h0m5 0h0m6 0h0m25 0h0m14 0h0m7 0h0m22 0h0m-145 1h0m7 0h0m43 0h0m5 0h0m7 0h0m20 0h0m7 0h0m7 0h0m31 0h0m29 0h0m-165 1h0m38 0h0m8 0h0m7 0h0m68 0h0m21 0h0m-132 1h0m13 1h0m12 0h0m26 0h0m78 0h0m11 0h0m-148 1h0m100 0h0m20 0h0m9 0h0m5 0h0m28 0h0m5 0h0m-153 1h0m25 0h0m33 0h0m12 0h0m10 0h0m21 0h0m28 0h0m11 0h0m-88 1h0m44 0h0m-32 1h0m13 0h0m22 0h0m27 0h0m-110 1h0m54 0h0m80 0h0m-159 1h0m48 0h0m44 0h0m22 0h0m10 0h0m5 0h0m18 0h0m19 0h0m-164 1h0m5 0h0m13 0h0m10 0h0m6 0h0m20 0h0m6 0h0m39 0h0m50 0h0m17 0h0m-129 1h0m102 0h0m-115 1h0m69 0h0m61 0h0m-155 1h0m32 0h0m18 0h0m14 0h0m14 0h0m37 0h0m51 0h0m-151 1h0m21 0h0m35 0h0m11 0h0m6 0h0m11 0h0m38 0h0m-135 1h0m3 0h0m14 0h0m23 0h0m10 0h0m69 0h0m6 0h0m5 0h0m28 0h0m-101 1h0m85 0h0m-132 1h0m77 0h0m33 0h0m19 0h0m4 0h0m7 0h0m9 0h0m-133 1h0m51 0h0m18 0h0m9 0h0m22 0h0m40 0h0m-166 1h0m4 0h0m10 0h0m52 0h0m44 0h0m22 0h0m-132 1h0m22 0h0m11 0h0m10 0h0m7 0h0m6 0h0m4 0h0m13 0h0m10 0h0m71 0h0m-129 2h0m11 0h0m62 0h0m4 0h0m6 0h0m-103 1h0m7 0h0m5 0h0m51 0h0m52 0h0m3 0h0m8 0h0m6 0h0m20 0h0m6 0h0m-163 1h0m48 0h0m8 0h0m6 0h0m13 0h0m3 0h0m14 0h0m49 0h0m10 0h0m-100 1h0m35 0h0m61 0h0m-138 2h0m57 0h0m27 0h0m6 0h0m29 0h0m11 0h0m10 0h0m-148 1h0m13 0h0m8 0h0m17 0h0m4 0h0m5 0h0m6 0h0m16 0h0m47 0h0m28 0h0m10 0h0m7 0h0m-129 1h0m45 0h0m28 0h0m6 0h0m12 0h0m44 0h0m-163 1h0m54 0h0m31 0h0m-21 2h0m34 0h0m9 0h0m9 0h0m25 0h0m18 0h0m-164 1h0m35 0h0m95 0h0m13 0h0m-118 1h0m5 0h0m21 0h0m24 0h0m6 0h0m27 0h0m16 0h0m28 0h0m7 0h0m-114 1h0m40 0h0m7 0h0m3 0h0m-94 2h0m48 0h0m10 0h0m46 0h0m44 0h0m-123 1h0m4 0h0m63 0h0m-48 1h0m10 0h0m17 0h0m10 0h0m16 0h0m23 0h0m5 0h0m11 0h0m29 0h0m-77 1h0m44 0h0m27 0h0m-114 2h0m57 0h0m4 0h0m22 0h0m14 0h0m10 0h0m12 0h0m-128 1h0m22 0h0m4 0h0m6 0h0m16 0h0m6 0h0m68 0h0m-134 1h0m5 0h0m22 0h0m21 0h0m24 0h0m18 0h0m2 0h0m9 0h0m19 1h0m-91 1h0m73 0h0m30 0h0m3 0h0m-132 1h0m5 0h0m5 0h0m6 0h0m6 0h0m16 0h0m12 0h0m5 0h0m6 0h0m10 0h0m41 0h0m-47 1h0m12 0h0m18 0h0m27 0h0m-77 1h0m73 0h0m-34 1h0m-65 1h0m11 0h0m20 0h0m17 0h0m63 0h0m-117 1h0m79 0h0m26 0h0m-82 1h0m45 0h0m33 0h0m-111 1h0m20 0h0m18 0h0m4 0h0m13 0h0m6 0h0m11 0h0m12 0h0m14 0h0m22 0h0m13 0h0m-41 1h0m-52 1h0m7 0h0m-38 1h0m8 0h0m7 0h0m43 0h0m8 0h0m56 0h0m-146 1h0m4 0h0m46 0h0m44 0h0m18 0h0m23 0h0m-117 1h0m26 0h0m23 0h0m5 0h0m7 0h0m26 0h0m13 0h0m4 0h0m-101 2h0m10 0h0m10 0h0m7 0h0m44 0h0m34 0h0m-102 1h0m35 0h0m5 0h0m50 0h0m6 0h0m10 0h0m11 0h0m-128 1h0m61 0h0m5 0h0m7 0h0m22 0h0m29 0h0m-133 1h0m3 0h0m64 0h0m27 0h0m4 0h0m-99 1h0m15 1h0m14 0h0m-26 1h0m17 0h0m45 0h0m4 0h0m23 0h0m-50 1h0m9 0h0m8 0h0m22 0h0m17 0h0m17 0h0m-108 1h0m19 0h0m9 0h0m50 0h0m-80 1h0m5 1h0m29 0h0m4 0h0m13 0h0m3 0h0m9 0h0m8 0h0m7 1h0m7 0h0m22 0h0m-97 1h0m11 0h0m24 0h0m43 0h0m-83 1h0m61 0h0m-42 2h0m29 0h0m10 0h0m29 0h0m-82 1h0m21 0h0m56 0h0m10 0h0m-82 1h0m5 0h0m21 0h0m7 0h0m28 0h0m-64 1h0m59 0h0m33 0h0m-65 1h0m-10 1h0m5 0h0m17 0h0m-35 1h0m38 0h0m35 0h0m16 0h0m-88 1h0m5 0h0m22 0h0m36 0h0m5 0h0m9 0h0m7 0h0m-83 1h0m43 0h0m13 0h0m31 1h0m-79 1h0m10 0h0m22 0h0m-29 1h0m24 0h0m12 0h0m5 0h0m6 0h0m20 0h0m-73 1h0m5 0h0m20 0h0m44 0h0m-59 1h0m6 2h0m18 0h0m32 0h0m-45 1h0m3 0h0m15 1h0m6 0h0m4 0h0m-15 1h0m-4 1h0m7 0h0m4 0h0m7 0h0m4 1h0m23 0h0m-27 2h0m5 0h0m6 0h0m5 0h0m4 0h0m-11 1h0m22 1h0m-4 1h0m-15 1h0m10 0h0m-5 1h0m1 1h0" stroke="#f6c40f"/>
<path d="M620 1426h0m16 0h0m12 0h0m-15 1h0m9 0h0m-29 1h0m-7 1h0m28 0h0m7 0h0m-44 1h0m6 0h0m26 0h0m30 0h0m3 0h0m5 0h0m6 0h0m-55 1h0m7 0h0m20 0h0m8 0h0m26 0h0m-86 2h0m90 0h0m-95 1h0m22 0h0m10 0h0m22 0h0m13 0h0m33 0h0m-85 1h0m31 0h0m25 0h0m6 0h0m7 0h0m4 0h0m-77 1h0m15 0h0m11 0h0m13 0h0m13 1h0m-66 1h0m34 0h0m48 0h0m7 0h0m10 0h0m-32 1h0m44 0h0m-116 1h0m14 0h0m12 0h0m6 0h0m16 0h0m7 0h0m29 0h0m26 0h0m19 0h0m-121 1h0m15 0h0m21 0h0m18 0h0m4 0h0m33 0h0m22 0h0m-44 1h0m-60 1h0m-25 1h0m20 0h0m17 0h0m11 0h0m52 0h0m10 0h0m16 0h0m19 0h0m-103 1h0m75 0h0m22 0h0m-136 1h0m12 0h0m17 0h0m91 0h0m-115 2h0m126 0h0m9 0h0m3 0h0m-135 1h0m8 0h0m5 0h0m4 0h0m103 0h0m-6 1h0m-131 3h0m26 0h0m119 0h0m-151 1h0m155 1h0m6 0h0m8 0h0m-161 2h0m-7 1h0m29 0h0m122 0h0m6 0h0m7 0h0m-16 1h0m-112 1h0m5 1h0m124 1h0m-163 1h0m9 0h0m150 0h0m-123 1h0m4 1h0m109 0h0m3 1h0m-141 1h0m32 0h0m97 1h0m23 0h0m-28 1h0m21 0h0m-11 1h0m4 0h0m-87 1h0m87 1h0m14 0h0m-112 1h0m17 0h0m20 0h0m2 0h0m-33 1h0m5 0h0m13 0h0m6 0h0m15 0h0m17 0h0m20 0h0m8 0h0m12 0h0m7 0h0m-142 1h0m87 0h0m4 0h0m10 0h0m5 0h0m14 0h0m-71 2h0m95 0h0m-64 1h0m18 0h0m14 0h0m5 0h0m6 0h0m-87 1h0m7 0h0m46 0h0m37 0h0m-71 1h0m4 0h0m11 0h0m6 0h0m16 0h0m12 0h0m36 1h0m-87 1h0m36 0h0m11 0h0m-56 1h0m17 0h0m51 0h0m6 0h0m6 0h0m-69 1h0m20 0h0m8 0h0m-13 1h0m26 0h0m12 0h0m23 0h0m-66 2h0m63 0h0m-74 1h0m5 0h0m12 0h0m11 0h0m13 0h0m8 0h0m-15 1h0m21 0h0m6 0h0m-37 1h0m20 0h0m-8 2h0m-21 1h0m9 0h0m-4 1h0m10 0h0" stroke="#f5890a"/>
<path d="M568 1451h0m5 0h0m-1 4h0m5 0h0m4 1h0m5 0h0m-14 3h0m6 0h0m7 1h0m3 2h0m-11 1h0m6 2h0m11 0h0m-14 3h0m4 1h0m11 1h0m-4 1h0m13 2h0m-10 1h0m15 0h0m-23 1h0m11 1h0m-7 3h0m5 0h0m16 0h0m-11 1h0m9 0h0m-5 2h0m-11 1h0m16 1h0m8 0h0m3 0h0m-20 1h0m3 2h0m27 0h0m-17 1h0m5 0h0m7 0h0m-19 1h0m-3 3h0m14 0h0m6 0h0m11 0h0m4 0h0m-28 1h0m18 0h0m14 2h0m-36 2h0m6 0h0m30 0h0m9 1h0m-22 1h0m17 0h0m-28 1h0m5 0h0m12 0h0m13 2h0m-27 1h0m6 0h0m4 0h0m5 1h0" stroke="#0868ac"/>
<path d="M729 1536h0m11 0h0m6 1h0m-11 1h0m-8 3h0m6 0h0m18 1h0m-14 2h0m9 0h0m-9 3h0m-7 1h0m23 0h0m-25 2h0m9 0h0m13 2h0m-5 1h0m-14 1h0m4 1h0m13 0h0m-8 1h0m14 1h0m-15 4h0m4 0h0m8 0h0m5 0h0m3 2h0m-8 2h0m15 1h0m-19 1h0m-3 3h0m16 0h0m7 0h0m-13 1h0m17 0h0m-22 2h0m-1 1h0m9 2h0m12 0h0m-17 1h0m13 1h0m-14 2h0m17 0h0m-11 1h0m2 0h0m13 0h0m-2 4h0m-12 1h0m4 0h0m-6 4h0m12 0h0m3 0h0m-8 1h0m6 3h0m-12 1h0m16 0h0m-7 2h0m6 2h0m-10 1h0m-5 1h0m10 0h0m-10 3h0m5 1h0m9 1h0m-16 3h0m5 1h0m5 0h0m6 1h0m-6 5h0m4 0h0m6 0h0m-16 1h0m-5 2h0m5 0h0m13 2h0m-6 1h0m-4 1h0m9 0h0m-13 3h0m-2 3h0m6 0h0m-27 14h0m8 0h0m3 2h0m-21 1h0m-2 8h0m14 1h0m11 6h0m-17 2h0m1 5h0m-12 1h0m8 0h0m15 1h0m-12 4h0m-2 1h0m9 0h0m2 0h0m-4 1h0m2 0h0m-17 1h0m4 1h0m19 1h0m3 1h0m6 1h0" stroke="#008f5a"/>
<path d="M602 1503h0m-5 1h0m9 2h0m-5 3h0m9 4h0m-12 1h0m7 0h0m-3 4h0m-6 1h0m12 0h0m4 0h0m-13 2h0m-5 1h0m10 0h0m4 0h0m8 0h0m-20 4h0m18 1h0m-12 1h0m6 1h0m9 0h0m-17 2h0m8 0h0m6 0h0m-20 3h0m11 0h0m9 2h0m-22 1h0m9 0h0m4 0h0m-31 1h0m26 2h0m-36 1h0m6 0h0m7 0h0m4 1h0m12 0h0m10 0h0m-34 3h0m-16 1h0m8 0h0m36 0h0m6 0h0m-28 1h0m3 0h0m13 1h0m15 0h0m-28 2h0m-23 1h0m16 0h0m12 0h0m-19 1h0m-3 4h0" stroke="#8a8a8a"/>
<path d="M572 1493h0m0 3h0m2 1h0m6 0h0m3 1h0m6 1h0m-18 2h0m-1 1h0m23 0h0m-19 1h0m8 0h0m6 0h0m-22 5h0m14 0h0m12 0h0m-22 1h0m4 0h0m11 1h0m10 0h0m-30 1h0m18 0h0m-12 1h0m5 0h0m16 1h0m-30 1h0m24 0h0m-19 3h0m19 0h0m-12 1h0m14 0h0m-8 1h0m-20 1h0m23 1h0m-7 2h0m-6 1h0m17 0h0m-14 2h0m15 0h0m-7 2h0m4 0h0m-14 3h0m11 0h0m4 0h0m-9 3h0m3 2h0m3 1h0" stroke="#e690b0"/>
<path d="M712 1421h0m8 0h0m-11 3h0m13 0h0m-4 3h0m-1 3h0m7 0h0m-9 1h0m6 3h0m5 0h0m6 2h0m-17 1h0m3 1h0m12 3h0m40 38h0m4 0h0m-3 3h0m-202 2h0m210 0h0m-198 1h0m2 2h0m191 0h0m8 0h0m-212 1h0m201 0h0m-194 2h0m6 2h0m3 0h0m181 0h0m7 0h0m-198 1h0m207 1h0m-7 1h0m10 1h0m-16 3h0m6 0h0m4 0h0m4 2h0m-11 2h0m4 1h0m14 1h0m0 2h0m-5 1h0m-9 1h0m2 0h0m-2 3h0m10 0h0m-5 1h0m6 5h0m-227 1h0m221 0h0m10 0h0m2 3h0m-233 1h0m223 0h0m-227 1h0m7 0h0m214 0h0m11 0h0m-2 2h0m-221 1h0m-2 1h0m216 0h0m10 0h0m-233 1h0m-3 1h0m4 1h0m226 1h0m4 0h0m-236 1h0m1 0h0m-4 3h0m12 0h0m225 0h0m-231 2h0m-5 1h0m3 2h0m5 1h0m-8 1h0" stroke="#c70039"/>
<path d="M599 1612h0m2 1h0m-13 5h0m3 3h0m3 0h0m0 4h0m6 0h0m-7 2h0m1 1h0m4 0h0m1 6h0m2 4h0" stroke="#a6cdf0"/>
<path d="M650 1397h0m20 4h0m8 3h0m-50 2h0m-52 1h0m67 0h0m-31 3h0m73 0h0m-82 1h0m3 0h0m73 1h0m-80 5h0m-3 2h0m100 2h0m-117 1h0m3 21h0m124 2h0m56 4h0m-27 6h0m25 8h0m-28 1h0m-118 3h0m-12 2h0m185 9h0m-74 1h0m-66 1h0m13 2h0m142 15h0m11 1h0m-64 5h0m21 5h0m-48 5h0m4 1h0m27 5h0m48 3h0m-206 15h0m169 10h0m52 3h0m-3 10h0m-12 2h0m21 8h0m-11 11h0m-33 20h0m23 11h0m-63 36h0m10 2h0m-2 3h0m28 3h0m-40 2h0m10 0h0m-20 2h0m-1 2h0m-4 1h0m18 1h0m-22 4h0m25 0h0m10 2h0m54 0h0m-58 5h0m36 9h0" stroke="#222222"/>
<path d="M702 1372h0m60 4h0m-114 1h0m-2 5h0m-69 5h0m198 3h0m-128 1h0m-31 3h0m-40 3h0m21 0h0m159 4h0m28 5h0m-59 5h0m-10 1h0m63 3h0m57 0h0m-92 4h0m53 0h0m-172 1h0m131 5h0m-180 8h0m-4 1h0m129 1h0m54 3h0m-193 5h0m228 1h0m-225 2h0m252 9h0m-250 8h0m5 11h0m-2 3h0m252 3h0m10 0h0m-1 3h0m-112 22h0m-72 1h0m34 1h0m63 40h0m4 0h0m12 20h0m14 20h0m-20 58h0m-27 4h0m6 0h0m23 2h0m-23 3h0m-4 4h0m18 7h0m70 22h0m-2 5h0" stroke="#8c5aa0"/>
<path d="M690 1506h0m-68 2h0m8 0h0m33 0h0m46 0h0m-39 1h0m34 0h0m15 1h0m-94 1h0m52 0h0m34 0h0m-95 1h0m26 0h0m52 0h0m-46 1h0m6 0h0m-32 1h0m-18 98h0m-8 2h0m-7 3h0m10 3h0m4 1h0m4 4h0m-2 4h0m4 0h0m121 15h0m-6 5h0m28 4h0m-10 2h0" stroke="#f6c40f"/>
<path d="M779 1378h0m-193 19h0m42 48h0m39 1h0m-42 2h0m-7 1h0m72 0h0m-61 1h0m-30 3h0m62 2h0m-46 1h0m86 2h0m-16 2h0m-46 6h0m28 1h0m19 0h0m6 0h0m-46 2h0" stroke="#f5890a"/>
<path d="M611 1508h0" stroke="#8a8a8a"/>
<path d="M818 1523h0m-9 81h0" stroke="#c70039"/>
<path d="M654 1508h0m60 1h0m-40 1h0m-41 2h0m63 5h0m-26 4h0m29 1h0m-44 2h0m49 0h0m-57 3h0m27 0h0m28 1h0m-31 3h0m24 0h0m16 0h0m-27 3h0m25 7h0m-65 1h0m18 0h0m-28 1h0m82 0h0m-80 5h0m-19 1h0m57 0h0m5 1h0m43 2h0m-130 1h0m23 0h0m50 1h0m-14 3h0m7 0h0m-52 1h0m96 0h0m10 3h0m10 0h0m-74 1h0m16 1h0m-50 4h0m-33 3h0m69 2h0m22 0h0m-94 4h0m159 0h0m-114 3h0m44 1h0m-35 2h0m-49 1h0m21 0h0m49 0h0m-58 3h0m40 1h0m15 0h0m30 0h0m-87 2h0m139 0h0m-45 7h0m14 0h0m-76 1h0m-11 3h0m106 4h0m-53 3h0m-78 2h0m5 0h0m54 1h0m-5 1h0m20 3h0m-37 1h0m77 0h0m27 2h0m-9 3h0m-73 4h0m104 0h0m-51 2h0m-79 3h0m101 1h0m-109 4h0m14 1h0m73 1h0m-45 5h0m-3 4h0m59 1h0m-1 3h0m-85 1h0m63 4h0m-44 1h0m7 8h0m4 5h0m36 0h0m12 2h0m7 0h0m-15 8h0" stroke="#c9b68e"/>
<path d="M570 1372h0m93 1h0m-36 3h0m26 2h0m75 0h0m-94 2h0m-42 1h0m142 0h0m-95 8h0m29 0h0m77 7h0m-102 1h0m-14 3h0m102 0h0m-111 2h0m-51 2h0m236 0h0m-225 1h0m15 2h0m41 3h0m55 0h0m-15 1h0m-84 3h0m98 0h0m39 0h0m-31 2h0m84 0h0m-166 1h0m157 0h0m-83 2h0m68 1h0m-55 1h0m115 3h0m-80 3h0m12 0h0m38 3h0m-44 5h0m67 0h0m-34 5h0m-116 6h0m106 0h0m-13 2h0m-148 1h0m169 0h0m-95 1h0m-13 3h0m9 0h0m8 0h0m8 0h0m-132 1h0m71 0h0m8 0h0m4 0h0m27 0h0m28 0h0m-47 1h0m3 0h0m33 1h0m-8 2h0m-20 1h0m9 0h0m6 0h0m85 0h0m-63 2h0m45 0h0m-130 3h0m9 0h0m30 0h0m-34 1h0m66 0h0m-49 1h0m114 1h0m-73 2h0m-10 1h0m-23 1h0m107 3h0m53 4h0m8 2h0m-82 3h0m32 4h0m-48 6h0m35 0h0m-144 4h0m202 5h0m-3 2h0m-73 1h0m-92 1h0m107 1h0m-101 2h0m41 2h0m15 3h0m-75 2h0m7 1h0m4 2h0m127 2h0m-101 1h0m159 4h0m-120 7h0m-30 4h0m48 0h0m49 3h0m-76 1h0m72 1h0m-92 2h0m-41 4h0m15 3h0m40 0h0m17 0h0m-97 1h0m174 0h0m-160 4h0m21 0h0m9 0h0m19 0h0m115 2h0m51 3h0m-223 2h0m43 9h0m53 0h0m78 4h0m11 5h0m-170 1h0m57 1h0m20 2h0m-13 4h0m6 0h0m112 0h0m-30 1h0m-149 9h0m156 2h0m-86 1h0m-84 3h0m193 4h0m-182 3h0m98 0h0m-72 1h0m-44 2h0m91 0h0m45 1h0m54 1h0m-169 2h0m38 1h0m55 3h0m10 10h0m10 0h0m16 6h0m-118 1h0m122 0h0m-80 4h0m127 0h0m-100 1h0m-69 2h0m106 1h0m-38 1h0m53 2h0m27 1h0m-118 1h0m49 2h0m21 4h0m-62 1h0m106 0h0m-42 3h0m11 0h0m-62 1h0m7 0h0m116 0h0m-123 5h0m24 4h0m84 6h0m12 11h0m17 3h0" stroke="#a6cdf0"/>
</g>
<line x1="529.7" y1="1694.2" x2="529.7" y2="1601.9" stroke="#000" stroke-width="2.3"/><path d="M529.7 1579.3L541.5 1602.9L517.9 1602.9Z" fill="#000"/>
<line x1="528.6" y1="1693.1" x2="622.4" y2="1693.1" stroke="#000" stroke-width="2.3"/><path d="M645 1693.1L621.4 1704.9L621.4 1681.3Z" fill="#000"/>
<text x="587.5" y="1732.3" font-size="32" text-anchor="middle">x</text>
<text x="507.5" y="1636" font-size="32" text-anchor="middle" transform="rotate(-90 507.5 1636)">y</text>
</g>
<g id="pjk">
<text x="886.5" y="1400.1" font-size="49.5" font-weight="bold">j</text>
<text x="1289" y="1399.7" font-size="49.5" font-weight="bold">k</text>
<path d="M1000.5 1454.4C1000.9 1451.6 1007.3 1456 1012 1458.6C1016.7 1461.2 1024.5 1466.9 1028.7 1470.1C1032.9 1473.2 1035.7 1474.8 1037 1477.4C1038.4 1480 1035 1482.6 1037 1485.7C1039.1 1488.9 1042.6 1494.3 1049.6 1496.2C1056.5 1498.1 1072.5 1495.8 1078.8 1497.2C1085.1 1498.6 1088.6 1502.3 1087.2 1504.5C1085.8 1506.8 1076 1509.6 1070.5 1510.8C1064.9 1512 1058.6 1512.5 1053.8 1511.8C1048.9 1511.1 1046.1 1509.6 1041.2 1506.6C1036.4 1503.7 1029.7 1499.3 1024.5 1494.1C1019.3 1488.9 1013.9 1481.9 1009.9 1475.3C1005.9 1468.7 1000.2 1457.2 1000.5 1454.4Z" fill="#0565a8"/>
<path d="M1014.8 1456.5C1015.3 1455.3 1016.2 1451.7 1018.1 1449.5C1020 1447.4 1022.7 1445.3 1026.1 1443.6C1029.4 1441.9 1033.6 1440.3 1038.1 1439.1C1042.7 1438 1048 1437 1053.4 1436.5C1058.9 1435.9 1065 1435.7 1071 1435.8C1077 1435.9 1083.4 1436.3 1089.6 1437.1C1095.7 1437.8 1102.1 1438.9 1107.9 1440.3C1113.8 1441.7 1119.6 1443.4 1124.8 1445.2C1130 1447.1 1134.9 1449.3 1139 1451.5C1143.2 1453.8 1146.8 1456.3 1149.6 1458.8C1152.5 1461.2 1154.6 1463.9 1155.9 1466.4C1157.2 1469 1157.2 1472.8 1157.5 1474" fill="none" stroke="#f28105" stroke-width="14.5" stroke-linecap="round"/>
<path d="M1152.4 1473.4C1152.2 1474.1 1151.7 1476.4 1150.9 1477.8C1150 1479.2 1148.8 1480.6 1147.3 1481.9C1145.8 1483.1 1144 1484.3 1141.9 1485.4C1139.9 1486.5 1137.5 1487.5 1134.9 1488.3C1132.2 1489.2 1129.3 1490 1126.3 1490.6C1123.2 1491.2 1119.9 1491.7 1116.5 1492C1113.1 1492.4 1109.4 1492.6 1105.8 1492.7C1102.1 1492.7 1098.3 1492.7 1094.5 1492.5C1090.7 1492.3 1086.7 1491.9 1082.9 1491.5C1079.1 1491 1075.2 1490.4 1071.4 1489.6C1067.7 1488.9 1064 1488.1 1060.4 1487.1C1056.9 1486.1 1053.4 1485 1050.2 1483.9C1046.9 1482.7 1042.6 1480.7 1041 1480.1" fill="none" stroke="#f28105" stroke-width="19" stroke-linecap="round"/>
<path transform="rotate(45)" d="M1818.6 164.8h0m-15.8 7.3h0m57.6 1.3h0m-2.9 1.3h0m0.2 1.4h0m-53 15.6h0m-6.7 3.7h0m17.1 21.9h0m-74.2 14.1h0m8 0.2h0m-7.8 6.4h0m-3.2 1.5h0m43.2 3.4h0m-26.1 12h0m73.7 35.5h0m4.4 1.5h0m-7.4 0.9h0m6.1 0.4h0m0.6-0.2h0m3.7 3.1h0m-13.5 1.3h0m3.2-0.3h0m0.8 0.8h0m0.3 0.5h0m6.8-0.1h0m-10.8 1h0m1-0.5h0m5.5 0.3h0m-2.9 1h0m0.9-0.3h0m0.4 0.2h0m1.3 0.2h0m-42.7 0.6h0m32.6 0.2h0m0.4-0.2h0m14.6 0h0m0 0.3h0m-48.8 0.9h0m35.8 0.6h0m3.1 0h0m1.6 0.1h0m4.9 0.2h0m-13.3 1.5h0m1.8-0.6h0m8.1 0.4h0m3 0.2h0m-13.7 0.5h0m1 0.3h0m14.7-0.1h0m-48.5 0.7h0m36.4 0.6h0m9 0h0m-19.6 0.6h0m4.7-0.4h0m2 0.6h0m0.7-0.4h0m2.6 0h0m2.6 0.2h0m1.7 0.3h0m-42.6 0.5h0m3.7-0.1h0m32.6 0h0m-40 1.6h0m5.8-0.6h0m39.3 0.3h0m1.7 0.4h0m-45.3 0.8h0m29.5-0.5h0m9.3 0.8h0m3.7-0.9h0m0.6 0.8h0m4.9-0.5h0m-49.8 1.4h0m31.9-0.4h0m-33.8 1.2h0m36.9 0.3h0m1.4-0.6h0m8.9-0.3h0m2.4 0.2h0m1.1 0.7h0m-58.8 0.9h0m4.5 0.1h0m-7.7 0.5h0m7.4 0.3h0m31.7 0h0m6.3 0h0m7.2-0.5h0m0.5 0.5h0m7.2-0.5h0m-57.8 1.6h0m11.5 0.1h0m28.7 0.1h0m1.3-0.2h0m11-0.4h0m-70.9 1.3h0m4.5-0.6h0m2.5 0.2h0m2.7 0.1h0m8.4 0.3h0m1.8-0.2h0m15.8-0.1h0m22.6-0.3h0m6.2-0.1h0m-66.4 1.7h0m4.1 0.2h0m2.1-0.5h0m18.9-0.1h0m1.8 0.2h0m30.5 0.1h0m2.9-0.6h0m8.9 0.6h0m3.5 0.3h0m1.7-0.8h0m-75.2 1.1h0m9.6 0.1h0m11.5-0.2h0m20.3 0.1h0m5.1 0.1h0m0.2 0.1h0m4.3 0.3h0m9.6 0h0m5.1-0.5h0m2.3 0.7h0m6.8-0.1h0m-78.7 1h0m9.3-0.6h0m10.7 0.2h0m14.9 0.2h0m2.8 0.2h0m19.9-0.8h0m13.6 0.6h0m-62.3 1.2h0m4.1-0.1h0m0.9 0.2h0m3.4 0h0m3.3-0.7h0m2.1 0.3h0m10.5-0.1h0m18.1 0.5h0m9.5-0.4h0m5 0.1h0m2.3-0.3h0m2.3-0.2h0m5.5 0h0m3.5 0.7h0m-82.6 0.5h0m3.2 0.2h0m23.7 0h0m3.5-0.5h0m17.3 0.5h0m0.3-0.2h0m6.8-0.1h0m6.7 0.1h0m1.7 0.5h0m5.8 0.1h0m1.9-0.5h0m10.9 0h0m0.5-0.1h0m-56.8 1.6h0m3.1-0.7h0m4.6 0.5h0m4.7-0.1h0m1.6-0.4h0m10.8 0h0m4.9 0.3h0m3.7 0h0m7.2 0.3h0m2.6-0.5h0m-69.2 1.5h0m11.4 0.1h0m22 0.1h0m25.8-0.9h0m19.2 0.1h0m1.4 0.4h0m-69.5 1.3h0m8.9-0.2h0m14.4 0.2h0m2.5-0.4h0m5.1-0.4h0m0.3 0.2h0m9.6-0.1h0m1.5 0.6h0m3.3-0.7h0m8.6 0.4h0m0.1-0.2h0m5.2 0.5h0m0.7-0.2h0m3.2 0.1h0m3.6-0.7h0m-74 2h0m4.2-0.7h0m6.5-0.2h0m8.1 0.1h0m19.1 0.5h0m6.1-0.1h0m0.8 0.4h0m0.3-0.9h0m2 0.1h0m0.7 0.2h0m3.3 0.4h0m15.7 0h0m5.2 0.2h0m-66.5 0.5h0m3.4-0.2h0m5.1 0.4h0m27.7-0.5h0m5 0.4h0m2.7-0.1h0m0.7-0.1h0m3 0.3h0m4 0.1h0m6.2-0.7h0m-49.4 1.5h0m7.2 0.3h0m4.3-0.6h0m15.1 0.2h0m1.1 0.4h0m0.6-0.1h0m3.2-0.1h0m3.6-0.1h0m6.4 0.1h0m2.3-0.4h0m2 0.7h0m-43.3 0.1h0m0.4 0.1h0m1.9 0.2h0m10.2 0.5h0m5.7 0.1h0m5.7-0.7h0m13.6-0.2h0m3.1 0.4h0m2.5 0.5h0m-48.6 0.2h0m9.9 0.2h0m25.2-0.1h0m21.4-0.3h0m-53 1.7h0m0.2-0.4h0m4.5 0.1h0m0.1 0h0m14.4-0.3h0m8.2 0.2h0m0.3 0.3h0m5.7-0.1h0m1.8-0.1h0m2.4 0.6h0m-8.3 0.1h0m4.5 0.6h0m16.1 0h0m-25.7 0.4h0m1.2 0.2h0m13 0.7h0" stroke="#0565a8" stroke-width="3.4" stroke-linecap="square" fill="none"/>
<path transform="rotate(45)" d="M1829.6 142.1h0m-10.6 3h0m14.7 5.1h0m-16.9 0.8h0m4.6 4.8h0m12.3 0.4h0m-16.3 0.5h0m11.3 2.5h0m-20.5 0.7h0m-5.5 1.7h0m-2.2 5.1h0m11.5 0.6h0m40.6 4h0m-41.4 3.1h0m3.6-0.3h0m20.2 1.2h0m-9.9 1h0m-16.7 2.3h0m16.1 2.8h0m-18.2 1.3h0m1.7 2h0m11.3 3.9h0m12.4 3.5h0m-42.3 2h0m-2.1 2.5h0m20.5 0.5h0m9.2 2.2h0m4.7 3.2h0m-45 0.6h0m-16.1 1.1h0m94.1 3.9h0m-80.1 2.2h0m66.7-0.2h0m7.1 0h0m-6.5 0.9h0m9.5-0.2h0m4.2 0.6h0m5.8 0h0m-51.9 0.8h0m27.3 0.1h0m0.8-0.3h0m8.3 0.5h0m4.7-1h0m-82.1 1.1h0m80.6 0.4h0m2.8-0.1h0m0.7 0.4h0m-13.1 1.1h0m8.7-0.4h0m13 0.2h0m10 0.2h0m-28.8 1h0m8.2-0.6h0m10.6-0.1h0m5.8 0.2h0m3-0.1h0m1.1 0.3h0m-13.8 0.6h0m0.5 0h0m1.6 0h0m1.7 0.8h0m-113.4 0.3h0m83.5 0.5h0m12.8-0.1h0m2.8-0.3h0m0.1 0.4h0m10.7 0.1h0m-34.9 0.3h0m14.5 0.7h0m0.8-0.8h0m7.8 0.3h0m3.4-0.2h0m4 0.3h0m16.1-0.2h0m2.9-0.2h0m-123.9 1.4h0m82.6-0.1h0m0.9 0.4h0m9.2-0.3h0m17-0.4h0m-39.7 1.3h0m7.9-0.4h0m2.1 0.3h0m3.2 0h0m9.6 0h0m70 0.2h0m-89 1.5h0m4.4-0.9h0m1.3 0.9h0m0.8-0.9h0m0.3-0.1h0m9 0.1h0m64.6 0.7h0m-146.6 0.4h0m27.9 0.3h0m36.2 0.3h0m7.9-0.4h0m1 0.3h0m3.9 0h0m21.1-0.4h0m1.8 0.5h0m3.1-0.3h0m5.1-0.5h0m-44.4 1.1h0m7.9-0.1h0m5.9 0.8h0m2.4 0.2h0m0.4-0.5h0m4.6 0.1h0m4-0.1h0m1.7-0.1h0m9.2 0.5h0m11.3 0h0m-98 0.7h0m42.9 0.1h0m25.5 0.1h0m0.4-0.1h0m1.9-0.3h0m5.2-0.2h0m4.3 0.1h0m3.1 0.1h0m1.1 0.5h0m10.6-0.1h0m-55.5 0.9h0m0.5-0.3h0m1.9-0.1h0m1.3 0.3h0m6.7-0.5h0m8.8-0.1h0m1.8 0.4h0m20.8-0.2h0m4.4 0.5h0m8 0h0m0.7-0.6h0m54.2 0.1h0m3.5 0.3h0m-173.6 1.1h0m69.2 0.2h0m4.3-0.4h0m11.9 0.6h0m0.3-0.1h0m4.5-0.4h0m2.6 0.2h0m2.5 0.2h0m5.1-0.3h0m4.6-0.2h0m1.6 0.4h0m4.8-0.3h0m1 0.2h0m4.7 0h0m-60.6 1.3h0m3.4-0.7h0m0.4 0.6h0m8.3-0.9h0m6.4 0.3h0m0.8 0.1h0m5.4 0.6h0m5.9-0.7h0m1.4 0.4h0m14.1-0.3h0m1.5 0.4h0m1.7-0.6h0m18.5-0.2h0m1.1 0.6h0m-94.1 1.4h0m28.2-0.8h0m6 0.1h0m0.7-0.2h0m12.8 0h0m5.2 0.6h0m0.5-0.5h0m14.9 0.7h0m4.5-0.7h0m10.3 0.3h0m2.1 0.2h0m4.6-0.4h0m-100.7 1h0m33.9 0.3h0m7-0.3h0m5.3-0.1h0m29.9 0.4h0m14.3-0.4h0m8.4 0h0m-66 0.9h0m19.2 0.2h0m13.9 0.3h0m15.6-0.1h0m0.6-0.3h0m0.5 0h0m3.3 0.6h0m2.6-0.1h0m1.7 0.2h0m8-0.8h0m31.8 0.1h0m-123 1.4h0m22.2 0h0m17.1-0.5h0m1.2 0.7h0m7.4-0.7h0m7.4 0.4h0m19.7 0.3h0m2.1-0.7h0m2.5 0.6h0m52.1-0.4h0m-171.9 0.8h0m13.9-0.1h0m47.4 0.1h0m30.3 0.5h0m12.2-0.4h0m9.3 0.3h0m9-0.1h0m0.3-0.4h0m24.5 0.6h0m-119.1 1.2h0m33.5-0.5h0m3.7 0.5h0m6.6-0.7h0m0.1 0.3h0m7-0.1h0m2.2-0.1h0m13.8 0.5h0m23.7 0.2h0m1.7-0.5h0m0.2-0.1h0m6.6 0.4h0m1.6-0.4h0m0.1 0.5h0m40.8-0.2h0m-155.7 1.2h0m39.1 0.1h0m8.8-0.6h0m5 0.2h0m2.3-0.2h0m11.3-0.1h0m17.2 0.6h0m19.1 0.1h0m1-0.2h0m2.1-0.2h0m15.5 0.1h0m20.3 0h0m-107.6 0.6h0m15 0.3h0m5.3 0.1h0m0.2-0.2h0m4.1 0.3h0m3.3-0.1h0m11-0.2h0m13.5 0.4h0m5.6-0.2h0m10.8-0.4h0m1.2 0.6h0m3.4-0.5h0m7.7 0.3h0m1.8-0.1h0m-72.6 1.1h0m3.7-0.5h0m4.2 0.8h0m8.7-0.7h0m27.2-0.1h0m12.4 0.9h0m10-0.6h0m22.6-0.1h0m-92.3 1.5h0m1.2-0.7h0m6.5 0h0m3.5 0h0m21.8 0.1h0m7.2 0h0m18.4 0.3h0m1.2-0.5h0m3.8 0.5h0m2.9-0.2h0m-58.1 1.3h0m7.4 0.4h0m17.7-1h0m1 0.6h0m25-0.3h0m-52.2 1.2h0m2 0.3h0m0.3 0.1h0m3.1 0h0m3.3-0.5h0m1.3-0.4h0m21.3 0.5h0m14.1 0h0m3.6 0.1h0m3.8 0.3h0m-89.3 0.6h0m24.6 0.3h0m1-0.5h0m10.7 0.3h0m23.4-0.5h0m3.7 0.2h0m21.3 0.6h0m8.2-0.6h0m4.1 0h0m10.5-0.2h0m-74.5 1.1h0m6.6 0.2h0m0.1 0.1h0m0.1 0.5h0m9.1-0.2h0m2.2-0.1h0m18.9-0.5h0m15-0.1h0m3 0.8h0m13.7-0.6h0m1.5 0.5h0m-95.1 0.4h0m28.4 0h0m4 0.2h0m5.4 0h0m7.2 0.2h0m1.9-0.6h0m34.6 0.6h0m-15.8 0.4h0m12 0.7h0m5.2-0.1h0m5.4 0.3h0m5.1-0.5h0m7.1 0.2h0m-78.7 0.4h0m0.1 0.3h0m2.7 0h0m2-0.2h0m20.2 0.1h0m32.9 0.1h0m-69.8 1.2h0m8.5 0h0m8.3-0.4h0m10 0.6h0m28.4-0.7h0m2.1 0.1h0m9.4 0.4h0m5.9-0.5h0m-69.8 2h0m7.1 0h0m0.2-0.3h0m25.8 0.2h0m9.6-0.4h0m18.2-0.4h0m3.3 0.4h0m8.1-0.3h0m4.9 0.3h0m1.5 0.1h0m-125.6 0.8h0m56.9 0h0m17.2 0.3h0m8.1-0.4h0m21.1 0.4h0m6.9-0.1h0m1.6 0.3h0m1.8-0.6h0m3.9 0.1h0m12.2-0.3h0m-148.5 1.3h0m37.4 0h0m35 0.1h0m3.6-0.1h0m0.2-0.2h0m0.1-0.2h0m10.2 0.4h0m1.2-0.1h0m55.9 0h0m-80.2 1.5h0m10.1 0h0m1.3-0.2h0m14.1-0.5h0m40.2 0h0m1.4 0.5h0m4.6-0.4h0m6.7 0.5h0m-56.3 0.6h0m50-0.2h0m3 0.4h0m-82.6 1.5h0m1-0.9h0m0.8 0.5h0m4.7-0.6h0m3.3 0.7h0m5-0.2h0m1.2 0h0m0.2 0h0m3.3-0.4h0m12.7 0.1h0m3.3 0.7h0m9.6-0.2h0m4.5 0.1h0m24.4 0.2h0m1.9-0.5h0m0.6-0.2h0m4.5 0.2h0m2-0.1h0m10.3 0.6h0m-139.6 0.1h0m44.9 0.8h0m4.9-0.7h0m3.4 0.2h0m1.9 0.3h0m17-0.6h0m18.2 0.1h0m7.3 0.4h0m24-0.6h0m12.7 0h0m2.8 1h0m5-0.7h0m-133.6 1.4h0m45.2-0.3h0m11 0.4h0m3.4-0.4h0m42.2 0.2h0m9.4 0.1h0m5.7 0h0m6.6-0.6h0m-88.7 1.3h0m3.2 0h0m5.5 0.6h0m33.9-1h0m23.3 0.2h0m3.5 0.2h0m14.2-0.2h0m1.3 0h0m-76 0.9h0m23.7 0.9h0m5.3-0.5h0m22.7 0.5h0m4.5-0.1h0m0.1 0h0m8.3 0h0m1-0.1h0m4.3-0.2h0m12.3-0.1h0m-138.8 1.4h0m48.7-0.4h0m3.8-0.1h0m21.1-0.1h0m6.1 0.3h0m0.2-0.4h0m7.4 0.2h0m30.1-0.1h0m3.1 0.5h0m0.7-0.3h0m0.5 0.3h0m6.6 0.1h0m0.4 0h0m4.5-0.2h0m-83.3 0.4h0m8.2 0.6h0m10 0.3h0m0.3-0.8h0m3.8-0.2h0m4.8 0.6h0m16.1 0.3h0m5.5-0.6h0m5.3 0.5h0m5.5 0h0m2.4-0.8h0m9.9 0.9h0m0.9-0.6h0m0.1 0.5h0m0.2-0.5h0m6 0.6h0m5.8-0.6h0m-79.5 0.9h0m1.3-0.1h0m37.6 0h0m13.4 0.8h0m-50.2 0.1h0m10.3 0.7h0m18.8 0.1h0m2.8-0.1h0m1.8-0.6h0m8.3 0.4h0m8.3 0.4h0m1.9-0.3h0m0.7 0h0m7-0.5h0m2.4 0.7h0m6.4-0.7h0m-105 1.8h0m34.9-0.7h0m1.7 0.5h0m14.9 0h0m36.8 0.2h0m13.9-0.1h0m0.3-0.7h0m-101.7 1.8h0m21.8-0.2h0m3.5-0.7h0m7.9 0.6h0m1 0.1h0m34.8-0.2h0m16.6-0.1h0m24.2 0h0m-90.8 1.2h0m23.6 0h0m32.5-0.3h0m30.4 0.3h0m0.1-0.2h0m-126.4 1h0m44.8 0.1h0m6-0.1h0m0 0.5h0m3.5-0.1h0m5.9-0.4h0m7 0.3h0m19.2-0.3h0m12.6-0.1h0m15.5 0.3h0m0.9-0.2h0m-77.3 1h0m9.6 0.5h0m5.5-0.8h0m0.3 0.2h0m3.5 0.7h0m14.4-0.4h0m49.3-0.4h0m1.2 0.3h0m1.4-0.4h0m5.9 0.2h0m-92 0.9h0m16 0.7h0m0.9-0.2h0m13.4-0.3h0m6.8 0.6h0m20.1-0.3h0m24.7-0.2h0m2.5 0h0m-80.3 1h0m13.4 0h0m3.3 0.2h0m9.2-0.3h0m4 0.5h0m6.8-0.6h0m1.3-0.2h0m5.6 0h0m-87.3 1.4h0m48.8 0h0m1.2-0.2h0m2.8 0.4h0m0.3-0.5h0m2.7 0.6h0m5.1 0h0m22.9 0h0m10.9-0.5h0m11.7 0h0m12.3 0.4h0m3.6 0h0m-64.3 0.9h0m0.2-0.4h0m24 0.3h0m0.4-0.2h0m36.1 0.1h0m5.5 0.3h0m2.9 0h0m14.6-0.7h0m-115.7 1.8h0m11.3-0.2h0m0.7-0.3h0m10.4 0.5h0m2.1 0.2h0m0.4-1h0m27.3 0.6h0m10 0.3h0m5.9-0.6h0m3 0.4h0m3.8-0.2h0m12.5-0.4h0m6.7 0.8h0m7.1-0.3h0m3.8 0.1h0m2.1-0.1h0m-114.7 1.3h0m16.6-0.3h0m4.9-0.2h0m0.9 0.6h0m0.8-0.9h0m25.8 0.5h0m9.1-0.2h0m15.2 0.3h0m1.9-0.4h0m22.5 0h0m4.1-0.2h0m-75.4 1.9h0m3.1-0.4h0m1.4-0.4h0m75.7-0.1h0m-126.5 1.2h0m34.5 0h0m36.7-0.2h0m1.6 0.3h0m18.7 0.1h0m1.9-0.4h0m23.6 0.4h0m1.4 0h0m3-0.4h0m-86.4 1.5h0m7.7 0.3h0m0.8-0.9h0m16.2 0.6h0m31.6-0.5h0m17.3 0.8h0m10-0.8h0m4.6 0.3h0m-89.6 1h0m13.2 0.6h0m37.2-0.1h0m4.5-0.3h0m7.4 0.3h0m14-0.4h0m1.1-0.1h0m0.6 0.6h0m0.3-0.5h0m-79.8 0.6h0m22.5 0.9h0m5.5-0.2h0m26.3-0.4h0m30.6 0.1h0m0.9 0.1h0m4.9 0h0m-91.1 0.7h0m12.3 0.4h0m1.9-0.6h0m0.2 0.2h0m5.3 0.4h0m52.3 0h0m2.1 0h0m2.6-0.5h0m1.8 0.7h0m3.5-0.1h0m0.8 0.1h0m-71.9 0.2h0m8.8-0.1h0m8.3 0.4h0m9.3 0.5h0m34.9 0h0m2.3-0.4h0m5.4-0.2h0m-77 1.1h0m15.9 0.4h0m24-0.5h0m13.9 0h0m28.9 0.5h0m1.6 0h0m2.3-0.8h0m2.1 0.8h0m-85.3 1.1h0m3.2-0.8h0m0.6 0.3h0m2.4 0.2h0m46.9 0.1h0m0.5-0.6h0m4.1 0.6h0m20.7-0.2h0m1.5-0.4h0m7.4 0.6h0m-97.1 0.7h0m21.3 0h0m1.9-0.2h0m41.1 0.7h0m14.5-0.6h0m3.8-0.2h0m1.7 0.9h0m-135.8 0.6h0m54 0.1h0m6.6-0.4h0m2 0.4h0m3.7 0h0m23.6-0.3h0m25.6 0h0m4.7-0.2h0m6.6 0.4h0m7.2-0.3h0m0.1-0.2h0m8.3 0.2h0m-93 1.7h0m7-0.3h0m5.2-0.4h0m3.9 0h0m3.9 0.2h0m20.1-0.4h0m24.4 0.6h0m16.2-0.1h0m3 0h0m6.4-0.2h0m-81.8 1.5h0m59.8-0.2h0m1.2 0.1h0m0.1 0h0m6.6 0.1h0m14.4-0.7h0m6-0.2h0m-146.3 1h0m30.6 0.9h0m21.3-0.7h0m4.4 0h0m23 0.7h0m3.3-0.8h0m0.6 0.5h0m37.1 0h0m1.2 0.3h0m20-0.5h0m-59.1 1.6h0m30.5 0h0m3.8-0.8h0m0.6 0.5h0m6.3-0.5h0m2.7 0.1h0m1.9 0.6h0m0 0h0m1.1 0h0m13.9 0h0m-132.4 0.2h0m46.8 0.6h0m22.2 0.3h0m2.5-0.1h0m36.6-0.5h0m4.1 0.3h0m3.3 0.2h0m1.1-0.3h0m0.4-0.5h0m38.2 0.2h0m-107.8 1h0m6.4 0.4h0m47.4-0.3h0m5.2 0.2h0m2.2-0.5h0m2.7-0.1h0m4.2 0.2h0m5 0.1h0m-80.3 1h0m19.2 0.6h0m4.4-0.5h0m7.4 0h0m31.4 0h0m2.7 0.3h0m0.4-0.4h0m-109.7 1.3h0m46.1-0.3h0m7.2 0.2h0m0.1-0.1h0m2.8 0.4h0m44.5-0.3h0m-92.7 0.6h0m38.8 0h0m1 0h0m5.4 0.8h0m12-0.4h0m44.8 0.3h0m-67.6 0.7h0m4.8 0.2h0m0.3-0.5h0m0.7 0.1h0m7.9 0.6h0m-7.9 0.6h0m6.7-0.2h0m3.4-0.2h0m46.3 0.8h0m1.7-0.4h0m0.7 0.5h0m13.1 0h0m-116.8 0.6h0m34.3-0.6h0m10 0.8h0m3.5-0.6h0m3-0.1h0m41.8 0.1h0m3.3 0.4h0m6.2 0.3h0m3.3-0.8h0m1 0.4h0m3.1-0.3h0m0.3-0.1h0m2.4 0.7h0m-59.6 0.7h0m13-0.1h0m38.4 0.4h0m0.7-0.3h0m0.5 0.5h0m12.6-0.4h0m-95.7 1.1h0m12.5 0h0m3.1 0.1h0m10.2-0.7h0m14.3 0.5h0m3.4 0.2h0m28.8-0.4h0m4.8 0.1h0m4.7 0.1h0m2.1 0.4h0m43.7-0.9h0m-148.7 1.8h0m43.6-0.8h0m0.9 0.8h0m6.7-0.3h0m0.3-0.3h0m4.6 0.7h0m4.6-0.9h0m45.8 0.4h0m7.9-0.1h0m0.3 0.5h0m-78.8 0.3h0m58.6 0.8h0m7.3-0.7h0m3.3 0h0m12 0.6h0m-84.4 0.6h0m5.9 0.3h0m8.7-0.3h0m3.5 0.1h0m28.3-0.3h0m11.3 0.3h0m2.3-0.2h0m3.4-0.3h0m14.4 0.5h0m-72.9 0.6h0m2.5 0.5h0m21.7-0.5h0m2.2 0.7h0m24.5-0.5h0m11.3 0.1h0m0.8-0.4h0m11 0.1h0m-74.2 1.4h0m0.3 0h0m5.3 0.2h0m8.6-0.7h0m0.1 0.7h0m2.3-0.4h0m11.3 0.2h0m8.3 0.1h0m7.6 0h0m10.9-0.4h0m13.3-0.1h0m-60.5 1.3h0m0.1 0.2h0m1.6 0.1h0m2.5-0.4h0m11.9-0.3h0m1.1 0.4h0m1.4 0.5h0m2.9 0h0m0.1-0.4h0m12.2 0.1h0m4.8-0.5h0m3.7 0.4h0m3.7-0.1h0m1.5-0.3h0m7.7 0.6h0m-67.1 1.2h0m1.7-0.9h0m5.1 0.7h0m1-0.1h0m5-0.2h0m7.4 0.3h0m9.6-0.2h0m6.1-0.6h0m9 1h0m1-0.1h0m6.8-0.4h0m9.6 0h0m22.4 0.1h0m-87.6 0.4h0m1.6 0h0m32.6 0.8h0m0.6-0.3h0m5.1 0.4h0m9.1-0.4h0m4.1-0.5h0m0.3 0.1h0m1.1 0h0m0.7 0.7h0m3.4 0.1h0m12.1 0h0m-65 1.1h0m13.1-0.6h0m6.7 0.6h0m17-1h0m2.9 0h0m1.1 0.3h0m5.1 0.2h0m5.3 0h0m4.4-0.4h0m1.4 0h0m20 0h0m-75.7 1h0m13.2 0.2h0m10.6 0.5h0m2.1-0.4h0m2.1 0.6h0m3.7-0.3h0m10.8 0h0m8-0.2h0m-56.4 1.5h0m8.3-1h0m6 0.3h0m9.3 0.1h0m8.7 0.1h0m31.4-0.2h0m7.6 0.2h0m13.7 0.4h0m-86.1 0.7h0m2.4-0.1h0m7.5-0.2h0m4.9-0.3h0m2.7 1h0m6.7-0.7h0m5.4 0.2h0m30.3 0.4h0m3.8-0.2h0m-57.5 0.7h0m0.3 0.2h0m1-0.2h0m-9.7 1.2h0m6-0.3h0m1.1-0.1h0m3.6 0.4h0m3.8-0.6h0m2.7 0.1h0m0.3 0h0m1.6 0.7h0m15.1-0.6h0m12.2-0.2h0m5.2 0.7h0m0.2-0.3h0m0.8 0.4h0m-42.6 0.8h0m9.1 0.1h0m3.2-0.4h0m23.1 0h0m1.4 0.4h0m0.3-0.4h0m2.1 0.1h0m1.2 0.3h0m2.6-0.4h0m-48.8 1.1h0m4.4 0.4h0m0.3-0.3h0m5.9-0.4h0m9.1 0.2h0m16.1 1h0m21.5 0.4h0m-52.4 0.4h0m7 0.3h0m31.1 0.4h0m8.8-0.7h0m-34.2 1.3h0m25.8 0.4h0m14.6 0.2h0m-35.7 0.8h0m-17.1 1.3h0m40.2 0h0m-36.1 1.5h0m0.1 0.2h0m9.5 0.1h0m-11.6 0.5h0m2.9 0.1h0m2.7 0.5h0m2.1-0.2h0m2.7-0.3h0m-17.4 1.4h0m6.8-0.7h0m0.9 0.3h0m4.9 1.2h0m-6.9 0.5h0m4.7 0.5h0m1.1-0.2h0m0.9 0.4h0m-6.7 0.4h0m-3.4 1h0m3.5 1.4h0" stroke="#f28105" stroke-width="3.4" stroke-linecap="square" fill="none"/>
<line x1="947.3" y1="1694.6" x2="947.3" y2="1601.9" stroke="#000" stroke-width="2.3"/><path d="M947.3 1579.3L959.1 1602.9L935.5 1602.9Z" fill="#000"/>
<line x1="946.2" y1="1693.5" x2="1039.5" y2="1693.5" stroke="#000" stroke-width="2.3"/><path d="M1062.1 1693.5L1038.5 1705.3L1038.5 1681.7Z" fill="#000"/>
<text x="1005.3" y="1733.2" font-size="32" text-anchor="middle">x</text>
<text x="925.7" y="1636" font-size="32" text-anchor="middle" transform="rotate(-90 925.7 1636)">y</text>
<path transform="rotate(45)" d="M2154.1 -75.7h0m11.7 14.6h0m-3.5 2.9h0m-1.1 3.4h0m-69.1 1.8h0m61.3 2.2h0m-74.6 0.7h0m77.6 0.8h0m4.1 1.2h0m-10.8 2.5h0m-61.7 0.3h0m65.4 0.4h0m3.7 0.8h0m-7.7 1.1h0m6.7 2.2h0m-11.6 2.7h0m-76 2.8h0m3.3 0.3h0m4.5 0.2h0m59.4 0.3h0m8.1-0.8h0m-5.5 2.5h0m-4.5 2.2h0m9.7 0.9h0m-3.4 1.1h0m-12.1 1.1h0m-66.1 4.8h0m69.8 1.9h0m-1.9 2.5h0m-1.5 2.9h0m-10 1.8h0m14.4 7.1h0m-12.1 1.2h0m-67.3 2.1h0m72.3 0h0m-13.1 7.5h0m-5.3 0.6h0m-10.2 1.6h0m2.5 5.5h0m-21.8 3.2h0m17.4 1.2h0m3.7-0.7h0m2.2 0.7h0m3.7-0.7h0m3.7 2.2h0m2.9 0h0m-25.8 0.7h0m-8.9 3h0m5.2 0.7h0m-8.1 2.2h0m25.5 0.5h0m-63.9 1h0m26.9 0.3h0m-32.8 0.3h0m2.9 0.9h0m11.1-0.8h0m3.7 0.8h0m26.6 0h0m31 0h0m-69.6 0.7h0m41.5 0.7h0m14.5-0.3h0m-25.8 1.4h0m14.3 0.4h0m-6.7 0.8h0m-22.9 3.6h0m19.5 0.3h0" stroke="#000" stroke-width="2.9" stroke-linecap="square" fill="none"/>
<line x1="1315.3" y1="1696.1" x2="1315.3" y2="1602.9" stroke="#000" stroke-width="2.3"/><path d="M1315.3 1580.3L1327.1 1603.9L1303.5 1603.9Z" fill="#000"/>
<line x1="1314.2" y1="1695" x2="1408.2" y2="1695" stroke="#000" stroke-width="2.3"/><path d="M1430.8 1695L1407.2 1706.8L1407.2 1683.2Z" fill="#000"/>
<text x="1373.8" y="1733.2" font-size="32" text-anchor="middle">x</text>
<text x="1293.8" y="1637" font-size="32" text-anchor="middle" transform="rotate(-90 1293.8 1637)">y</text>
</g>
<g id="pl">
<text x="1660" y="1400" font-size="49.5" font-weight="bold">l</text>
<circle cx="1836.8" cy="1505.4" r="129.2" fill="#440154"/>
<path d="M1836.8 1505.4L1836.80 1376.20A129.2 129.2 0 0 1 1843.56 1376.38Z" fill="#fde725"/>
<path d="M1836.8 1505.4L1843.56 1376.38A129.2 129.2 0 0 1 1890.99 1388.12Z" fill="#21908c"/>
<text x="1724.6" y="1662.8" font-size="20.2">Number of Different gRNA</text>
<rect x="1724.6" y="1675.2" width="29.2" height="29.6" fill="#440154"/>
<text x="1766" y="1696.5" font-size="16">1</text>
<rect x="1724.6" y="1707.1" width="29.2" height="29.6" fill="#21908c"/>
<text x="1766" y="1728.4" font-size="16">2</text>
<rect x="1724.6" y="1739" width="29.2" height="29.6" fill="#fde725"/>
<text x="1766" y="1760.3" font-size="16">3</text>
</g>
<g id="pm">
<text x="13" y="1842.9" font-size="49.5" font-weight="bold">m</text>
<path d="M125.8 1819.2V2118.7M164.8 1819.2V2118.7M203.7 1819.2V2118.7M242.7 1819.2V2118.7M281.6 1819.2V2118.7M320.6 1819.2V2118.7M359.5 1819.2V2118.7M398.5 1819.2V2118.7M437.4 1819.2V2118.7M476.4 1819.2V2118.7M515.3 1819.2V2118.7M554.2 1819.2V2118.7M593.2 1819.2V2118.7M632.1 1819.2V2118.7M671.1 1819.2V2118.7M710 1819.2V2118.7M749 1819.2V2118.7M788 1819.2V2118.7M826.9 1819.2V2118.7M101.6 1875.3H850.5M101.6 1968.7H850.5M101.6 2062.6H850.5" stroke="#e0e0e0" stroke-width="1.4" fill="none"/>
<g fill="#619cff" fill-opacity="0.7">
<circle cx="125.8" cy="1875.3" r="11"/>
<circle cx="164.8" cy="1875.3" r="13.2"/>
<circle cx="203.7" cy="1875.3" r="18.7"/>
<circle cx="242.7" cy="1875.3" r="11.5"/>
<circle cx="281.6" cy="1875.3" r="14.3"/>
<circle cx="320.6" cy="1875.3" r="12.6"/>
<circle cx="359.5" cy="1875.3" r="13.7"/>
<circle cx="398.5" cy="1875.3" r="9.9"/>
<circle cx="437.4" cy="1875.3" r="10.4"/>
<circle cx="476.4" cy="1875.3" r="11.5"/>
<circle cx="515.3" cy="1875.3" r="15.4"/>
<circle cx="554.2" cy="1875.3" r="11.5"/>
<circle cx="593.2" cy="1875.3" r="11"/>
<circle cx="632.1" cy="1875.3" r="15.4"/>
<circle cx="671.1" cy="1875.3" r="11.5"/>
<circle cx="710" cy="1875.3" r="14.8"/>
<circle cx="749" cy="1875.3" r="12.6"/>
<circle cx="788" cy="1875.3" r="13.2"/>
<circle cx="826.9" cy="1875.3" r="14.3"/>
</g>
<g fill="#00ba38" fill-opacity="0.7">
<circle cx="125.8" cy="1968.7" r="8.2"/>
<circle cx="164.8" cy="1968.7" r="11.5"/>
<circle cx="203.7" cy="1968.7" r="15.4"/>
<circle cx="242.7" cy="1968.7" r="9.3"/>
<circle cx="281.6" cy="1968.7" r="14.8"/>
<circle cx="320.6" cy="1968.7" r="11.5"/>
<circle cx="359.5" cy="1968.7" r="12.1"/>
<circle cx="398.5" cy="1968.7" r="7.7"/>
<circle cx="437.4" cy="1968.7" r="10.4"/>
<circle cx="476.4" cy="1968.7" r="11.5"/>
<circle cx="515.3" cy="1968.7" r="14.8"/>
<circle cx="554.2" cy="1968.7" r="10.4"/>
<circle cx="593.2" cy="1968.7" r="11"/>
<circle cx="632.1" cy="1968.7" r="12.1"/>
<circle cx="671.1" cy="1968.7" r="9.3"/>
<circle cx="710" cy="1968.7" r="14.8"/>
<circle cx="749" cy="1968.7" r="9.9"/>
<circle cx="788" cy="1968.7" r="13.2"/>
<circle cx="826.9" cy="1968.7" r="23.1"/>
</g>
<g fill="#f8766d" fill-opacity="0.7">
<circle cx="125.8" cy="2062.6" r="7.1"/>
<circle cx="164.8" cy="2062.6" r="12.6"/>
<circle cx="203.7" cy="2062.6" r="18.7"/>
<circle cx="242.7" cy="2062.6" r="9.9"/>
<circle cx="281.6" cy="2062.6" r="16.5"/>
<circle cx="320.6" cy="2062.6" r="11"/>
<circle cx="359.5" cy="2062.6" r="12.6"/>
<circle cx="398.5" cy="2062.6" r="9.9"/>
<circle cx="437.4" cy="2062.6" r="12.1"/>
<circle cx="476.4" cy="2062.6" r="12.1"/>
<circle cx="515.3" cy="2062.6" r="15.9"/>
<circle cx="554.2" cy="2062.6" r="11.5"/>
<circle cx="593.2" cy="2062.6" r="13.7"/>
<circle cx="632.1" cy="2062.6" r="11.5"/>
<circle cx="671.1" cy="2062.6" r="9.9"/>
<circle cx="710" cy="2062.6" r="17.6"/>
<circle cx="749" cy="2062.6" r="9.9"/>
<circle cx="788" cy="2062.6" r="12.1"/>
<circle cx="826.9" cy="2062.6" r="14.8"/>
</g>
<g fill="#404040">
<text x="89.6" y="1883.4" font-size="17.8" text-anchor="end">chip3</text>
<text x="89.6" y="1976.8" font-size="17.8" text-anchor="end">chip2</text>
<text x="89.6" y="2070.8" font-size="17.8" text-anchor="end">chip1</text>
<text x="137.8" y="2140" font-size="18.6" text-anchor="end" fill="#444" transform="rotate(-45 137.8 2140)">gRNAC9orf72</text>
<text x="176.8" y="2140" font-size="18.6" text-anchor="end" fill="#444" transform="rotate(-45 176.8 2140)">gRNACfap410</text>
<text x="215.7" y="2140" font-size="18.6" text-anchor="end" fill="#444" transform="rotate(-45 215.7 2140)">gRNAClu</text>
<text x="254.7" y="2140" font-size="18.6" text-anchor="end" fill="#444" transform="rotate(-45 254.7 2140)">gRNADpp6</text>
<text x="293.6" y="2140" font-size="18.6" text-anchor="end" fill="#444" transform="rotate(-45 293.6 2140)">gRNAFasn</text>
<text x="332.6" y="2140" font-size="18.6" text-anchor="end" fill="#444" transform="rotate(-45 332.6 2140)">gRNAFlcn</text>
<text x="371.5" y="2140" font-size="18.6" text-anchor="end" fill="#444" transform="rotate(-45 371.5 2140)">gRNAGfap</text>
<text x="410.5" y="2140" font-size="18.6" text-anchor="end" fill="#444" transform="rotate(-45 410.5 2140)">gRNALrrk2</text>
<text x="449.4" y="2140" font-size="18.6" text-anchor="end" fill="#444" transform="rotate(-45 449.4 2140)">gRNAmSafe</text>
<text x="488.4" y="2140" font-size="18.6" text-anchor="end" fill="#444" transform="rotate(-45 488.4 2140)">gRNANdufaf2</text>
<text x="527.3" y="2140" font-size="18.6" text-anchor="end" fill="#444" transform="rotate(-45 527.3 2140)">gRNAOlig2</text>
<text x="566.2" y="2140" font-size="18.6" text-anchor="end" fill="#444" transform="rotate(-45 566.2 2140)">gRNARbfox</text>
<text x="605.2" y="2140" font-size="18.6" text-anchor="end" fill="#444" transform="rotate(-45 605.2 2140)">gRNARraga</text>
<text x="644.1" y="2140" font-size="18.6" text-anchor="end" fill="#444" transform="rotate(-45 644.1 2140)">gRNASh3gl2</text>
<text x="683.1" y="2140" font-size="18.6" text-anchor="end" fill="#444" transform="rotate(-45 683.1 2140)">gRNASrf</text>
<text x="722" y="2140" font-size="18.6" text-anchor="end" fill="#444" transform="rotate(-45 722 2140)">gRNAStk39</text>
<text x="761" y="2140" font-size="18.6" text-anchor="end" fill="#444" transform="rotate(-45 761 2140)">gRNATbk1</text>
<text x="800" y="2140" font-size="18.6" text-anchor="end" fill="#444" transform="rotate(-45 800 2140)">gRNATrem2</text>
<text x="838.9" y="2140" font-size="18.6" text-anchor="end" fill="#444" transform="rotate(-45 838.9 2140)">Multiple</text>
</g>
<text x="887.4" y="1900.5" font-size="20.2">Percentage</text>
<text x="887.4" y="1923.8" font-size="20.2">of neurons</text>
<circle cx="908.8" cy="1954.4" r="8.6" fill="#000" fill-opacity="0.7"/>
<text x="942.3" y="1960.2" font-size="16">1</text>
<circle cx="908.8" cy="1989" r="10.4" fill="#000" fill-opacity="0.7"/>
<text x="942.3" y="1994.8" font-size="16">2</text>
<circle cx="908.8" cy="2023.1" r="12.1" fill="#000" fill-opacity="0.7"/>
<text x="942.3" y="2028.9" font-size="16">4</text>
<circle cx="908.8" cy="2057.7" r="14.3" fill="#000" fill-opacity="0.7"/>
<text x="942.3" y="2063.5" font-size="16">8</text>
<circle cx="908.8" cy="2097.3" r="17.6" fill="#000" fill-opacity="0.7"/>
<text x="942.3" y="2103.1" font-size="16">16</text>
</g>
<g id="pn">
<text x="1028" y="1840.7" font-size="49.5" font-weight="bold">n</text>
<path d="M1183 2108.4h34.7V2010.6h-34.7zM1221.9 2108.4h34.7V1982.4h-34.7zM1260.8 2108.4h34.7V1943.3h-34.7zM1299.7 2108.4h34.7V1999.2h-34.7zM1338.6 2108.4h34.7V1952h-34.7zM1377.5 2108.4h34.7V1977h-34.7zM1416.3 2108.4h34.7V1974.3h-34.7zM1455.2 2108.4h34.7V2012.8h-34.7zM1494.1 2108.4h34.7V1990h-34.7zM1533 2108.4h34.7V1984.6h-34.7zM1571.9 2108.4h34.7V1952.6h-34.7zM1610.8 2108.4h34.7V1991.1h-34.7zM1649.7 2108.4h34.7V1981.3h-34.7zM1688.6 2108.4h34.7V1968.8h-34.7zM1727.5 2108.4h34.7V1997.6h-34.7zM1766.3 2108.4h34.7V1952h-34.7zM1805.2 2108.4h34.7V1993.3h-34.7zM1844.1 2108.4h34.7V1962.9h-34.7zM1883 2108.4h34.7V1912.9h-34.7zM1921.9 2108.4h34.7V1828.8h-34.7z" fill="#bebebe"/>
<path d="M1176.4 1972.1H1963.6" stroke="#f00" stroke-width="1.8" stroke-dasharray="8.5 6" fill="none"/>
<g fill="#404040">
<text x="1165.6" y="1856.2" font-size="17.6" text-anchor="end">10000</text>
<text x="1165.6" y="1921.3" font-size="17.6" text-anchor="end">1000</text>
<text x="1165.6" y="1985.4" font-size="17.6" text-anchor="end">100</text>
<text x="1165.6" y="2050" font-size="17.6" text-anchor="end">10</text>
<text x="1165.6" y="2115.6" font-size="17.6" text-anchor="end">1</text>
<text x="1213.3" y="2142" font-size="18.5" text-anchor="end" fill="#444" transform="rotate(-45 1213.3 2142)">gRNAC9orf72</text>
<text x="1252.2" y="2142" font-size="18.5" text-anchor="end" fill="#444" transform="rotate(-45 1252.2 2142)">gRNACfap410</text>
<text x="1291.1" y="2142" font-size="18.5" text-anchor="end" fill="#444" transform="rotate(-45 1291.1 2142)">gRNAClu</text>
<text x="1330" y="2142" font-size="18.5" text-anchor="end" fill="#444" transform="rotate(-45 1330 2142)">gRNADpp6</text>
<text x="1368.9" y="2142" font-size="18.5" text-anchor="end" fill="#444" transform="rotate(-45 1368.9 2142)">gRNAFasn</text>
<text x="1407.8" y="2142" font-size="18.5" text-anchor="end" fill="#444" transform="rotate(-45 1407.8 2142)">gRNAFlcn</text>
<text x="1446.7" y="2142" font-size="18.5" text-anchor="end" fill="#444" transform="rotate(-45 1446.7 2142)">gRNAGfap</text>
<text x="1485.6" y="2142" font-size="18.5" text-anchor="end" fill="#444" transform="rotate(-45 1485.6 2142)">gRNALrrk2</text>
<text x="1524.5" y="2142" font-size="18.5" text-anchor="end" fill="#444" transform="rotate(-45 1524.5 2142)">gRNAmSafe</text>
<text x="1563.4" y="2142" font-size="18.5" text-anchor="end" fill="#444" transform="rotate(-45 1563.4 2142)">gRNANdufaf2</text>
<text x="1602.2" y="2142" font-size="18.5" text-anchor="end" fill="#444" transform="rotate(-45 1602.2 2142)">gRNAOlig2</text>
<text x="1641.1" y="2142" font-size="18.5" text-anchor="end" fill="#444" transform="rotate(-45 1641.1 2142)">gRNARbfox</text>
<text x="1680" y="2142" font-size="18.5" text-anchor="end" fill="#444" transform="rotate(-45 1680 2142)">gRNARraga</text>
<text x="1718.9" y="2142" font-size="18.5" text-anchor="end" fill="#444" transform="rotate(-45 1718.9 2142)">gRNASh3gl2</text>
<text x="1757.8" y="2142" font-size="18.5" text-anchor="end" fill="#444" transform="rotate(-45 1757.8 2142)">gRNASrf</text>
<text x="1796.7" y="2142" font-size="18.5" text-anchor="end" fill="#444" transform="rotate(-45 1796.7 2142)">gRNAStk39</text>
<text x="1835.6" y="2142" font-size="18.5" text-anchor="end" fill="#444" transform="rotate(-45 1835.6 2142)">gRNATbk1</text>
<text x="1874.5" y="2142" font-size="18.5" text-anchor="end" fill="#444" transform="rotate(-45 1874.5 2142)">gRNATrem2</text>
<text x="1913.4" y="2142" font-size="18.5" text-anchor="end" fill="#444" transform="rotate(-45 1913.4 2142)">Multiple</text>
<text x="1952.3" y="2142" font-size="18.5" text-anchor="end" fill="#444" transform="rotate(-45 1952.3 2142)">Neg</text>
</g>
<text x="1106.5" y="1967.2" font-size="22" text-anchor="middle" transform="rotate(-90 1106.5 1967.2)">Number of neurons (log10)</text>
</g>
</svg>
</body></html>
